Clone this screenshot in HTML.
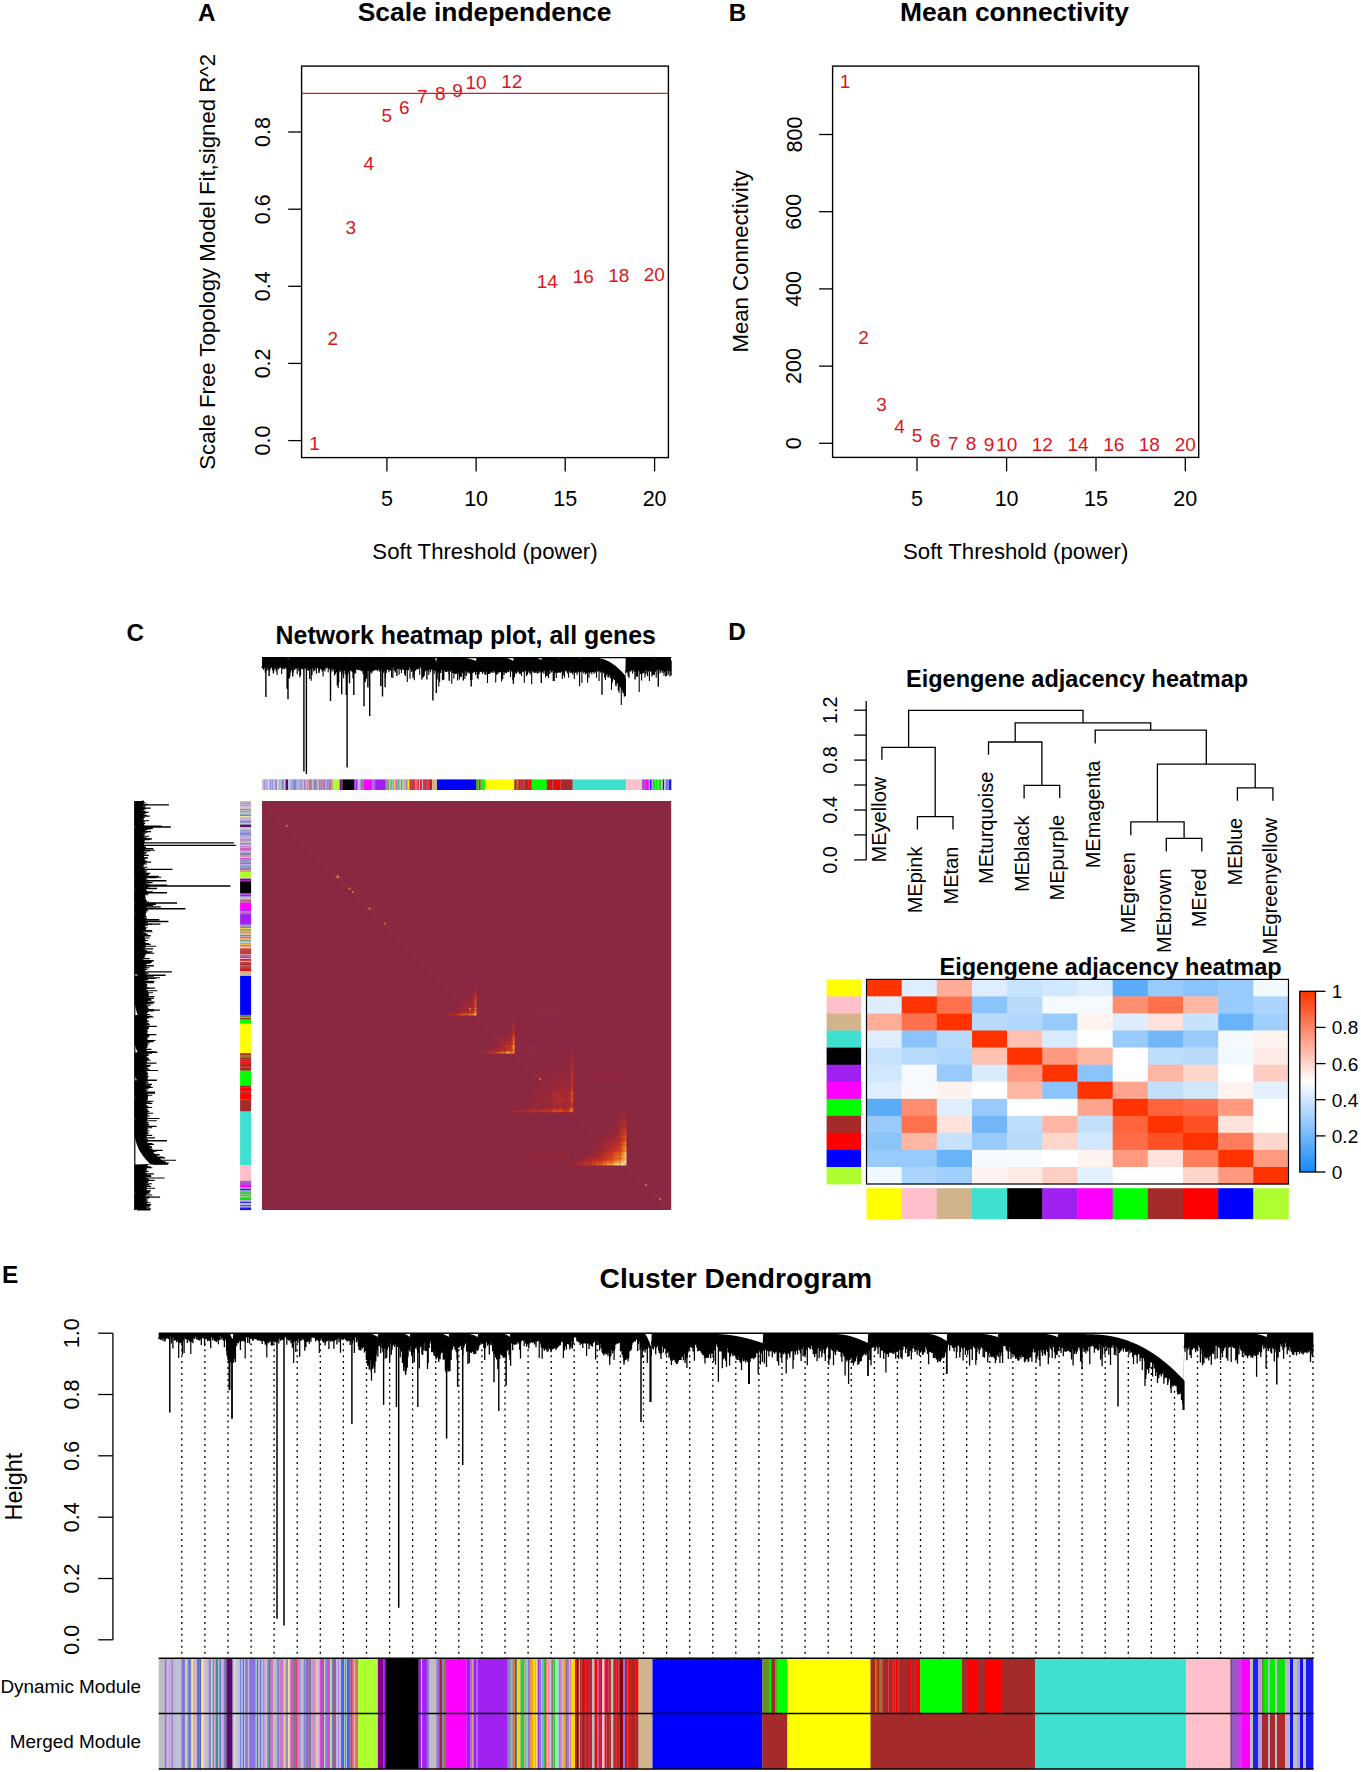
<!DOCTYPE html>
<html><head><meta charset="utf-8"><title>WGCNA figure</title>
<style>
html,body{margin:0;padding:0;background:#fff;}
svg{display:block;}
text{font-family:"Liberation Sans",sans-serif;}
</style></head><body>
<svg width="1361" height="1772" viewBox="0 0 1361 1772">
<rect width="1361" height="1772" fill="#fff"/>
<text x="198" y="20.8" font-size="24.3" font-weight="bold">A</text>
<text x="357.7" y="21.4" font-size="26.4" font-weight="bold">Scale independence</text>
<rect x="301.6" y="66.1" width="366.8" height="391.5" fill="none" stroke="#000" stroke-width="1.4"/>
<line x1="301.6" y1="93.4" x2="668.4" y2="93.4" stroke="#D81C22" stroke-width="1.4"/>
<line x1="288.2" y1="440.6" x2="301.6" y2="440.6" stroke="#000" stroke-width="1.3"/>
<text x="270" y="440.6" font-size="21.5" text-anchor="middle" transform="rotate(-90 270 440.6)">0.0</text>
<line x1="288.2" y1="363.4" x2="301.6" y2="363.4" stroke="#000" stroke-width="1.3"/>
<text x="270" y="363.4" font-size="21.5" text-anchor="middle" transform="rotate(-90 270 363.4)">0.2</text>
<line x1="288.2" y1="286.3" x2="301.6" y2="286.3" stroke="#000" stroke-width="1.3"/>
<text x="270" y="286.3" font-size="21.5" text-anchor="middle" transform="rotate(-90 270 286.3)">0.4</text>
<line x1="288.2" y1="209.2" x2="301.6" y2="209.2" stroke="#000" stroke-width="1.3"/>
<text x="270" y="209.2" font-size="21.5" text-anchor="middle" transform="rotate(-90 270 209.2)">0.6</text>
<line x1="288.2" y1="132" x2="301.6" y2="132" stroke="#000" stroke-width="1.3"/>
<text x="270" y="132" font-size="21.5" text-anchor="middle" transform="rotate(-90 270 132)">0.8</text>
<line x1="386.9" y1="457.6" x2="386.9" y2="471.4" stroke="#000" stroke-width="1.3"/>
<text x="386.9" y="505.5" font-size="21.5" text-anchor="middle">5</text>
<line x1="476.1" y1="457.6" x2="476.1" y2="471.4" stroke="#000" stroke-width="1.3"/>
<text x="476.1" y="505.5" font-size="21.5" text-anchor="middle">10</text>
<line x1="565.2" y1="457.6" x2="565.2" y2="471.4" stroke="#000" stroke-width="1.3"/>
<text x="565.2" y="505.5" font-size="21.5" text-anchor="middle">15</text>
<line x1="654.6" y1="457.6" x2="654.6" y2="471.4" stroke="#000" stroke-width="1.3"/>
<text x="654.6" y="505.5" font-size="21.5" text-anchor="middle">20</text>
<text x="485" y="558.6" font-size="22.2" text-anchor="middle">Soft Threshold (power)</text>
<text x="215.5" y="261.8" font-size="22.2" text-anchor="middle" transform="rotate(-90 215.5 261.8)">Scale Free Topology Model Fit,signed R^2</text>
<text x="309.3" y="450" font-size="19" fill="#DA1420">1</text>
<text x="327.5" y="344.6" font-size="19" fill="#DA1420">2</text>
<text x="345.6" y="233.5" font-size="19" fill="#DA1420">3</text>
<text x="363.6" y="170.2" font-size="19" fill="#DA1420">4</text>
<text x="381.5" y="122.2" font-size="19" fill="#DA1420">5</text>
<text x="399.1" y="113.9" font-size="19" fill="#DA1420">6</text>
<text x="416.9" y="103.2" font-size="19" fill="#DA1420">7</text>
<text x="434.9" y="100.1" font-size="19" fill="#DA1420">8</text>
<text x="452.2" y="97" font-size="19" fill="#DA1420">9</text>
<text x="465.4" y="89.1" font-size="19" fill="#DA1420">10</text>
<text x="501.3" y="88" font-size="19" fill="#DA1420">12</text>
<text x="536.7" y="287.5" font-size="19" fill="#DA1420">14</text>
<text x="572.8" y="283.3" font-size="19" fill="#DA1420">16</text>
<text x="608.3" y="282" font-size="19" fill="#DA1420">18</text>
<text x="643.7" y="281" font-size="19" fill="#DA1420">20</text>
<text x="728.8" y="20.8" font-size="24.3" font-weight="bold">B</text>
<text x="900.1" y="21.4" font-size="26.4" font-weight="bold">Mean connectivity</text>
<rect x="832.6" y="66.1" width="366.1" height="391.3" fill="none" stroke="#000" stroke-width="1.4"/>
<line x1="819.1" y1="443.3" x2="832.6" y2="443.3" stroke="#000" stroke-width="1.3"/>
<text x="801.5" y="443.3" font-size="21.5" text-anchor="middle" transform="rotate(-90 801.5 443.3)">0</text>
<line x1="819.1" y1="366.1" x2="832.6" y2="366.1" stroke="#000" stroke-width="1.3"/>
<text x="801.5" y="366.1" font-size="21.5" text-anchor="middle" transform="rotate(-90 801.5 366.1)">200</text>
<line x1="819.1" y1="288.9" x2="832.6" y2="288.9" stroke="#000" stroke-width="1.3"/>
<text x="801.5" y="288.9" font-size="21.5" text-anchor="middle" transform="rotate(-90 801.5 288.9)">400</text>
<line x1="819.1" y1="211.7" x2="832.6" y2="211.7" stroke="#000" stroke-width="1.3"/>
<text x="801.5" y="211.7" font-size="21.5" text-anchor="middle" transform="rotate(-90 801.5 211.7)">600</text>
<line x1="819.1" y1="134.5" x2="832.6" y2="134.5" stroke="#000" stroke-width="1.3"/>
<text x="801.5" y="134.5" font-size="21.5" text-anchor="middle" transform="rotate(-90 801.5 134.5)">800</text>
<line x1="917" y1="457.4" x2="917" y2="471.3" stroke="#000" stroke-width="1.3"/>
<text x="917" y="505.5" font-size="21.5" text-anchor="middle">5</text>
<line x1="1006.6" y1="457.4" x2="1006.6" y2="471.3" stroke="#000" stroke-width="1.3"/>
<text x="1006.6" y="505.5" font-size="21.5" text-anchor="middle">10</text>
<line x1="1096" y1="457.4" x2="1096" y2="471.3" stroke="#000" stroke-width="1.3"/>
<text x="1096" y="505.5" font-size="21.5" text-anchor="middle">15</text>
<line x1="1185.3" y1="457.4" x2="1185.3" y2="471.3" stroke="#000" stroke-width="1.3"/>
<text x="1185.3" y="505.5" font-size="21.5" text-anchor="middle">20</text>
<text x="1015.7" y="558.6" font-size="22.2" text-anchor="middle">Soft Threshold (power)</text>
<text x="748" y="261.3" font-size="22.2" text-anchor="middle" transform="rotate(-90 748 261.3)">Mean Connectivity</text>
<text x="839.7" y="88" font-size="19" fill="#DA1420">1</text>
<text x="858.2" y="343.6" font-size="19" fill="#DA1420">2</text>
<text x="876.3" y="410.6" font-size="19" fill="#DA1420">3</text>
<text x="894.3" y="433.4" font-size="19" fill="#DA1420">4</text>
<text x="911.7" y="442.1" font-size="19" fill="#DA1420">5</text>
<text x="929.7" y="446.8" font-size="19" fill="#DA1420">6</text>
<text x="947.7" y="449.6" font-size="19" fill="#DA1420">7</text>
<text x="965.7" y="450.2" font-size="19" fill="#DA1420">8</text>
<text x="983.7" y="450.6" font-size="19" fill="#DA1420">9</text>
<text x="996.1" y="450.6" font-size="19" fill="#DA1420">10</text>
<text x="1031.8" y="450.6" font-size="19" fill="#DA1420">12</text>
<text x="1067.4" y="450.6" font-size="19" fill="#DA1420">14</text>
<text x="1103.2" y="450.6" font-size="19" fill="#DA1420">16</text>
<text x="1138.7" y="450.6" font-size="19" fill="#DA1420">18</text>
<text x="1174.7" y="450.6" font-size="19" fill="#DA1420">20</text>
<text x="126.6" y="640.5" font-size="24.3" font-weight="bold">C</text>
<text x="275.6" y="643.7" font-size="24.9" font-weight="bold">Network heatmap plot, all genes</text>
<path d="M262.0 657.4 L262.4 657.4 L262.7 657.4 L263.1 657.4 L263.4 657.4 L263.8 657.4 L264.1 657.4 L264.5 657.4 L264.8 657.4 L265.2 657.4 L265.5 657.4 L265.9 657.4 L266.3 657.4 L266.6 657.4 L267.0 657.4 L267.3 657.4 L267.7 657.4 L268.0 657.4 L268.4 657.4 L268.7 657.4 L269.1 657.4 L269.4 657.4 L269.8 657.4 L270.2 657.4 L270.5 657.4 L270.9 657.4 L271.2 657.4 L271.6 657.4 L271.9 657.4 L272.3 657.4 L272.6 657.4 L273.0 657.4 L273.3 657.4 L273.7 657.4 L274.1 657.4 L274.4 657.4 L274.8 657.4 L275.1 657.4 L275.5 657.4 L275.8 657.4 L276.2 657.4 L276.5 657.4 L276.9 657.4 L277.2 657.4 L277.6 657.4 L277.9 657.4 L278.3 657.4 L278.7 657.4 L279.0 657.4 L279.4 657.4 L279.7 657.4 L280.1 657.4 L280.4 657.4 L280.8 657.4 L281.1 657.4 L281.5 657.4 L281.8 657.4 L282.2 657.4 L282.6 657.4 L282.9 657.4 L283.3 657.4 L283.6 657.4 L284.0 657.4 L284.3 657.4 L284.7 657.4 L285.0 657.4 L285.4 657.4 L285.7 657.4 L286.1 657.4 L286.5 657.4 L286.8 657.4 L287.2 657.4 L287.5 658.0 L287.9 658.8 L288.2 659.6 L288.6 657.4 L288.9 657.4 L289.3 657.4 L289.6 657.4 L290.0 657.4 L290.4 657.4 L290.7 657.4 L291.1 657.4 L291.4 657.4 L291.8 657.4 L292.1 657.4 L292.5 657.4 L292.8 657.4 L293.2 657.4 L293.5 657.4 L293.9 657.4 L294.3 657.4 L294.6 657.4 L295.0 657.4 L295.3 657.4 L295.7 657.4 L296.0 657.4 L296.4 657.4 L296.7 657.4 L297.1 657.4 L297.4 657.4 L297.8 657.4 L298.2 657.4 L298.5 657.4 L298.9 657.4 L299.2 657.4 L299.6 657.4 L299.9 657.4 L300.3 657.4 L300.6 657.4 L301.0 657.4 L301.3 657.4 L301.7 657.4 L302.1 657.4 L302.4 657.4 L302.8 657.4 L303.1 657.4 L303.5 657.4 L303.8 657.4 L304.2 657.4 L304.5 657.4 L304.9 657.4 L305.2 657.4 L305.6 657.4 L306.0 657.4 L306.3 657.4 L306.7 657.4 L307.0 657.4 L307.4 657.4 L307.7 657.4 L308.1 657.4 L308.4 657.4 L308.8 657.4 L309.1 657.4 L309.5 657.4 L309.8 657.4 L310.2 657.4 L310.6 657.4 L310.9 657.4 L311.3 657.4 L311.6 657.4 L312.0 657.4 L312.3 657.4 L312.7 657.4 L313.0 657.4 L313.4 657.4 L313.7 657.4 L314.1 657.4 L314.5 657.4 L314.8 657.4 L315.2 657.4 L315.5 657.4 L315.9 657.4 L316.2 657.4 L316.6 657.4 L316.9 657.4 L317.3 657.4 L317.6 657.4 L318.0 657.4 L318.4 657.4 L318.7 657.4 L319.1 657.4 L319.4 657.4 L319.8 657.4 L320.1 657.4 L320.5 657.4 L320.8 657.4 L321.2 657.4 L321.5 657.4 L321.9 657.4 L322.3 657.4 L322.6 657.4 L323.0 657.4 L323.3 657.4 L323.7 657.4 L324.0 657.4 L324.4 657.4 L324.7 657.4 L325.1 657.4 L325.4 657.4 L325.8 657.4 L326.2 657.4 L326.5 657.4 L326.9 657.4 L327.2 657.4 L327.6 657.4 L327.9 657.4 L328.3 657.4 L328.6 657.4 L329.0 657.4 L329.3 657.4 L329.7 657.4 L330.1 657.4 L330.4 657.4 L330.8 657.4 L331.1 657.4 L331.5 657.4 L331.8 657.4 L332.2 657.4 L332.5 657.4 L332.9 657.4 L333.2 657.4 L333.6 657.4 L334.0 657.4 L334.3 657.4 L334.7 657.4 L335.0 657.4 L335.4 657.4 L335.7 657.4 L336.1 657.4 L336.4 657.4 L336.8 657.4 L337.1 657.4 L337.5 657.4 L337.8 657.4 L338.2 657.6 L338.6 657.8 L338.9 658.0 L339.3 658.2 L339.6 658.5 L340.0 657.4 L340.3 657.4 L340.7 657.4 L341.0 657.4 L341.4 657.4 L341.7 657.4 L342.1 657.4 L342.5 657.4 L342.8 657.4 L343.2 657.4 L343.5 657.4 L343.9 657.4 L344.2 657.4 L344.6 657.4 L344.9 657.4 L345.3 657.4 L345.6 657.4 L346.0 657.4 L346.4 657.4 L346.7 657.4 L347.1 657.4 L347.4 657.4 L347.8 657.4 L348.1 657.4 L348.5 657.4 L348.8 657.4 L349.2 657.4 L349.5 657.5 L349.9 657.6 L350.3 657.9 L350.6 658.2 L351.0 658.5 L351.3 657.4 L351.7 657.4 L352.0 657.4 L352.4 657.4 L352.7 657.4 L353.1 657.4 L353.4 657.4 L353.8 657.4 L354.2 657.4 L354.5 657.4 L354.9 657.4 L355.2 657.4 L355.6 657.4 L355.9 657.4 L356.3 657.4 L356.6 657.4 L357.0 657.4 L357.3 657.4 L357.7 657.4 L358.1 657.4 L358.4 657.4 L358.8 657.4 L359.1 657.4 L359.5 657.4 L359.8 657.4 L360.2 657.4 L360.5 657.4 L360.9 657.4 L361.2 657.4 L361.6 657.4 L362.0 657.4 L362.3 657.4 L362.7 657.4 L363.0 657.4 L363.4 657.6 L363.7 657.8 L364.1 658.0 L364.4 658.2 L364.8 658.5 L365.1 657.4 L365.5 657.4 L365.9 657.4 L366.2 657.4 L366.6 657.4 L366.9 657.4 L367.3 657.4 L367.6 657.4 L368.0 657.4 L368.3 657.4 L368.7 657.4 L369.0 657.4 L369.4 657.4 L369.7 657.4 L370.1 657.4 L370.5 657.4 L370.8 657.4 L371.2 657.4 L371.5 657.4 L371.9 657.4 L372.2 657.4 L372.6 657.4 L372.9 657.5 L373.3 657.6 L373.6 657.8 L374.0 657.9 L374.4 658.1 L374.7 658.3 L375.1 658.5 L375.4 657.4 L375.8 657.4 L376.1 657.4 L376.5 657.4 L376.8 657.4 L377.2 657.4 L377.5 657.4 L377.9 657.4 L378.3 657.4 L378.6 657.4 L379.0 657.4 L379.3 657.4 L379.7 657.4 L380.0 657.4 L380.4 657.4 L380.7 657.4 L381.1 657.4 L381.4 657.4 L381.8 657.4 L382.2 657.4 L382.5 657.4 L382.9 657.4 L383.2 657.4 L383.6 657.4 L383.9 657.4 L384.3 657.4 L384.6 657.4 L385.0 657.5 L385.3 657.6 L385.7 657.9 L386.1 658.2 L386.4 658.5 L386.8 657.4 L387.1 657.4 L387.5 657.4 L387.8 657.4 L388.2 657.4 L388.5 657.4 L388.9 657.4 L389.2 657.4 L389.6 657.4 L390.0 657.4 L390.3 657.4 L390.7 657.4 L391.0 657.4 L391.4 657.4 L391.7 657.4 L392.1 657.4 L392.4 657.4 L392.8 657.4 L393.1 657.4 L393.5 657.4 L393.9 657.4 L394.2 657.4 L394.6 657.4 L394.9 657.4 L395.3 657.4 L395.6 657.4 L396.0 657.4 L396.3 657.4 L396.7 657.4 L397.0 657.4 L397.4 657.4 L397.8 657.4 L398.1 657.4 L398.5 657.4 L398.8 657.4 L399.2 657.4 L399.5 657.4 L399.9 657.4 L400.2 657.4 L400.6 657.4 L400.9 657.4 L401.3 657.4 L401.6 657.4 L402.0 657.4 L402.4 657.4 L402.7 657.4 L403.1 657.4 L403.4 657.4 L403.8 657.4 L404.1 657.4 L404.5 657.4 L404.8 657.4 L405.2 657.4 L405.5 657.4 L405.9 657.4 L406.3 657.4 L406.6 657.4 L407.0 657.4 L407.3 657.4 L407.7 657.4 L408.0 657.4 L408.4 657.4 L408.7 657.4 L409.1 657.4 L409.4 657.4 L409.8 657.4 L410.2 657.4 L410.5 657.4 L410.9 657.4 L411.2 657.4 L411.6 657.4 L411.9 657.4 L412.3 657.4 L412.6 657.4 L413.0 657.4 L413.3 657.4 L413.7 657.4 L414.1 657.4 L414.4 657.4 L414.8 657.4 L415.1 657.4 L415.5 657.4 L415.8 657.4 L416.2 657.4 L416.5 657.4 L416.9 657.4 L417.2 657.4 L417.6 657.4 L418.0 657.4 L418.3 657.4 L418.7 657.4 L419.0 657.4 L419.4 657.4 L419.7 657.4 L420.1 657.4 L420.4 657.4 L420.8 657.4 L421.1 657.4 L421.5 657.4 L421.9 657.4 L422.2 657.4 L422.6 657.4 L422.9 657.4 L423.3 657.4 L423.6 657.4 L424.0 657.4 L424.3 657.4 L424.7 657.4 L425.0 657.4 L425.4 657.4 L425.8 657.4 L426.1 657.4 L426.5 657.4 L426.8 657.4 L427.2 657.4 L427.5 657.4 L427.9 657.4 L428.2 657.4 L428.6 657.4 L428.9 657.4 L429.3 657.4 L429.6 657.4 L430.0 657.4 L430.4 657.4 L430.7 657.4 L431.1 657.4 L431.4 657.4 L431.8 657.4 L432.1 657.4 L432.5 657.4 L432.8 657.4 L433.2 657.4 L433.5 657.4 L433.9 657.4 L434.3 657.4 L434.6 657.6 L435.0 658.3 L435.3 659.0 L435.7 659.9 L436.0 661.0 L436.4 662.1 L436.7 657.4 L437.1 657.4 L437.4 657.4 L437.8 657.4 L438.2 657.4 L438.5 657.4 L438.9 657.4 L439.2 657.4 L439.6 657.4 L439.9 657.4 L440.3 657.4 L440.6 657.4 L441.0 657.4 L441.3 657.4 L441.7 657.4 L442.1 657.4 L442.4 657.4 L442.8 657.4 L443.1 657.4 L443.5 657.4 L443.8 657.4 L444.2 657.4 L444.5 657.4 L444.9 657.4 L445.2 657.4 L445.6 657.4 L446.0 657.4 L446.3 657.4 L446.7 657.4 L447.0 657.4 L447.4 657.4 L447.7 657.4 L448.1 657.4 L448.4 657.4 L448.8 657.4 L449.1 657.4 L449.5 657.4 L449.9 657.4 L450.2 657.4 L450.6 657.4 L450.9 657.4 L451.3 657.4 L451.6 657.4 L452.0 657.4 L452.3 657.4 L452.7 657.4 L453.0 657.4 L453.4 657.4 L453.8 657.4 L454.1 657.4 L454.5 657.4 L454.8 657.4 L455.2 657.4 L455.5 657.4 L455.9 657.4 L456.2 657.4 L456.6 657.4 L456.9 657.4 L457.3 657.4 L457.7 657.4 L458.0 657.4 L458.4 657.4 L458.7 657.4 L459.1 657.4 L459.4 657.4 L459.8 657.4 L460.1 657.4 L460.5 657.4 L460.8 657.4 L461.2 657.4 L461.5 657.4 L461.9 657.5 L462.3 657.5 L462.6 657.5 L463.0 657.5 L463.3 657.6 L463.7 657.6 L464.0 657.7 L464.4 657.7 L464.7 657.8 L465.1 657.8 L465.4 657.9 L465.8 658.0 L466.2 658.0 L466.5 658.1 L466.9 658.2 L467.2 658.2 L467.6 658.3 L467.9 658.4 L468.3 658.5 L468.6 658.6 L469.0 658.7 L469.3 658.7 L469.7 658.8 L470.1 658.9 L470.4 659.0 L470.8 659.1 L471.1 659.2 L471.5 659.4 L471.8 659.5 L472.2 659.6 L472.5 659.7 L472.9 659.8 L473.2 659.9 L473.6 660.0 L474.0 660.2 L474.3 660.3 L474.7 660.4 L475.0 660.6 L475.4 660.7 L475.7 660.8 L476.1 661.0 L476.4 657.4 L476.8 657.4 L477.1 657.4 L477.5 657.4 L477.9 657.4 L478.2 657.4 L478.6 657.4 L478.9 657.4 L479.3 657.4 L479.6 657.4 L480.0 657.4 L480.3 657.4 L480.7 657.4 L481.0 657.4 L481.4 657.4 L481.8 657.4 L482.1 657.4 L482.5 657.4 L482.8 657.4 L483.2 657.4 L483.5 657.4 L483.9 657.4 L484.2 657.4 L484.6 657.4 L484.9 657.4 L485.3 657.4 L485.7 657.4 L486.0 657.4 L486.4 657.4 L486.7 657.4 L487.1 657.4 L487.4 657.4 L487.8 657.4 L488.1 657.4 L488.5 657.4 L488.8 657.4 L489.2 657.4 L489.5 657.4 L489.9 657.4 L490.3 657.4 L490.6 657.4 L491.0 657.4 L491.3 657.4 L491.7 657.4 L492.0 657.4 L492.4 657.4 L492.7 657.4 L493.1 657.4 L493.4 657.4 L493.8 657.4 L494.2 657.4 L494.5 657.4 L494.9 657.4 L495.2 657.4 L495.6 657.4 L495.9 657.4 L496.3 657.4 L496.6 657.4 L497.0 657.4 L497.3 657.4 L497.7 657.4 L498.1 657.4 L498.4 657.4 L498.8 657.4 L499.1 657.4 L499.5 657.4 L499.8 657.4 L500.2 657.4 L500.5 657.4 L500.9 657.4 L501.2 657.4 L501.6 657.4 L502.0 657.4 L502.3 657.4 L502.7 657.4 L503.0 657.4 L503.4 657.4 L503.7 657.5 L504.1 657.5 L504.4 657.6 L504.8 657.6 L505.1 657.7 L505.5 657.8 L505.9 657.8 L506.2 657.9 L506.6 658.0 L506.9 658.1 L507.3 658.2 L507.6 658.3 L508.0 658.5 L508.3 658.6 L508.7 658.7 L509.0 658.9 L509.4 659.0 L509.8 659.2 L510.1 659.3 L510.5 659.5 L510.8 659.6 L511.2 659.8 L511.5 660.0 L511.9 660.2 L512.2 660.4 L512.6 660.5 L512.9 660.7 L513.3 660.9 L513.7 657.4 L514.0 657.4 L514.4 657.4 L514.7 657.4 L515.1 657.4 L515.4 657.4 L515.8 657.4 L516.1 657.4 L516.5 657.4 L516.8 657.4 L517.2 657.4 L517.6 657.4 L517.9 657.4 L518.3 657.4 L518.6 657.4 L519.0 657.4 L519.3 657.4 L519.7 657.4 L520.0 657.4 L520.4 657.4 L520.7 657.4 L521.1 657.4 L521.4 657.4 L521.8 657.4 L522.2 657.4 L522.5 657.4 L522.9 657.4 L523.2 657.4 L523.6 657.4 L523.9 657.4 L524.3 657.4 L524.6 657.4 L525.0 657.4 L525.3 657.4 L525.7 657.4 L526.1 657.4 L526.4 657.4 L526.8 657.4 L527.1 657.4 L527.5 657.4 L527.8 657.4 L528.2 657.4 L528.5 657.4 L528.9 657.4 L529.2 657.4 L529.6 657.4 L530.0 657.4 L530.3 657.4 L530.7 657.4 L531.0 657.4 L531.4 657.4 L531.7 657.4 L532.1 657.4 L532.4 657.4 L532.8 657.4 L533.1 657.4 L533.5 657.4 L533.9 657.4 L534.2 657.4 L534.6 657.4 L534.9 657.4 L535.3 657.4 L535.6 657.4 L536.0 657.5 L536.3 657.5 L536.7 657.6 L537.0 657.8 L537.4 657.9 L537.8 658.0 L538.1 658.2 L538.5 658.4 L538.8 658.5 L539.2 658.7 L539.5 658.9 L539.9 659.2 L540.2 659.4 L540.6 659.6 L540.9 659.9 L541.3 660.1 L541.7 657.4 L542.0 657.4 L542.4 657.4 L542.7 657.4 L543.1 657.4 L543.4 657.4 L543.8 657.4 L544.1 657.4 L544.5 657.4 L544.8 657.4 L545.2 657.4 L545.6 657.4 L545.9 657.4 L546.3 657.4 L546.6 657.4 L547.0 657.4 L547.3 657.4 L547.7 657.4 L548.0 657.4 L548.4 657.4 L548.7 657.4 L549.1 657.4 L549.5 657.4 L549.8 657.4 L550.2 657.4 L550.5 657.4 L550.9 657.4 L551.2 657.4 L551.6 657.4 L551.9 657.4 L552.3 657.4 L552.6 657.4 L553.0 657.4 L553.3 657.4 L553.7 657.4 L554.1 657.4 L554.4 657.4 L554.8 657.4 L555.1 657.4 L555.5 657.5 L555.8 657.5 L556.2 657.6 L556.5 657.7 L556.9 657.7 L557.2 657.8 L557.6 657.9 L558.0 658.1 L558.3 658.2 L558.7 658.3 L559.0 658.4 L559.4 658.6 L559.7 657.4 L560.1 657.4 L560.4 657.4 L560.8 657.4 L561.1 657.4 L561.5 657.4 L561.9 657.4 L562.2 657.4 L562.6 657.4 L562.9 657.4 L563.3 657.4 L563.6 657.4 L564.0 657.4 L564.3 657.4 L564.7 657.4 L565.0 657.4 L565.4 657.4 L565.8 657.4 L566.1 657.4 L566.5 657.4 L566.8 657.4 L567.2 657.4 L567.5 657.4 L567.9 657.4 L568.2 657.4 L568.6 657.4 L568.9 657.4 L569.3 657.4 L569.7 657.4 L570.0 657.4 L570.4 657.4 L570.7 657.4 L571.1 657.4 L571.4 657.4 L571.8 657.4 L572.1 657.4 L572.5 657.4 L572.8 657.4 L573.2 657.4 L573.6 657.4 L573.9 657.4 L574.3 657.4 L574.6 657.4 L575.0 657.4 L575.3 657.4 L575.7 657.4 L576.0 657.4 L576.4 657.4 L576.7 657.4 L577.1 657.4 L577.5 657.5 L577.8 657.5 L578.2 657.6 L578.5 657.7 L578.9 657.8 L579.2 658.0 L579.6 658.1 L579.9 658.2 L580.3 658.4 L580.6 658.6 L581.0 657.4 L581.3 657.4 L581.7 657.4 L582.1 657.4 L582.4 657.4 L582.8 657.4 L583.1 657.4 L583.5 657.4 L583.8 657.4 L584.2 657.4 L584.5 657.4 L584.9 657.4 L585.2 657.4 L585.6 657.4 L586.0 657.4 L586.3 657.4 L586.7 657.4 L587.0 657.4 L587.4 657.4 L587.7 657.4 L588.1 657.4 L588.4 657.4 L588.8 657.4 L589.1 657.4 L589.5 657.4 L589.9 657.4 L590.2 657.4 L590.6 657.4 L590.9 657.4 L591.3 657.4 L591.6 657.4 L592.0 657.4 L592.3 657.4 L592.7 657.4 L593.0 657.4 L593.4 657.5 L593.8 657.5 L594.1 657.5 L594.5 657.5 L594.8 657.5 L595.2 657.6 L595.5 657.6 L595.9 657.6 L596.2 657.7 L596.6 657.7 L596.9 657.8 L597.3 657.8 L597.7 657.9 L598.0 657.9 L598.4 658.0 L598.7 658.0 L599.1 658.1 L599.4 658.2 L599.8 658.2 L600.1 658.3 L600.5 658.4 L600.8 658.5 L601.2 658.6 L601.6 658.7 L601.9 658.8 L602.3 658.9 L602.6 659.0 L603.0 659.1 L603.3 659.2 L603.7 659.3 L604.0 659.4 L604.4 659.6 L604.7 659.7 L605.1 659.8 L605.5 660.0 L605.8 660.1 L606.2 660.3 L606.5 660.4 L606.9 660.6 L607.2 660.7 L607.6 660.9 L607.9 661.1 L608.3 661.3 L608.6 661.4 L609.0 661.6 L609.4 661.8 L609.7 662.0 L610.1 662.2 L610.4 662.4 L610.8 662.6 L611.1 662.8 L611.5 663.1 L611.8 663.3 L612.2 663.5 L612.5 663.7 L612.9 664.0 L613.2 664.2 L613.6 664.5 L614.0 664.7 L614.3 665.0 L614.7 665.3 L615.0 665.5 L615.4 665.8 L615.7 666.1 L616.1 666.4 L616.4 666.7 L616.8 667.0 L617.1 667.3 L617.5 667.6 L617.9 667.9 L618.2 668.2 L618.6 668.5 L618.9 668.8 L619.3 669.2 L619.6 669.5 L620.0 669.9 L620.3 670.2 L620.7 670.6 L621.0 670.9 L621.4 671.3 L621.8 671.7 L622.1 672.0 L622.5 672.4 L622.8 672.8 L623.2 673.2 L623.5 673.6 L623.9 674.0 L624.2 674.4 L624.6 674.8 L624.9 675.2 L625.3 675.7 L625.7 657.4 L626.0 657.4 L626.4 657.4 L626.7 657.4 L627.1 657.4 L627.4 657.4 L627.8 657.4 L628.1 657.4 L628.5 657.4 L628.8 657.4 L629.2 657.4 L629.6 657.4 L629.9 657.4 L630.3 657.4 L630.6 657.4 L631.0 657.4 L631.3 657.4 L631.7 657.4 L632.0 657.4 L632.4 657.4 L632.7 657.4 L633.1 657.4 L633.5 657.4 L633.8 657.4 L634.2 657.4 L634.5 657.4 L634.9 657.4 L635.2 657.4 L635.6 657.4 L635.9 657.4 L636.3 657.4 L636.6 657.4 L637.0 657.4 L637.4 657.4 L637.7 657.4 L638.1 657.4 L638.4 657.4 L638.8 657.4 L639.1 657.4 L639.5 657.4 L639.8 657.4 L640.2 657.4 L640.5 657.4 L640.9 657.4 L641.2 657.4 L641.6 657.4 L642.0 657.4 L642.3 657.4 L642.7 657.4 L643.0 657.4 L643.4 657.4 L643.7 657.4 L644.1 657.4 L644.4 657.4 L644.8 657.4 L645.1 657.4 L645.5 657.4 L645.9 657.4 L646.2 657.4 L646.6 657.4 L646.9 657.4 L647.3 657.4 L647.6 657.4 L648.0 657.4 L648.3 657.4 L648.7 657.4 L649.0 657.4 L649.4 657.4 L649.8 657.4 L650.1 657.4 L650.5 657.4 L650.8 657.4 L651.2 657.4 L651.5 657.4 L651.9 657.5 L652.2 657.6 L652.6 657.7 L652.9 657.8 L653.3 657.9 L653.7 658.1 L654.0 658.2 L654.4 658.4 L654.7 658.5 L655.1 657.4 L655.4 657.4 L655.8 657.4 L656.1 657.4 L656.5 657.4 L656.8 657.4 L657.2 657.4 L657.6 657.4 L657.9 657.4 L658.3 657.4 L658.6 657.4 L659.0 657.4 L659.3 657.4 L659.7 657.4 L660.0 657.4 L660.4 657.4 L660.7 657.4 L661.1 657.4 L661.5 657.4 L661.8 657.4 L662.2 657.4 L662.5 657.4 L662.9 657.4 L663.2 657.4 L663.6 657.4 L663.9 657.4 L664.3 657.4 L664.6 657.4 L665.0 657.4 L665.4 657.4 L665.7 657.4 L666.1 657.4 L666.4 657.4 L666.8 657.4 L667.1 657.4 L667.5 657.4 L667.8 657.4 L668.2 657.4 L668.5 657.4 L668.9 657.4 L669.3 657.4 L669.6 657.4 L670.0 657.4 L670.3 657.4 L670.7 657.4 L671.0 657.4 L671.0 671.0 L670.7 671.1 L670.3 671.4 L670.0 671.1 L669.6 671.1 L669.3 671.2 L668.9 671.2 L668.5 671.5 L668.2 670.6 L667.8 670.4 L667.5 670.7 L667.1 670.3 L666.8 669.7 L666.4 669.6 L666.1 671.0 L665.7 671.0 L665.4 671.5 L665.0 671.5 L664.6 672.0 L664.3 672.5 L663.9 672.9 L663.6 671.5 L663.2 671.1 L662.9 670.2 L662.5 670.3 L662.2 670.6 L661.8 670.7 L661.5 669.8 L661.1 671.5 L660.7 670.7 L660.4 670.4 L660.0 669.5 L659.7 669.5 L659.3 669.2 L659.0 670.8 L658.6 670.7 L658.3 671.8 L657.9 670.2 L657.6 670.6 L657.2 670.3 L656.8 669.3 L656.5 670.0 L656.1 670.8 L655.8 670.7 L655.4 671.2 L655.1 670.8 L654.7 671.3 L654.4 671.3 L654.0 670.3 L653.7 670.8 L653.3 670.0 L652.9 670.7 L652.6 670.9 L652.2 671.0 L651.9 672.3 L651.5 671.8 L651.2 670.7 L650.8 670.5 L650.5 670.8 L650.1 671.5 L649.8 671.1 L649.4 670.2 L649.0 670.1 L648.7 670.4 L648.3 670.4 L648.0 669.2 L647.6 669.4 L647.3 670.0 L646.9 669.9 L646.6 670.3 L646.2 670.7 L645.9 670.6 L645.5 670.8 L645.1 670.6 L644.8 670.8 L644.4 671.4 L644.1 670.8 L643.7 670.0 L643.4 670.9 L643.0 670.8 L642.7 670.4 L642.3 670.4 L642.0 670.7 L641.6 670.7 L641.2 670.5 L640.9 670.2 L640.5 669.9 L640.2 670.6 L639.8 671.5 L639.5 671.3 L639.1 671.7 L638.8 670.9 L638.4 671.0 L638.1 671.1 L637.7 670.1 L637.4 670.5 L637.0 670.9 L636.6 670.6 L636.3 670.9 L635.9 671.0 L635.6 670.8 L635.2 670.5 L634.9 671.1 L634.5 670.2 L634.2 670.0 L633.8 669.7 L633.5 670.0 L633.1 671.3 L632.7 671.2 L632.4 670.6 L632.0 670.1 L631.7 670.2 L631.3 669.4 L631.0 670.1 L630.6 670.2 L630.3 670.7 L629.9 670.7 L629.6 671.4 L629.2 671.5 L628.8 671.5 L628.5 671.3 L628.1 671.0 L627.8 671.6 L627.4 671.2 L627.1 671.6 L626.7 671.2 L626.4 671.1 L626.0 671.7 L625.7 672.3 L625.3 696.3 L624.9 695.5 L624.6 694.8 L624.2 694.1 L623.9 693.4 L623.5 692.8 L623.2 692.1 L622.8 691.5 L622.5 690.8 L622.1 690.2 L621.8 689.6 L621.4 689.0 L621.0 688.4 L620.7 687.9 L620.3 687.3 L620.0 686.8 L619.6 686.2 L619.3 685.7 L618.9 685.2 L618.6 684.7 L618.2 684.2 L617.9 683.8 L617.5 683.3 L617.1 682.8 L616.8 682.4 L616.4 682.0 L616.1 681.5 L615.7 681.1 L615.4 680.7 L615.0 680.3 L614.7 680.0 L614.3 679.6 L614.0 679.2 L613.6 678.9 L613.2 678.5 L612.9 678.2 L612.5 677.8 L612.2 677.5 L611.8 677.2 L611.5 676.9 L611.1 676.6 L610.8 676.3 L610.4 676.0 L610.1 675.7 L609.7 675.5 L609.4 675.2 L609.0 674.9 L608.6 674.7 L608.3 674.5 L607.9 674.2 L607.6 674.0 L607.2 673.8 L606.9 673.6 L606.5 673.4 L606.2 673.2 L605.8 673.0 L605.5 672.8 L605.1 672.6 L604.7 672.4 L604.4 672.3 L604.0 672.1 L603.7 671.9 L603.3 671.8 L603.0 671.6 L602.6 671.7 L602.3 671.5 L601.9 671.2 L601.6 671.1 L601.2 672.3 L600.8 671.5 L600.5 670.8 L600.1 670.7 L599.8 670.8 L599.4 671.5 L599.1 671.6 L598.7 671.8 L598.4 670.9 L598.0 670.7 L597.7 671.3 L597.3 670.6 L596.9 671.8 L596.6 671.7 L596.2 671.3 L595.9 670.9 L595.5 670.5 L595.2 670.9 L594.8 670.9 L594.5 671.6 L594.1 672.4 L593.8 672.4 L593.4 671.4 L593.0 670.7 L592.7 669.5 L592.3 670.4 L592.0 671.0 L591.6 671.9 L591.3 672.0 L590.9 672.0 L590.6 671.7 L590.2 672.1 L589.9 671.8 L589.5 672.0 L589.1 671.6 L588.8 672.3 L588.4 671.2 L588.1 671.4 L587.7 672.6 L587.4 672.6 L587.0 671.5 L586.7 671.7 L586.3 672.0 L586.0 672.5 L585.6 672.9 L585.2 672.8 L584.9 672.5 L584.5 671.9 L584.2 672.0 L583.8 671.9 L583.5 671.5 L583.1 670.9 L582.8 670.9 L582.4 671.2 L582.1 671.2 L581.7 671.4 L581.3 671.3 L581.0 671.0 L580.6 670.7 L580.3 670.1 L579.9 671.4 L579.6 671.5 L579.2 670.4 L578.9 670.8 L578.5 671.1 L578.2 670.5 L577.8 671.7 L577.5 672.7 L577.1 672.5 L576.7 671.8 L576.4 671.7 L576.0 672.1 L575.7 672.8 L575.3 672.4 L575.0 673.5 L574.6 672.7 L574.3 672.2 L573.9 672.2 L573.6 671.7 L573.2 671.7 L572.8 671.6 L572.5 672.0 L572.1 672.7 L571.8 671.6 L571.4 672.5 L571.1 671.2 L570.7 671.2 L570.4 671.8 L570.0 672.2 L569.7 671.5 L569.3 670.9 L568.9 671.6 L568.6 672.4 L568.2 672.6 L567.9 671.7 L567.5 671.5 L567.2 672.1 L566.8 672.1 L566.5 671.5 L566.1 670.5 L565.8 670.7 L565.4 670.9 L565.0 672.0 L564.7 672.1 L564.3 671.5 L564.0 671.6 L563.6 670.9 L563.3 671.6 L562.9 672.1 L562.6 671.4 L562.2 671.3 L561.9 671.1 L561.5 670.7 L561.1 671.8 L560.8 671.7 L560.4 672.6 L560.1 672.7 L559.7 671.9 L559.4 672.1 L559.0 672.1 L558.7 672.9 L558.3 672.3 L558.0 671.6 L557.6 671.3 L557.2 672.4 L556.9 674.0 L556.5 672.6 L556.2 673.4 L555.8 672.6 L555.5 671.4 L555.1 671.7 L554.8 670.8 L554.4 671.8 L554.1 670.7 L553.7 671.2 L553.3 671.7 L553.0 671.5 L552.6 671.5 L552.3 671.0 L551.9 670.9 L551.6 671.0 L551.2 671.6 L550.9 670.8 L550.5 670.5 L550.2 670.2 L549.8 670.8 L549.5 671.0 L549.1 671.7 L548.7 671.9 L548.4 672.3 L548.0 672.0 L547.7 672.0 L547.3 672.1 L547.0 671.5 L546.6 671.1 L546.3 670.7 L545.9 671.7 L545.6 670.1 L545.2 669.9 L544.8 671.0 L544.5 671.0 L544.1 671.4 L543.8 671.2 L543.4 671.5 L543.1 670.8 L542.7 670.5 L542.4 670.9 L542.0 670.4 L541.7 670.3 L541.3 671.0 L540.9 671.9 L540.6 672.6 L540.2 671.6 L539.9 671.2 L539.5 671.1 L539.2 670.8 L538.8 671.2 L538.5 671.6 L538.1 671.3 L537.8 671.5 L537.4 672.1 L537.0 672.0 L536.7 671.0 L536.3 670.7 L536.0 671.6 L535.6 671.7 L535.3 672.0 L534.9 672.7 L534.6 672.4 L534.2 673.1 L533.9 671.7 L533.5 670.8 L533.1 671.2 L532.8 671.5 L532.4 671.0 L532.1 670.5 L531.7 671.5 L531.4 671.4 L531.0 671.4 L530.7 670.6 L530.3 670.5 L530.0 670.9 L529.6 670.8 L529.2 670.9 L528.9 672.6 L528.5 671.7 L528.2 670.6 L527.8 671.1 L527.5 672.0 L527.1 671.4 L526.8 671.7 L526.4 670.3 L526.1 670.7 L525.7 670.5 L525.3 670.9 L525.0 671.4 L524.6 671.8 L524.3 673.5 L523.9 672.5 L523.6 672.3 L523.2 671.8 L522.9 671.9 L522.5 671.2 L522.2 670.8 L521.8 671.8 L521.4 670.9 L521.1 672.0 L520.7 671.9 L520.4 672.6 L520.0 672.8 L519.7 673.3 L519.3 672.7 L519.0 672.3 L518.6 670.8 L518.3 671.1 L517.9 671.1 L517.6 671.5 L517.2 670.8 L516.8 670.6 L516.5 670.1 L516.1 671.0 L515.8 671.2 L515.4 671.6 L515.1 671.6 L514.7 671.4 L514.4 671.2 L514.0 671.6 L513.7 671.3 L513.3 671.9 L512.9 671.7 L512.6 671.4 L512.2 671.9 L511.9 671.1 L511.5 670.7 L511.2 671.3 L510.8 671.3 L510.5 670.8 L510.1 671.5 L509.8 670.1 L509.4 670.2 L509.0 670.3 L508.7 670.6 L508.3 671.2 L508.0 671.5 L507.6 671.4 L507.3 671.6 L506.9 671.8 L506.6 671.8 L506.2 672.5 L505.9 672.4 L505.5 672.5 L505.1 673.2 L504.8 672.3 L504.4 671.7 L504.1 672.5 L503.7 672.1 L503.4 671.6 L503.0 671.8 L502.7 671.3 L502.3 671.2 L502.0 671.5 L501.6 671.8 L501.2 672.0 L500.9 672.3 L500.5 671.8 L500.2 672.0 L499.8 673.0 L499.5 672.4 L499.1 670.5 L498.8 672.2 L498.4 671.9 L498.1 672.5 L497.7 672.3 L497.3 671.4 L497.0 671.2 L496.6 671.4 L496.3 671.9 L495.9 672.1 L495.6 671.3 L495.2 672.1 L494.9 671.1 L494.5 671.5 L494.2 672.4 L493.8 671.1 L493.4 671.0 L493.1 671.6 L492.7 671.7 L492.4 671.8 L492.0 671.7 L491.7 672.0 L491.3 671.2 L491.0 671.4 L490.6 670.9 L490.3 670.4 L489.9 671.2 L489.5 671.6 L489.2 671.4 L488.8 671.1 L488.5 671.5 L488.1 671.2 L487.8 672.1 L487.4 671.5 L487.1 671.8 L486.7 671.5 L486.4 671.8 L486.0 671.4 L485.7 672.5 L485.3 672.4 L484.9 672.8 L484.6 671.9 L484.2 671.5 L483.9 670.9 L483.5 671.5 L483.2 671.6 L482.8 672.8 L482.5 671.9 L482.1 672.0 L481.8 672.6 L481.4 672.1 L481.0 671.6 L480.7 671.8 L480.3 671.7 L480.0 671.0 L479.6 670.5 L479.3 671.1 L478.9 671.2 L478.6 671.0 L478.2 671.7 L477.9 671.9 L477.5 671.6 L477.1 671.6 L476.8 672.0 L476.4 672.5 L476.1 671.9 L475.7 672.9 L475.4 672.0 L475.0 671.5 L474.7 671.7 L474.3 671.2 L474.0 671.5 L473.6 670.9 L473.2 672.1 L472.9 671.2 L472.5 670.9 L472.2 671.2 L471.8 672.1 L471.5 672.3 L471.1 671.8 L470.8 671.7 L470.4 671.9 L470.1 672.0 L469.7 671.9 L469.3 671.9 L469.0 671.9 L468.6 672.1 L468.3 672.4 L467.9 672.4 L467.6 672.0 L467.2 671.5 L466.9 671.6 L466.5 671.4 L466.2 671.1 L465.8 671.1 L465.4 671.5 L465.1 671.9 L464.7 672.3 L464.4 671.4 L464.0 671.6 L463.7 671.2 L463.3 670.4 L463.0 671.4 L462.6 672.3 L462.3 672.4 L461.9 671.2 L461.5 671.8 L461.2 670.4 L460.8 671.1 L460.5 670.5 L460.1 671.3 L459.8 669.9 L459.4 670.8 L459.1 672.6 L458.7 672.9 L458.4 672.9 L458.0 672.2 L457.7 672.6 L457.3 672.5 L456.9 673.1 L456.6 673.6 L456.2 673.1 L455.9 672.8 L455.5 672.8 L455.2 672.2 L454.8 672.9 L454.5 672.8 L454.1 671.9 L453.8 670.2 L453.4 670.6 L453.0 670.3 L452.7 670.2 L452.3 670.0 L452.0 670.4 L451.6 671.0 L451.3 671.0 L450.9 671.4 L450.6 671.3 L450.2 670.3 L449.9 670.4 L449.5 670.1 L449.1 670.8 L448.8 671.1 L448.4 669.5 L448.1 669.9 L447.7 670.8 L447.4 671.8 L447.0 670.8 L446.7 671.6 L446.3 671.5 L446.0 672.0 L445.6 672.1 L445.2 671.2 L444.9 671.2 L444.5 670.7 L444.2 669.9 L443.8 669.2 L443.5 669.5 L443.1 669.7 L442.8 669.2 L442.4 670.2 L442.1 670.0 L441.7 669.3 L441.3 671.1 L441.0 671.2 L440.6 670.9 L440.3 671.0 L439.9 670.8 L439.6 671.6 L439.2 671.2 L438.9 670.8 L438.5 670.3 L438.2 671.2 L437.8 671.1 L437.4 670.0 L437.1 670.2 L436.7 669.9 L436.4 673.3 L436.0 671.9 L435.7 670.7 L435.3 670.2 L435.0 670.7 L434.6 670.1 L434.3 670.7 L433.9 669.7 L433.5 669.6 L433.2 669.5 L432.8 670.9 L432.5 668.6 L432.1 669.5 L431.8 668.7 L431.4 667.6 L431.1 668.6 L430.7 668.4 L430.4 667.8 L430.0 668.6 L429.6 668.8 L429.3 667.8 L428.9 667.8 L428.6 669.3 L428.2 669.6 L427.9 669.3 L427.5 670.0 L427.2 669.9 L426.8 670.2 L426.5 669.8 L426.1 670.0 L425.8 669.8 L425.4 669.7 L425.0 669.7 L424.7 670.0 L424.3 670.1 L424.0 670.1 L423.6 669.8 L423.3 670.3 L422.9 670.2 L422.6 669.3 L422.2 668.4 L421.9 668.8 L421.5 667.3 L421.1 667.4 L420.8 667.1 L420.4 667.0 L420.1 667.4 L419.7 668.9 L419.4 669.5 L419.0 668.6 L418.7 668.4 L418.3 668.2 L418.0 668.8 L417.6 668.7 L417.2 669.2 L416.9 668.9 L416.5 668.9 L416.2 669.0 L415.8 669.8 L415.5 670.2 L415.1 670.8 L414.8 669.5 L414.4 669.4 L414.1 669.7 L413.7 670.1 L413.3 669.8 L413.0 669.5 L412.6 669.3 L412.3 670.2 L411.9 669.9 L411.6 669.6 L411.2 669.1 L410.9 668.9 L410.5 668.0 L410.2 667.6 L409.8 666.9 L409.4 666.9 L409.1 668.1 L408.7 669.0 L408.4 669.1 L408.0 670.7 L407.7 669.3 L407.3 669.4 L407.0 669.8 L406.6 670.0 L406.3 668.4 L405.9 667.9 L405.5 667.9 L405.2 668.0 L404.8 668.8 L404.5 668.9 L404.1 669.1 L403.8 668.8 L403.4 669.9 L403.1 669.8 L402.7 668.8 L402.4 668.4 L402.0 669.8 L401.6 669.7 L401.3 668.6 L400.9 668.4 L400.6 668.9 L400.2 668.7 L399.9 669.1 L399.5 669.1 L399.2 669.1 L398.8 668.9 L398.5 668.9 L398.1 668.6 L397.8 668.7 L397.4 668.6 L397.0 667.2 L396.7 668.2 L396.3 668.9 L396.0 669.4 L395.6 669.2 L395.3 669.4 L394.9 669.5 L394.6 669.0 L394.2 669.4 L393.9 668.2 L393.5 667.3 L393.1 667.5 L392.8 668.4 L392.4 669.0 L392.1 668.9 L391.7 668.6 L391.4 669.0 L391.0 668.5 L390.7 669.2 L390.3 668.9 L390.0 669.1 L389.6 669.1 L389.2 669.0 L388.9 669.8 L388.5 669.9 L388.2 670.0 L387.8 670.1 L387.5 669.5 L387.1 669.3 L386.8 669.4 L386.4 669.4 L386.1 668.8 L385.7 670.1 L385.3 670.5 L385.0 670.4 L384.6 671.0 L384.3 671.1 L383.9 670.7 L383.6 670.6 L383.2 670.6 L382.9 670.8 L382.5 670.0 L382.2 670.2 L381.8 670.3 L381.4 670.3 L381.1 669.7 L380.7 669.0 L380.4 669.5 L380.0 668.9 L379.7 670.0 L379.3 669.2 L379.0 669.1 L378.6 669.7 L378.3 668.7 L377.9 669.7 L377.5 670.1 L377.2 670.4 L376.8 669.7 L376.5 670.0 L376.1 669.8 L375.8 669.4 L375.4 670.0 L375.1 670.0 L374.7 670.7 L374.4 670.1 L374.0 669.7 L373.6 669.8 L373.3 670.7 L372.9 670.9 L372.6 670.4 L372.2 671.4 L371.9 671.8 L371.5 671.3 L371.2 671.3 L370.8 669.9 L370.5 670.4 L370.1 669.3 L369.7 669.9 L369.4 670.4 L369.0 671.0 L368.7 670.1 L368.3 670.4 L368.0 671.2 L367.6 670.8 L367.3 670.8 L366.9 671.1 L366.6 670.2 L366.2 671.4 L365.9 670.0 L365.5 670.2 L365.1 671.2 L364.8 670.9 L364.4 671.3 L364.1 670.2 L363.7 671.0 L363.4 670.9 L363.0 670.6 L362.7 671.2 L362.3 670.6 L362.0 670.5 L361.6 668.8 L361.2 668.9 L360.9 669.9 L360.5 669.2 L360.2 668.2 L359.8 668.8 L359.5 668.6 L359.1 669.4 L358.8 669.6 L358.4 669.2 L358.1 669.8 L357.7 669.9 L357.3 669.7 L357.0 669.8 L356.6 668.8 L356.3 669.4 L355.9 669.8 L355.6 669.7 L355.2 670.6 L354.9 669.9 L354.5 669.8 L354.2 670.3 L353.8 670.2 L353.4 670.7 L353.1 671.5 L352.7 671.8 L352.4 671.3 L352.0 671.2 L351.7 671.0 L351.3 671.1 L351.0 671.3 L350.6 669.7 L350.3 670.2 L349.9 670.5 L349.5 670.6 L349.2 671.1 L348.8 672.5 L348.5 672.7 L348.1 672.6 L347.8 671.3 L347.4 671.9 L347.1 670.6 L346.7 670.7 L346.4 670.5 L346.0 670.1 L345.6 669.7 L345.3 670.0 L344.9 670.5 L344.6 670.0 L344.2 668.7 L343.9 670.2 L343.5 670.7 L343.2 670.0 L342.8 670.6 L342.5 671.0 L342.1 671.0 L341.7 671.4 L341.4 671.1 L341.0 670.2 L340.7 669.6 L340.3 669.7 L340.0 670.5 L339.6 670.1 L339.3 670.7 L338.9 670.7 L338.6 671.5 L338.2 671.5 L337.8 670.2 L337.5 670.0 L337.1 671.1 L336.8 671.3 L336.4 671.8 L336.1 672.3 L335.7 671.9 L335.4 670.2 L335.0 670.1 L334.7 670.5 L334.3 670.1 L334.0 669.4 L333.6 670.3 L333.2 667.8 L332.9 669.1 L332.5 668.3 L332.2 668.3 L331.8 667.4 L331.5 667.7 L331.1 668.6 L330.8 667.8 L330.4 667.0 L330.1 668.9 L329.7 669.2 L329.3 668.6 L329.0 668.5 L328.6 668.1 L328.3 668.3 L327.9 667.8 L327.6 666.9 L327.2 667.7 L326.9 668.0 L326.5 667.7 L326.2 667.4 L325.8 667.6 L325.4 668.0 L325.1 668.1 L324.7 668.6 L324.4 668.9 L324.0 669.0 L323.7 669.1 L323.3 668.5 L323.0 668.7 L322.6 669.1 L322.3 668.3 L321.9 669.0 L321.5 668.9 L321.2 670.0 L320.8 669.1 L320.5 669.2 L320.1 668.2 L319.8 668.0 L319.4 667.3 L319.1 668.4 L318.7 669.1 L318.4 668.7 L318.0 668.1 L317.6 668.3 L317.3 667.7 L316.9 667.0 L316.6 667.0 L316.2 667.4 L315.9 667.5 L315.5 668.2 L315.2 669.3 L314.8 668.9 L314.5 668.5 L314.1 668.7 L313.7 669.2 L313.4 667.9 L313.0 667.7 L312.7 668.2 L312.3 668.8 L312.0 668.4 L311.6 668.1 L311.3 669.0 L310.9 668.9 L310.6 669.2 L310.2 668.3 L309.8 669.2 L309.5 668.6 L309.1 668.8 L308.8 668.9 L308.4 668.6 L308.1 668.0 L307.7 668.4 L307.4 667.8 L307.0 667.0 L306.7 667.3 L306.3 668.0 L306.0 668.1 L305.6 668.3 L305.2 668.2 L304.9 667.8 L304.5 668.5 L304.2 668.1 L303.8 668.8 L303.5 668.9 L303.1 669.3 L302.8 668.9 L302.4 668.6 L302.1 669.8 L301.7 669.3 L301.3 668.5 L301.0 668.6 L300.6 669.7 L300.3 669.8 L299.9 669.4 L299.6 669.6 L299.2 669.0 L298.9 667.9 L298.5 668.1 L298.2 668.0 L297.8 668.4 L297.4 667.7 L297.1 668.1 L296.7 668.1 L296.4 668.0 L296.0 667.5 L295.7 668.2 L295.3 668.5 L295.0 667.9 L294.6 667.4 L294.3 667.4 L293.9 667.2 L293.5 667.8 L293.2 666.5 L292.8 666.8 L292.5 667.7 L292.1 668.7 L291.8 668.8 L291.4 668.7 L291.1 669.4 L290.7 669.3 L290.4 669.0 L290.0 669.9 L289.6 670.2 L289.3 669.6 L288.9 669.3 L288.6 669.5 L288.2 670.2 L287.9 669.2 L287.5 669.4 L287.2 669.2 L286.8 668.5 L286.5 668.4 L286.1 668.6 L285.7 667.8 L285.4 668.0 L285.0 668.2 L284.7 667.7 L284.3 667.0 L284.0 666.8 L283.6 667.8 L283.3 669.0 L282.9 668.7 L282.6 668.8 L282.2 669.3 L281.8 668.5 L281.5 668.0 L281.1 668.4 L280.8 666.8 L280.4 667.6 L280.1 667.5 L279.7 668.3 L279.4 668.4 L279.0 667.7 L278.7 667.9 L278.3 668.5 L277.9 667.8 L277.6 667.2 L277.2 668.6 L276.9 668.3 L276.5 667.9 L276.2 667.8 L275.8 667.7 L275.5 667.9 L275.1 666.7 L274.8 667.6 L274.4 667.6 L274.1 669.1 L273.7 668.9 L273.3 669.7 L273.0 668.6 L272.6 668.6 L272.3 667.9 L271.9 667.9 L271.6 667.5 L271.2 667.0 L270.9 668.6 L270.5 668.8 L270.2 668.8 L269.8 669.5 L269.4 668.8 L269.1 668.8 L268.7 668.7 L268.4 669.0 L268.0 668.4 L267.7 667.7 L267.3 667.3 L267.0 668.1 L266.6 666.8 L266.3 667.1 L265.9 666.3 L265.5 667.2 L265.2 667.5 L264.8 667.5 L264.5 668.2 L264.1 668.6 L263.8 667.4 L263.4 667.5 L263.1 667.7 L262.7 668.5 L262.4 667.6 L262.0 668.0Z" fill="#000"/>
<path d="M262.1 666.2V668.2M263.5 666.6V669.7M265.2 666.0V672.8M266.0 664.9V667.0M266.8 666.2V670.9M268.1 667.7V669.7M269.7 668.0V671.2M271.2 665.5V667.3M272.4 666.6V670.2M274.1 667.6V670.4M275.4 666.4V668.8M276.3 666.4V671.5M277.1 667.0V674.9M278.5 666.6V669.4M280.0 666.0V668.0M281.7 667.4V674.0M282.8 667.1V668.7M284.4 665.5V669.6M286.1 667.1V668.6M286.8 667.0V668.6M288.4 667.4V673.2M289.9 668.3V676.2M290.7 667.8V672.4M291.7 667.3V670.2M293.2 665.0V672.5M294.5 666.2V670.1M295.9 666.7V669.3M297.2 666.5V674.3M298.8 666.4V671.3M299.9 667.9V677.6M300.6 668.2V674.3M302.3 667.1V668.7M303.6 667.9V670.0M304.8 666.3V667.8M306.1 666.6V669.2M307.8 666.9V670.4M308.7 666.7V670.7M310.1 666.8V669.1M311.2 667.5V680.8M312.0 666.9V675.3M313.7 667.7V671.6M314.8 667.4V670.4M316.4 665.6V673.8M317.9 666.6V668.3M319.3 667.1V671.5M320.8 667.6V669.3M322.1 666.9V671.5M323.1 667.3V676.5M324.0 667.5V669.9M325.0 666.6V671.6M326.6 666.2V668.5M328.2 666.8V672.3M329.7 667.7V669.5M330.9 667.0V672.4M331.7 665.3V669.8M332.9 667.6V671.4M334.5 668.6V675.5M335.6 670.4V674.1M336.6 670.4V671.9M338.2 670.0V688.1M339.7 668.4V671.6M341.0 668.7V672.5M342.0 670.3V675.1M343.6 668.6V678.2M344.4 668.1V670.8M345.2 668.5V674.5M346.4 668.4V673.1M347.6 670.4V675.4M348.9 671.0V672.7M350.5 668.2V670.6M352.2 669.2V671.9M352.9 670.6V678.3M354.5 668.3V673.4M355.7 668.2V673.2M356.8 667.4V669.0M358.6 668.4V670.1M359.9 667.3V670.6M360.7 668.3V670.6M361.7 667.8V671.5M363.1 669.1V674.0M364.8 669.4V678.9M366.5 668.7V678.8M367.8 669.4V671.0M369.4 668.9V681.7M370.4 668.9V672.4M371.8 670.3V673.4M373.3 669.2V671.3M374.3 668.6V670.2M375.8 667.9V670.3M376.8 668.2V669.9M377.7 668.4V671.3M379.4 667.7V671.5M380.3 668.0V671.4M381.9 668.8V670.3M383.6 669.1V672.8M385.3 669.0V677.6M386.3 667.6V673.0M387.1 667.8V669.6M388.9 668.3V672.3M389.9 667.6V670.6M390.8 666.8V670.4M391.6 668.5V677.4M392.9 666.9V678.0M394.3 667.9V670.8M395.4 667.7V672.6M397.0 665.7V668.3M397.9 667.0V669.1M399.1 667.6V674.8M400.7 667.5V669.9M401.5 667.8V672.9M403.1 668.3V670.1M404.6 668.2V673.9M406.4 667.4V670.2M407.3 667.9V682.0M408.4 667.6V670.2M410.0 665.5V678.8M410.9 667.4V669.5M411.7 668.2V672.1M413.0 668.0V677.9M414.3 667.9V680.2M415.6 668.1V670.8M417.0 667.2V669.8M418.2 667.2V668.9M419.7 667.4V674.7M420.7 665.6V667.3M421.5 665.8V668.4M422.9 668.7V673.7M424.3 668.6V675.8M425.2 668.5V671.5M426.5 668.3V670.1M427.9 667.8V671.2M428.8 666.8V674.9M429.6 667.3V669.7M430.5 666.7V672.3M431.7 667.2V669.8M433.4 668.0V670.4M434.2 669.2V673.7M435.6 668.6V670.8M437.2 668.7V679.6M438.0 670.1V672.4M438.8 669.3V686.6M439.6 670.1V681.9M440.7 670.3V673.1M442.4 668.7V680.2M443.9 667.7V669.2M445.5 669.9V671.8M446.7 670.1V672.1M448.0 668.4V671.2M449.1 669.3V674.1M450.0 668.5V672.1M451.8 668.8V683.7M452.9 669.0V673.0M453.9 670.2V678.6M455.1 670.7V673.9M456.1 671.8V674.1M457.6 671.1V680.4M459.1 671.1V674.4M460.2 669.8V676.5M461.3 669.6V677.0M462.5 671.0V672.8M463.7 669.7V675.2M464.9 670.9V679.0M466.3 669.7V675.9M468.0 671.4V673.4M469.7 670.4V673.6M470.6 670.4V680.0M472.0 670.6V679.7M473.0 670.1V673.1M474.1 669.8V672.3M475.6 670.7V674.9M477.3 669.8V677.9M478.1 670.5V679.3M479.1 669.7V674.3M479.9 669.5V671.7M481.0 670.1V671.6M482.5 670.4V673.9M483.9 669.4V672.5M484.9 671.3V674.5M485.9 669.9V674.9M487.5 670.9V683.1M488.5 670.0V673.9M489.3 669.6V674.1M490.1 669.4V673.2M491.3 669.7V672.6M492.8 670.2V673.0M494.5 670.0V672.4M495.7 670.3V682.4M496.8 670.6V674.7M498.0 671.0V673.8M499.0 670.4V672.0M500.4 670.6V672.3M501.6 670.3V681.6M502.7 669.8V679.2M504.1 671.0V674.9M505.6 671.0V672.5M506.3 671.0V673.3M508.0 670.0V672.3M508.8 668.8V672.2M510.5 669.3V677.0M512.1 669.9V671.8M512.8 670.1V680.0M514.4 669.7V677.4M515.3 669.6V672.4M516.1 669.5V674.3M516.9 669.1V673.1M518.4 669.3V671.8M519.3 671.2V673.7M520.3 671.1V673.9M521.5 669.4V676.0M523.0 670.2V671.9M524.3 672.0V682.7M525.3 669.4V671.1M526.4 668.8V676.3M527.5 670.5V674.8M529.2 669.4V672.7M530.3 669.0V674.6M531.7 670.0V684.3M533.3 668.9V672.6M534.9 671.2V672.9M536.0 670.1V672.4M537.3 670.1V673.8M538.2 670.4V673.0M539.9 669.7V672.8M541.3 669.5V671.4M542.5 669.1V672.6M543.9 669.7V674.0M545.6 668.6V677.5M546.4 669.0V676.1M547.7 670.5V676.2M548.6 670.3V678.3M549.8 669.3V674.0M551.5 670.2V672.6M553.2 670.4V681.0M554.3 670.0V680.9M555.1 670.2V672.7M556.3 671.1V677.9M557.6 669.8V673.1M559.3 670.7V672.3M560.1 671.2V672.9M561.0 669.8V672.1M562.3 670.0V679.1M563.2 669.8V675.6M564.5 670.5V677.8M566.0 669.0V670.8M567.4 670.2V673.5M568.6 670.9V677.7M570.4 670.3V673.1M571.8 670.1V672.9M572.8 670.1V674.5M574.3 670.7V678.9M576.0 670.6V672.4M577.1 671.0V675.1M578.7 670.0V672.4M579.6 670.0V686.2M580.5 669.0V672.2M581.9 670.3V683.0M582.9 669.3V671.5M583.7 670.4V673.6M585.4 671.8V674.6M586.4 670.7V673.4M587.6 671.1V682.8M589.0 670.9V677.7M590.1 670.6V673.1M591.8 670.3V674.6M592.8 668.0V672.0M594.0 670.9V673.8M595.2 669.4V672.6M596.5 670.2V677.7M597.4 669.1V671.2M598.3 669.4V671.6M599.1 670.1V680.9M600.7 669.5V672.8M601.5 669.6V672.1M603.2 670.3V673.5M604.7 670.9V677.8M605.5 671.3V680.0M606.4 671.9V675.5M607.9 672.7V677.6M608.9 673.3V677.6M610.6 674.6V678.2M611.5 675.4V689.7M612.6 676.5V681.3M613.7 677.5V679.0M614.6 678.5V680.0M615.8 679.8V684.0M617.2 681.3V683.3M618.3 683.0V690.5M619.1 684.0V692.7M619.8 685.0V686.7M621.3 687.5V705.1M623.0 690.3V693.3M624.3 692.6V696.8M625.8 670.2V673.3M627.2 668.9V672.6M628.1 669.5V676.0M629.0 669.2V677.9M630.0 669.2V671.1M630.9 668.9V671.8M632.6 669.3V673.7M634.3 668.4V671.9M635.6 669.3V671.5M636.5 669.7V676.4M637.6 668.9V676.7M639.2 670.2V692.0M640.5 668.4V673.9M641.6 669.2V680.4M642.4 668.9V673.8M643.6 668.8V673.0M644.9 669.3V677.5M646.1 669.5V674.3M647.6 667.9V676.2M648.4 668.9V671.6M649.4 668.7V681.0M650.8 669.0V671.6M651.9 670.8V676.5M652.7 669.3V675.2M653.5 669.3V674.6M654.4 669.8V675.0M655.3 669.6V671.7M656.2 669.3V677.8M657.5 668.2V669.8M658.3 670.3V675.1M660.0 668.0V673.6M660.7 669.2V671.4M662.3 668.9V672.9M664.0 670.5V675.7M665.7 669.5V676.4M666.8 668.2V675.7M668.3 669.1V674.7M670.0 669.6V676.5" stroke="#000" stroke-width="1.1" fill="none"/>
<path d="M265.9 660.4V697.0M269.1 660.4V676.0M273.4 660.4V673.6M288.0 662.0V699.2M287.1 660.4V688.8M289.2 660.4V678.4M292.7 660.4V676.4M300.3 660.4V675.7M303.9 660.4V771.6M306.4 660.4V774.0M309.8 660.4V679.0M318.9 660.4V673.0M330.5 660.4V701.1M337.4 660.4V685.4M338.6 660.8V682.6M341.7 660.4V694.2M346.3 660.4V694.9M347.1 660.4V767.6M349.5 660.5V683.3M353.8 660.4V694.9M364.0 661.0V706.3M365.2 660.4V682.0M367.9 660.4V687.6M369.7 660.4V715.9M380.8 660.4V686.0M382.5 660.4V696.4M385.1 660.5V687.2M396.9 660.4V676.0M405.4 660.4V676.0M413.7 660.4V674.8M421.9 660.4V679.6M423.4 660.4V677.2M426.9 660.4V679.6M432.9 660.4V700.4M436.3 664.8V693.1M443.7 660.4V679.7M449.2 660.4V680.8M459.4 660.4V679.6M463.3 660.6V680.4M471.2 662.3V686.6M513.4 664.0V683.7M541.3 663.1V683.0M602.0 661.8V694.8M625.2 678.6V696.0M635.1 660.4V679.6M658.3 660.4V686.8M671.0 660.4V675.4M616.0 669.3V686.2M611.9 666.4V683.3" stroke="#000" stroke-width="1.4" fill="none"/>
<line x1="262" y1="657.7" x2="671.2" y2="657.7" stroke="#000" stroke-width="1.2"/>
<path d="M134.5 801.0 L134.5 801.4 L134.5 801.7 L134.5 802.1 L134.5 802.4 L134.5 802.8 L134.5 803.1 L134.5 803.5 L134.5 803.8 L134.5 804.2 L134.5 804.5 L134.5 804.9 L134.5 805.3 L134.5 805.6 L134.5 806.0 L134.5 806.3 L134.5 806.7 L134.5 807.0 L134.5 807.4 L134.5 807.7 L134.5 808.1 L134.5 808.4 L134.5 808.8 L134.5 809.1 L134.5 809.5 L134.5 809.9 L134.5 810.2 L134.5 810.6 L134.5 810.9 L134.5 811.3 L134.5 811.6 L134.5 812.0 L134.5 812.3 L134.5 812.7 L134.5 813.0 L134.5 813.4 L134.5 813.8 L134.5 814.1 L134.5 814.5 L134.5 814.8 L134.5 815.2 L134.5 815.5 L134.5 815.9 L134.5 816.2 L134.5 816.6 L134.5 816.9 L134.5 817.3 L134.5 817.7 L134.5 818.0 L134.5 818.4 L134.5 818.7 L134.5 819.1 L134.5 819.4 L134.5 819.8 L134.5 820.1 L134.5 820.5 L134.5 820.8 L134.5 821.2 L134.5 821.5 L134.5 821.9 L134.5 822.3 L134.5 822.6 L134.5 823.0 L134.5 823.3 L134.5 823.7 L134.5 824.0 L134.5 824.4 L134.5 824.7 L134.5 825.1 L134.5 825.4 L134.5 825.8 L134.5 826.2 L135.0 826.5 L135.7 826.9 L136.4 827.2 L134.5 827.6 L134.5 827.9 L134.5 828.3 L134.5 828.6 L134.5 829.0 L134.5 829.3 L134.5 829.7 L134.5 830.0 L134.5 830.4 L134.5 830.8 L134.5 831.1 L134.5 831.5 L134.5 831.8 L134.5 832.2 L134.5 832.5 L134.5 832.9 L134.5 833.2 L134.5 833.6 L134.5 833.9 L134.5 834.3 L134.5 834.7 L134.5 835.0 L134.5 835.4 L134.5 835.7 L134.5 836.1 L134.5 836.4 L134.5 836.8 L134.5 837.1 L134.5 837.5 L134.5 837.8 L134.5 838.2 L134.5 838.6 L134.5 838.9 L134.5 839.3 L134.5 839.6 L134.5 840.0 L134.5 840.3 L134.5 840.7 L134.5 841.0 L134.5 841.4 L134.5 841.7 L134.5 842.1 L134.5 842.4 L134.5 842.8 L134.5 843.2 L134.5 843.5 L134.5 843.9 L134.5 844.2 L134.5 844.6 L134.5 844.9 L134.5 845.3 L134.5 845.6 L134.5 846.0 L134.5 846.3 L134.5 846.7 L134.5 847.1 L134.5 847.4 L134.5 847.8 L134.5 848.1 L134.5 848.5 L134.5 848.8 L134.5 849.2 L134.5 849.5 L134.5 849.9 L134.5 850.2 L134.5 850.6 L134.5 851.0 L134.5 851.3 L134.5 851.7 L134.5 852.0 L134.5 852.4 L134.5 852.7 L134.5 853.1 L134.5 853.4 L134.5 853.8 L134.5 854.1 L134.5 854.5 L134.5 854.8 L134.5 855.2 L134.5 855.6 L134.5 855.9 L134.5 856.3 L134.5 856.6 L134.5 857.0 L134.5 857.3 L134.5 857.7 L134.5 858.0 L134.5 858.4 L134.5 858.7 L134.5 859.1 L134.5 859.5 L134.5 859.8 L134.5 860.2 L134.5 860.5 L134.5 860.9 L134.5 861.2 L134.5 861.6 L134.5 861.9 L134.5 862.3 L134.5 862.6 L134.5 863.0 L134.5 863.4 L134.5 863.7 L134.5 864.1 L134.5 864.4 L134.5 864.8 L134.5 865.1 L134.5 865.5 L134.5 865.8 L134.5 866.2 L134.5 866.5 L134.5 866.9 L134.5 867.2 L134.5 867.6 L134.5 868.0 L134.5 868.3 L134.5 868.7 L134.5 869.0 L134.5 869.4 L134.5 869.7 L134.5 870.1 L134.5 870.4 L134.5 870.8 L134.5 871.1 L134.5 871.5 L134.5 871.9 L134.5 872.2 L134.5 872.6 L134.5 872.9 L134.5 873.3 L134.5 873.6 L134.5 874.0 L134.5 874.3 L134.5 874.7 L134.5 875.0 L134.5 875.4 L134.5 875.8 L134.5 876.1 L134.5 876.5 L134.5 876.8 L134.7 877.2 L134.8 877.5 L135.0 877.9 L135.2 878.2 L135.5 878.6 L134.5 878.9 L134.5 879.3 L134.5 879.6 L134.5 880.0 L134.5 880.4 L134.5 880.7 L134.5 881.1 L134.5 881.4 L134.5 881.8 L134.5 882.1 L134.5 882.5 L134.5 882.8 L134.5 883.2 L134.5 883.5 L134.5 883.9 L134.5 884.3 L134.5 884.6 L134.5 885.0 L134.5 885.3 L134.5 885.7 L134.5 886.0 L134.5 886.4 L134.5 886.7 L134.5 887.1 L134.5 887.4 L134.5 887.8 L134.5 888.1 L134.6 888.5 L134.7 888.9 L134.9 889.2 L135.2 889.6 L135.5 889.9 L134.5 890.3 L134.5 890.6 L134.5 891.0 L134.5 891.3 L134.5 891.7 L134.5 892.0 L134.5 892.4 L134.5 892.8 L134.5 893.1 L134.5 893.5 L134.5 893.8 L134.5 894.2 L134.5 894.5 L134.5 894.9 L134.5 895.2 L134.5 895.6 L134.5 895.9 L134.5 896.3 L134.5 896.7 L134.5 897.0 L134.5 897.4 L134.5 897.7 L134.5 898.1 L134.5 898.4 L134.5 898.8 L134.5 899.1 L134.5 899.5 L134.5 899.8 L134.5 900.2 L134.5 900.5 L134.5 900.9 L134.5 901.3 L134.5 901.6 L134.5 902.0 L134.7 902.3 L134.8 902.7 L135.0 903.0 L135.2 903.4 L135.5 903.7 L134.5 904.1 L134.5 904.4 L134.5 904.8 L134.5 905.2 L134.5 905.5 L134.5 905.9 L134.5 906.2 L134.5 906.6 L134.5 906.9 L134.5 907.3 L134.5 907.6 L134.5 908.0 L134.5 908.3 L134.5 908.7 L134.5 909.1 L134.5 909.4 L134.5 909.8 L134.5 910.1 L134.5 910.5 L134.5 910.8 L134.5 911.2 L134.5 911.5 L134.6 911.9 L134.7 912.2 L134.8 912.6 L135.0 912.9 L135.1 913.3 L135.3 913.7 L135.5 914.0 L134.5 914.4 L134.5 914.7 L134.5 915.1 L134.5 915.4 L134.5 915.8 L134.5 916.1 L134.5 916.5 L134.5 916.8 L134.5 917.2 L134.5 917.6 L134.5 917.9 L134.5 918.3 L134.5 918.6 L134.5 919.0 L134.5 919.3 L134.5 919.7 L134.5 920.0 L134.5 920.4 L134.5 920.7 L134.5 921.1 L134.5 921.5 L134.5 921.8 L134.5 922.2 L134.5 922.5 L134.5 922.9 L134.5 923.2 L134.5 923.6 L134.6 923.9 L134.7 924.3 L134.9 924.6 L135.2 925.0 L135.5 925.3 L134.5 925.7 L134.5 926.1 L134.5 926.4 L134.5 926.8 L134.5 927.1 L134.5 927.5 L134.5 927.8 L134.5 928.2 L134.5 928.5 L134.5 928.9 L134.5 929.2 L134.5 929.6 L134.5 930.0 L134.5 930.3 L134.5 930.7 L134.5 931.0 L134.5 931.4 L134.5 931.7 L134.5 932.1 L134.5 932.4 L134.5 932.8 L134.5 933.1 L134.5 933.5 L134.5 933.8 L134.5 934.2 L134.5 934.6 L134.5 934.9 L134.5 935.3 L134.5 935.6 L134.5 936.0 L134.5 936.3 L134.5 936.7 L134.5 937.0 L134.5 937.4 L134.5 937.7 L134.5 938.1 L134.5 938.5 L134.5 938.8 L134.5 939.2 L134.5 939.5 L134.5 939.9 L134.5 940.2 L134.5 940.6 L134.5 940.9 L134.5 941.3 L134.5 941.6 L134.5 942.0 L134.5 942.4 L134.5 942.7 L134.5 943.1 L134.5 943.4 L134.5 943.8 L134.5 944.1 L134.5 944.5 L134.5 944.8 L134.5 945.2 L134.5 945.5 L134.5 945.9 L134.5 946.2 L134.5 946.6 L134.5 947.0 L134.5 947.3 L134.5 947.7 L134.5 948.0 L134.5 948.4 L134.5 948.7 L134.5 949.1 L134.5 949.4 L134.5 949.8 L134.5 950.1 L134.5 950.5 L134.5 950.9 L134.5 951.2 L134.5 951.6 L134.5 951.9 L134.5 952.3 L134.5 952.6 L134.5 953.0 L134.5 953.3 L134.5 953.7 L134.5 954.0 L134.5 954.4 L134.5 954.8 L134.5 955.1 L134.5 955.5 L134.5 955.8 L134.5 956.2 L134.5 956.5 L134.5 956.9 L134.5 957.2 L134.5 957.6 L134.5 957.9 L134.5 958.3 L134.5 958.6 L134.5 959.0 L134.5 959.4 L134.5 959.7 L134.5 960.1 L134.5 960.4 L134.5 960.8 L134.5 961.1 L134.5 961.5 L134.5 961.8 L134.5 962.2 L134.5 962.5 L134.5 962.9 L134.5 963.3 L134.5 963.6 L134.5 964.0 L134.5 964.3 L134.5 964.7 L134.5 965.0 L134.5 965.4 L134.5 965.7 L134.5 966.1 L134.5 966.4 L134.5 966.8 L134.5 967.2 L134.5 967.5 L134.5 967.9 L134.5 968.2 L134.5 968.6 L134.5 968.9 L134.5 969.3 L134.5 969.6 L134.5 970.0 L134.5 970.3 L134.5 970.7 L134.5 971.0 L134.5 971.4 L134.5 971.8 L134.5 972.1 L134.5 972.5 L134.5 972.8 L134.5 973.2 L134.7 973.5 L135.2 973.9 L135.9 974.2 L136.7 974.6 L137.6 974.9 L138.6 975.3 L134.5 975.7 L134.5 976.0 L134.5 976.4 L134.5 976.7 L134.5 977.1 L134.5 977.4 L134.5 977.8 L134.5 978.1 L134.5 978.5 L134.5 978.8 L134.5 979.2 L134.5 979.6 L134.5 979.9 L134.5 980.3 L134.5 980.6 L134.5 981.0 L134.5 981.3 L134.5 981.7 L134.5 982.0 L134.5 982.4 L134.5 982.7 L134.5 983.1 L134.5 983.4 L134.5 983.8 L134.5 984.2 L134.5 984.5 L134.5 984.9 L134.5 985.2 L134.5 985.6 L134.5 985.9 L134.5 986.3 L134.5 986.6 L134.5 987.0 L134.5 987.3 L134.5 987.7 L134.5 988.1 L134.5 988.4 L134.5 988.8 L134.5 989.1 L134.5 989.5 L134.5 989.8 L134.5 990.2 L134.5 990.5 L134.5 990.9 L134.5 991.2 L134.5 991.6 L134.5 991.9 L134.5 992.3 L134.5 992.7 L134.5 993.0 L134.5 993.4 L134.5 993.7 L134.5 994.1 L134.5 994.4 L134.5 994.8 L134.5 995.1 L134.5 995.5 L134.5 995.8 L134.5 996.2 L134.5 996.6 L134.5 996.9 L134.5 997.3 L134.5 997.6 L134.5 998.0 L134.5 998.3 L134.5 998.7 L134.5 999.0 L134.5 999.4 L134.5 999.7 L134.5 1000.1 L134.5 1000.5 L134.5 1000.8 L134.6 1001.2 L134.6 1001.5 L134.6 1001.9 L134.7 1002.2 L134.7 1002.6 L134.7 1002.9 L134.8 1003.3 L134.8 1003.6 L134.9 1004.0 L134.9 1004.3 L135.0 1004.7 L135.0 1005.1 L135.1 1005.4 L135.2 1005.8 L135.2 1006.1 L135.3 1006.5 L135.4 1006.8 L135.4 1007.2 L135.5 1007.5 L135.6 1007.9 L135.7 1008.2 L135.8 1008.6 L135.8 1009.0 L135.9 1009.3 L136.0 1009.7 L136.1 1010.0 L136.2 1010.4 L136.3 1010.7 L136.4 1011.1 L136.5 1011.4 L136.6 1011.8 L136.7 1012.1 L136.8 1012.5 L136.9 1012.9 L137.0 1013.2 L137.1 1013.6 L137.2 1013.9 L137.4 1014.3 L137.5 1014.6 L137.6 1015.0 L134.5 1015.3 L134.5 1015.7 L134.5 1016.0 L134.5 1016.4 L134.5 1016.7 L134.5 1017.1 L134.5 1017.5 L134.5 1017.8 L134.5 1018.2 L134.5 1018.5 L134.5 1018.9 L134.5 1019.2 L134.5 1019.6 L134.5 1019.9 L134.5 1020.3 L134.5 1020.6 L134.5 1021.0 L134.5 1021.4 L134.5 1021.7 L134.5 1022.1 L134.5 1022.4 L134.5 1022.8 L134.5 1023.1 L134.5 1023.5 L134.5 1023.8 L134.5 1024.2 L134.5 1024.5 L134.5 1024.9 L134.5 1025.3 L134.5 1025.6 L134.5 1026.0 L134.5 1026.3 L134.5 1026.7 L134.5 1027.0 L134.5 1027.4 L134.5 1027.7 L134.5 1028.1 L134.5 1028.4 L134.5 1028.8 L134.5 1029.1 L134.5 1029.5 L134.5 1029.9 L134.5 1030.2 L134.5 1030.6 L134.5 1030.9 L134.5 1031.3 L134.5 1031.6 L134.5 1032.0 L134.5 1032.3 L134.5 1032.7 L134.5 1033.0 L134.5 1033.4 L134.5 1033.8 L134.5 1034.1 L134.5 1034.5 L134.5 1034.8 L134.5 1035.2 L134.5 1035.5 L134.5 1035.9 L134.5 1036.2 L134.5 1036.6 L134.5 1036.9 L134.5 1037.3 L134.5 1037.6 L134.5 1038.0 L134.5 1038.4 L134.5 1038.7 L134.5 1039.1 L134.5 1039.4 L134.5 1039.8 L134.5 1040.1 L134.5 1040.5 L134.5 1040.8 L134.5 1041.2 L134.5 1041.5 L134.5 1041.9 L134.5 1042.3 L134.6 1042.6 L134.6 1043.0 L134.6 1043.3 L134.7 1043.7 L134.7 1044.0 L134.8 1044.4 L134.9 1044.7 L135.0 1045.1 L135.0 1045.4 L135.1 1045.8 L135.2 1046.2 L135.3 1046.5 L135.4 1046.9 L135.5 1047.2 L135.7 1047.6 L135.8 1047.9 L135.9 1048.3 L136.0 1048.6 L136.2 1049.0 L136.3 1049.3 L136.4 1049.7 L136.6 1050.0 L136.8 1050.4 L136.9 1050.8 L137.1 1051.1 L137.2 1051.5 L137.4 1051.8 L137.6 1052.2 L134.5 1052.5 L134.5 1052.9 L134.5 1053.2 L134.5 1053.6 L134.5 1053.9 L134.5 1054.3 L134.5 1054.7 L134.5 1055.0 L134.5 1055.4 L134.5 1055.7 L134.5 1056.1 L134.5 1056.4 L134.5 1056.8 L134.5 1057.1 L134.5 1057.5 L134.5 1057.8 L134.5 1058.2 L134.5 1058.6 L134.5 1058.9 L134.5 1059.3 L134.5 1059.6 L134.5 1060.0 L134.5 1060.3 L134.5 1060.7 L134.5 1061.0 L134.5 1061.4 L134.5 1061.7 L134.5 1062.1 L134.5 1062.4 L134.5 1062.8 L134.5 1063.2 L134.5 1063.5 L134.5 1063.9 L134.5 1064.2 L134.5 1064.6 L134.5 1064.9 L134.5 1065.3 L134.5 1065.6 L134.5 1066.0 L134.5 1066.3 L134.5 1066.7 L134.5 1067.1 L134.5 1067.4 L134.5 1067.8 L134.5 1068.1 L134.5 1068.5 L134.5 1068.8 L134.5 1069.2 L134.5 1069.5 L134.5 1069.9 L134.5 1070.2 L134.5 1070.6 L134.5 1071.0 L134.5 1071.3 L134.5 1071.7 L134.5 1072.0 L134.5 1072.4 L134.5 1072.7 L134.5 1073.1 L134.5 1073.4 L134.5 1073.8 L134.5 1074.1 L134.5 1074.5 L134.6 1074.8 L134.6 1075.2 L134.7 1075.6 L134.8 1075.9 L134.9 1076.3 L135.0 1076.6 L135.2 1077.0 L135.3 1077.3 L135.5 1077.7 L135.7 1078.0 L135.8 1078.4 L136.0 1078.7 L136.2 1079.1 L136.4 1079.5 L136.6 1079.8 L136.9 1080.2 L134.5 1080.5 L134.5 1080.9 L134.5 1081.2 L134.5 1081.6 L134.5 1081.9 L134.5 1082.3 L134.5 1082.6 L134.5 1083.0 L134.5 1083.3 L134.5 1083.7 L134.5 1084.1 L134.5 1084.4 L134.5 1084.8 L134.5 1085.1 L134.5 1085.5 L134.5 1085.8 L134.5 1086.2 L134.5 1086.5 L134.5 1086.9 L134.5 1087.2 L134.5 1087.6 L134.5 1088.0 L134.5 1088.3 L134.5 1088.7 L134.5 1089.0 L134.5 1089.4 L134.5 1089.7 L134.5 1090.1 L134.5 1090.4 L134.5 1090.8 L134.5 1091.1 L134.5 1091.5 L134.5 1091.9 L134.5 1092.2 L134.5 1092.6 L134.5 1092.9 L134.5 1093.3 L134.5 1093.6 L134.5 1094.0 L134.5 1094.3 L134.6 1094.7 L134.7 1095.0 L134.7 1095.4 L134.8 1095.7 L134.9 1096.1 L135.0 1096.5 L135.1 1096.8 L135.2 1097.2 L135.3 1097.5 L135.4 1097.9 L135.5 1098.2 L134.5 1098.6 L134.5 1098.9 L134.5 1099.3 L134.5 1099.6 L134.5 1100.0 L134.5 1100.4 L134.5 1100.7 L134.5 1101.1 L134.5 1101.4 L134.5 1101.8 L134.5 1102.1 L134.5 1102.5 L134.5 1102.8 L134.5 1103.2 L134.5 1103.5 L134.5 1103.9 L134.5 1104.3 L134.5 1104.6 L134.5 1105.0 L134.5 1105.3 L134.5 1105.7 L134.5 1106.0 L134.5 1106.4 L134.5 1106.7 L134.5 1107.1 L134.5 1107.4 L134.5 1107.8 L134.5 1108.1 L134.5 1108.5 L134.5 1108.9 L134.5 1109.2 L134.5 1109.6 L134.5 1109.9 L134.5 1110.3 L134.5 1110.6 L134.5 1111.0 L134.5 1111.3 L134.5 1111.7 L134.5 1112.0 L134.5 1112.4 L134.5 1112.8 L134.5 1113.1 L134.5 1113.5 L134.5 1113.8 L134.5 1114.2 L134.5 1114.5 L134.5 1114.9 L134.5 1115.2 L134.5 1115.6 L134.5 1115.9 L134.6 1116.3 L134.6 1116.7 L134.7 1117.0 L134.8 1117.4 L134.9 1117.7 L135.0 1118.1 L135.1 1118.4 L135.2 1118.8 L135.4 1119.1 L135.5 1119.5 L134.5 1119.8 L134.5 1120.2 L134.5 1120.5 L134.5 1120.9 L134.5 1121.3 L134.5 1121.6 L134.5 1122.0 L134.5 1122.3 L134.5 1122.7 L134.5 1123.0 L134.5 1123.4 L134.5 1123.7 L134.5 1124.1 L134.5 1124.4 L134.5 1124.8 L134.5 1125.2 L134.5 1125.5 L134.5 1125.9 L134.5 1126.2 L134.5 1126.6 L134.5 1126.9 L134.5 1127.3 L134.5 1127.6 L134.5 1128.0 L134.5 1128.3 L134.5 1128.7 L134.5 1129.1 L134.5 1129.4 L134.5 1129.8 L134.5 1130.1 L134.5 1130.5 L134.5 1130.8 L134.5 1131.2 L134.5 1131.5 L134.5 1131.9 L134.5 1132.2 L134.6 1132.6 L134.6 1132.9 L134.6 1133.3 L134.6 1133.7 L134.6 1134.0 L134.7 1134.4 L134.7 1134.7 L134.7 1135.1 L134.8 1135.4 L134.8 1135.8 L134.9 1136.1 L134.9 1136.5 L134.9 1136.8 L135.0 1137.2 L135.1 1137.6 L135.1 1137.9 L135.2 1138.3 L135.2 1138.6 L135.3 1139.0 L135.4 1139.3 L135.4 1139.7 L135.5 1140.0 L135.6 1140.4 L135.7 1140.7 L135.8 1141.1 L135.9 1141.4 L136.0 1141.8 L136.1 1142.2 L136.2 1142.5 L136.3 1142.9 L136.4 1143.2 L136.5 1143.6 L136.6 1143.9 L136.7 1144.3 L136.9 1144.6 L137.0 1145.0 L137.1 1145.3 L137.3 1145.7 L137.4 1146.1 L137.6 1146.4 L137.7 1146.8 L137.9 1147.1 L138.0 1147.5 L138.2 1147.8 L138.3 1148.2 L138.5 1148.5 L138.7 1148.9 L138.9 1149.2 L139.0 1149.6 L139.2 1150.0 L139.4 1150.3 L139.6 1150.7 L139.8 1151.0 L140.0 1151.4 L140.2 1151.7 L140.4 1152.1 L140.7 1152.4 L140.9 1152.8 L141.1 1153.1 L141.3 1153.5 L141.6 1153.8 L141.8 1154.2 L142.1 1154.6 L142.3 1154.9 L142.6 1155.3 L142.8 1155.6 L143.1 1156.0 L143.3 1156.3 L143.6 1156.7 L143.9 1157.0 L144.2 1157.4 L144.5 1157.7 L144.7 1158.1 L145.0 1158.5 L145.3 1158.8 L145.6 1159.2 L145.9 1159.5 L146.3 1159.9 L146.6 1160.2 L146.9 1160.6 L147.2 1160.9 L147.6 1161.3 L147.9 1161.6 L148.2 1162.0 L148.6 1162.4 L148.9 1162.7 L149.3 1163.1 L149.7 1163.4 L150.0 1163.8 L150.4 1164.1 L134.5 1164.5 L134.5 1164.8 L134.5 1165.2 L134.5 1165.5 L134.5 1165.9 L134.5 1166.2 L134.5 1166.6 L134.5 1167.0 L134.5 1167.3 L134.5 1167.7 L134.5 1168.0 L134.5 1168.4 L134.5 1168.7 L134.5 1169.1 L134.5 1169.4 L134.5 1169.8 L134.5 1170.1 L134.5 1170.5 L134.5 1170.9 L134.5 1171.2 L134.5 1171.6 L134.5 1171.9 L134.5 1172.3 L134.5 1172.6 L134.5 1173.0 L134.5 1173.3 L134.5 1173.7 L134.5 1174.0 L134.5 1174.4 L134.5 1174.8 L134.5 1175.1 L134.5 1175.5 L134.5 1175.8 L134.5 1176.2 L134.5 1176.5 L134.5 1176.9 L134.5 1177.2 L134.5 1177.6 L134.5 1177.9 L134.5 1178.3 L134.5 1178.6 L134.5 1179.0 L134.5 1179.4 L134.5 1179.7 L134.5 1180.1 L134.5 1180.4 L134.5 1180.8 L134.5 1181.1 L134.5 1181.5 L134.5 1181.8 L134.5 1182.2 L134.5 1182.5 L134.5 1182.9 L134.5 1183.3 L134.5 1183.6 L134.5 1184.0 L134.5 1184.3 L134.5 1184.7 L134.5 1185.0 L134.5 1185.4 L134.5 1185.7 L134.5 1186.1 L134.5 1186.4 L134.5 1186.8 L134.5 1187.1 L134.5 1187.5 L134.5 1187.9 L134.5 1188.2 L134.5 1188.6 L134.5 1188.9 L134.5 1189.3 L134.5 1189.6 L134.5 1190.0 L134.5 1190.3 L134.6 1190.7 L134.6 1191.0 L134.7 1191.4 L134.8 1191.8 L134.9 1192.1 L135.1 1192.5 L135.2 1192.8 L135.3 1193.2 L135.5 1193.5 L134.5 1193.9 L134.5 1194.2 L134.5 1194.6 L134.5 1194.9 L134.5 1195.3 L134.5 1195.7 L134.5 1196.0 L134.5 1196.4 L134.5 1196.7 L134.5 1197.1 L134.5 1197.4 L134.5 1197.8 L134.5 1198.1 L134.5 1198.5 L134.5 1198.8 L134.5 1199.2 L134.5 1199.5 L134.5 1199.9 L134.5 1200.3 L134.5 1200.6 L134.5 1201.0 L134.5 1201.3 L134.5 1201.7 L134.5 1202.0 L134.5 1202.4 L134.5 1202.7 L134.5 1203.1 L134.5 1203.4 L134.5 1203.8 L134.5 1204.2 L134.5 1204.5 L134.5 1204.9 L134.5 1205.2 L134.5 1205.6 L134.5 1205.9 L134.5 1206.3 L134.5 1206.6 L134.5 1207.0 L134.5 1207.3 L134.5 1207.7 L134.5 1208.1 L134.5 1208.4 L134.5 1208.8 L134.5 1209.1 L134.5 1209.5 L134.5 1209.8 L146.3 1209.8 L146.4 1209.5 L146.7 1209.1 L146.4 1208.8 L146.4 1208.4 L146.5 1208.1 L146.5 1207.7 L146.8 1207.3 L146.0 1207.0 L145.8 1206.6 L146.0 1206.3 L145.7 1205.9 L145.2 1205.6 L145.1 1205.2 L146.4 1204.9 L146.4 1204.5 L146.8 1204.2 L146.7 1203.8 L147.2 1203.4 L147.6 1203.1 L148.0 1202.7 L146.8 1202.4 L146.4 1202.0 L145.6 1201.7 L145.7 1201.3 L146.0 1201.0 L146.1 1200.6 L145.3 1200.3 L146.7 1199.9 L146.0 1199.5 L145.8 1199.2 L145.1 1198.8 L145.0 1198.5 L144.8 1198.1 L146.1 1197.8 L146.0 1197.4 L147.1 1197.1 L145.6 1196.7 L146.0 1196.4 L145.7 1196.0 L144.9 1195.7 L145.5 1195.3 L146.2 1194.9 L146.1 1194.6 L146.5 1194.2 L146.2 1193.9 L146.6 1193.5 L146.6 1193.2 L145.7 1192.8 L146.1 1192.5 L145.4 1192.1 L146.1 1191.8 L146.2 1191.4 L146.3 1191.0 L147.5 1190.7 L147.1 1190.3 L146.1 1190.0 L145.9 1189.6 L146.1 1189.3 L146.7 1188.9 L146.4 1188.6 L145.7 1188.2 L145.5 1187.9 L145.8 1187.5 L145.8 1187.1 L144.8 1186.8 L144.9 1186.4 L145.5 1186.1 L145.4 1185.7 L145.7 1185.4 L146.1 1185.0 L145.9 1184.7 L146.2 1184.3 L146.0 1184.0 L146.1 1183.6 L146.6 1183.3 L146.2 1182.9 L145.5 1182.5 L146.2 1182.2 L146.1 1181.8 L145.8 1181.5 L145.8 1181.1 L146.0 1180.8 L146.1 1180.4 L145.9 1180.1 L145.6 1179.7 L145.4 1179.4 L146.0 1179.0 L146.8 1178.6 L146.6 1178.3 L147.0 1177.9 L146.2 1177.6 L146.4 1177.2 L146.4 1176.9 L145.5 1176.5 L145.9 1176.2 L146.3 1175.8 L146.0 1175.5 L146.2 1175.1 L146.3 1174.8 L146.2 1174.4 L145.9 1174.0 L146.4 1173.7 L145.6 1173.3 L145.5 1173.0 L145.2 1172.6 L145.5 1172.3 L146.6 1171.9 L146.5 1171.6 L146.0 1171.2 L145.5 1170.9 L145.6 1170.5 L144.9 1170.1 L145.6 1169.8 L145.7 1169.4 L146.1 1169.1 L146.1 1168.7 L146.7 1168.4 L146.8 1168.0 L146.8 1167.7 L146.6 1167.3 L146.4 1167.0 L146.8 1166.6 L146.5 1166.2 L146.8 1165.9 L146.5 1165.5 L146.4 1165.2 L146.9 1164.8 L147.5 1164.5 L168.3 1164.1 L167.7 1163.8 L167.1 1163.4 L166.5 1163.1 L165.9 1162.7 L165.3 1162.4 L164.7 1162.0 L164.1 1161.6 L163.6 1161.3 L163.1 1160.9 L162.5 1160.6 L162.0 1160.2 L161.5 1159.9 L161.0 1159.5 L160.5 1159.2 L160.1 1158.8 L159.6 1158.5 L159.1 1158.1 L158.7 1157.7 L158.3 1157.4 L157.8 1157.0 L157.4 1156.7 L157.0 1156.3 L156.6 1156.0 L156.3 1155.6 L155.9 1155.3 L155.5 1154.9 L155.1 1154.6 L154.8 1154.2 L154.5 1153.8 L154.1 1153.5 L153.8 1153.1 L153.5 1152.8 L153.2 1152.4 L152.9 1152.1 L152.6 1151.7 L152.3 1151.4 L152.0 1151.0 L151.7 1150.7 L151.5 1150.3 L151.2 1150.0 L150.9 1149.6 L150.7 1149.2 L150.4 1148.9 L150.2 1148.5 L150.0 1148.2 L149.8 1147.8 L149.6 1147.5 L149.3 1147.1 L149.1 1146.8 L148.9 1146.4 L148.8 1146.1 L148.6 1145.7 L148.4 1145.3 L148.2 1145.0 L148.0 1144.6 L147.9 1144.3 L147.7 1143.9 L147.6 1143.6 L147.4 1143.2 L147.3 1142.9 L147.1 1142.5 L147.0 1142.2 L146.9 1141.8 L146.9 1141.4 L146.8 1141.1 L146.5 1140.7 L146.4 1140.4 L147.4 1140.0 L146.8 1139.7 L146.1 1139.3 L146.0 1139.0 L146.2 1138.6 L146.7 1138.3 L146.9 1137.9 L147.1 1137.6 L146.2 1137.2 L146.1 1136.8 L146.6 1136.5 L146.0 1136.1 L147.0 1135.8 L146.9 1135.4 L146.6 1135.1 L146.2 1134.7 L145.9 1134.4 L146.3 1134.0 L146.2 1133.7 L146.9 1133.3 L147.6 1132.9 L147.6 1132.6 L146.7 1132.2 L146.1 1131.9 L145.1 1131.5 L145.8 1131.2 L146.4 1130.8 L147.1 1130.5 L147.2 1130.1 L147.2 1129.8 L146.9 1129.4 L147.3 1129.1 L147.1 1128.7 L147.2 1128.3 L146.9 1128.0 L147.5 1127.6 L146.5 1127.3 L146.7 1126.9 L147.8 1126.6 L147.7 1126.2 L146.8 1125.9 L146.9 1125.5 L147.2 1125.2 L147.6 1124.8 L148.0 1124.4 L147.9 1124.1 L147.7 1123.7 L147.1 1123.4 L147.2 1123.0 L147.1 1122.7 L146.8 1122.3 L146.3 1122.0 L146.3 1121.6 L146.5 1121.3 L146.5 1120.9 L146.7 1120.5 L146.6 1120.2 L146.3 1119.8 L146.1 1119.5 L145.6 1119.1 L146.7 1118.8 L146.7 1118.4 L145.8 1118.1 L146.1 1117.7 L146.4 1117.4 L145.9 1117.0 L146.9 1116.7 L147.8 1116.3 L147.7 1115.9 L147.0 1115.6 L146.9 1115.2 L147.3 1114.9 L147.9 1114.5 L147.5 1114.2 L148.5 1113.8 L147.8 1113.5 L147.4 1113.1 L147.4 1112.8 L147.0 1112.4 L146.9 1112.0 L146.8 1111.7 L147.2 1111.3 L147.8 1111.0 L146.9 1110.6 L147.7 1110.3 L146.5 1109.9 L146.5 1109.6 L147.0 1109.2 L147.4 1108.9 L146.8 1108.5 L146.2 1108.1 L146.8 1107.8 L147.5 1107.4 L147.7 1107.1 L146.9 1106.7 L146.8 1106.4 L147.3 1106.0 L147.3 1105.7 L146.8 1105.3 L145.9 1105.0 L146.1 1104.6 L146.3 1104.3 L147.2 1103.9 L147.3 1103.5 L146.8 1103.2 L146.8 1102.8 L146.3 1102.5 L146.8 1102.1 L147.3 1101.8 L146.7 1101.4 L146.6 1101.1 L146.4 1100.7 L146.1 1100.4 L147.0 1100.0 L146.9 1099.6 L147.7 1099.3 L147.9 1098.9 L147.1 1098.6 L147.3 1098.2 L147.3 1097.9 L148.0 1097.5 L147.5 1097.2 L146.8 1096.8 L146.6 1096.5 L147.6 1096.1 L148.9 1095.7 L147.8 1095.4 L148.4 1095.0 L147.8 1094.7 L146.7 1094.3 L146.9 1094.0 L146.1 1093.6 L147.1 1093.3 L146.0 1092.9 L146.5 1092.6 L146.9 1092.2 L146.7 1091.9 L146.8 1091.5 L146.3 1091.1 L146.2 1090.8 L146.3 1090.4 L146.9 1090.1 L146.2 1089.7 L145.9 1089.4 L145.6 1089.0 L146.2 1088.7 L146.3 1088.3 L147.0 1088.0 L147.1 1087.6 L147.5 1087.2 L147.2 1086.9 L147.2 1086.5 L147.3 1086.2 L146.7 1085.8 L146.4 1085.5 L146.1 1085.1 L146.9 1084.8 L145.5 1084.4 L145.4 1084.1 L146.3 1083.7 L146.3 1083.3 L146.7 1083.0 L146.5 1082.6 L146.8 1082.3 L146.1 1081.9 L145.9 1081.6 L146.2 1081.2 L145.8 1080.9 L145.7 1080.5 L146.3 1080.2 L147.1 1079.8 L147.7 1079.5 L146.9 1079.1 L146.5 1078.7 L146.4 1078.4 L146.2 1078.0 L146.5 1077.7 L146.8 1077.3 L146.6 1077.0 L146.7 1076.6 L147.3 1076.3 L147.2 1075.9 L146.3 1075.6 L146.1 1075.2 L146.9 1074.8 L147.0 1074.5 L147.2 1074.1 L147.8 1073.8 L147.5 1073.4 L148.1 1073.1 L146.9 1072.7 L146.2 1072.4 L146.5 1072.0 L146.8 1071.7 L146.3 1071.3 L145.9 1071.0 L146.7 1070.6 L146.7 1070.2 L146.7 1069.9 L146.0 1069.5 L145.9 1069.2 L146.3 1068.8 L146.2 1068.5 L146.2 1068.1 L147.7 1067.8 L147.0 1067.4 L146.0 1067.1 L146.4 1066.7 L147.2 1066.3 L146.7 1066.0 L146.9 1065.6 L145.7 1065.3 L146.1 1064.9 L145.9 1064.6 L146.3 1064.2 L146.6 1063.9 L147.0 1063.5 L148.5 1063.2 L147.6 1062.8 L147.5 1062.4 L147.1 1062.1 L147.1 1061.7 L146.5 1061.4 L146.2 1061.0 L147.0 1060.7 L146.3 1060.3 L147.2 1060.0 L147.1 1059.6 L147.7 1059.3 L147.9 1058.9 L148.3 1058.6 L147.8 1058.2 L147.5 1057.8 L146.2 1057.5 L146.4 1057.1 L146.4 1056.8 L146.8 1056.4 L146.1 1056.1 L146.0 1055.7 L145.5 1055.4 L146.4 1055.0 L146.5 1054.7 L146.9 1054.3 L146.9 1053.9 L146.7 1053.6 L146.5 1053.2 L146.8 1052.9 L146.6 1052.5 L147.1 1052.2 L146.9 1051.8 L146.7 1051.5 L147.1 1051.1 L146.4 1050.8 L146.1 1050.4 L146.6 1050.0 L146.6 1049.7 L146.1 1049.3 L146.7 1049.0 L145.6 1048.6 L145.7 1048.3 L145.7 1047.9 L146.0 1047.6 L146.5 1047.2 L146.8 1046.9 L146.7 1046.5 L146.9 1046.2 L147.0 1045.8 L147.1 1045.4 L147.7 1045.1 L147.5 1044.7 L147.6 1044.4 L148.3 1044.0 L147.5 1043.7 L146.9 1043.3 L147.7 1043.0 L147.3 1042.6 L146.8 1042.3 L147.1 1041.9 L146.6 1041.5 L146.5 1041.2 L146.8 1040.8 L147.0 1040.5 L147.2 1040.1 L147.4 1039.8 L147.1 1039.4 L147.2 1039.1 L148.1 1038.7 L147.6 1038.4 L145.9 1038.0 L147.3 1037.6 L147.1 1037.3 L147.6 1036.9 L147.5 1036.6 L146.7 1036.2 L146.5 1035.9 L146.7 1035.5 L147.1 1035.2 L147.3 1034.8 L146.6 1034.5 L147.3 1034.1 L146.4 1033.8 L146.7 1033.4 L147.6 1033.0 L146.4 1032.7 L146.4 1032.3 L146.9 1032.0 L147.0 1031.6 L147.0 1031.3 L147.0 1030.9 L147.2 1030.6 L146.5 1030.2 L146.6 1029.9 L146.2 1029.5 L145.8 1029.1 L146.5 1028.8 L146.9 1028.4 L146.7 1028.1 L146.4 1027.7 L146.7 1027.4 L146.5 1027.0 L147.3 1026.7 L146.8 1026.3 L147.0 1026.0 L146.7 1025.6 L147.1 1025.3 L146.6 1024.9 L147.6 1024.5 L147.5 1024.2 L147.9 1023.8 L147.1 1023.5 L146.8 1023.1 L146.3 1022.8 L146.8 1022.4 L146.9 1022.1 L147.9 1021.7 L147.2 1021.4 L147.2 1021.0 L147.8 1020.6 L147.3 1020.3 L146.9 1019.9 L147.0 1019.6 L147.0 1019.2 L146.3 1018.9 L145.9 1018.5 L146.4 1018.2 L146.5 1017.8 L146.4 1017.5 L147.0 1017.1 L147.1 1016.7 L146.9 1016.4 L146.9 1016.0 L147.2 1015.7 L147.6 1015.3 L147.2 1015.0 L148.0 1014.6 L147.2 1014.3 L146.8 1013.9 L146.9 1013.6 L146.5 1013.2 L146.7 1012.9 L146.2 1012.5 L147.3 1012.1 L146.5 1011.8 L146.3 1011.4 L146.5 1011.1 L147.3 1010.7 L147.5 1010.4 L147.0 1010.0 L146.9 1009.7 L147.1 1009.3 L147.2 1009.0 L147.1 1008.6 L147.1 1008.2 L147.1 1007.9 L147.3 1007.5 L147.5 1007.2 L147.5 1006.8 L147.2 1006.5 L146.7 1006.1 L146.9 1005.8 L146.7 1005.4 L146.4 1005.1 L146.4 1004.7 L146.8 1004.3 L147.1 1004.0 L147.5 1003.6 L146.7 1003.3 L146.8 1002.9 L146.5 1002.6 L145.8 1002.2 L146.7 1001.9 L147.4 1001.5 L147.5 1001.2 L146.5 1000.8 L147.0 1000.5 L145.8 1000.1 L146.4 999.7 L145.9 999.4 L146.6 999.0 L145.4 998.7 L146.2 998.3 L147.7 998.0 L148.0 997.6 L148.0 997.3 L147.4 996.9 L147.7 996.6 L147.6 996.2 L148.2 995.8 L148.6 995.5 L148.1 995.1 L147.9 994.8 L147.9 994.4 L147.4 994.1 L148.0 993.7 L147.9 993.4 L147.2 993.0 L145.6 992.7 L146.0 992.3 L145.7 991.9 L145.7 991.6 L145.4 991.2 L145.8 990.9 L146.3 990.5 L146.4 990.2 L146.7 989.8 L146.6 989.5 L145.7 989.1 L145.8 988.8 L145.5 988.4 L146.1 988.1 L146.4 987.7 L145.0 987.3 L145.4 987.0 L146.1 986.6 L147.1 986.3 L146.2 985.9 L146.9 985.6 L146.8 985.2 L147.2 984.9 L147.3 984.5 L146.5 984.2 L146.5 983.8 L146.0 983.4 L145.4 983.1 L144.8 982.7 L145.0 982.4 L145.2 982.0 L144.7 981.7 L145.6 981.3 L145.5 981.0 L144.9 980.6 L146.4 980.3 L146.5 979.9 L146.3 979.6 L146.4 979.2 L146.2 978.8 L146.8 978.5 L146.5 978.1 L146.2 977.8 L145.8 977.4 L146.5 977.1 L146.4 976.7 L145.5 976.4 L145.7 976.0 L145.3 975.7 L148.4 975.3 L147.2 974.9 L146.1 974.6 L145.6 974.2 L146.1 973.9 L145.5 973.5 L146.1 973.2 L145.2 972.8 L145.1 972.5 L145.0 972.1 L146.2 971.8 L144.2 971.4 L145.0 971.0 L144.3 970.7 L143.4 970.3 L144.2 970.0 L144.1 969.6 L143.5 969.3 L144.2 968.9 L144.4 968.6 L143.5 968.2 L143.5 967.9 L144.8 967.5 L145.1 967.2 L144.9 966.8 L145.4 966.4 L145.4 966.1 L145.6 965.7 L145.3 965.4 L145.5 965.0 L145.3 964.7 L145.2 964.3 L145.2 964.0 L145.5 963.6 L145.5 963.3 L145.6 962.9 L145.3 962.5 L145.7 962.2 L145.6 961.8 L144.9 961.5 L144.0 961.1 L144.4 960.8 L143.1 960.4 L143.2 960.1 L142.9 959.7 L142.9 959.4 L143.2 959.0 L144.5 958.6 L145.0 958.3 L144.3 957.9 L144.1 957.6 L143.9 957.2 L144.5 956.9 L144.3 956.5 L144.8 956.2 L144.5 955.8 L144.5 955.5 L144.6 955.1 L145.3 954.8 L145.6 954.4 L146.2 954.0 L145.0 953.7 L144.9 953.3 L145.2 953.0 L145.6 952.6 L145.3 952.3 L145.0 951.9 L144.9 951.6 L145.7 951.2 L145.4 950.9 L145.1 950.5 L144.7 950.1 L144.5 949.8 L143.7 949.4 L143.4 949.1 L142.7 948.7 L142.8 948.4 L143.8 948.0 L144.6 947.7 L144.7 947.3 L146.0 947.0 L144.9 946.6 L144.9 946.2 L145.3 945.9 L145.5 945.5 L144.1 945.2 L143.6 944.8 L143.6 944.5 L143.7 944.1 L144.5 943.8 L144.5 943.4 L144.7 943.1 L144.4 942.7 L145.4 942.4 L145.3 942.0 L144.4 941.6 L144.1 941.3 L145.3 940.9 L145.2 940.6 L144.3 940.2 L144.1 939.9 L144.5 939.5 L144.4 939.2 L144.7 938.8 L144.7 938.5 L144.7 938.1 L144.5 937.7 L144.5 937.4 L144.2 937.0 L144.3 936.7 L144.3 936.3 L143.0 936.0 L143.9 935.6 L144.5 935.3 L144.9 934.9 L144.8 934.6 L144.9 934.2 L145.0 933.8 L144.6 933.5 L144.9 933.1 L143.9 932.8 L143.1 932.4 L143.3 932.1 L144.1 931.7 L144.6 931.4 L144.5 931.0 L144.3 930.7 L144.6 930.3 L144.2 930.0 L144.7 929.6 L144.5 929.2 L144.6 928.9 L144.6 928.5 L144.6 928.2 L145.3 927.8 L145.4 927.5 L145.5 927.1 L145.6 926.8 L145.0 926.4 L144.9 926.1 L145.0 925.7 L144.9 925.3 L144.4 925.0 L145.6 924.6 L145.9 924.3 L145.8 923.9 L146.4 923.6 L146.4 923.2 L146.1 922.9 L146.0 922.5 L146.0 922.2 L146.1 921.8 L145.4 921.5 L145.6 921.1 L145.7 920.7 L145.7 920.4 L145.2 920.0 L144.6 919.7 L145.0 919.3 L144.5 919.0 L145.5 918.6 L144.7 918.3 L144.7 917.9 L145.2 917.6 L144.3 917.2 L145.2 916.8 L145.6 916.5 L145.8 916.1 L145.2 915.8 L145.4 915.4 L145.3 915.1 L144.9 914.7 L145.5 914.4 L145.5 914.0 L146.1 913.7 L145.6 913.3 L145.2 912.9 L145.3 912.6 L146.1 912.2 L146.2 911.9 L145.8 911.5 L146.7 911.2 L147.0 910.8 L146.6 910.5 L146.6 910.1 L145.4 909.8 L145.8 909.4 L144.9 909.1 L145.4 908.7 L145.8 908.3 L146.3 908.0 L145.5 907.6 L145.8 907.3 L146.5 906.9 L146.2 906.6 L146.2 906.2 L146.4 905.9 L145.6 905.5 L146.7 905.2 L145.5 904.8 L145.7 904.4 L146.5 904.1 L146.3 903.7 L146.6 903.4 L145.7 903.0 L146.3 902.7 L146.2 902.3 L146.0 902.0 L146.5 901.6 L145.9 901.3 L145.9 900.9 L144.4 900.5 L144.5 900.2 L145.4 899.8 L144.8 899.5 L143.9 899.1 L144.4 898.8 L144.2 898.4 L144.9 898.1 L145.1 897.7 L144.8 897.4 L145.3 897.0 L145.4 896.7 L145.2 896.3 L145.3 895.9 L144.4 895.6 L145.0 895.2 L145.3 894.9 L145.2 894.5 L146.0 894.2 L145.4 893.8 L145.2 893.5 L145.7 893.1 L145.6 892.8 L146.1 892.4 L146.8 892.0 L147.0 891.7 L146.6 891.3 L146.5 891.0 L146.4 890.6 L146.4 890.3 L146.6 889.9 L145.2 889.6 L145.6 889.2 L145.9 888.9 L146.0 888.5 L146.4 888.1 L147.7 887.8 L147.8 887.4 L147.7 887.1 L146.6 886.7 L147.1 886.4 L146.0 886.0 L146.1 885.7 L145.9 885.3 L145.6 885.0 L145.2 884.6 L145.5 884.3 L145.9 883.9 L145.5 883.5 L144.3 883.2 L145.7 882.8 L146.1 882.5 L145.4 882.1 L146.0 881.8 L146.4 881.4 L146.3 881.1 L146.6 880.7 L146.4 880.4 L145.6 880.0 L145.1 879.6 L145.2 879.3 L145.9 878.9 L145.6 878.6 L146.0 878.2 L146.1 877.9 L146.7 877.5 L146.7 877.2 L145.7 876.8 L145.5 876.5 L146.4 876.1 L146.6 875.8 L147.0 875.4 L147.4 875.0 L147.1 874.7 L145.6 874.3 L145.5 874.0 L145.9 873.6 L145.5 873.3 L144.9 872.9 L145.7 872.6 L143.6 872.2 L144.7 871.9 L144.0 871.5 L144.0 871.1 L143.2 870.8 L143.5 870.4 L144.2 870.1 L143.6 869.7 L142.9 869.4 L144.5 869.0 L144.7 868.7 L144.2 868.3 L144.1 868.0 L143.8 867.6 L144.0 867.2 L143.5 866.9 L142.7 866.5 L143.5 866.2 L143.7 865.8 L143.5 865.5 L143.2 865.1 L143.4 864.8 L143.7 864.4 L143.8 864.1 L144.2 863.7 L144.5 863.4 L144.6 863.0 L144.6 862.6 L144.2 862.3 L144.4 861.9 L144.6 861.6 L144.0 861.2 L144.6 860.9 L144.5 860.5 L145.5 860.2 L144.7 859.8 L144.8 859.5 L143.9 859.1 L143.8 858.7 L143.1 858.4 L144.1 858.0 L144.7 857.7 L144.3 857.3 L143.9 857.0 L144.0 856.6 L143.4 856.3 L142.9 855.9 L142.9 855.6 L143.2 855.2 L143.3 854.8 L143.9 854.5 L144.8 854.1 L144.5 853.8 L144.1 853.4 L144.3 853.1 L144.8 852.7 L143.7 852.4 L143.4 852.0 L143.9 851.7 L144.4 851.3 L144.1 851.0 L143.8 850.6 L144.6 850.2 L144.5 849.9 L144.8 849.5 L144.0 849.2 L144.8 848.8 L144.3 848.5 L144.4 848.1 L144.5 847.8 L144.2 847.4 L143.7 847.1 L144.0 846.7 L143.5 846.3 L142.9 846.0 L143.1 845.6 L143.7 845.3 L143.8 844.9 L144.0 844.6 L143.9 844.2 L143.5 843.9 L144.2 843.5 L143.8 843.2 L144.4 842.8 L144.5 842.4 L144.8 842.1 L144.5 841.7 L144.3 841.4 L145.3 841.0 L144.8 840.7 L144.2 840.3 L144.3 840.0 L145.2 839.6 L145.3 839.3 L144.9 838.9 L145.1 838.6 L144.6 838.2 L143.7 837.8 L143.8 837.5 L143.7 837.1 L144.1 836.8 L143.5 836.4 L143.8 836.1 L143.8 835.7 L143.7 835.4 L143.3 835.0 L143.9 834.7 L144.2 834.3 L143.6 833.9 L143.2 833.6 L143.2 833.2 L143.0 832.9 L143.6 832.5 L142.4 832.2 L142.7 831.8 L143.5 831.5 L144.3 831.1 L144.4 830.8 L144.3 830.4 L144.9 830.0 L144.9 829.7 L144.6 829.3 L145.4 829.0 L145.6 828.6 L145.1 828.3 L144.9 827.9 L145.0 827.6 L145.6 827.2 L144.8 826.9 L145.0 826.5 L144.8 826.2 L144.1 825.8 L144.1 825.4 L144.2 825.1 L143.6 824.7 L143.8 824.4 L143.9 824.0 L143.4 823.7 L142.9 823.3 L142.6 823.0 L143.5 822.6 L144.6 822.3 L144.3 821.9 L144.4 821.5 L144.9 821.2 L144.2 820.8 L143.7 820.5 L144.0 820.1 L142.7 819.8 L143.4 819.4 L143.3 819.1 L144.0 818.7 L144.1 818.4 L143.4 818.0 L143.6 817.7 L144.1 817.3 L143.6 816.9 L143.0 816.6 L144.2 816.2 L144.0 815.9 L143.6 815.5 L143.5 815.2 L143.5 814.8 L143.7 814.5 L142.6 814.1 L143.3 813.8 L143.4 813.4 L144.6 813.0 L144.5 812.7 L145.2 812.3 L144.2 812.0 L144.3 811.6 L143.6 811.3 L143.7 810.9 L143.3 810.6 L142.9 810.2 L144.3 809.9 L144.5 809.5 L144.4 809.1 L145.0 808.8 L144.5 808.4 L144.4 808.1 L144.4 807.7 L144.6 807.4 L144.1 807.0 L143.5 806.7 L143.2 806.3 L143.8 806.0 L142.7 805.6 L142.9 805.3 L142.3 804.9 L143.0 804.5 L143.3 804.2 L143.3 803.8 L143.9 803.5 L144.2 803.1 L143.2 802.8 L143.3 802.4 L143.4 802.1 L144.2 801.7 L143.4 801.4 L143.7 801.0Z" fill="#000"/>
<path d="M142.2 801.1H143.9M142.5 802.5H145.2M142.0 804.2H147.9M141.1 805.0H142.9M142.2 805.8H146.2M143.5 807.1H145.2M143.7 808.7H146.5M141.6 810.2H143.1M142.5 811.4H145.7M143.3 813.1H145.8M142.4 814.4H144.4M142.4 815.3H146.8M142.8 816.1H149.7M142.5 817.5H144.9M142.0 819.0H143.7M143.2 820.7H148.9M142.9 821.8H144.4M141.6 823.4H145.1M142.9 825.1H144.3M142.8 825.8H144.2M143.2 827.4H148.2M144.0 828.9H150.8M143.5 829.7H147.5M143.1 830.7H145.6M141.1 832.2H147.6M142.2 833.5H145.5M142.5 834.9H144.8M142.4 836.2H149.2M142.3 837.8H146.6M143.6 838.9H152.1M143.9 839.6H149.2M143.0 841.3H144.3M143.7 842.5H145.4M142.2 843.8H143.6M142.5 845.1H144.8M142.7 846.8H145.8M142.6 847.7H146.1M142.7 849.1H144.7M143.3 850.2H154.8M142.8 850.9H150.1M143.5 852.7H146.9M143.2 853.8H145.8M141.6 855.4H148.8M142.5 856.9H144.0M142.9 858.2H146.8M143.4 859.8H144.8M142.8 861.1H146.8M143.2 862.1H151.1M143.3 863.0H145.4M142.5 864.0H146.9M142.2 865.5H144.2M142.7 867.2H147.5M143.4 868.7H145.0M142.9 869.9H147.5M141.4 870.6H145.3M143.4 871.9H146.7M144.2 873.4H150.3M145.8 874.6H149.0M145.8 875.5H147.1M145.4 877.2H161.2M144.1 878.7H146.8M144.3 880.0H147.6M145.7 881.0H149.9M144.2 882.6H152.6M143.8 883.4H146.1M144.2 884.2H149.4M144.1 885.4H148.1M145.8 886.6H150.2M146.3 887.8H147.8M143.9 889.5H146.0M144.8 891.1H147.1M146.0 891.9H152.7M143.9 893.4H148.4M143.9 894.7H148.3M143.2 895.8H144.6M144.1 897.5H145.6M143.1 898.8H145.9M143.9 899.7H146.0M143.6 900.7H146.8M144.7 902.0H149.0M145.0 903.8H153.2M144.3 905.5H153.1M145.0 906.8H146.3M144.5 908.3H155.6M144.5 909.4H147.5M145.7 910.8H148.4M144.8 912.2H146.6M144.3 913.3H145.6M143.6 914.8H145.8M143.9 915.7H145.4M144.1 916.6H146.6M143.4 918.3H146.8M143.7 919.3H146.7M144.4 920.8H145.7M144.7 922.5H147.9M144.6 924.2H152.1M143.4 925.2H148.0M143.6 926.1H145.1M144.0 927.8H147.5M143.3 928.8H146.0M142.7 929.7H145.8M144.1 930.5H151.9M142.8 931.8H152.4M143.6 933.2H146.1M143.5 934.4H147.8M141.7 936.0H144.0M142.8 936.8H144.7M143.4 938.0H149.6M143.3 939.6H145.4M143.5 940.5H148.0M144.0 942.1H145.6M143.9 943.5H148.9M143.2 945.3H145.7M143.6 946.3H155.9M143.4 947.3H145.7M141.5 948.9H153.1M143.2 949.9H145.0M143.9 950.7H147.3M143.7 951.9H152.3M143.6 953.2H154.3M143.8 954.5H146.2M143.0 955.9H145.3M143.0 957.1H144.5M143.2 958.6H149.6M141.6 959.6H143.1M141.8 960.4H144.1M144.3 961.8H148.6M144.2 963.2H150.5M144.1 964.1H146.8M144.0 965.4H145.6M143.6 966.8H146.5M142.6 967.7H149.7M143.1 968.5H145.2M142.6 969.4H147.5M143.0 970.6H145.3M143.8 972.3H145.8M144.8 973.1H148.7M144.2 974.5H146.2M144.4 976.1H153.8M145.5 976.9H147.6M144.9 977.7H159.9M145.5 978.5H155.8M145.7 979.6H148.2M144.3 981.4H154.4M143.5 982.8H144.8M145.4 984.4H147.0M145.6 985.6H147.3M144.1 986.9H146.5M144.8 988.1H149.0M144.1 989.0H147.3M144.4 990.7H157.4M144.6 991.8H148.0M145.7 992.8H152.9M146.1 994.0H148.9M147.1 995.0H149.0M146.4 996.5H154.5M146.4 998.0H149.2M145.3 999.1H151.1M145.1 1000.2H151.6M146.3 1001.4H147.9M145.2 1002.6H150.0M146.2 1003.8H153.3M145.2 1005.2H150.6M146.7 1006.9H148.4M145.8 1008.6H148.6M145.8 1009.5H154.1M146.0 1010.9H153.9M145.5 1011.9H148.1M145.3 1013.0H147.4M146.1 1014.5H149.8M145.3 1016.2H152.3M145.9 1017.0H153.6M145.2 1018.0H149.2M145.0 1018.8H146.9M145.6 1019.9H146.9M145.9 1021.4H148.8M145.0 1022.8H147.6M146.6 1023.8H149.4M145.3 1024.8H149.7M146.3 1026.4H156.8M145.4 1027.4H148.8M145.1 1028.2H149.0M145.0 1029.0H148.2M145.2 1030.2H147.7M145.7 1031.7H148.1M145.4 1033.4H147.6M145.8 1034.6H156.3M146.0 1035.7H149.6M146.3 1036.9H148.8M145.8 1037.9H147.2M146.0 1039.3H147.5M145.7 1040.5H155.5M145.3 1041.6H153.5M146.4 1043.0H149.8M146.3 1044.5H147.7M146.3 1045.2H148.4M145.5 1046.9H147.4M144.4 1047.7H147.4M144.8 1049.4H151.5M145.4 1051.0H147.0M145.5 1051.7H154.2M145.2 1053.2H151.9M145.1 1054.1H147.6M145.1 1055.0H149.2M144.7 1055.7H148.2M144.9 1057.3H147.0M146.5 1058.2H148.7M146.4 1059.2H148.8M145.0 1060.3H150.7M145.6 1061.9H147.1M147.2 1063.1H156.5M144.9 1064.1H146.4M144.4 1065.2H151.0M145.9 1066.4H149.6M144.9 1068.1H147.8M144.6 1069.2H149.5M145.4 1070.5H157.9M144.5 1072.2H147.7M146.5 1073.8H148.0M145.6 1074.9H147.6M145.5 1076.2H148.8M145.8 1077.1H148.1M145.2 1078.8H147.9M145.0 1080.2H146.7M144.7 1081.3H147.7M145.2 1082.7H148.9M144.2 1084.4H152.0M144.6 1085.3H150.8M145.9 1086.5H150.9M145.7 1087.5H152.7M144.9 1088.7H149.0M145.6 1090.3H147.7M145.8 1092.1H155.0M145.5 1093.2H155.0M145.6 1094.0H147.8M146.4 1095.2H152.3M145.3 1096.4H148.1M146.1 1098.1H147.5M146.5 1098.9H147.9M145.3 1099.9H147.3M145.5 1101.2H153.4M145.3 1102.0H150.3M145.9 1103.4H152.2M144.6 1104.9H146.2M145.6 1106.2H148.5M146.2 1107.5H152.2M145.7 1109.2H148.2M145.6 1110.7H147.9M145.5 1111.6H149.4M146.1 1113.2H153.2M146.0 1114.8H147.6M146.4 1116.0H149.9M145.5 1117.6H147.5M145.4 1118.5H159.5M144.6 1119.4H147.4M145.8 1120.7H156.8M144.8 1121.8H146.8M145.8 1122.6H148.6M147.0 1124.2H149.4M146.1 1125.3H148.4M146.4 1126.4H156.6M146.3 1127.8H152.2M146.0 1129.0H148.2M145.7 1130.7H149.4M143.8 1131.6H147.2M146.3 1132.9H148.7M145.0 1134.0H147.7M145.6 1135.4H152.2M144.7 1136.2H146.5M144.9 1137.1H146.9M145.6 1137.9H154.9M145.0 1139.5H147.9M145.1 1140.4H147.3M145.7 1142.0H148.5M146.3 1143.6H152.3M146.6 1144.4H154.1M147.1 1145.3H150.3M147.8 1146.7H152.1M148.4 1147.7H152.1M149.5 1149.4H152.6M150.1 1150.4H162.6M151.1 1151.5H155.3M152.0 1152.6H153.3M152.8 1153.4H154.2M154.0 1154.7H157.7M155.3 1156.0H157.0M156.8 1157.1H163.3M157.6 1157.9H165.2M158.5 1158.7H160.0M160.7 1160.2H176.0M163.1 1161.8H165.7M165.1 1163.1H168.8M145.7 1164.7H148.3M144.5 1166.0H147.7M145.1 1166.9H150.7M144.8 1167.8H152.3M144.8 1168.8H146.5M144.5 1169.7H147.0M144.9 1171.4H148.6M144.0 1173.2H147.1M144.9 1174.4H146.7M145.2 1175.4H151.0M144.5 1176.4H151.3M145.7 1178.0H164.6M144.1 1179.3H148.9M144.8 1180.4H154.5M144.5 1181.2H148.8M144.4 1182.4H148.0M144.9 1183.8H151.9M145.1 1184.9H149.2M143.6 1186.4H150.9M144.5 1187.2H146.8M144.4 1188.2H155.0M144.6 1189.7H146.9M146.2 1190.7H151.1M144.8 1191.5H150.0M144.8 1192.3H149.5M145.3 1193.2H149.8M145.1 1194.1H146.9M144.9 1195.0H152.3M143.9 1196.3H145.3M145.8 1197.1H149.9M143.8 1198.8H148.6M144.7 1199.6H146.7M144.5 1201.1H148.0M145.9 1202.8H150.4M145.0 1204.5H151.1M143.9 1205.6H150.4M144.6 1207.1H149.6M145.1 1208.8H151.1" stroke="#000" stroke-width="1.1" fill="none"/>
<path d="M137.1 804.9H168.9M137.1 808.1H150.7M137.1 812.4H148.6M138.5 827.0H170.8M137.1 826.1H161.8M137.1 828.2H152.8M137.1 831.6H151.0M137.1 839.3H150.4M137.1 842.9H233.9M137.1 845.4H235.9M137.1 848.8H153.3M137.1 857.9H148.1M137.1 869.4H172.5M137.1 876.4H158.8M137.4 877.6H156.4M137.1 880.7H166.5M137.1 885.2H167.1M137.1 886.0H230.4M137.2 888.5H157.1M137.1 892.8H167.1M137.6 903.0H177.1M137.1 904.2H155.9M137.1 906.9H160.8M137.1 908.7H185.4M137.1 919.8H159.4M137.1 921.5H168.4M137.2 924.1H160.4M137.1 935.8H150.7M137.1 944.4H150.7M137.1 952.6H149.6M137.1 960.8H153.8M137.1 962.3H151.7M137.1 965.8H153.8M137.1 971.9H171.9M141.0 975.2H165.6M137.1 982.6H153.9M137.1 988.1H154.9M137.1 998.3H153.8M137.3 1002.2H154.5M138.7 1010.1H159.9M140.2 1052.3H157.4M139.5 1080.2H156.8M138.3 1140.8H167.0M152.9 1164.1H168.1M137.1 1173.9H153.8M137.1 1197.1H160.1M137.1 1209.8H150.2M144.9 1154.8H159.6M142.3 1150.8H157.1" stroke="#000" stroke-width="1.4" fill="none"/>
<line x1="134.8" y1="801" x2="134.8" y2="1210" stroke="#000" stroke-width="1.2"/>
<rect x="262.00" y="779.4" width="2.28" height="10.6" fill="#BEBEBE"/>
<rect x="264.13" y="779.4" width="0.82" height="10.6" fill="#9370DB"/>
<rect x="264.80" y="779.4" width="1.07" height="10.6" fill="#C8B8E0"/>
<rect x="265.72" y="779.4" width="0.45" height="10.6" fill="#DA70D6"/>
<rect x="265.97" y="779.4" width="0.67" height="10.6" fill="#C8B8E0"/>
<rect x="266.49" y="779.4" width="0.66" height="10.6" fill="#9370DB"/>
<rect x="267.00" y="779.4" width="0.90" height="10.6" fill="#BEBEBE"/>
<rect x="267.75" y="779.4" width="0.92" height="10.6" fill="#B0C4DE"/>
<rect x="268.52" y="779.4" width="1.24" height="10.6" fill="#C8B8E0"/>
<rect x="269.61" y="779.4" width="0.53" height="10.6" fill="#BEBEBE"/>
<rect x="270.00" y="779.4" width="0.53" height="10.6" fill="#708090"/>
<rect x="270.38" y="779.4" width="0.92" height="10.6" fill="#7B68EE"/>
<rect x="271.14" y="779.4" width="0.45" height="10.6" fill="#6A5ACD"/>
<rect x="271.32" y="779.4" width="0.85" height="10.6" fill="#C8D0A8"/>
<rect x="272.03" y="779.4" width="0.45" height="10.6" fill="#BEBEBE"/>
<rect x="272.31" y="779.4" width="0.58" height="10.6" fill="#8080E0"/>
<rect x="272.74" y="779.4" width="0.68" height="10.6" fill="#7B68EE"/>
<rect x="273.26" y="779.4" width="0.47" height="10.6" fill="#4682B4"/>
<rect x="273.58" y="779.4" width="0.75" height="10.6" fill="#F0E68C"/>
<rect x="274.19" y="779.4" width="0.81" height="10.6" fill="#DDA0DD"/>
<rect x="274.85" y="779.4" width="0.85" height="10.6" fill="#C8B8E0"/>
<rect x="275.55" y="779.4" width="0.81" height="10.6" fill="#4682B4"/>
<rect x="276.21" y="779.4" width="0.45" height="10.6" fill="#2E8B8B"/>
<rect x="276.50" y="779.4" width="0.64" height="10.6" fill="#6A5ACD"/>
<rect x="276.99" y="779.4" width="0.45" height="10.6" fill="#C8B8E0"/>
<rect x="277.19" y="779.4" width="0.92" height="10.6" fill="#F0E68C"/>
<rect x="277.96" y="779.4" width="0.45" height="10.6" fill="#DDA0DD"/>
<rect x="278.23" y="779.4" width="0.65" height="10.6" fill="#C8B8E0"/>
<rect x="278.73" y="779.4" width="1.13" height="10.6" fill="#BEBEBE"/>
<rect x="279.71" y="779.4" width="0.93" height="10.6" fill="#8080E0"/>
<rect x="280.49" y="779.4" width="0.80" height="10.6" fill="#C8D0A8"/>
<rect x="281.14" y="779.4" width="0.55" height="10.6" fill="#7B68EE"/>
<rect x="281.54" y="779.4" width="0.79" height="10.6" fill="#E0A0C8"/>
<rect x="282.18" y="779.4" width="0.74" height="10.6" fill="#2E8B8B"/>
<rect x="282.76" y="779.4" width="0.58" height="10.6" fill="#6A5ACD"/>
<rect x="283.19" y="779.4" width="0.45" height="10.6" fill="#C8D0A8"/>
<rect x="283.49" y="779.4" width="0.75" height="10.6" fill="#4682B4"/>
<rect x="284.09" y="779.4" width="0.45" height="10.6" fill="#C8B8E0"/>
<rect x="284.32" y="779.4" width="0.91" height="10.6" fill="#DDA0DD"/>
<rect x="285.08" y="779.4" width="0.45" height="10.6" fill="#9370DB"/>
<rect x="285.35" y="779.4" width="0.45" height="10.6" fill="#4682B4"/>
<rect x="285.39" y="779.4" width="0.79" height="10.6" fill="#8B6A8B"/>
<rect x="286.03" y="779.4" width="2.31" height="10.6" fill="#5A0A6A"/>
<rect x="288.19" y="779.4" width="0.45" height="10.6" fill="#BEBEBE"/>
<rect x="288.37" y="779.4" width="0.63" height="10.6" fill="#C8B8E0"/>
<rect x="288.85" y="779.4" width="0.69" height="10.6" fill="#B0E0E6"/>
<rect x="289.39" y="779.4" width="0.45" height="10.6" fill="#E0A0C8"/>
<rect x="289.63" y="779.4" width="0.57" height="10.6" fill="#C8D0A8"/>
<rect x="290.05" y="779.4" width="0.90" height="10.6" fill="#B0C4DE"/>
<rect x="290.80" y="779.4" width="0.47" height="10.6" fill="#8080E0"/>
<rect x="291.12" y="779.4" width="0.45" height="10.6" fill="#9370DB"/>
<rect x="291.32" y="779.4" width="0.57" height="10.6" fill="#C8B8E0"/>
<rect x="291.73" y="779.4" width="0.74" height="10.6" fill="#4682B4"/>
<rect x="292.32" y="779.4" width="0.48" height="10.6" fill="#B0C4DE"/>
<rect x="292.65" y="779.4" width="0.74" height="10.6" fill="#9370DB"/>
<rect x="293.24" y="779.4" width="0.45" height="10.6" fill="#DA70D6"/>
<rect x="293.46" y="779.4" width="0.45" height="10.6" fill="#2E8B8B"/>
<rect x="293.75" y="779.4" width="0.45" height="10.6" fill="#C8B8E0"/>
<rect x="294.05" y="779.4" width="0.87" height="10.6" fill="#9370DB"/>
<rect x="294.77" y="779.4" width="0.50" height="10.6" fill="#4682B4"/>
<rect x="295.12" y="779.4" width="0.75" height="10.6" fill="#7B68EE"/>
<rect x="295.72" y="779.4" width="0.81" height="10.6" fill="#9370DB"/>
<rect x="296.38" y="779.4" width="0.58" height="10.6" fill="#B0C4DE"/>
<rect x="296.81" y="779.4" width="0.64" height="10.6" fill="#2E8B8B"/>
<rect x="297.30" y="779.4" width="0.71" height="10.6" fill="#BEBEBE"/>
<rect x="297.86" y="779.4" width="0.75" height="10.6" fill="#7B68EE"/>
<rect x="298.45" y="779.4" width="0.74" height="10.6" fill="#B0C4DE"/>
<rect x="299.05" y="779.4" width="0.60" height="10.6" fill="#9370DB"/>
<rect x="299.49" y="779.4" width="0.77" height="10.6" fill="#E0A0C8"/>
<rect x="300.11" y="779.4" width="0.49" height="10.6" fill="#BEBEBE"/>
<rect x="300.45" y="779.4" width="0.54" height="10.6" fill="#8080E0"/>
<rect x="300.84" y="779.4" width="0.73" height="10.6" fill="#2E8B8B"/>
<rect x="301.42" y="779.4" width="0.45" height="10.6" fill="#BEBEBE"/>
<rect x="301.45" y="779.4" width="1.18" height="10.6" fill="#D070C0"/>
<rect x="302.48" y="779.4" width="0.56" height="10.6" fill="#C8B0E8"/>
<rect x="302.89" y="779.4" width="0.82" height="10.6" fill="#BEBEBE"/>
<rect x="303.55" y="779.4" width="0.45" height="10.6" fill="#90EE90"/>
<rect x="303.78" y="779.4" width="1.16" height="10.6" fill="#9380D8"/>
<rect x="304.79" y="779.4" width="0.88" height="10.6" fill="#D070C0"/>
<rect x="305.52" y="779.4" width="0.61" height="10.6" fill="#9380D8"/>
<rect x="305.98" y="779.4" width="0.45" height="10.6" fill="#E040E0"/>
<rect x="306.24" y="779.4" width="0.86" height="10.6" fill="#F4C090"/>
<rect x="306.95" y="779.4" width="0.54" height="10.6" fill="#9380D8"/>
<rect x="307.34" y="779.4" width="0.45" height="10.6" fill="#708090"/>
<rect x="307.58" y="779.4" width="0.47" height="10.6" fill="#E040E0"/>
<rect x="307.90" y="779.4" width="0.57" height="10.6" fill="#F0E68C"/>
<rect x="308.32" y="779.4" width="0.52" height="10.6" fill="#BEBEBE"/>
<rect x="308.69" y="779.4" width="0.45" height="10.6" fill="#E040E0"/>
<rect x="308.93" y="779.4" width="0.70" height="10.6" fill="#A06080"/>
<rect x="309.47" y="779.4" width="0.60" height="10.6" fill="#E040E0"/>
<rect x="309.93" y="779.4" width="0.85" height="10.6" fill="#708090"/>
<rect x="310.63" y="779.4" width="0.69" height="10.6" fill="#D04060"/>
<rect x="311.16" y="779.4" width="0.85" height="10.6" fill="#D070C0"/>
<rect x="311.87" y="779.4" width="0.61" height="10.6" fill="#9380D8"/>
<rect x="312.32" y="779.4" width="1.19" height="10.6" fill="#BEBEBE"/>
<rect x="313.36" y="779.4" width="1.26" height="10.6" fill="#9380D8"/>
<rect x="314.48" y="779.4" width="0.54" height="10.6" fill="#2E8B8B"/>
<rect x="314.86" y="779.4" width="0.45" height="10.6" fill="#E040E0"/>
<rect x="315.13" y="779.4" width="1.18" height="10.6" fill="#708090"/>
<rect x="316.16" y="779.4" width="0.45" height="10.6" fill="#C8B0E8"/>
<rect x="316.45" y="779.4" width="0.54" height="10.6" fill="#D070C0"/>
<rect x="316.84" y="779.4" width="0.45" height="10.6" fill="#8B8B40"/>
<rect x="317.08" y="779.4" width="0.45" height="10.6" fill="#D070C0"/>
<rect x="317.30" y="779.4" width="0.48" height="10.6" fill="#ADD8E6"/>
<rect x="317.63" y="779.4" width="0.45" height="10.6" fill="#D04060"/>
<rect x="317.91" y="779.4" width="0.49" height="10.6" fill="#F0E68C"/>
<rect x="318.25" y="779.4" width="0.99" height="10.6" fill="#C8B0E8"/>
<rect x="319.10" y="779.4" width="0.93" height="10.6" fill="#E040E0"/>
<rect x="319.88" y="779.4" width="0.95" height="10.6" fill="#A06080"/>
<rect x="320.68" y="779.4" width="0.45" height="10.6" fill="#ADD8E6"/>
<rect x="320.97" y="779.4" width="0.90" height="10.6" fill="#9380D8"/>
<rect x="321.72" y="779.4" width="0.46" height="10.6" fill="#2E8B8B"/>
<rect x="322.03" y="779.4" width="0.84" height="10.6" fill="#E040E0"/>
<rect x="322.72" y="779.4" width="0.45" height="10.6" fill="#90EE90"/>
<rect x="322.98" y="779.4" width="0.49" height="10.6" fill="#F0E68C"/>
<rect x="323.32" y="779.4" width="0.48" height="10.6" fill="#4169E1"/>
<rect x="323.65" y="779.4" width="1.35" height="10.6" fill="#A06080"/>
<rect x="324.84" y="779.4" width="0.91" height="10.6" fill="#C8B0E8"/>
<rect x="325.60" y="779.4" width="0.45" height="10.6" fill="#9380D8"/>
<rect x="325.85" y="779.4" width="0.94" height="10.6" fill="#C8B0E8"/>
<rect x="326.64" y="779.4" width="1.21" height="10.6" fill="#4169E1"/>
<rect x="327.71" y="779.4" width="0.45" height="10.6" fill="#90EE90"/>
<rect x="327.96" y="779.4" width="0.53" height="10.6" fill="#E040E0"/>
<rect x="328.34" y="779.4" width="0.45" height="10.6" fill="#ADD8E6"/>
<rect x="328.63" y="779.4" width="0.98" height="10.6" fill="#4169E1"/>
<rect x="329.46" y="779.4" width="0.71" height="10.6" fill="#A06080"/>
<rect x="330.03" y="779.4" width="0.86" height="10.6" fill="#D04060"/>
<rect x="330.74" y="779.4" width="0.68" height="10.6" fill="#E08060"/>
<rect x="331.27" y="779.4" width="0.45" height="10.6" fill="#C8B0E8"/>
<rect x="331.46" y="779.4" width="0.93" height="10.6" fill="#E08060"/>
<rect x="332.24" y="779.4" width="0.46" height="10.6" fill="#D04060"/>
<rect x="332.55" y="779.4" width="0.45" height="10.6" fill="#4169E1"/>
<rect x="332.57" y="779.4" width="6.88" height="10.6" fill="#ADFF2F"/>
<rect x="339.30" y="779.4" width="0.55" height="10.6" fill="#D8BFD8"/>
<rect x="339.70" y="779.4" width="2.15" height="10.6" fill="#8B008B"/>
<rect x="341.70" y="779.4" width="0.76" height="10.6" fill="#A020F0"/>
<rect x="342.32" y="779.4" width="11.99" height="10.6" fill="#000000"/>
<rect x="354.15" y="779.4" width="1.03" height="10.6" fill="#A020F0"/>
<rect x="355.03" y="779.4" width="0.47" height="10.6" fill="#BEBEBE"/>
<rect x="355.36" y="779.4" width="1.81" height="10.6" fill="#A020F0"/>
<rect x="357.01" y="779.4" width="0.91" height="10.6" fill="#9370DB"/>
<rect x="357.78" y="779.4" width="2.78" height="10.6" fill="#BEBEBE"/>
<rect x="360.40" y="779.4" width="1.19" height="10.6" fill="#9370DB"/>
<rect x="361.44" y="779.4" width="1.14" height="10.6" fill="#A52A2A"/>
<rect x="362.44" y="779.4" width="0.72" height="10.6" fill="#9370DB"/>
<rect x="363.01" y="779.4" width="0.69" height="10.6" fill="#6B8E23"/>
<rect x="363.55" y="779.4" width="7.73" height="10.6" fill="#FF00FF"/>
<rect x="371.13" y="779.4" width="1.44" height="10.6" fill="#A020F0"/>
<rect x="372.43" y="779.4" width="0.91" height="10.6" fill="#9370DB"/>
<rect x="373.19" y="779.4" width="0.56" height="10.6" fill="#FA8072"/>
<rect x="373.59" y="779.4" width="1.23" height="10.6" fill="#A020F0"/>
<rect x="374.67" y="779.4" width="0.65" height="10.6" fill="#9370DB"/>
<rect x="375.17" y="779.4" width="10.64" height="10.6" fill="#A020F0"/>
<rect x="385.66" y="779.4" width="1.15" height="10.6" fill="#9370DB"/>
<rect x="386.66" y="779.4" width="0.45" height="10.6" fill="#32CD32"/>
<rect x="386.90" y="779.4" width="0.70" height="10.6" fill="#FA8072"/>
<rect x="387.45" y="779.4" width="0.56" height="10.6" fill="#1E90FF"/>
<rect x="387.86" y="779.4" width="0.45" height="10.6" fill="#FFA500"/>
<rect x="388.15" y="779.4" width="0.57" height="10.6" fill="#A52A2A"/>
<rect x="388.58" y="779.4" width="0.68" height="10.6" fill="#808080"/>
<rect x="389.11" y="779.4" width="0.81" height="10.6" fill="#FFD700"/>
<rect x="389.78" y="779.4" width="0.62" height="10.6" fill="#BEBEBE"/>
<rect x="390.24" y="779.4" width="1.56" height="10.6" fill="#32CD32"/>
<rect x="391.65" y="779.4" width="0.65" height="10.6" fill="#FA8072"/>
<rect x="392.15" y="779.4" width="0.83" height="10.6" fill="#87CEEB"/>
<rect x="392.83" y="779.4" width="0.86" height="10.6" fill="#9370DB"/>
<rect x="393.55" y="779.4" width="0.45" height="10.6" fill="#FFD700"/>
<rect x="393.82" y="779.4" width="0.45" height="10.6" fill="#A52A2A"/>
<rect x="394.05" y="779.4" width="0.75" height="10.6" fill="#FFA500"/>
<rect x="394.66" y="779.4" width="0.81" height="10.6" fill="#FFD700"/>
<rect x="395.31" y="779.4" width="0.45" height="10.6" fill="#E8E070"/>
<rect x="395.56" y="779.4" width="0.45" height="10.6" fill="#9370DB"/>
<rect x="395.77" y="779.4" width="0.70" height="10.6" fill="#E8E070"/>
<rect x="396.32" y="779.4" width="0.71" height="10.6" fill="#A020F0"/>
<rect x="396.88" y="779.4" width="0.92" height="10.6" fill="#9370DB"/>
<rect x="397.65" y="779.4" width="0.54" height="10.6" fill="#BEBEBE"/>
<rect x="398.04" y="779.4" width="0.45" height="10.6" fill="#1E90FF"/>
<rect x="398.32" y="779.4" width="0.73" height="10.6" fill="#32CD32"/>
<rect x="398.90" y="779.4" width="0.45" height="10.6" fill="#A52A2A"/>
<rect x="399.17" y="779.4" width="0.74" height="10.6" fill="#FA8072"/>
<rect x="399.76" y="779.4" width="0.45" height="10.6" fill="#FFD700"/>
<rect x="400.05" y="779.4" width="0.51" height="10.6" fill="#FF69B4"/>
<rect x="400.42" y="779.4" width="0.89" height="10.6" fill="#BEBEBE"/>
<rect x="401.15" y="779.4" width="0.89" height="10.6" fill="#808080"/>
<rect x="401.90" y="779.4" width="0.81" height="10.6" fill="#32CD32"/>
<rect x="402.56" y="779.4" width="0.91" height="10.6" fill="#90EE90"/>
<rect x="403.32" y="779.4" width="0.45" height="10.6" fill="#BEBEBE"/>
<rect x="403.61" y="779.4" width="0.58" height="10.6" fill="#87CEEB"/>
<rect x="404.04" y="779.4" width="0.45" height="10.6" fill="#A020F0"/>
<rect x="404.27" y="779.4" width="0.74" height="10.6" fill="#DA70D6"/>
<rect x="404.86" y="779.4" width="0.64" height="10.6" fill="#BEBEBE"/>
<rect x="405.35" y="779.4" width="0.79" height="10.6" fill="#FFA500"/>
<rect x="405.99" y="779.4" width="0.45" height="10.6" fill="#90EE90"/>
<rect x="406.21" y="779.4" width="0.56" height="10.6" fill="#A020F0"/>
<rect x="406.63" y="779.4" width="0.56" height="10.6" fill="#32CD32"/>
<rect x="407.03" y="779.4" width="0.47" height="10.6" fill="#9370DB"/>
<rect x="407.36" y="779.4" width="0.45" height="10.6" fill="#FFD700"/>
<rect x="407.61" y="779.4" width="0.63" height="10.6" fill="#DA70D6"/>
<rect x="408.09" y="779.4" width="1.61" height="10.6" fill="#FFD700"/>
<rect x="409.55" y="779.4" width="0.85" height="10.6" fill="#DC143C"/>
<rect x="410.25" y="779.4" width="0.79" height="10.6" fill="#8B0000"/>
<rect x="410.89" y="779.4" width="0.54" height="10.6" fill="#BEBEBE"/>
<rect x="411.28" y="779.4" width="0.73" height="10.6" fill="#A52A2A"/>
<rect x="411.86" y="779.4" width="0.65" height="10.6" fill="#B22222"/>
<rect x="412.36" y="779.4" width="0.45" height="10.6" fill="#8B0000"/>
<rect x="412.64" y="779.4" width="0.82" height="10.6" fill="#FF0000"/>
<rect x="413.31" y="779.4" width="0.93" height="10.6" fill="#B22222"/>
<rect x="414.09" y="779.4" width="0.83" height="10.6" fill="#DC143C"/>
<rect x="414.77" y="779.4" width="0.93" height="10.6" fill="#A52A2A"/>
<rect x="415.55" y="779.4" width="1.04" height="10.6" fill="#BEBEBE"/>
<rect x="416.44" y="779.4" width="1.08" height="10.6" fill="#FF0000"/>
<rect x="417.37" y="779.4" width="0.73" height="10.6" fill="#9370DB"/>
<rect x="417.95" y="779.4" width="0.89" height="10.6" fill="#DC143C"/>
<rect x="418.69" y="779.4" width="0.67" height="10.6" fill="#B22222"/>
<rect x="419.20" y="779.4" width="0.93" height="10.6" fill="#FFC0CB"/>
<rect x="419.99" y="779.4" width="1.61" height="10.6" fill="#DC143C"/>
<rect x="421.44" y="779.4" width="0.55" height="10.6" fill="#A52A2A"/>
<rect x="421.84" y="779.4" width="0.58" height="10.6" fill="#B22222"/>
<rect x="422.27" y="779.4" width="1.00" height="10.6" fill="#BEBEBE"/>
<rect x="423.12" y="779.4" width="0.80" height="10.6" fill="#A52A2A"/>
<rect x="423.77" y="779.4" width="0.71" height="10.6" fill="#FF0000"/>
<rect x="424.33" y="779.4" width="0.70" height="10.6" fill="#DC143C"/>
<rect x="424.88" y="779.4" width="0.61" height="10.6" fill="#A52A2A"/>
<rect x="425.34" y="779.4" width="1.34" height="10.6" fill="#8B0000"/>
<rect x="426.53" y="779.4" width="0.93" height="10.6" fill="#9370DB"/>
<rect x="427.30" y="779.4" width="0.93" height="10.6" fill="#B22222"/>
<rect x="428.09" y="779.4" width="0.46" height="10.6" fill="#DC143C"/>
<rect x="428.39" y="779.4" width="0.95" height="10.6" fill="#FF0000"/>
<rect x="429.19" y="779.4" width="0.45" height="10.6" fill="#8B0000"/>
<rect x="429.41" y="779.4" width="1.81" height="10.6" fill="#B22222"/>
<rect x="431.07" y="779.4" width="0.96" height="10.6" fill="#FF0000"/>
<rect x="431.88" y="779.4" width="0.45" height="10.6" fill="#B22222"/>
<rect x="432.06" y="779.4" width="5.11" height="10.6" fill="#D2B48C"/>
<rect x="437.02" y="779.4" width="39.07" height="10.6" fill="#0000FF"/>
<rect x="475.94" y="779.4" width="2.80" height="10.6" fill="#6B8E23"/>
<rect x="478.59" y="779.4" width="0.64" height="10.6" fill="#00FF00"/>
<rect x="479.08" y="779.4" width="1.58" height="10.6" fill="#A52A2A"/>
<rect x="480.51" y="779.4" width="0.71" height="10.6" fill="#6B8E23"/>
<rect x="481.07" y="779.4" width="3.92" height="10.6" fill="#00FF00"/>
<rect x="484.84" y="779.4" width="29.60" height="10.6" fill="#FFFF00"/>
<rect x="514.29" y="779.4" width="1.82" height="10.6" fill="#A52A2A"/>
<rect x="515.96" y="779.4" width="0.84" height="10.6" fill="#CD5C00"/>
<rect x="516.65" y="779.4" width="0.80" height="10.6" fill="#A52A2A"/>
<rect x="517.30" y="779.4" width="0.69" height="10.6" fill="#808000"/>
<rect x="517.83" y="779.4" width="0.52" height="10.6" fill="#A52A2A"/>
<rect x="518.21" y="779.4" width="0.45" height="10.6" fill="#CD5C00"/>
<rect x="518.43" y="779.4" width="1.82" height="10.6" fill="#A52A2A"/>
<rect x="520.11" y="779.4" width="0.68" height="10.6" fill="#FF0000"/>
<rect x="520.63" y="779.4" width="1.47" height="10.6" fill="#A52A2A"/>
<rect x="521.95" y="779.4" width="0.52" height="10.6" fill="#FF0000"/>
<rect x="522.32" y="779.4" width="1.00" height="10.6" fill="#A52A2A"/>
<rect x="523.16" y="779.4" width="1.20" height="10.6" fill="#FF0000"/>
<rect x="524.22" y="779.4" width="3.82" height="10.6" fill="#A52A2A"/>
<rect x="527.88" y="779.4" width="0.94" height="10.6" fill="#FF0000"/>
<rect x="528.68" y="779.4" width="1.58" height="10.6" fill="#A52A2A"/>
<rect x="530.11" y="779.4" width="1.46" height="10.6" fill="#FF0000"/>
<rect x="531.42" y="779.4" width="0.64" height="10.6" fill="#A52A2A"/>
<rect x="531.91" y="779.4" width="14.97" height="10.6" fill="#00FF00"/>
<rect x="546.72" y="779.4" width="2.28" height="10.6" fill="#A52A2A"/>
<rect x="548.85" y="779.4" width="3.69" height="10.6" fill="#FF0000"/>
<rect x="552.39" y="779.4" width="2.63" height="10.6" fill="#A52A2A"/>
<rect x="554.87" y="779.4" width="5.82" height="10.6" fill="#FF0000"/>
<rect x="560.54" y="779.4" width="12.27" height="10.6" fill="#A52A2A"/>
<rect x="572.67" y="779.4" width="53.71" height="10.6" fill="#40E0D0"/>
<rect x="626.22" y="779.4" width="15.92" height="10.6" fill="#FFC0CB"/>
<rect x="641.99" y="779.4" width="1.99" height="10.6" fill="#9060C0"/>
<rect x="643.84" y="779.4" width="2.28" height="10.6" fill="#C040E0"/>
<rect x="645.96" y="779.4" width="2.99" height="10.6" fill="#FF00FF"/>
<rect x="648.80" y="779.4" width="1.21" height="10.6" fill="#BEBEBE"/>
<rect x="649.86" y="779.4" width="1.92" height="10.6" fill="#2020F0"/>
<rect x="651.63" y="779.4" width="1.57" height="10.6" fill="#B0A0E0"/>
<rect x="653.05" y="779.4" width="0.86" height="10.6" fill="#7A8A30"/>
<rect x="653.76" y="779.4" width="1.57" height="10.6" fill="#00EE00"/>
<rect x="655.18" y="779.4" width="0.86" height="10.6" fill="#B8B0D0"/>
<rect x="655.89" y="779.4" width="1.92" height="10.6" fill="#00EE00"/>
<rect x="657.66" y="779.4" width="0.86" height="10.6" fill="#BEBEBE"/>
<rect x="658.37" y="779.4" width="2.99" height="10.6" fill="#10E010"/>
<rect x="661.20" y="779.4" width="1.92" height="10.6" fill="#B8B0D0"/>
<rect x="662.98" y="779.4" width="1.21" height="10.6" fill="#1010F0"/>
<rect x="664.04" y="779.4" width="1.57" height="10.6" fill="#BEBEBE"/>
<rect x="665.46" y="779.4" width="1.21" height="10.6" fill="#B0A0E0"/>
<rect x="666.52" y="779.4" width="1.21" height="10.6" fill="#1010F0"/>
<rect x="667.58" y="779.4" width="1.21" height="10.6" fill="#BEBEBE"/>
<rect x="668.65" y="779.4" width="2.70" height="10.6" fill="#1818F0"/>
<rect x="240.1" y="801.00" width="11" height="2.28" fill="#BEBEBE"/>
<rect x="240.1" y="803.13" width="11" height="0.82" fill="#9370DB"/>
<rect x="240.1" y="803.80" width="11" height="1.07" fill="#C8B8E0"/>
<rect x="240.1" y="804.72" width="11" height="0.45" fill="#DA70D6"/>
<rect x="240.1" y="804.97" width="11" height="0.67" fill="#C8B8E0"/>
<rect x="240.1" y="805.49" width="11" height="0.66" fill="#9370DB"/>
<rect x="240.1" y="806.00" width="11" height="0.90" fill="#BEBEBE"/>
<rect x="240.1" y="806.75" width="11" height="0.92" fill="#B0C4DE"/>
<rect x="240.1" y="807.52" width="11" height="1.24" fill="#C8B8E0"/>
<rect x="240.1" y="808.61" width="11" height="0.53" fill="#BEBEBE"/>
<rect x="240.1" y="808.99" width="11" height="0.53" fill="#708090"/>
<rect x="240.1" y="809.37" width="11" height="0.92" fill="#7B68EE"/>
<rect x="240.1" y="810.14" width="11" height="0.45" fill="#6A5ACD"/>
<rect x="240.1" y="810.32" width="11" height="0.85" fill="#C8D0A8"/>
<rect x="240.1" y="811.02" width="11" height="0.45" fill="#BEBEBE"/>
<rect x="240.1" y="811.31" width="11" height="0.58" fill="#8080E0"/>
<rect x="240.1" y="811.73" width="11" height="0.68" fill="#7B68EE"/>
<rect x="240.1" y="812.26" width="11" height="0.47" fill="#4682B4"/>
<rect x="240.1" y="812.57" width="11" height="0.75" fill="#F0E68C"/>
<rect x="240.1" y="813.18" width="11" height="0.81" fill="#DDA0DD"/>
<rect x="240.1" y="813.84" width="11" height="0.85" fill="#C8B8E0"/>
<rect x="240.1" y="814.55" width="11" height="0.81" fill="#4682B4"/>
<rect x="240.1" y="815.21" width="11" height="0.45" fill="#2E8B8B"/>
<rect x="240.1" y="815.49" width="11" height="0.64" fill="#6A5ACD"/>
<rect x="240.1" y="815.98" width="11" height="0.45" fill="#C8B8E0"/>
<rect x="240.1" y="816.19" width="11" height="0.92" fill="#F0E68C"/>
<rect x="240.1" y="816.96" width="11" height="0.45" fill="#DDA0DD"/>
<rect x="240.1" y="817.22" width="11" height="0.65" fill="#C8B8E0"/>
<rect x="240.1" y="817.72" width="11" height="1.13" fill="#BEBEBE"/>
<rect x="240.1" y="818.70" width="11" height="0.93" fill="#8080E0"/>
<rect x="240.1" y="819.48" width="11" height="0.80" fill="#C8D0A8"/>
<rect x="240.1" y="820.13" width="11" height="0.55" fill="#7B68EE"/>
<rect x="240.1" y="820.53" width="11" height="0.79" fill="#E0A0C8"/>
<rect x="240.1" y="821.17" width="11" height="0.74" fill="#2E8B8B"/>
<rect x="240.1" y="821.75" width="11" height="0.58" fill="#6A5ACD"/>
<rect x="240.1" y="822.18" width="11" height="0.45" fill="#C8D0A8"/>
<rect x="240.1" y="822.48" width="11" height="0.75" fill="#4682B4"/>
<rect x="240.1" y="823.08" width="11" height="0.45" fill="#C8B8E0"/>
<rect x="240.1" y="823.31" width="11" height="0.91" fill="#DDA0DD"/>
<rect x="240.1" y="824.06" width="11" height="0.45" fill="#9370DB"/>
<rect x="240.1" y="824.34" width="11" height="0.45" fill="#4682B4"/>
<rect x="240.1" y="824.38" width="11" height="0.79" fill="#8B6A8B"/>
<rect x="240.1" y="825.02" width="11" height="2.31" fill="#5A0A6A"/>
<rect x="240.1" y="827.18" width="11" height="0.45" fill="#BEBEBE"/>
<rect x="240.1" y="827.36" width="11" height="0.63" fill="#C8B8E0"/>
<rect x="240.1" y="827.84" width="11" height="0.69" fill="#B0E0E6"/>
<rect x="240.1" y="828.38" width="11" height="0.45" fill="#E0A0C8"/>
<rect x="240.1" y="828.61" width="11" height="0.57" fill="#C8D0A8"/>
<rect x="240.1" y="829.03" width="11" height="0.90" fill="#B0C4DE"/>
<rect x="240.1" y="829.79" width="11" height="0.47" fill="#8080E0"/>
<rect x="240.1" y="830.11" width="11" height="0.45" fill="#9370DB"/>
<rect x="240.1" y="830.30" width="11" height="0.56" fill="#C8B8E0"/>
<rect x="240.1" y="830.72" width="11" height="0.74" fill="#4682B4"/>
<rect x="240.1" y="831.31" width="11" height="0.48" fill="#B0C4DE"/>
<rect x="240.1" y="831.63" width="11" height="0.74" fill="#9370DB"/>
<rect x="240.1" y="832.23" width="11" height="0.45" fill="#DA70D6"/>
<rect x="240.1" y="832.44" width="11" height="0.45" fill="#2E8B8B"/>
<rect x="240.1" y="832.74" width="11" height="0.45" fill="#C8B8E0"/>
<rect x="240.1" y="833.04" width="11" height="0.87" fill="#9370DB"/>
<rect x="240.1" y="833.75" width="11" height="0.50" fill="#4682B4"/>
<rect x="240.1" y="834.11" width="11" height="0.74" fill="#7B68EE"/>
<rect x="240.1" y="834.70" width="11" height="0.81" fill="#9370DB"/>
<rect x="240.1" y="835.36" width="11" height="0.58" fill="#B0C4DE"/>
<rect x="240.1" y="835.79" width="11" height="0.64" fill="#2E8B8B"/>
<rect x="240.1" y="836.28" width="11" height="0.71" fill="#BEBEBE"/>
<rect x="240.1" y="836.84" width="11" height="0.75" fill="#7B68EE"/>
<rect x="240.1" y="837.44" width="11" height="0.74" fill="#B0C4DE"/>
<rect x="240.1" y="838.03" width="11" height="0.60" fill="#9370DB"/>
<rect x="240.1" y="838.47" width="11" height="0.77" fill="#E0A0C8"/>
<rect x="240.1" y="839.10" width="11" height="0.49" fill="#BEBEBE"/>
<rect x="240.1" y="839.43" width="11" height="0.53" fill="#8080E0"/>
<rect x="240.1" y="839.82" width="11" height="0.73" fill="#2E8B8B"/>
<rect x="240.1" y="840.40" width="11" height="0.45" fill="#BEBEBE"/>
<rect x="240.1" y="840.43" width="11" height="1.18" fill="#D070C0"/>
<rect x="240.1" y="841.46" width="11" height="0.56" fill="#C8B0E8"/>
<rect x="240.1" y="841.87" width="11" height="0.82" fill="#BEBEBE"/>
<rect x="240.1" y="842.53" width="11" height="0.45" fill="#90EE90"/>
<rect x="240.1" y="842.76" width="11" height="1.16" fill="#9380D8"/>
<rect x="240.1" y="843.77" width="11" height="0.88" fill="#D070C0"/>
<rect x="240.1" y="844.50" width="11" height="0.61" fill="#9380D8"/>
<rect x="240.1" y="844.96" width="11" height="0.45" fill="#E040E0"/>
<rect x="240.1" y="845.22" width="11" height="0.86" fill="#F4C090"/>
<rect x="240.1" y="845.93" width="11" height="0.54" fill="#9380D8"/>
<rect x="240.1" y="846.32" width="11" height="0.45" fill="#708090"/>
<rect x="240.1" y="846.56" width="11" height="0.47" fill="#E040E0"/>
<rect x="240.1" y="846.88" width="11" height="0.57" fill="#F0E68C"/>
<rect x="240.1" y="847.30" width="11" height="0.52" fill="#BEBEBE"/>
<rect x="240.1" y="847.66" width="11" height="0.45" fill="#E040E0"/>
<rect x="240.1" y="847.90" width="11" height="0.70" fill="#A06080"/>
<rect x="240.1" y="848.45" width="11" height="0.60" fill="#E040E0"/>
<rect x="240.1" y="848.90" width="11" height="0.85" fill="#708090"/>
<rect x="240.1" y="849.60" width="11" height="0.68" fill="#D04060"/>
<rect x="240.1" y="850.14" width="11" height="0.85" fill="#D070C0"/>
<rect x="240.1" y="850.84" width="11" height="0.61" fill="#9380D8"/>
<rect x="240.1" y="851.30" width="11" height="1.19" fill="#BEBEBE"/>
<rect x="240.1" y="852.34" width="11" height="1.26" fill="#9380D8"/>
<rect x="240.1" y="853.45" width="11" height="0.54" fill="#2E8B8B"/>
<rect x="240.1" y="853.84" width="11" height="0.45" fill="#E040E0"/>
<rect x="240.1" y="854.10" width="11" height="1.18" fill="#708090"/>
<rect x="240.1" y="855.13" width="11" height="0.45" fill="#C8B0E8"/>
<rect x="240.1" y="855.43" width="11" height="0.54" fill="#D070C0"/>
<rect x="240.1" y="855.81" width="11" height="0.45" fill="#8B8B40"/>
<rect x="240.1" y="856.06" width="11" height="0.45" fill="#D070C0"/>
<rect x="240.1" y="856.27" width="11" height="0.48" fill="#ADD8E6"/>
<rect x="240.1" y="856.60" width="11" height="0.45" fill="#D04060"/>
<rect x="240.1" y="856.89" width="11" height="0.49" fill="#F0E68C"/>
<rect x="240.1" y="857.22" width="11" height="0.99" fill="#C8B0E8"/>
<rect x="240.1" y="858.07" width="11" height="0.93" fill="#E040E0"/>
<rect x="240.1" y="858.85" width="11" height="0.95" fill="#A06080"/>
<rect x="240.1" y="859.66" width="11" height="0.45" fill="#ADD8E6"/>
<rect x="240.1" y="859.94" width="11" height="0.90" fill="#9380D8"/>
<rect x="240.1" y="860.69" width="11" height="0.46" fill="#2E8B8B"/>
<rect x="240.1" y="861.00" width="11" height="0.84" fill="#E040E0"/>
<rect x="240.1" y="861.69" width="11" height="0.45" fill="#90EE90"/>
<rect x="240.1" y="861.95" width="11" height="0.49" fill="#F0E68C"/>
<rect x="240.1" y="862.29" width="11" height="0.48" fill="#4169E1"/>
<rect x="240.1" y="862.62" width="11" height="1.35" fill="#A06080"/>
<rect x="240.1" y="863.81" width="11" height="0.91" fill="#C8B0E8"/>
<rect x="240.1" y="864.57" width="11" height="0.45" fill="#9380D8"/>
<rect x="240.1" y="864.82" width="11" height="0.94" fill="#C8B0E8"/>
<rect x="240.1" y="865.61" width="11" height="1.21" fill="#4169E1"/>
<rect x="240.1" y="866.68" width="11" height="0.45" fill="#90EE90"/>
<rect x="240.1" y="866.93" width="11" height="0.53" fill="#E040E0"/>
<rect x="240.1" y="867.31" width="11" height="0.45" fill="#ADD8E6"/>
<rect x="240.1" y="867.60" width="11" height="0.98" fill="#4169E1"/>
<rect x="240.1" y="868.43" width="11" height="0.71" fill="#A06080"/>
<rect x="240.1" y="868.99" width="11" height="0.86" fill="#D04060"/>
<rect x="240.1" y="869.71" width="11" height="0.67" fill="#E08060"/>
<rect x="240.1" y="870.23" width="11" height="0.45" fill="#C8B0E8"/>
<rect x="240.1" y="870.43" width="11" height="0.93" fill="#E08060"/>
<rect x="240.1" y="871.21" width="11" height="0.46" fill="#D04060"/>
<rect x="240.1" y="871.52" width="11" height="0.45" fill="#4169E1"/>
<rect x="240.1" y="871.53" width="11" height="6.88" fill="#ADFF2F"/>
<rect x="240.1" y="878.27" width="11" height="0.55" fill="#D8BFD8"/>
<rect x="240.1" y="878.66" width="11" height="2.15" fill="#8B008B"/>
<rect x="240.1" y="880.66" width="11" height="0.76" fill="#A020F0"/>
<rect x="240.1" y="881.28" width="11" height="11.98" fill="#000000"/>
<rect x="240.1" y="893.11" width="11" height="1.03" fill="#A020F0"/>
<rect x="240.1" y="893.99" width="11" height="0.47" fill="#BEBEBE"/>
<rect x="240.1" y="894.31" width="11" height="1.81" fill="#A020F0"/>
<rect x="240.1" y="895.97" width="11" height="0.91" fill="#9370DB"/>
<rect x="240.1" y="896.73" width="11" height="2.78" fill="#BEBEBE"/>
<rect x="240.1" y="899.36" width="11" height="1.19" fill="#9370DB"/>
<rect x="240.1" y="900.39" width="11" height="1.14" fill="#A52A2A"/>
<rect x="240.1" y="901.39" width="11" height="0.72" fill="#9370DB"/>
<rect x="240.1" y="901.96" width="11" height="0.69" fill="#6B8E23"/>
<rect x="240.1" y="902.50" width="11" height="7.73" fill="#FF00FF"/>
<rect x="240.1" y="910.08" width="11" height="1.44" fill="#A020F0"/>
<rect x="240.1" y="911.37" width="11" height="0.91" fill="#9370DB"/>
<rect x="240.1" y="912.13" width="11" height="0.56" fill="#FA8072"/>
<rect x="240.1" y="912.54" width="11" height="1.23" fill="#A020F0"/>
<rect x="240.1" y="913.62" width="11" height="0.65" fill="#9370DB"/>
<rect x="240.1" y="914.12" width="11" height="10.64" fill="#A020F0"/>
<rect x="240.1" y="924.60" width="11" height="1.15" fill="#9370DB"/>
<rect x="240.1" y="925.60" width="11" height="0.45" fill="#32CD32"/>
<rect x="240.1" y="925.84" width="11" height="0.70" fill="#FA8072"/>
<rect x="240.1" y="926.39" width="11" height="0.56" fill="#1E90FF"/>
<rect x="240.1" y="926.80" width="11" height="0.45" fill="#FFA500"/>
<rect x="240.1" y="927.09" width="11" height="0.57" fill="#A52A2A"/>
<rect x="240.1" y="927.52" width="11" height="0.68" fill="#808080"/>
<rect x="240.1" y="928.05" width="11" height="0.81" fill="#FFD700"/>
<rect x="240.1" y="928.71" width="11" height="0.62" fill="#BEBEBE"/>
<rect x="240.1" y="929.18" width="11" height="1.56" fill="#32CD32"/>
<rect x="240.1" y="930.59" width="11" height="0.65" fill="#FA8072"/>
<rect x="240.1" y="931.09" width="11" height="0.83" fill="#87CEEB"/>
<rect x="240.1" y="931.77" width="11" height="0.86" fill="#9370DB"/>
<rect x="240.1" y="932.48" width="11" height="0.45" fill="#FFD700"/>
<rect x="240.1" y="932.75" width="11" height="0.45" fill="#A52A2A"/>
<rect x="240.1" y="932.99" width="11" height="0.75" fill="#FFA500"/>
<rect x="240.1" y="933.59" width="11" height="0.81" fill="#FFD700"/>
<rect x="240.1" y="934.25" width="11" height="0.45" fill="#E8E070"/>
<rect x="240.1" y="934.50" width="11" height="0.45" fill="#9370DB"/>
<rect x="240.1" y="934.71" width="11" height="0.70" fill="#E8E070"/>
<rect x="240.1" y="935.25" width="11" height="0.71" fill="#A020F0"/>
<rect x="240.1" y="935.82" width="11" height="0.92" fill="#9370DB"/>
<rect x="240.1" y="936.58" width="11" height="0.54" fill="#BEBEBE"/>
<rect x="240.1" y="936.97" width="11" height="0.45" fill="#1E90FF"/>
<rect x="240.1" y="937.25" width="11" height="0.73" fill="#32CD32"/>
<rect x="240.1" y="937.83" width="11" height="0.45" fill="#A52A2A"/>
<rect x="240.1" y="938.10" width="11" height="0.74" fill="#FA8072"/>
<rect x="240.1" y="938.69" width="11" height="0.45" fill="#FFD700"/>
<rect x="240.1" y="938.98" width="11" height="0.51" fill="#FF69B4"/>
<rect x="240.1" y="939.35" width="11" height="0.89" fill="#BEBEBE"/>
<rect x="240.1" y="940.09" width="11" height="0.89" fill="#808080"/>
<rect x="240.1" y="940.83" width="11" height="0.81" fill="#32CD32"/>
<rect x="240.1" y="941.49" width="11" height="0.91" fill="#90EE90"/>
<rect x="240.1" y="942.25" width="11" height="0.45" fill="#BEBEBE"/>
<rect x="240.1" y="942.54" width="11" height="0.58" fill="#87CEEB"/>
<rect x="240.1" y="942.97" width="11" height="0.45" fill="#A020F0"/>
<rect x="240.1" y="943.20" width="11" height="0.74" fill="#DA70D6"/>
<rect x="240.1" y="943.79" width="11" height="0.64" fill="#BEBEBE"/>
<rect x="240.1" y="944.28" width="11" height="0.79" fill="#FFA500"/>
<rect x="240.1" y="944.92" width="11" height="0.45" fill="#90EE90"/>
<rect x="240.1" y="945.14" width="11" height="0.56" fill="#A020F0"/>
<rect x="240.1" y="945.56" width="11" height="0.56" fill="#32CD32"/>
<rect x="240.1" y="945.96" width="11" height="0.47" fill="#9370DB"/>
<rect x="240.1" y="946.29" width="11" height="0.45" fill="#FFD700"/>
<rect x="240.1" y="946.54" width="11" height="0.63" fill="#DA70D6"/>
<rect x="240.1" y="947.02" width="11" height="1.61" fill="#FFD700"/>
<rect x="240.1" y="948.48" width="11" height="0.85" fill="#DC143C"/>
<rect x="240.1" y="949.18" width="11" height="0.79" fill="#8B0000"/>
<rect x="240.1" y="949.82" width="11" height="0.54" fill="#BEBEBE"/>
<rect x="240.1" y="950.21" width="11" height="0.73" fill="#A52A2A"/>
<rect x="240.1" y="950.79" width="11" height="0.65" fill="#B22222"/>
<rect x="240.1" y="951.29" width="11" height="0.45" fill="#8B0000"/>
<rect x="240.1" y="951.57" width="11" height="0.82" fill="#FF0000"/>
<rect x="240.1" y="952.24" width="11" height="0.93" fill="#B22222"/>
<rect x="240.1" y="953.02" width="11" height="0.83" fill="#DC143C"/>
<rect x="240.1" y="953.70" width="11" height="0.93" fill="#A52A2A"/>
<rect x="240.1" y="954.48" width="11" height="1.04" fill="#BEBEBE"/>
<rect x="240.1" y="955.37" width="11" height="1.08" fill="#FF0000"/>
<rect x="240.1" y="956.29" width="11" height="0.73" fill="#9370DB"/>
<rect x="240.1" y="956.87" width="11" height="0.89" fill="#DC143C"/>
<rect x="240.1" y="957.61" width="11" height="0.66" fill="#B22222"/>
<rect x="240.1" y="958.13" width="11" height="0.93" fill="#FFC0CB"/>
<rect x="240.1" y="958.91" width="11" height="1.61" fill="#DC143C"/>
<rect x="240.1" y="960.36" width="11" height="0.55" fill="#A52A2A"/>
<rect x="240.1" y="960.76" width="11" height="0.58" fill="#B22222"/>
<rect x="240.1" y="961.20" width="11" height="1.00" fill="#BEBEBE"/>
<rect x="240.1" y="962.04" width="11" height="0.80" fill="#A52A2A"/>
<rect x="240.1" y="962.69" width="11" height="0.71" fill="#FF0000"/>
<rect x="240.1" y="963.25" width="11" height="0.70" fill="#DC143C"/>
<rect x="240.1" y="963.80" width="11" height="0.61" fill="#A52A2A"/>
<rect x="240.1" y="964.26" width="11" height="1.34" fill="#8B0000"/>
<rect x="240.1" y="965.45" width="11" height="0.93" fill="#9370DB"/>
<rect x="240.1" y="966.22" width="11" height="0.93" fill="#B22222"/>
<rect x="240.1" y="967.00" width="11" height="0.46" fill="#DC143C"/>
<rect x="240.1" y="967.31" width="11" height="0.95" fill="#FF0000"/>
<rect x="240.1" y="968.11" width="11" height="0.45" fill="#8B0000"/>
<rect x="240.1" y="968.33" width="11" height="1.81" fill="#B22222"/>
<rect x="240.1" y="969.99" width="11" height="0.96" fill="#FF0000"/>
<rect x="240.1" y="970.80" width="11" height="0.45" fill="#B22222"/>
<rect x="240.1" y="970.98" width="11" height="5.11" fill="#D2B48C"/>
<rect x="240.1" y="975.94" width="11" height="39.05" fill="#0000FF"/>
<rect x="240.1" y="1014.83" width="11" height="2.79" fill="#6B8E23"/>
<rect x="240.1" y="1017.48" width="11" height="0.64" fill="#00FF00"/>
<rect x="240.1" y="1017.97" width="11" height="1.58" fill="#A52A2A"/>
<rect x="240.1" y="1019.40" width="11" height="0.71" fill="#6B8E23"/>
<rect x="240.1" y="1019.96" width="11" height="3.91" fill="#00FF00"/>
<rect x="240.1" y="1023.73" width="11" height="29.59" fill="#FFFF00"/>
<rect x="240.1" y="1053.17" width="11" height="1.82" fill="#A52A2A"/>
<rect x="240.1" y="1054.84" width="11" height="0.84" fill="#CD5C00"/>
<rect x="240.1" y="1055.52" width="11" height="0.80" fill="#A52A2A"/>
<rect x="240.1" y="1056.17" width="11" height="0.69" fill="#808000"/>
<rect x="240.1" y="1056.71" width="11" height="0.52" fill="#A52A2A"/>
<rect x="240.1" y="1057.08" width="11" height="0.45" fill="#CD5C00"/>
<rect x="240.1" y="1057.31" width="11" height="1.82" fill="#A52A2A"/>
<rect x="240.1" y="1058.98" width="11" height="0.68" fill="#FF0000"/>
<rect x="240.1" y="1059.51" width="11" height="1.47" fill="#A52A2A"/>
<rect x="240.1" y="1060.83" width="11" height="0.52" fill="#FF0000"/>
<rect x="240.1" y="1061.19" width="11" height="0.99" fill="#A52A2A"/>
<rect x="240.1" y="1062.04" width="11" height="1.20" fill="#FF0000"/>
<rect x="240.1" y="1063.09" width="11" height="3.82" fill="#A52A2A"/>
<rect x="240.1" y="1066.75" width="11" height="0.94" fill="#FF0000"/>
<rect x="240.1" y="1067.55" width="11" height="1.58" fill="#A52A2A"/>
<rect x="240.1" y="1068.98" width="11" height="1.46" fill="#FF0000"/>
<rect x="240.1" y="1070.29" width="11" height="0.64" fill="#A52A2A"/>
<rect x="240.1" y="1070.77" width="11" height="14.96" fill="#00FF00"/>
<rect x="240.1" y="1085.58" width="11" height="2.28" fill="#A52A2A"/>
<rect x="240.1" y="1087.71" width="11" height="3.69" fill="#FF0000"/>
<rect x="240.1" y="1091.25" width="11" height="2.63" fill="#A52A2A"/>
<rect x="240.1" y="1093.73" width="11" height="5.82" fill="#FF0000"/>
<rect x="240.1" y="1099.40" width="11" height="12.27" fill="#A52A2A"/>
<rect x="240.1" y="1111.51" width="11" height="53.68" fill="#40E0D0"/>
<rect x="240.1" y="1165.04" width="11" height="15.91" fill="#FFC0CB"/>
<rect x="240.1" y="1180.81" width="11" height="1.99" fill="#9060C0"/>
<rect x="240.1" y="1182.65" width="11" height="2.28" fill="#C040E0"/>
<rect x="240.1" y="1184.78" width="11" height="2.98" fill="#FF00FF"/>
<rect x="240.1" y="1187.61" width="11" height="1.21" fill="#BEBEBE"/>
<rect x="240.1" y="1188.67" width="11" height="1.92" fill="#2020F0"/>
<rect x="240.1" y="1190.44" width="11" height="1.57" fill="#B0A0E0"/>
<rect x="240.1" y="1191.86" width="11" height="0.86" fill="#7A8A30"/>
<rect x="240.1" y="1192.57" width="11" height="1.57" fill="#00EE00"/>
<rect x="240.1" y="1193.99" width="11" height="0.86" fill="#B8B0D0"/>
<rect x="240.1" y="1194.70" width="11" height="1.92" fill="#00EE00"/>
<rect x="240.1" y="1196.47" width="11" height="0.86" fill="#BEBEBE"/>
<rect x="240.1" y="1197.18" width="11" height="2.98" fill="#10E010"/>
<rect x="240.1" y="1200.01" width="11" height="1.92" fill="#B8B0D0"/>
<rect x="240.1" y="1201.78" width="11" height="1.21" fill="#1010F0"/>
<rect x="240.1" y="1202.84" width="11" height="1.57" fill="#BEBEBE"/>
<rect x="240.1" y="1204.26" width="11" height="1.21" fill="#B0A0E0"/>
<rect x="240.1" y="1205.32" width="11" height="1.21" fill="#1010F0"/>
<rect x="240.1" y="1206.39" width="11" height="1.21" fill="#BEBEBE"/>
<rect x="240.1" y="1207.45" width="11" height="2.70" fill="#1818F0"/>
<defs><linearGradient id="hx" x1="0" y1="0" x2="1" y2="0"><stop offset="0" stop-color="#8A2741" stop-opacity="0"/><stop offset="0.45" stop-color="#A02A38" stop-opacity="0.35"/><stop offset="0.75" stop-color="#C83A28" stop-opacity="0.9"/><stop offset="0.92" stop-color="#EE7A24"/><stop offset="1" stop-color="#FFE39A"/></linearGradient><linearGradient id="hy" x1="0" y1="0" x2="0" y2="1"><stop offset="0" stop-color="#8A2741" stop-opacity="0"/><stop offset="0.45" stop-color="#A02A38" stop-opacity="0.35"/><stop offset="0.75" stop-color="#C83A28" stop-opacity="0.9"/><stop offset="0.92" stop-color="#EE7A24"/><stop offset="1" stop-color="#FFE39A"/></linearGradient><linearGradient id="my" x1="0" y1="0" x2="0" y2="1"><stop offset="0" stop-color="#000"/><stop offset="0.4" stop-color="#1a1a1a"/><stop offset="0.8" stop-color="#808080"/><stop offset="0.93" stop-color="#d0d0d0"/><stop offset="1" stop-color="#fff"/></linearGradient><linearGradient id="mx" x1="0" y1="0" x2="1" y2="0"><stop offset="0" stop-color="#000"/><stop offset="0.4" stop-color="#1a1a1a"/><stop offset="0.8" stop-color="#808080"/><stop offset="0.93" stop-color="#d0d0d0"/><stop offset="1" stop-color="#fff"/></linearGradient><mask id="mky" maskContentUnits="objectBoundingBox"><rect width="1" height="1" fill="url(#my)"/></mask><mask id="mkx" maskContentUnits="objectBoundingBox"><rect width="1" height="1" fill="url(#mx)"/></mask></defs>
<rect x="262" y="801" width="409.2" height="409" fill="#8A2741"/>
<rect x="473.2" y="985.0" width="1.71" height="1.71" fill="#92283C"/>
<rect x="474.7" y="985.0" width="1.71" height="1.71" fill="#9F2A35"/>
<rect x="473.2" y="986.5" width="1.71" height="1.71" fill="#91283D"/>
<rect x="474.7" y="986.5" width="1.71" height="1.71" fill="#9A2937"/>
<rect x="473.2" y="988.0" width="1.71" height="1.71" fill="#97293A"/>
<rect x="474.7" y="988.0" width="1.71" height="1.71" fill="#AB2D2F"/>
<rect x="473.2" y="989.5" width="1.71" height="1.71" fill="#93283C"/>
<rect x="474.7" y="989.5" width="1.71" height="1.71" fill="#A02A34"/>
<rect x="473.2" y="991.0" width="1.71" height="1.71" fill="#94283B"/>
<rect x="474.7" y="991.0" width="1.71" height="1.71" fill="#A42B32"/>
<rect x="473.2" y="992.5" width="1.71" height="1.71" fill="#9C2936"/>
<rect x="474.7" y="992.5" width="1.71" height="1.71" fill="#BB3126"/>
<rect x="473.2" y="994.1" width="1.71" height="1.71" fill="#9C2936"/>
<rect x="474.7" y="994.1" width="1.71" height="1.71" fill="#BC3126"/>
<rect x="468.6" y="995.6" width="4.73" height="1.71" fill="#93283C"/>
<rect x="473.2" y="995.6" width="1.71" height="1.71" fill="#A02A34"/>
<rect x="474.7" y="995.6" width="1.71" height="1.71" fill="#C63421"/>
<rect x="462.6" y="997.1" width="10.77" height="1.71" fill="#92283C"/>
<rect x="473.2" y="997.1" width="1.71" height="1.71" fill="#A72C31"/>
<rect x="474.7" y="997.1" width="1.71" height="1.71" fill="#D3441E"/>
<rect x="461.1" y="998.6" width="7.75" height="1.71" fill="#92283D"/>
<rect x="468.6" y="998.6" width="4.73" height="1.71" fill="#992938"/>
<rect x="473.2" y="998.6" width="1.71" height="1.71" fill="#A92C2F"/>
<rect x="474.7" y="998.6" width="1.71" height="1.71" fill="#D84A1D"/>
<rect x="459.6" y="1000.1" width="9.26" height="1.71" fill="#92283D"/>
<rect x="468.6" y="1000.1" width="4.73" height="1.71" fill="#9C2936"/>
<rect x="473.2" y="1000.1" width="1.71" height="1.71" fill="#AC2D2E"/>
<rect x="474.7" y="1000.1" width="1.71" height="1.71" fill="#DC4F1C"/>
<rect x="458.1" y="1001.6" width="7.75" height="1.71" fill="#92283C"/>
<rect x="465.6" y="1001.6" width="3.22" height="1.71" fill="#9A2938"/>
<rect x="468.6" y="1001.6" width="4.73" height="1.71" fill="#A12A34"/>
<rect x="473.2" y="1001.6" width="1.71" height="1.71" fill="#B12E2B"/>
<rect x="474.7" y="1001.6" width="1.71" height="1.71" fill="#E65E1A"/>
<rect x="458.1" y="1003.1" width="7.75" height="1.71" fill="#91283D"/>
<rect x="465.6" y="1003.1" width="6.24" height="1.71" fill="#992938"/>
<rect x="471.7" y="1003.1" width="1.71" height="1.71" fill="#A02A34"/>
<rect x="473.2" y="1003.1" width="1.71" height="1.71" fill="#AB2D2E"/>
<rect x="474.7" y="1003.1" width="1.71" height="1.71" fill="#DB4E1C"/>
<rect x="458.1" y="1004.6" width="4.73" height="1.71" fill="#93283C"/>
<rect x="462.6" y="1004.6" width="6.24" height="1.71" fill="#9A2938"/>
<rect x="468.6" y="1004.6" width="4.73" height="1.71" fill="#A42B32"/>
<rect x="473.2" y="1004.6" width="1.71" height="1.71" fill="#B02E2C"/>
<rect x="474.7" y="1004.6" width="1.71" height="1.71" fill="#E35A1B"/>
<rect x="458.1" y="1006.1" width="7.75" height="1.71" fill="#92283C"/>
<rect x="465.6" y="1006.1" width="3.22" height="1.71" fill="#992938"/>
<rect x="468.6" y="1006.1" width="4.73" height="1.71" fill="#A02A34"/>
<rect x="473.2" y="1006.1" width="1.71" height="1.71" fill="#A92C2F"/>
<rect x="474.7" y="1006.1" width="1.71" height="1.71" fill="#D6481D"/>
<rect x="456.6" y="1007.6" width="4.73" height="1.71" fill="#93283C"/>
<rect x="461.1" y="1007.6" width="4.73" height="1.71" fill="#9C2936"/>
<rect x="465.6" y="1007.6" width="3.22" height="1.71" fill="#A42B32"/>
<rect x="468.6" y="1007.6" width="4.73" height="1.71" fill="#B12E2C"/>
<rect x="473.2" y="1007.6" width="1.71" height="1.71" fill="#C03224"/>
<rect x="474.7" y="1007.6" width="1.71" height="1.71" fill="#EE7D24"/>
<rect x="456.6" y="1009.2" width="3.22" height="1.71" fill="#92283C"/>
<rect x="459.6" y="1009.2" width="3.22" height="1.71" fill="#992938"/>
<rect x="462.6" y="1009.2" width="6.24" height="1.71" fill="#A02A34"/>
<rect x="468.6" y="1009.2" width="4.73" height="1.71" fill="#AF2E2C"/>
<rect x="473.2" y="1009.2" width="1.71" height="1.71" fill="#BE3125"/>
<rect x="474.7" y="1009.2" width="1.71" height="1.71" fill="#EB6F1F"/>
<rect x="456.6" y="1010.7" width="3.22" height="1.71" fill="#93283C"/>
<rect x="459.6" y="1010.7" width="3.22" height="1.71" fill="#9A2938"/>
<rect x="462.6" y="1010.7" width="6.24" height="1.71" fill="#A22A33"/>
<rect x="468.6" y="1010.7" width="4.73" height="1.71" fill="#B22F2B"/>
<rect x="473.2" y="1010.7" width="1.71" height="1.71" fill="#C23223"/>
<rect x="474.7" y="1010.7" width="1.71" height="1.71" fill="#EC7321"/>
<rect x="446.0" y="1012.2" width="7.75" height="1.71" fill="#92283C"/>
<rect x="453.6" y="1012.2" width="4.73" height="1.71" fill="#9C2936"/>
<rect x="458.1" y="1012.2" width="4.73" height="1.71" fill="#A72C31"/>
<rect x="462.6" y="1012.2" width="4.73" height="1.71" fill="#B12E2B"/>
<rect x="467.1" y="1012.2" width="1.71" height="1.71" fill="#A92C2F"/>
<rect x="468.6" y="1012.2" width="4.73" height="1.71" fill="#C03224"/>
<rect x="473.2" y="1012.2" width="1.71" height="1.71" fill="#D1401E"/>
<rect x="474.7" y="1012.2" width="1.71" height="1.71" fill="#F49B2E"/>
<rect x="446.0" y="1013.7" width="3.22" height="1.71" fill="#9F2A35"/>
<rect x="449.0" y="1013.7" width="1.71" height="1.71" fill="#AB2D2F"/>
<rect x="450.5" y="1013.7" width="3.22" height="1.71" fill="#A02A34"/>
<rect x="453.6" y="1013.7" width="3.22" height="1.71" fill="#BB3126"/>
<rect x="456.6" y="1013.7" width="1.71" height="1.71" fill="#C63421"/>
<rect x="458.1" y="1013.7" width="3.22" height="1.71" fill="#D3441E"/>
<rect x="461.1" y="1013.7" width="1.71" height="1.71" fill="#DC4F1C"/>
<rect x="462.6" y="1013.7" width="1.71" height="1.71" fill="#E65E1A"/>
<rect x="464.1" y="1013.7" width="1.71" height="1.71" fill="#DB4E1C"/>
<rect x="465.6" y="1013.7" width="1.71" height="1.71" fill="#E35A1B"/>
<rect x="467.1" y="1013.7" width="1.71" height="1.71" fill="#D6481D"/>
<rect x="468.6" y="1013.7" width="1.71" height="1.71" fill="#EE7D24"/>
<rect x="470.2" y="1013.7" width="3.22" height="1.71" fill="#EB6F1F"/>
<rect x="473.2" y="1013.7" width="1.71" height="1.71" fill="#F49B2E"/>
<rect x="474.7" y="1013.7" width="1.71" height="1.71" fill="#FCD584"/>
<rect x="511.5" y="1021.0" width="1.67" height="1.67" fill="#96293A"/>
<rect x="512.9" y="1021.0" width="1.67" height="1.67" fill="#9E2A35"/>
<rect x="511.5" y="1022.5" width="1.67" height="1.67" fill="#97293A"/>
<rect x="512.9" y="1022.5" width="1.67" height="1.67" fill="#9F2A34"/>
<rect x="510.0" y="1023.9" width="1.67" height="1.67" fill="#91283D"/>
<rect x="511.5" y="1023.9" width="1.67" height="1.67" fill="#9B2937"/>
<rect x="512.9" y="1023.9" width="1.67" height="1.67" fill="#A82C30"/>
<rect x="510.0" y="1025.4" width="1.67" height="1.67" fill="#93283C"/>
<rect x="511.5" y="1025.4" width="1.67" height="1.67" fill="#9F2A34"/>
<rect x="512.9" y="1025.4" width="1.67" height="1.67" fill="#B12E2C"/>
<rect x="510.0" y="1026.9" width="1.67" height="1.67" fill="#93283C"/>
<rect x="511.5" y="1026.9" width="1.67" height="1.67" fill="#9F2A34"/>
<rect x="512.9" y="1026.9" width="1.67" height="1.67" fill="#B12E2B"/>
<rect x="510.0" y="1028.4" width="1.67" height="1.67" fill="#94283B"/>
<rect x="511.5" y="1028.4" width="1.67" height="1.67" fill="#A22A33"/>
<rect x="512.9" y="1028.4" width="1.67" height="1.67" fill="#B62F29"/>
<rect x="507.0" y="1029.8" width="4.62" height="1.67" fill="#91283D"/>
<rect x="511.5" y="1029.8" width="1.67" height="1.67" fill="#A82C30"/>
<rect x="512.9" y="1029.8" width="1.67" height="1.67" fill="#BF3224"/>
<rect x="507.0" y="1031.3" width="4.62" height="1.67" fill="#91283D"/>
<rect x="511.5" y="1031.3" width="1.67" height="1.67" fill="#A42B32"/>
<rect x="512.9" y="1031.3" width="1.67" height="1.67" fill="#B83028"/>
<rect x="502.6" y="1032.8" width="9.04" height="1.67" fill="#91283D"/>
<rect x="511.5" y="1032.8" width="1.67" height="1.67" fill="#AC2D2E"/>
<rect x="512.9" y="1032.8" width="1.67" height="1.67" fill="#C63421"/>
<rect x="499.7" y="1034.3" width="7.56" height="1.67" fill="#91283D"/>
<rect x="507.0" y="1034.3" width="4.62" height="1.67" fill="#982939"/>
<rect x="511.5" y="1034.3" width="1.67" height="1.67" fill="#B32F2B"/>
<rect x="512.9" y="1034.3" width="1.67" height="1.67" fill="#CF3E1F"/>
<rect x="496.7" y="1035.7" width="9.04" height="1.67" fill="#91283D"/>
<rect x="505.6" y="1035.7" width="6.09" height="1.67" fill="#9B2937"/>
<rect x="511.5" y="1035.7" width="1.67" height="1.67" fill="#BD3125"/>
<rect x="512.9" y="1035.7" width="1.67" height="1.67" fill="#DC4F1C"/>
<rect x="496.7" y="1037.2" width="6.09" height="1.67" fill="#92283C"/>
<rect x="502.6" y="1037.2" width="4.62" height="1.67" fill="#992938"/>
<rect x="507.0" y="1037.2" width="4.62" height="1.67" fill="#A12A33"/>
<rect x="511.5" y="1037.2" width="1.67" height="1.67" fill="#C33322"/>
<rect x="512.9" y="1037.2" width="1.67" height="1.67" fill="#E45A1B"/>
<rect x="495.3" y="1038.7" width="6.09" height="1.67" fill="#91283D"/>
<rect x="501.1" y="1038.7" width="4.62" height="1.67" fill="#982938"/>
<rect x="505.6" y="1038.7" width="6.09" height="1.67" fill="#A22A33"/>
<rect x="511.5" y="1038.7" width="1.67" height="1.67" fill="#C73420"/>
<rect x="512.9" y="1038.7" width="1.67" height="1.67" fill="#E8601A"/>
<rect x="495.3" y="1040.1" width="6.09" height="1.67" fill="#92283D"/>
<rect x="501.1" y="1040.1" width="4.62" height="1.67" fill="#9A2937"/>
<rect x="505.6" y="1040.1" width="6.09" height="1.67" fill="#A62B31"/>
<rect x="511.5" y="1040.1" width="1.67" height="1.67" fill="#CA3720"/>
<rect x="512.9" y="1040.1" width="1.67" height="1.67" fill="#EA681D"/>
<rect x="493.8" y="1041.6" width="4.62" height="1.67" fill="#91283D"/>
<rect x="498.2" y="1041.6" width="4.62" height="1.67" fill="#992938"/>
<rect x="502.6" y="1041.6" width="3.15" height="1.67" fill="#A02A34"/>
<rect x="505.6" y="1041.6" width="6.09" height="1.67" fill="#AB2D2F"/>
<rect x="511.5" y="1041.6" width="1.67" height="1.67" fill="#CE3D1F"/>
<rect x="512.9" y="1041.6" width="1.67" height="1.67" fill="#EC7622"/>
<rect x="495.3" y="1043.1" width="6.09" height="1.67" fill="#91283D"/>
<rect x="501.1" y="1043.1" width="4.62" height="1.67" fill="#992938"/>
<rect x="505.6" y="1043.1" width="6.09" height="1.67" fill="#A32B32"/>
<rect x="511.5" y="1043.1" width="1.67" height="1.67" fill="#BE3225"/>
<rect x="512.9" y="1043.1" width="1.67" height="1.67" fill="#DD511C"/>
<rect x="493.8" y="1044.6" width="3.15" height="1.67" fill="#93283C"/>
<rect x="496.7" y="1044.6" width="3.15" height="1.67" fill="#9B2937"/>
<rect x="499.7" y="1044.6" width="3.15" height="1.67" fill="#A22A33"/>
<rect x="502.6" y="1044.6" width="1.67" height="1.67" fill="#AB2D2F"/>
<rect x="504.1" y="1044.6" width="1.67" height="1.67" fill="#A32B32"/>
<rect x="505.6" y="1044.6" width="1.67" height="1.67" fill="#BA3127"/>
<rect x="507.0" y="1044.6" width="3.15" height="1.67" fill="#C13224"/>
<rect x="510.0" y="1044.6" width="1.67" height="1.67" fill="#B73028"/>
<rect x="511.5" y="1044.6" width="1.67" height="1.67" fill="#DC501C"/>
<rect x="512.9" y="1044.6" width="1.67" height="1.67" fill="#F5A132"/>
<rect x="490.8" y="1046.0" width="4.62" height="1.67" fill="#91283D"/>
<rect x="495.3" y="1046.0" width="3.15" height="1.67" fill="#982939"/>
<rect x="498.2" y="1046.0" width="3.15" height="1.67" fill="#A12A33"/>
<rect x="501.1" y="1046.0" width="4.62" height="1.67" fill="#AA2C2F"/>
<rect x="505.6" y="1046.0" width="1.67" height="1.67" fill="#C13224"/>
<rect x="507.0" y="1046.0" width="3.15" height="1.67" fill="#C83520"/>
<rect x="510.0" y="1046.0" width="1.67" height="1.67" fill="#BE3125"/>
<rect x="511.5" y="1046.0" width="1.67" height="1.67" fill="#E2571B"/>
<rect x="512.9" y="1046.0" width="1.67" height="1.67" fill="#F7B14C"/>
<rect x="492.3" y="1047.5" width="4.62" height="1.67" fill="#91283D"/>
<rect x="496.7" y="1047.5" width="3.15" height="1.67" fill="#9C2936"/>
<rect x="499.7" y="1047.5" width="3.15" height="1.67" fill="#A42B32"/>
<rect x="502.6" y="1047.5" width="1.67" height="1.67" fill="#AE2D2D"/>
<rect x="504.1" y="1047.5" width="1.67" height="1.67" fill="#A52B31"/>
<rect x="505.6" y="1047.5" width="1.67" height="1.67" fill="#BE3125"/>
<rect x="507.0" y="1047.5" width="3.15" height="1.67" fill="#C53321"/>
<rect x="510.0" y="1047.5" width="1.67" height="1.67" fill="#BB3127"/>
<rect x="511.5" y="1047.5" width="1.67" height="1.67" fill="#DB4E1C"/>
<rect x="512.9" y="1047.5" width="1.67" height="1.67" fill="#F49D2F"/>
<rect x="493.8" y="1049.0" width="4.62" height="1.67" fill="#972939"/>
<rect x="498.2" y="1049.0" width="4.62" height="1.67" fill="#9F2A35"/>
<rect x="502.6" y="1049.0" width="1.67" height="1.67" fill="#A92C30"/>
<rect x="504.1" y="1049.0" width="1.67" height="1.67" fill="#A22A33"/>
<rect x="505.6" y="1049.0" width="1.67" height="1.67" fill="#B73028"/>
<rect x="507.0" y="1049.0" width="3.15" height="1.67" fill="#BE3125"/>
<rect x="510.0" y="1049.0" width="1.67" height="1.67" fill="#B42F2A"/>
<rect x="511.5" y="1049.0" width="1.67" height="1.67" fill="#D1401E"/>
<rect x="512.9" y="1049.0" width="1.67" height="1.67" fill="#EE7D24"/>
<rect x="482.0" y="1050.5" width="4.62" height="1.67" fill="#96293A"/>
<rect x="486.4" y="1050.5" width="4.62" height="1.67" fill="#9F2A34"/>
<rect x="490.8" y="1050.5" width="4.62" height="1.67" fill="#A82C30"/>
<rect x="495.3" y="1050.5" width="1.67" height="1.67" fill="#B32F2B"/>
<rect x="496.7" y="1050.5" width="3.15" height="1.67" fill="#BD3125"/>
<rect x="499.7" y="1050.5" width="3.15" height="1.67" fill="#C73420"/>
<rect x="502.6" y="1050.5" width="1.67" height="1.67" fill="#CE3D1F"/>
<rect x="504.1" y="1050.5" width="1.67" height="1.67" fill="#BE3225"/>
<rect x="505.6" y="1050.5" width="1.67" height="1.67" fill="#DC501C"/>
<rect x="507.0" y="1050.5" width="1.67" height="1.67" fill="#E2571B"/>
<rect x="508.5" y="1050.5" width="1.67" height="1.67" fill="#DB4E1C"/>
<rect x="510.0" y="1050.5" width="1.67" height="1.67" fill="#D1401E"/>
<rect x="511.5" y="1050.5" width="1.67" height="1.67" fill="#DB4E1D"/>
<rect x="512.9" y="1050.5" width="1.67" height="1.67" fill="#F49C2F"/>
<rect x="482.0" y="1051.9" width="3.15" height="1.67" fill="#9E2A35"/>
<rect x="484.9" y="1051.9" width="1.67" height="1.67" fill="#A82C30"/>
<rect x="486.4" y="1051.9" width="4.62" height="1.67" fill="#B12E2C"/>
<rect x="490.8" y="1051.9" width="1.67" height="1.67" fill="#BF3224"/>
<rect x="492.3" y="1051.9" width="1.67" height="1.67" fill="#B83028"/>
<rect x="493.8" y="1051.9" width="1.67" height="1.67" fill="#C63421"/>
<rect x="495.3" y="1051.9" width="1.67" height="1.67" fill="#CF3E1F"/>
<rect x="496.7" y="1051.9" width="1.67" height="1.67" fill="#DC4F1C"/>
<rect x="498.2" y="1051.9" width="3.15" height="1.67" fill="#E45A1B"/>
<rect x="501.1" y="1051.9" width="1.67" height="1.67" fill="#EA681D"/>
<rect x="502.6" y="1051.9" width="1.67" height="1.67" fill="#EC7622"/>
<rect x="504.1" y="1051.9" width="1.67" height="1.67" fill="#DD511C"/>
<rect x="505.6" y="1051.9" width="1.67" height="1.67" fill="#F5A132"/>
<rect x="507.0" y="1051.9" width="1.67" height="1.67" fill="#F7B14C"/>
<rect x="508.5" y="1051.9" width="1.67" height="1.67" fill="#F49D2F"/>
<rect x="510.0" y="1051.9" width="1.67" height="1.67" fill="#EE7D24"/>
<rect x="511.5" y="1051.9" width="1.67" height="1.67" fill="#F49C2F"/>
<rect x="512.9" y="1051.9" width="1.67" height="1.67" fill="#EB6F1F"/>
<rect x="571.0" y="1051.0" width="2.23" height="2.23" fill="#982939"/>
<rect x="568.9" y="1053.0" width="2.23" height="2.23" fill="#96293A"/>
<rect x="571.0" y="1053.0" width="2.23" height="2.23" fill="#A82C30"/>
<rect x="568.9" y="1055.1" width="2.23" height="2.23" fill="#92283C"/>
<rect x="571.0" y="1055.1" width="2.23" height="2.23" fill="#9E2A35"/>
<rect x="568.9" y="1057.1" width="2.23" height="2.23" fill="#94283B"/>
<rect x="571.0" y="1057.1" width="2.23" height="2.23" fill="#A32B32"/>
<rect x="568.9" y="1059.1" width="2.23" height="2.23" fill="#992938"/>
<rect x="571.0" y="1059.1" width="2.23" height="2.23" fill="#B12E2B"/>
<rect x="568.9" y="1061.2" width="2.23" height="2.23" fill="#91283D"/>
<rect x="571.0" y="1061.2" width="2.23" height="2.23" fill="#9B2937"/>
<rect x="568.9" y="1063.2" width="2.23" height="2.23" fill="#972939"/>
<rect x="571.0" y="1063.2" width="2.23" height="2.23" fill="#AE2D2D"/>
<rect x="568.9" y="1065.2" width="2.23" height="2.23" fill="#96293A"/>
<rect x="571.0" y="1065.2" width="2.23" height="2.23" fill="#A82C30"/>
<rect x="552.7" y="1067.3" width="16.47" height="2.23" fill="#92283D"/>
<rect x="568.9" y="1067.3" width="2.23" height="2.23" fill="#9A2937"/>
<rect x="571.0" y="1067.3" width="2.23" height="2.23" fill="#B63029"/>
<rect x="552.7" y="1069.3" width="16.47" height="2.23" fill="#91283D"/>
<rect x="568.9" y="1069.3" width="2.23" height="2.23" fill="#982939"/>
<rect x="571.0" y="1069.3" width="2.23" height="2.23" fill="#B02E2C"/>
<rect x="542.5" y="1071.3" width="26.63" height="2.23" fill="#91283D"/>
<rect x="568.9" y="1071.3" width="2.23" height="2.23" fill="#A02A34"/>
<rect x="571.0" y="1071.3" width="2.23" height="2.23" fill="#C63321"/>
<rect x="542.5" y="1073.4" width="18.50" height="2.23" fill="#91283D"/>
<rect x="560.8" y="1073.4" width="10.37" height="2.23" fill="#982939"/>
<rect x="571.0" y="1073.4" width="2.23" height="2.23" fill="#C13224"/>
<rect x="552.7" y="1075.4" width="18.50" height="2.23" fill="#91283D"/>
<rect x="571.0" y="1075.4" width="2.23" height="2.23" fill="#A52B32"/>
<rect x="538.4" y="1077.4" width="14.43" height="2.23" fill="#91283D"/>
<rect x="552.7" y="1077.4" width="18.50" height="2.23" fill="#9A2938"/>
<rect x="571.0" y="1077.4" width="2.23" height="2.23" fill="#C43322"/>
<rect x="548.6" y="1079.5" width="20.53" height="2.23" fill="#91283D"/>
<rect x="568.9" y="1079.5" width="2.23" height="2.23" fill="#992938"/>
<rect x="571.0" y="1079.5" width="2.23" height="2.23" fill="#B02E2C"/>
<rect x="532.3" y="1081.5" width="20.53" height="2.23" fill="#91283D"/>
<rect x="552.7" y="1081.5" width="18.50" height="2.23" fill="#9E2A35"/>
<rect x="571.0" y="1081.5" width="2.23" height="2.23" fill="#CA3620"/>
<rect x="538.4" y="1083.5" width="14.43" height="2.23" fill="#92283D"/>
<rect x="552.7" y="1083.5" width="18.50" height="2.23" fill="#9B2937"/>
<rect x="571.0" y="1083.5" width="2.23" height="2.23" fill="#C03224"/>
<rect x="538.4" y="1085.6" width="14.43" height="2.23" fill="#91283D"/>
<rect x="552.7" y="1085.6" width="18.50" height="2.23" fill="#9A2938"/>
<rect x="571.0" y="1085.6" width="2.23" height="2.23" fill="#B73029"/>
<rect x="532.3" y="1087.6" width="20.53" height="2.23" fill="#92283D"/>
<rect x="552.7" y="1087.6" width="16.47" height="2.23" fill="#A02A34"/>
<rect x="568.9" y="1087.6" width="2.23" height="2.23" fill="#A72C30"/>
<rect x="571.0" y="1087.6" width="2.23" height="2.23" fill="#C73421"/>
<rect x="532.3" y="1089.6" width="20.53" height="2.23" fill="#92283C"/>
<rect x="552.7" y="1089.6" width="16.47" height="2.23" fill="#A12A34"/>
<rect x="568.9" y="1089.6" width="2.23" height="2.23" fill="#A92C30"/>
<rect x="571.0" y="1089.6" width="2.23" height="2.23" fill="#C73421"/>
<rect x="528.3" y="1091.7" width="10.37" height="2.23" fill="#92283D"/>
<rect x="538.4" y="1091.7" width="12.40" height="2.23" fill="#9A2938"/>
<rect x="550.6" y="1091.7" width="2.23" height="2.23" fill="#A12A34"/>
<rect x="552.7" y="1091.7" width="2.23" height="2.23" fill="#B12E2B"/>
<rect x="554.7" y="1091.7" width="4.27" height="2.23" fill="#A92C2F"/>
<rect x="558.8" y="1091.7" width="4.27" height="2.23" fill="#B22E2B"/>
<rect x="562.8" y="1091.7" width="6.30" height="2.23" fill="#A72C31"/>
<rect x="568.9" y="1091.7" width="2.23" height="2.23" fill="#BE3125"/>
<rect x="571.0" y="1091.7" width="2.23" height="2.23" fill="#E0551C"/>
<rect x="532.3" y="1093.7" width="16.47" height="2.23" fill="#94283B"/>
<rect x="548.6" y="1093.7" width="4.27" height="2.23" fill="#9C2936"/>
<rect x="552.7" y="1093.7" width="10.37" height="2.23" fill="#A92C2F"/>
<rect x="562.8" y="1093.7" width="6.30" height="2.23" fill="#A12A34"/>
<rect x="568.9" y="1093.7" width="2.23" height="2.23" fill="#B42F2A"/>
<rect x="571.0" y="1093.7" width="2.23" height="2.23" fill="#D1401E"/>
<rect x="532.3" y="1095.7" width="16.47" height="2.23" fill="#95283B"/>
<rect x="548.6" y="1095.7" width="4.27" height="2.23" fill="#9C2A36"/>
<rect x="552.7" y="1095.7" width="10.37" height="2.23" fill="#AA2D2F"/>
<rect x="562.8" y="1095.7" width="6.30" height="2.23" fill="#A12A33"/>
<rect x="568.9" y="1095.7" width="2.23" height="2.23" fill="#B52F29"/>
<rect x="571.0" y="1095.7" width="2.23" height="2.23" fill="#D1401E"/>
<rect x="528.3" y="1097.8" width="10.37" height="2.23" fill="#92283C"/>
<rect x="538.4" y="1097.8" width="12.40" height="2.23" fill="#9A2938"/>
<rect x="550.6" y="1097.8" width="2.23" height="2.23" fill="#A12A33"/>
<rect x="552.7" y="1097.8" width="2.23" height="2.23" fill="#B22E2B"/>
<rect x="554.7" y="1097.8" width="4.27" height="2.23" fill="#AA2D2F"/>
<rect x="558.8" y="1097.8" width="4.27" height="2.23" fill="#B32F2B"/>
<rect x="562.8" y="1097.8" width="6.30" height="2.23" fill="#A72C30"/>
<rect x="568.9" y="1097.8" width="2.23" height="2.23" fill="#BF3225"/>
<rect x="571.0" y="1097.8" width="2.23" height="2.23" fill="#DA4D1D"/>
<rect x="528.3" y="1099.8" width="10.37" height="2.23" fill="#92283C"/>
<rect x="538.4" y="1099.8" width="10.37" height="2.23" fill="#9B2937"/>
<rect x="548.6" y="1099.8" width="4.27" height="2.23" fill="#A22A33"/>
<rect x="552.7" y="1099.8" width="2.23" height="2.23" fill="#B42F2A"/>
<rect x="554.7" y="1099.8" width="4.27" height="2.23" fill="#AC2D2E"/>
<rect x="558.8" y="1099.8" width="4.27" height="2.23" fill="#B52F29"/>
<rect x="562.8" y="1099.8" width="6.30" height="2.23" fill="#A92C2F"/>
<rect x="568.9" y="1099.8" width="2.23" height="2.23" fill="#C23223"/>
<rect x="571.0" y="1099.8" width="2.23" height="2.23" fill="#DB4E1C"/>
<rect x="532.3" y="1101.8" width="18.50" height="2.23" fill="#94283B"/>
<rect x="550.6" y="1101.8" width="2.23" height="2.23" fill="#9B2937"/>
<rect x="552.7" y="1101.8" width="10.37" height="2.23" fill="#A72C31"/>
<rect x="562.8" y="1101.8" width="6.30" height="2.23" fill="#9F2A35"/>
<rect x="568.9" y="1101.8" width="2.23" height="2.23" fill="#B02E2C"/>
<rect x="571.0" y="1101.8" width="2.23" height="2.23" fill="#C53321"/>
<rect x="532.3" y="1103.9" width="16.47" height="2.23" fill="#93283B"/>
<rect x="548.6" y="1103.9" width="4.27" height="2.23" fill="#9A2937"/>
<rect x="552.7" y="1103.9" width="10.37" height="2.23" fill="#A62C31"/>
<rect x="562.8" y="1103.9" width="6.30" height="2.23" fill="#9F2A35"/>
<rect x="568.9" y="1103.9" width="2.23" height="2.23" fill="#B02E2C"/>
<rect x="571.0" y="1103.9" width="2.23" height="2.23" fill="#C33323"/>
<rect x="532.3" y="1105.9" width="16.47" height="2.23" fill="#94283B"/>
<rect x="548.6" y="1105.9" width="4.27" height="2.23" fill="#9C2936"/>
<rect x="552.7" y="1105.9" width="2.23" height="2.23" fill="#AA2C2F"/>
<rect x="554.7" y="1105.9" width="4.27" height="2.23" fill="#A32B32"/>
<rect x="558.8" y="1105.9" width="4.27" height="2.23" fill="#AB2D2F"/>
<rect x="562.8" y="1105.9" width="6.30" height="2.23" fill="#A12A33"/>
<rect x="568.9" y="1105.9" width="2.23" height="2.23" fill="#B42F2A"/>
<rect x="571.0" y="1105.9" width="2.23" height="2.23" fill="#C83420"/>
<rect x="520.1" y="1107.9" width="2.23" height="2.23" fill="#992938"/>
<rect x="522.2" y="1107.9" width="6.30" height="2.23" fill="#91283D"/>
<rect x="528.3" y="1107.9" width="14.43" height="2.23" fill="#9A2937"/>
<rect x="542.5" y="1107.9" width="10.37" height="2.23" fill="#A42B32"/>
<rect x="552.7" y="1107.9" width="2.23" height="2.23" fill="#BE3125"/>
<rect x="554.7" y="1107.9" width="4.27" height="2.23" fill="#B42F2A"/>
<rect x="558.8" y="1107.9" width="4.27" height="2.23" fill="#BF3225"/>
<rect x="562.8" y="1107.9" width="6.30" height="2.23" fill="#B02E2C"/>
<rect x="568.9" y="1107.9" width="2.23" height="2.23" fill="#CC3A1F"/>
<rect x="571.0" y="1107.9" width="2.23" height="2.23" fill="#E0551B"/>
<rect x="512.0" y="1110.0" width="2.23" height="2.23" fill="#982939"/>
<rect x="514.0" y="1110.0" width="2.23" height="2.23" fill="#A82C30"/>
<rect x="516.1" y="1110.0" width="4.27" height="2.23" fill="#9E2A35"/>
<rect x="520.1" y="1110.0" width="2.23" height="2.23" fill="#B12E2B"/>
<rect x="522.2" y="1110.0" width="2.23" height="2.23" fill="#9B2937"/>
<rect x="524.2" y="1110.0" width="4.27" height="2.23" fill="#AE2D2D"/>
<rect x="528.3" y="1110.0" width="4.27" height="2.23" fill="#B63029"/>
<rect x="532.3" y="1110.0" width="4.27" height="2.23" fill="#C63321"/>
<rect x="536.4" y="1110.0" width="2.23" height="2.23" fill="#A52B32"/>
<rect x="538.4" y="1110.0" width="2.23" height="2.23" fill="#C43322"/>
<rect x="540.5" y="1110.0" width="2.23" height="2.23" fill="#B02E2C"/>
<rect x="542.5" y="1110.0" width="2.23" height="2.23" fill="#CA3620"/>
<rect x="544.5" y="1110.0" width="2.23" height="2.23" fill="#C03224"/>
<rect x="546.6" y="1110.0" width="2.23" height="2.23" fill="#B73029"/>
<rect x="548.6" y="1110.0" width="4.27" height="2.23" fill="#C73421"/>
<rect x="552.7" y="1110.0" width="2.23" height="2.23" fill="#E0551C"/>
<rect x="554.7" y="1110.0" width="4.27" height="2.23" fill="#D1401E"/>
<rect x="558.8" y="1110.0" width="4.27" height="2.23" fill="#DA4D1D"/>
<rect x="562.8" y="1110.0" width="6.30" height="2.23" fill="#C53321"/>
<rect x="568.9" y="1110.0" width="2.23" height="2.23" fill="#E0551B"/>
<rect x="571.0" y="1110.0" width="2.23" height="2.23" fill="#E8601A"/>
<rect x="617.3" y="1113.0" width="4.67" height="1.69" fill="#92283C"/>
<rect x="621.7" y="1113.0" width="4.67" height="1.69" fill="#9B2937"/>
<rect x="617.3" y="1114.5" width="4.67" height="1.69" fill="#92283C"/>
<rect x="621.7" y="1114.5" width="3.18" height="1.69" fill="#9A2937"/>
<rect x="624.7" y="1114.5" width="1.69" height="1.69" fill="#A12A34"/>
<rect x="615.8" y="1116.0" width="4.67" height="1.69" fill="#91283D"/>
<rect x="620.2" y="1116.0" width="3.18" height="1.69" fill="#9A2937"/>
<rect x="623.2" y="1116.0" width="3.18" height="1.69" fill="#A22A33"/>
<rect x="617.3" y="1117.5" width="4.67" height="1.69" fill="#93283C"/>
<rect x="621.7" y="1117.5" width="3.18" height="1.69" fill="#9D2A36"/>
<rect x="624.7" y="1117.5" width="1.69" height="1.69" fill="#A52B32"/>
<rect x="615.8" y="1119.0" width="3.18" height="1.69" fill="#91283D"/>
<rect x="618.7" y="1119.0" width="3.18" height="1.69" fill="#982939"/>
<rect x="621.7" y="1119.0" width="3.18" height="1.69" fill="#9F2A35"/>
<rect x="624.7" y="1119.0" width="1.69" height="1.69" fill="#A92C30"/>
<rect x="615.8" y="1120.5" width="3.18" height="1.69" fill="#93283C"/>
<rect x="618.7" y="1120.5" width="3.18" height="1.69" fill="#9B2937"/>
<rect x="621.7" y="1120.5" width="3.18" height="1.69" fill="#A62C31"/>
<rect x="624.7" y="1120.5" width="1.69" height="1.69" fill="#B32F2B"/>
<rect x="615.8" y="1121.9" width="3.18" height="1.69" fill="#93283C"/>
<rect x="618.7" y="1121.9" width="3.18" height="1.69" fill="#9B2937"/>
<rect x="621.7" y="1121.9" width="1.69" height="1.69" fill="#A52B31"/>
<rect x="623.2" y="1121.9" width="3.18" height="1.69" fill="#AC2D2E"/>
<rect x="614.3" y="1123.4" width="3.18" height="1.69" fill="#91283D"/>
<rect x="617.3" y="1123.4" width="3.18" height="1.69" fill="#9B2937"/>
<rect x="620.2" y="1123.4" width="1.69" height="1.69" fill="#A82C30"/>
<rect x="621.7" y="1123.4" width="1.69" height="1.69" fill="#B02E2C"/>
<rect x="623.2" y="1123.4" width="1.69" height="1.69" fill="#B83028"/>
<rect x="624.7" y="1123.4" width="1.69" height="1.69" fill="#C13224"/>
<rect x="614.3" y="1124.9" width="3.18" height="1.69" fill="#91283D"/>
<rect x="617.3" y="1124.9" width="3.18" height="1.69" fill="#9B2937"/>
<rect x="620.2" y="1124.9" width="1.69" height="1.69" fill="#A92C30"/>
<rect x="621.7" y="1124.9" width="1.69" height="1.69" fill="#B12E2C"/>
<rect x="623.2" y="1124.9" width="1.69" height="1.69" fill="#B93028"/>
<rect x="624.7" y="1124.9" width="1.69" height="1.69" fill="#C13223"/>
<rect x="612.8" y="1126.4" width="4.67" height="1.69" fill="#91283D"/>
<rect x="617.3" y="1126.4" width="3.18" height="1.69" fill="#9B2937"/>
<rect x="620.2" y="1126.4" width="1.69" height="1.69" fill="#A92C30"/>
<rect x="621.7" y="1126.4" width="1.69" height="1.69" fill="#B12E2C"/>
<rect x="623.2" y="1126.4" width="1.69" height="1.69" fill="#B93027"/>
<rect x="624.7" y="1126.4" width="1.69" height="1.69" fill="#C23223"/>
<rect x="606.8" y="1127.9" width="9.15" height="1.69" fill="#91283D"/>
<rect x="615.8" y="1127.9" width="3.18" height="1.69" fill="#992938"/>
<rect x="618.7" y="1127.9" width="1.69" height="1.69" fill="#A82C30"/>
<rect x="620.2" y="1127.9" width="1.69" height="1.69" fill="#B12E2B"/>
<rect x="621.7" y="1127.9" width="1.69" height="1.69" fill="#BB3127"/>
<rect x="623.2" y="1127.9" width="1.69" height="1.69" fill="#C53322"/>
<rect x="624.7" y="1127.9" width="1.69" height="1.69" fill="#CD3B1F"/>
<rect x="606.8" y="1129.4" width="10.64" height="1.69" fill="#91283D"/>
<rect x="617.3" y="1129.4" width="3.18" height="1.69" fill="#9C2936"/>
<rect x="620.2" y="1129.4" width="1.69" height="1.69" fill="#AA2D2F"/>
<rect x="621.7" y="1129.4" width="1.69" height="1.69" fill="#B22F2B"/>
<rect x="623.2" y="1129.4" width="1.69" height="1.69" fill="#BB3127"/>
<rect x="624.7" y="1129.4" width="1.69" height="1.69" fill="#C43322"/>
<rect x="602.3" y="1130.9" width="10.64" height="1.69" fill="#91283D"/>
<rect x="612.8" y="1130.9" width="4.67" height="1.69" fill="#992938"/>
<rect x="617.3" y="1130.9" width="1.69" height="1.69" fill="#A32B32"/>
<rect x="618.7" y="1130.9" width="1.69" height="1.69" fill="#AD2D2D"/>
<rect x="620.2" y="1130.9" width="1.69" height="1.69" fill="#B83028"/>
<rect x="621.7" y="1130.9" width="1.69" height="1.69" fill="#C33322"/>
<rect x="623.2" y="1130.9" width="1.69" height="1.69" fill="#CD3B1F"/>
<rect x="624.7" y="1130.9" width="1.69" height="1.69" fill="#D6471D"/>
<rect x="600.8" y="1132.4" width="9.15" height="1.69" fill="#91283D"/>
<rect x="609.8" y="1132.4" width="7.66" height="1.69" fill="#982939"/>
<rect x="617.3" y="1132.4" width="1.69" height="1.69" fill="#A52B31"/>
<rect x="618.7" y="1132.4" width="1.69" height="1.69" fill="#B02E2C"/>
<rect x="620.2" y="1132.4" width="1.69" height="1.69" fill="#BB3126"/>
<rect x="621.7" y="1132.4" width="1.69" height="1.69" fill="#C83420"/>
<rect x="623.2" y="1132.4" width="1.69" height="1.69" fill="#D1401E"/>
<rect x="624.7" y="1132.4" width="1.69" height="1.69" fill="#DA4D1D"/>
<rect x="602.3" y="1133.9" width="10.64" height="1.69" fill="#91283D"/>
<rect x="612.8" y="1133.9" width="6.17" height="1.69" fill="#9A2938"/>
<rect x="618.7" y="1133.9" width="1.69" height="1.69" fill="#A92C2F"/>
<rect x="620.2" y="1133.9" width="1.69" height="1.69" fill="#B32F2B"/>
<rect x="621.7" y="1133.9" width="1.69" height="1.69" fill="#BD3126"/>
<rect x="623.2" y="1133.9" width="1.69" height="1.69" fill="#C73420"/>
<rect x="624.7" y="1133.9" width="1.69" height="1.69" fill="#CF3E1F"/>
<rect x="596.4" y="1135.4" width="10.64" height="1.69" fill="#92283C"/>
<rect x="606.8" y="1135.4" width="6.17" height="1.69" fill="#9A2937"/>
<rect x="612.8" y="1135.4" width="4.67" height="1.69" fill="#A22A33"/>
<rect x="617.3" y="1135.4" width="1.69" height="1.69" fill="#AA2D2F"/>
<rect x="618.7" y="1135.4" width="1.69" height="1.69" fill="#B73029"/>
<rect x="620.2" y="1135.4" width="1.69" height="1.69" fill="#C43322"/>
<rect x="621.7" y="1135.4" width="1.69" height="1.69" fill="#CF3E1F"/>
<rect x="623.2" y="1135.4" width="1.69" height="1.69" fill="#D94C1D"/>
<rect x="624.7" y="1135.4" width="1.69" height="1.69" fill="#E45B1B"/>
<rect x="596.4" y="1136.9" width="7.66" height="1.69" fill="#92283C"/>
<rect x="603.8" y="1136.9" width="9.15" height="1.69" fill="#992938"/>
<rect x="612.8" y="1136.9" width="4.67" height="1.69" fill="#A42B32"/>
<rect x="617.3" y="1136.9" width="1.69" height="1.69" fill="#AD2D2E"/>
<rect x="618.7" y="1136.9" width="1.69" height="1.69" fill="#B73028"/>
<rect x="620.2" y="1136.9" width="1.69" height="1.69" fill="#C53322"/>
<rect x="621.7" y="1136.9" width="1.69" height="1.69" fill="#D03F1F"/>
<rect x="623.2" y="1136.9" width="1.69" height="1.69" fill="#DA4D1D"/>
<rect x="624.7" y="1136.9" width="1.69" height="1.69" fill="#E55C1B"/>
<rect x="596.4" y="1138.4" width="10.64" height="1.69" fill="#92283C"/>
<rect x="606.8" y="1138.4" width="6.17" height="1.69" fill="#9B2937"/>
<rect x="612.8" y="1138.4" width="4.67" height="1.69" fill="#A22B33"/>
<rect x="617.3" y="1138.4" width="1.69" height="1.69" fill="#AA2C2F"/>
<rect x="618.7" y="1138.4" width="1.69" height="1.69" fill="#B12E2C"/>
<rect x="620.2" y="1138.4" width="1.69" height="1.69" fill="#BD3126"/>
<rect x="621.7" y="1138.4" width="1.69" height="1.69" fill="#C93520"/>
<rect x="623.2" y="1138.4" width="1.69" height="1.69" fill="#D2421E"/>
<rect x="624.7" y="1138.4" width="1.69" height="1.69" fill="#DB4F1C"/>
<rect x="593.4" y="1139.8" width="9.15" height="1.69" fill="#91283D"/>
<rect x="602.3" y="1139.8" width="6.17" height="1.69" fill="#982939"/>
<rect x="608.3" y="1139.8" width="4.67" height="1.69" fill="#9F2A35"/>
<rect x="612.8" y="1139.8" width="4.67" height="1.69" fill="#A92C30"/>
<rect x="617.3" y="1139.8" width="3.18" height="1.69" fill="#B22F2B"/>
<rect x="620.2" y="1139.8" width="1.69" height="1.69" fill="#C53321"/>
<rect x="621.7" y="1139.8" width="1.69" height="1.69" fill="#D0401E"/>
<rect x="623.2" y="1139.8" width="1.69" height="1.69" fill="#DB4E1C"/>
<rect x="624.7" y="1139.8" width="1.69" height="1.69" fill="#E65E1A"/>
<rect x="591.9" y="1141.3" width="9.15" height="1.69" fill="#91283D"/>
<rect x="600.8" y="1141.3" width="6.17" height="1.69" fill="#982939"/>
<rect x="606.8" y="1141.3" width="6.17" height="1.69" fill="#A22B33"/>
<rect x="612.8" y="1141.3" width="4.67" height="1.69" fill="#AF2E2D"/>
<rect x="617.3" y="1141.3" width="3.18" height="1.69" fill="#BA3027"/>
<rect x="620.2" y="1141.3" width="1.69" height="1.69" fill="#CB381F"/>
<rect x="621.7" y="1141.3" width="1.69" height="1.69" fill="#D6471D"/>
<rect x="623.2" y="1141.3" width="1.69" height="1.69" fill="#E2571B"/>
<rect x="624.7" y="1141.3" width="1.69" height="1.69" fill="#EA6B1E"/>
<rect x="591.9" y="1142.8" width="9.15" height="1.69" fill="#93283C"/>
<rect x="600.8" y="1142.8" width="3.18" height="1.69" fill="#9B2937"/>
<rect x="603.8" y="1142.8" width="6.17" height="1.69" fill="#A42B32"/>
<rect x="609.8" y="1142.8" width="3.18" height="1.69" fill="#AE2D2D"/>
<rect x="612.8" y="1142.8" width="4.67" height="1.69" fill="#B93028"/>
<rect x="617.3" y="1142.8" width="3.18" height="1.69" fill="#C73421"/>
<rect x="620.2" y="1142.8" width="1.69" height="1.69" fill="#D4451E"/>
<rect x="621.7" y="1142.8" width="1.69" height="1.69" fill="#E2571B"/>
<rect x="623.2" y="1142.8" width="1.69" height="1.69" fill="#EB6E1F"/>
<rect x="624.7" y="1142.8" width="1.69" height="1.69" fill="#F08928"/>
<rect x="591.9" y="1144.3" width="9.15" height="1.69" fill="#92283C"/>
<rect x="600.8" y="1144.3" width="3.18" height="1.69" fill="#9A2937"/>
<rect x="603.8" y="1144.3" width="6.17" height="1.69" fill="#A22A33"/>
<rect x="609.8" y="1144.3" width="3.18" height="1.69" fill="#AB2D2E"/>
<rect x="612.8" y="1144.3" width="4.67" height="1.69" fill="#B62F29"/>
<rect x="617.3" y="1144.3" width="3.18" height="1.69" fill="#C33323"/>
<rect x="620.2" y="1144.3" width="1.69" height="1.69" fill="#CE3C1F"/>
<rect x="621.7" y="1144.3" width="1.69" height="1.69" fill="#DA4D1D"/>
<rect x="623.2" y="1144.3" width="1.69" height="1.69" fill="#E75E1A"/>
<rect x="624.7" y="1144.3" width="1.69" height="1.69" fill="#EC7521"/>
<rect x="588.9" y="1145.8" width="7.66" height="1.69" fill="#91283D"/>
<rect x="596.4" y="1145.8" width="6.17" height="1.69" fill="#9A2937"/>
<rect x="602.3" y="1145.8" width="1.69" height="1.69" fill="#A22B33"/>
<rect x="603.8" y="1145.8" width="3.18" height="1.69" fill="#A92C2F"/>
<rect x="606.8" y="1145.8" width="6.17" height="1.69" fill="#B02E2C"/>
<rect x="612.8" y="1145.8" width="4.67" height="1.69" fill="#C33323"/>
<rect x="617.3" y="1145.8" width="3.18" height="1.69" fill="#D03F1E"/>
<rect x="620.2" y="1145.8" width="1.69" height="1.69" fill="#DA4C1D"/>
<rect x="621.7" y="1145.8" width="1.69" height="1.69" fill="#E8601A"/>
<rect x="623.2" y="1145.8" width="1.69" height="1.69" fill="#EE7C24"/>
<rect x="624.7" y="1145.8" width="1.69" height="1.69" fill="#F3982D"/>
<rect x="588.9" y="1147.3" width="7.66" height="1.69" fill="#91283D"/>
<rect x="596.4" y="1147.3" width="6.17" height="1.69" fill="#9B2937"/>
<rect x="602.3" y="1147.3" width="1.69" height="1.69" fill="#A32B33"/>
<rect x="603.8" y="1147.3" width="3.18" height="1.69" fill="#AA2C2F"/>
<rect x="606.8" y="1147.3" width="6.17" height="1.69" fill="#B12E2C"/>
<rect x="612.8" y="1147.3" width="4.67" height="1.69" fill="#C43322"/>
<rect x="617.3" y="1147.3" width="1.69" height="1.69" fill="#D1401E"/>
<rect x="618.7" y="1147.3" width="1.69" height="1.69" fill="#CA3720"/>
<rect x="620.2" y="1147.3" width="1.69" height="1.69" fill="#D84A1D"/>
<rect x="621.7" y="1147.3" width="1.69" height="1.69" fill="#E65D1A"/>
<rect x="623.2" y="1147.3" width="1.69" height="1.69" fill="#ED7722"/>
<rect x="624.7" y="1147.3" width="1.69" height="1.69" fill="#F2932B"/>
<rect x="588.9" y="1148.8" width="7.66" height="1.69" fill="#92283C"/>
<rect x="596.4" y="1148.8" width="6.17" height="1.69" fill="#9C2A36"/>
<rect x="602.3" y="1148.8" width="1.69" height="1.69" fill="#A62B31"/>
<rect x="603.8" y="1148.8" width="3.18" height="1.69" fill="#AE2D2D"/>
<rect x="606.8" y="1148.8" width="6.17" height="1.69" fill="#B62F29"/>
<rect x="612.8" y="1148.8" width="3.18" height="1.69" fill="#CA3620"/>
<rect x="615.8" y="1148.8" width="1.69" height="1.69" fill="#CE3D1F"/>
<rect x="617.3" y="1148.8" width="1.69" height="1.69" fill="#D7481D"/>
<rect x="618.7" y="1148.8" width="1.69" height="1.69" fill="#CD3B1F"/>
<rect x="620.2" y="1148.8" width="1.69" height="1.69" fill="#DC4F1C"/>
<rect x="621.7" y="1148.8" width="1.69" height="1.69" fill="#E9651C"/>
<rect x="623.2" y="1148.8" width="1.69" height="1.69" fill="#EF8125"/>
<rect x="624.7" y="1148.8" width="1.69" height="1.69" fill="#F59F30"/>
<rect x="588.9" y="1150.3" width="7.66" height="1.69" fill="#92283C"/>
<rect x="596.4" y="1150.3" width="6.17" height="1.69" fill="#9C2937"/>
<rect x="602.3" y="1150.3" width="1.69" height="1.69" fill="#A42B32"/>
<rect x="603.8" y="1150.3" width="3.18" height="1.69" fill="#AC2D2E"/>
<rect x="606.8" y="1150.3" width="6.17" height="1.69" fill="#B32F2A"/>
<rect x="612.8" y="1150.3" width="4.67" height="1.69" fill="#C73420"/>
<rect x="617.3" y="1150.3" width="1.69" height="1.69" fill="#D4441E"/>
<rect x="618.7" y="1150.3" width="1.69" height="1.69" fill="#C93520"/>
<rect x="620.2" y="1150.3" width="1.69" height="1.69" fill="#D7481D"/>
<rect x="621.7" y="1150.3" width="1.69" height="1.69" fill="#E45A1B"/>
<rect x="623.2" y="1150.3" width="1.69" height="1.69" fill="#EC7320"/>
<rect x="624.7" y="1150.3" width="1.69" height="1.69" fill="#F18E2A"/>
<rect x="588.9" y="1151.8" width="4.67" height="1.69" fill="#94283B"/>
<rect x="593.4" y="1151.8" width="3.18" height="1.69" fill="#9B2937"/>
<rect x="596.4" y="1151.8" width="4.67" height="1.69" fill="#A22A33"/>
<rect x="600.8" y="1151.8" width="3.18" height="1.69" fill="#A92C30"/>
<rect x="603.8" y="1151.8" width="3.18" height="1.69" fill="#B93028"/>
<rect x="606.8" y="1151.8" width="3.18" height="1.69" fill="#C33323"/>
<rect x="609.8" y="1151.8" width="3.18" height="1.69" fill="#CA3620"/>
<rect x="612.8" y="1151.8" width="3.18" height="1.69" fill="#D7491D"/>
<rect x="615.8" y="1151.8" width="1.69" height="1.69" fill="#DD511C"/>
<rect x="617.3" y="1151.8" width="1.69" height="1.69" fill="#E8601A"/>
<rect x="618.7" y="1151.8" width="1.69" height="1.69" fill="#D94B1D"/>
<rect x="620.2" y="1151.8" width="1.69" height="1.69" fill="#E9671C"/>
<rect x="621.7" y="1151.8" width="1.69" height="1.69" fill="#EF8025"/>
<rect x="623.2" y="1151.8" width="1.69" height="1.69" fill="#F5A233"/>
<rect x="624.7" y="1151.8" width="1.69" height="1.69" fill="#FAC46A"/>
<rect x="588.9" y="1153.3" width="4.67" height="1.69" fill="#95293A"/>
<rect x="593.4" y="1153.3" width="3.18" height="1.69" fill="#9D2A36"/>
<rect x="596.4" y="1153.3" width="4.67" height="1.69" fill="#A42B32"/>
<rect x="600.8" y="1153.3" width="3.18" height="1.69" fill="#AB2D2E"/>
<rect x="603.8" y="1153.3" width="3.18" height="1.69" fill="#BD3126"/>
<rect x="606.8" y="1153.3" width="3.18" height="1.69" fill="#C73420"/>
<rect x="609.8" y="1153.3" width="3.18" height="1.69" fill="#CD3B1F"/>
<rect x="612.8" y="1153.3" width="1.69" height="1.69" fill="#DC4F1C"/>
<rect x="614.3" y="1153.3" width="3.18" height="1.69" fill="#E0561B"/>
<rect x="617.3" y="1153.3" width="1.69" height="1.69" fill="#EA6A1E"/>
<rect x="618.7" y="1153.3" width="1.69" height="1.69" fill="#DD511C"/>
<rect x="620.2" y="1153.3" width="1.69" height="1.69" fill="#EC7220"/>
<rect x="621.7" y="1153.3" width="1.69" height="1.69" fill="#F08727"/>
<rect x="623.2" y="1153.3" width="1.69" height="1.69" fill="#F6A93F"/>
<rect x="624.7" y="1153.3" width="1.69" height="1.69" fill="#FBCD78"/>
<rect x="588.9" y="1154.8" width="7.66" height="1.69" fill="#992938"/>
<rect x="596.4" y="1154.8" width="4.67" height="1.69" fill="#A52B32"/>
<rect x="600.8" y="1154.8" width="1.69" height="1.69" fill="#AC2D2E"/>
<rect x="602.3" y="1154.8" width="1.69" height="1.69" fill="#B32F2B"/>
<rect x="603.8" y="1154.8" width="3.18" height="1.69" fill="#BE3125"/>
<rect x="606.8" y="1154.8" width="3.18" height="1.69" fill="#C83520"/>
<rect x="609.8" y="1154.8" width="3.18" height="1.69" fill="#CE3D1F"/>
<rect x="612.8" y="1154.8" width="1.69" height="1.69" fill="#DD511C"/>
<rect x="614.3" y="1154.8" width="3.18" height="1.69" fill="#E2581B"/>
<rect x="617.3" y="1154.8" width="1.69" height="1.69" fill="#EB6E1F"/>
<rect x="618.7" y="1154.8" width="1.69" height="1.69" fill="#DF541C"/>
<rect x="620.2" y="1154.8" width="1.69" height="1.69" fill="#EC7622"/>
<rect x="621.7" y="1154.8" width="1.69" height="1.69" fill="#F18B29"/>
<rect x="623.2" y="1154.8" width="1.69" height="1.69" fill="#F6A73C"/>
<rect x="624.7" y="1154.8" width="1.69" height="1.69" fill="#FACA74"/>
<rect x="574.0" y="1156.3" width="10.64" height="1.69" fill="#92283C"/>
<rect x="584.4" y="1156.3" width="7.66" height="1.69" fill="#9B2937"/>
<rect x="591.9" y="1156.3" width="4.67" height="1.69" fill="#A32B32"/>
<rect x="596.4" y="1156.3" width="4.67" height="1.69" fill="#AA2D2F"/>
<rect x="600.8" y="1156.3" width="1.69" height="1.69" fill="#B22F2B"/>
<rect x="602.3" y="1156.3" width="1.69" height="1.69" fill="#BA3027"/>
<rect x="603.8" y="1156.3" width="3.18" height="1.69" fill="#C73421"/>
<rect x="606.8" y="1156.3" width="3.18" height="1.69" fill="#D03F1E"/>
<rect x="609.8" y="1156.3" width="3.18" height="1.69" fill="#D7481D"/>
<rect x="612.8" y="1156.3" width="1.69" height="1.69" fill="#E8601A"/>
<rect x="614.3" y="1156.3" width="3.18" height="1.69" fill="#EA6A1E"/>
<rect x="617.3" y="1156.3" width="1.69" height="1.69" fill="#F08727"/>
<rect x="618.7" y="1156.3" width="1.69" height="1.69" fill="#E9641B"/>
<rect x="620.2" y="1156.3" width="1.69" height="1.69" fill="#F2902A"/>
<rect x="621.7" y="1156.3" width="1.69" height="1.69" fill="#F6A93E"/>
<rect x="623.2" y="1156.3" width="1.69" height="1.69" fill="#F9C165"/>
<rect x="624.7" y="1156.3" width="1.69" height="1.69" fill="#FEE8A4"/>
<rect x="574.0" y="1157.7" width="10.64" height="1.69" fill="#95283B"/>
<rect x="584.4" y="1157.7" width="4.67" height="1.69" fill="#A12A34"/>
<rect x="588.9" y="1157.7" width="4.67" height="1.69" fill="#A82C30"/>
<rect x="593.4" y="1157.7" width="1.69" height="1.69" fill="#B02E2C"/>
<rect x="594.9" y="1157.7" width="1.69" height="1.69" fill="#A92C2F"/>
<rect x="596.4" y="1157.7" width="7.66" height="1.69" fill="#B73029"/>
<rect x="603.8" y="1157.7" width="1.69" height="1.69" fill="#C83420"/>
<rect x="605.3" y="1157.7" width="1.69" height="1.69" fill="#C13224"/>
<rect x="606.8" y="1157.7" width="6.17" height="1.69" fill="#CC391F"/>
<rect x="612.8" y="1157.7" width="3.18" height="1.69" fill="#D94B1D"/>
<rect x="615.8" y="1157.7" width="1.69" height="1.69" fill="#DF541C"/>
<rect x="617.3" y="1157.7" width="1.69" height="1.69" fill="#E9641B"/>
<rect x="618.7" y="1157.7" width="1.69" height="1.69" fill="#DB4D1D"/>
<rect x="620.2" y="1157.7" width="1.69" height="1.69" fill="#EA6B1E"/>
<rect x="621.7" y="1157.7" width="1.69" height="1.69" fill="#EE7F25"/>
<rect x="623.2" y="1157.7" width="1.69" height="1.69" fill="#F18D2A"/>
<rect x="624.7" y="1157.7" width="1.69" height="1.69" fill="#F7AD44"/>
<rect x="574.0" y="1159.2" width="7.66" height="1.69" fill="#982939"/>
<rect x="581.5" y="1159.2" width="3.18" height="1.69" fill="#A02A34"/>
<rect x="584.4" y="1159.2" width="4.67" height="1.69" fill="#A82C30"/>
<rect x="588.9" y="1159.2" width="1.69" height="1.69" fill="#B12E2B"/>
<rect x="590.4" y="1159.2" width="1.69" height="1.69" fill="#AA2D2F"/>
<rect x="591.9" y="1159.2" width="4.67" height="1.69" fill="#B83028"/>
<rect x="596.4" y="1159.2" width="3.18" height="1.69" fill="#C43322"/>
<rect x="599.4" y="1159.2" width="1.69" height="1.69" fill="#BD3126"/>
<rect x="600.8" y="1159.2" width="3.18" height="1.69" fill="#C53321"/>
<rect x="603.8" y="1159.2" width="1.69" height="1.69" fill="#D4451E"/>
<rect x="605.3" y="1159.2" width="1.69" height="1.69" fill="#CE3C1F"/>
<rect x="606.8" y="1159.2" width="6.17" height="1.69" fill="#DA4C1D"/>
<rect x="612.8" y="1159.2" width="1.69" height="1.69" fill="#E9671C"/>
<rect x="614.3" y="1159.2" width="3.18" height="1.69" fill="#EC7220"/>
<rect x="617.3" y="1159.2" width="1.69" height="1.69" fill="#F2902A"/>
<rect x="618.7" y="1159.2" width="1.69" height="1.69" fill="#EA6B1E"/>
<rect x="620.2" y="1159.2" width="1.69" height="1.69" fill="#F4992E"/>
<rect x="621.7" y="1159.2" width="1.69" height="1.69" fill="#F7B34F"/>
<rect x="623.2" y="1159.2" width="1.69" height="1.69" fill="#F9BE60"/>
<rect x="624.7" y="1159.2" width="1.69" height="1.69" fill="#FEE59E"/>
<rect x="574.0" y="1160.7" width="7.66" height="1.69" fill="#9B2937"/>
<rect x="581.5" y="1160.7" width="3.18" height="1.69" fill="#A62C31"/>
<rect x="584.4" y="1160.7" width="4.67" height="1.69" fill="#B02E2C"/>
<rect x="588.9" y="1160.7" width="1.69" height="1.69" fill="#BB3127"/>
<rect x="590.4" y="1160.7" width="1.69" height="1.69" fill="#B22F2B"/>
<rect x="591.9" y="1160.7" width="4.67" height="1.69" fill="#C33322"/>
<rect x="596.4" y="1160.7" width="3.18" height="1.69" fill="#CF3E1F"/>
<rect x="599.4" y="1160.7" width="1.69" height="1.69" fill="#C93520"/>
<rect x="600.8" y="1160.7" width="1.69" height="1.69" fill="#D0401E"/>
<rect x="602.3" y="1160.7" width="1.69" height="1.69" fill="#D6471D"/>
<rect x="603.8" y="1160.7" width="1.69" height="1.69" fill="#E2571B"/>
<rect x="605.3" y="1160.7" width="1.69" height="1.69" fill="#DA4D1D"/>
<rect x="606.8" y="1160.7" width="6.17" height="1.69" fill="#E8601A"/>
<rect x="612.8" y="1160.7" width="1.69" height="1.69" fill="#EF8025"/>
<rect x="614.3" y="1160.7" width="3.18" height="1.69" fill="#F08727"/>
<rect x="617.3" y="1160.7" width="1.69" height="1.69" fill="#F6A93E"/>
<rect x="618.7" y="1160.7" width="1.69" height="1.69" fill="#EE7F25"/>
<rect x="620.2" y="1160.7" width="1.69" height="1.69" fill="#F7B34F"/>
<rect x="621.7" y="1160.7" width="1.69" height="1.69" fill="#FBD07D"/>
<rect x="623.2" y="1160.7" width="1.69" height="1.69" fill="#FCD585"/>
<rect x="624.7" y="1160.7" width="1.69" height="1.69" fill="#FFF0B0"/>
<rect x="574.0" y="1162.2" width="7.66" height="1.69" fill="#9E2A35"/>
<rect x="581.5" y="1162.2" width="3.18" height="1.69" fill="#AC2D2E"/>
<rect x="584.4" y="1162.2" width="4.67" height="1.69" fill="#B83028"/>
<rect x="588.9" y="1162.2" width="1.69" height="1.69" fill="#C53322"/>
<rect x="590.4" y="1162.2" width="1.69" height="1.69" fill="#BB3127"/>
<rect x="591.9" y="1162.2" width="3.18" height="1.69" fill="#CD3B1F"/>
<rect x="594.9" y="1162.2" width="1.69" height="1.69" fill="#C73420"/>
<rect x="596.4" y="1162.2" width="3.18" height="1.69" fill="#D94C1D"/>
<rect x="599.4" y="1162.2" width="1.69" height="1.69" fill="#D2421E"/>
<rect x="600.8" y="1162.2" width="1.69" height="1.69" fill="#DB4E1C"/>
<rect x="602.3" y="1162.2" width="1.69" height="1.69" fill="#E2571B"/>
<rect x="603.8" y="1162.2" width="1.69" height="1.69" fill="#EB6E1F"/>
<rect x="605.3" y="1162.2" width="1.69" height="1.69" fill="#E75E1A"/>
<rect x="606.8" y="1162.2" width="4.67" height="1.69" fill="#EE7C24"/>
<rect x="611.3" y="1162.2" width="1.69" height="1.69" fill="#EC7320"/>
<rect x="612.8" y="1162.2" width="1.69" height="1.69" fill="#F5A233"/>
<rect x="614.3" y="1162.2" width="3.18" height="1.69" fill="#F6A93F"/>
<rect x="617.3" y="1162.2" width="1.69" height="1.69" fill="#F9C165"/>
<rect x="618.7" y="1162.2" width="1.69" height="1.69" fill="#F18D2A"/>
<rect x="620.2" y="1162.2" width="1.69" height="1.69" fill="#F9BE60"/>
<rect x="621.7" y="1162.2" width="3.18" height="1.69" fill="#FCD585"/>
<rect x="624.7" y="1162.2" width="1.69" height="1.69" fill="#FFF0B0"/>
<rect x="574.0" y="1163.7" width="6.17" height="1.69" fill="#A12A33"/>
<rect x="580.0" y="1163.7" width="1.69" height="1.69" fill="#A92C30"/>
<rect x="581.5" y="1163.7" width="3.18" height="1.69" fill="#B32F2B"/>
<rect x="584.4" y="1163.7" width="4.67" height="1.69" fill="#C13224"/>
<rect x="588.9" y="1163.7" width="1.69" height="1.69" fill="#CD3B1F"/>
<rect x="590.4" y="1163.7" width="1.69" height="1.69" fill="#C43322"/>
<rect x="591.9" y="1163.7" width="3.18" height="1.69" fill="#D6471D"/>
<rect x="594.9" y="1163.7" width="1.69" height="1.69" fill="#CF3E1F"/>
<rect x="596.4" y="1163.7" width="3.18" height="1.69" fill="#E45B1B"/>
<rect x="599.4" y="1163.7" width="1.69" height="1.69" fill="#DB4F1C"/>
<rect x="600.8" y="1163.7" width="1.69" height="1.69" fill="#E65E1A"/>
<rect x="602.3" y="1163.7" width="1.69" height="1.69" fill="#EA6B1E"/>
<rect x="603.8" y="1163.7" width="1.69" height="1.69" fill="#F08928"/>
<rect x="605.3" y="1163.7" width="1.69" height="1.69" fill="#EC7521"/>
<rect x="606.8" y="1163.7" width="3.18" height="1.69" fill="#F3982D"/>
<rect x="609.8" y="1163.7" width="1.69" height="1.69" fill="#F59F30"/>
<rect x="611.3" y="1163.7" width="1.69" height="1.69" fill="#F18E2A"/>
<rect x="612.8" y="1163.7" width="1.69" height="1.69" fill="#FAC46A"/>
<rect x="614.3" y="1163.7" width="3.18" height="1.69" fill="#FBCD78"/>
<rect x="617.3" y="1163.7" width="1.69" height="1.69" fill="#FEE8A4"/>
<rect x="618.7" y="1163.7" width="1.69" height="1.69" fill="#F7AD44"/>
<rect x="620.2" y="1163.7" width="1.69" height="1.69" fill="#FEE59E"/>
<rect x="621.7" y="1163.7" width="3.18" height="1.69" fill="#FFF0B0"/>
<rect x="624.7" y="1163.7" width="1.69" height="1.69" fill="#FBCE7A"/>
<circle cx="286.8" cy="825.8" r="1.0" fill="#F89040" opacity="0.85"/>
<circle cx="337.8" cy="876.8" r="1.5" fill="#F89040" opacity="0.85"/>
<circle cx="349.5" cy="888.5" r="1.1" fill="#F89040" opacity="0.85"/>
<circle cx="352.8" cy="891.8" r="1.0" fill="#F89040" opacity="0.85"/>
<circle cx="369.6" cy="908.6" r="1.1" fill="#F89040" opacity="0.85"/>
<circle cx="384.6" cy="923.6" r="1.0" fill="#F89040" opacity="0.85"/>
<circle cx="470.0" cy="1009.0" r="1.0" fill="#F89040" opacity="0.85"/>
<circle cx="540.0" cy="1079.0" r="1.0" fill="#F89040" opacity="0.85"/>
<circle cx="571.0" cy="1110.0" r="1.0" fill="#F89040" opacity="0.85"/>
<circle cx="646.0" cy="1185.0" r="1.0" fill="#F89040" opacity="0.85"/>
<circle cx="660.0" cy="1199.0" r="1.0" fill="#F89040" opacity="0.85"/>
<line x1="267" y1="806" x2="670.2" y2="1209" stroke="#C84A3A" stroke-width="0.9" opacity="0.35"/>
<rect x="537" y="1009" width="22" height="5" fill="#D04030" opacity="0.10"/>
<rect x="525" y="1047" width="16" height="7" fill="#D04030" opacity="0.10"/>
<rect x="590" y="1073" width="34" height="9" fill="#D04030" opacity="0.08"/>
<rect x="530" y="1152" width="40" height="12" fill="#D04030" opacity="0.08"/>
<text x="728.2" y="640.3" font-size="24.3" font-weight="bold">D</text>
<text x="906" y="686.7" font-size="23.5" font-weight="bold">Eigengene adjacency heatmap</text>
<line x1="866.2" y1="701" x2="866.2" y2="859.9" stroke="#000" stroke-width="1.3"/>
<line x1="854.1" y1="859.9" x2="866.2" y2="859.9" stroke="#000" stroke-width="1.3"/>
<text x="836.6" y="859.9" font-size="19.8" text-anchor="middle" transform="rotate(-90 836.6 859.9)">0.0</text>
<line x1="854.1" y1="834.9" x2="866.2" y2="834.9" stroke="#000" stroke-width="1.3"/>
<line x1="854.1" y1="810" x2="866.2" y2="810" stroke="#000" stroke-width="1.3"/>
<text x="836.6" y="810" font-size="19.8" text-anchor="middle" transform="rotate(-90 836.6 810)">0.4</text>
<line x1="854.1" y1="785" x2="866.2" y2="785" stroke="#000" stroke-width="1.3"/>
<line x1="854.1" y1="760.1" x2="866.2" y2="760.1" stroke="#000" stroke-width="1.3"/>
<text x="836.6" y="760.1" font-size="19.8" text-anchor="middle" transform="rotate(-90 836.6 760.1)">0.8</text>
<line x1="854.1" y1="735.1" x2="866.2" y2="735.1" stroke="#000" stroke-width="1.3"/>
<line x1="854.1" y1="710.2" x2="866.2" y2="710.2" stroke="#000" stroke-width="1.3"/>
<text x="836.6" y="710.2" font-size="19.8" text-anchor="middle" transform="rotate(-90 836.6 710.2)">1.2</text>
<path d="M917.4 829.6V816.7H953.0V829.6M881.9 759.8V747.3H935.2V816.7M1024.1 798.4V785.3H1059.7V797.9M988.5 754.7V742.0H1041.9V785.3M1166.3 851.4V838.3H1201.8V851.4M1130.8 835.2V821.8H1184.1V838.3M1237.4 800.8V787.8H1272.9V800.8M1157.4 821.8V764.1H1255.2V787.8M1095.2 743.5V730.1H1206.3V764.1M1015.2 742.0V722.9H1150.7V730.1M908.6 747.3V710.3H1083.0V722.9" stroke="#000" stroke-width="1.3" fill="none"/>
<text x="886.5" y="776.8" font-size="20" text-anchor="end" transform="rotate(-90 886.5 776.8)">MEyellow</text>
<text x="922" y="846.6" font-size="20" text-anchor="end" transform="rotate(-90 922 846.6)">MEpink</text>
<text x="957.6" y="846.6" font-size="20" text-anchor="end" transform="rotate(-90 957.6 846.6)">MEtan</text>
<text x="993.1" y="771.7" font-size="20" text-anchor="end" transform="rotate(-90 993.1 771.7)">MEturquoise</text>
<text x="1028.7" y="815.4" font-size="20" text-anchor="end" transform="rotate(-90 1028.7 815.4)">MEblack</text>
<text x="1064.2" y="814.9" font-size="20" text-anchor="end" transform="rotate(-90 1064.2 814.9)">MEpurple</text>
<text x="1099.8" y="760.5" font-size="20" text-anchor="end" transform="rotate(-90 1099.8 760.5)">MEmagenta</text>
<text x="1135.3" y="852.2" font-size="20" text-anchor="end" transform="rotate(-90 1135.3 852.2)">MEgreen</text>
<text x="1170.9" y="868.4" font-size="20" text-anchor="end" transform="rotate(-90 1170.9 868.4)">MEbrown</text>
<text x="1206.4" y="868.4" font-size="20" text-anchor="end" transform="rotate(-90 1206.4 868.4)">MEred</text>
<text x="1242" y="817.8" font-size="20" text-anchor="end" transform="rotate(-90 1242 817.8)">MEblue</text>
<text x="1277.5" y="817.8" font-size="20" text-anchor="end" transform="rotate(-90 1277.5 817.8)">MEgreenyellow</text>
<text x="939.5" y="975.2" font-size="23.5" font-weight="bold">Eigengene adjacency heatmap</text>
<rect x="866.5" y="979.4" width="35.6" height="17.4" fill="#FF3300"/>
<rect x="901.7" y="979.4" width="35.6" height="17.4" fill="#DEEEFE"/>
<rect x="936.8" y="979.4" width="35.6" height="17.4" fill="#FFAD99"/>
<rect x="972" y="979.4" width="35.6" height="17.4" fill="#DEEEFE"/>
<rect x="1007.2" y="979.4" width="35.6" height="17.4" fill="#C7E2FD"/>
<rect x="1042.3" y="979.4" width="35.6" height="17.4" fill="#D0E7FD"/>
<rect x="1077.5" y="979.4" width="35.6" height="17.4" fill="#DEEEFE"/>
<rect x="1112.7" y="979.4" width="35.6" height="17.4" fill="#5AACF8"/>
<rect x="1147.8" y="979.4" width="35.6" height="17.4" fill="#98CBFB"/>
<rect x="1183" y="979.4" width="35.6" height="17.4" fill="#8AC4FA"/>
<rect x="1218.2" y="979.4" width="35.6" height="17.4" fill="#98CBFB"/>
<rect x="1253.3" y="979.4" width="35.6" height="17.4" fill="#F1F8FE"/>
<rect x="866.5" y="996.4" width="35.6" height="17.4" fill="#DEEEFE"/>
<rect x="901.7" y="996.4" width="35.6" height="17.4" fill="#FF3300"/>
<rect x="936.8" y="996.4" width="35.6" height="17.4" fill="#FF704C"/>
<rect x="972" y="996.4" width="35.6" height="17.4" fill="#8AC4FA"/>
<rect x="1007.2" y="996.4" width="35.6" height="17.4" fill="#B8DBFC"/>
<rect x="1042.3" y="996.4" width="35.6" height="17.4" fill="#F6FAFF"/>
<rect x="1077.5" y="996.4" width="35.6" height="17.4" fill="#F6FAFF"/>
<rect x="1112.7" y="996.4" width="35.6" height="17.4" fill="#FF8D70"/>
<rect x="1147.8" y="996.4" width="35.6" height="17.4" fill="#FF704C"/>
<rect x="1183" y="996.4" width="35.6" height="17.4" fill="#FFB6A3"/>
<rect x="1218.2" y="996.4" width="35.6" height="17.4" fill="#98CBFB"/>
<rect x="1253.3" y="996.4" width="35.6" height="17.4" fill="#AAD4FB"/>
<rect x="866.5" y="1013.5" width="35.6" height="17.4" fill="#FFAD99"/>
<rect x="901.7" y="1013.5" width="35.6" height="17.4" fill="#FF704C"/>
<rect x="936.8" y="1013.5" width="35.6" height="17.4" fill="#FF3300"/>
<rect x="972" y="1013.5" width="35.6" height="17.4" fill="#B8DBFC"/>
<rect x="1007.2" y="1013.5" width="35.6" height="17.4" fill="#AFD7FC"/>
<rect x="1042.3" y="1013.5" width="35.6" height="17.4" fill="#98CBFB"/>
<rect x="1077.5" y="1013.5" width="35.6" height="17.4" fill="#FFF3F0"/>
<rect x="1112.7" y="1013.5" width="35.6" height="17.4" fill="#DEEEFE"/>
<rect x="1147.8" y="1013.5" width="35.6" height="17.4" fill="#FFE2DB"/>
<rect x="1183" y="1013.5" width="35.6" height="17.4" fill="#C7E2FD"/>
<rect x="1218.2" y="1013.5" width="35.6" height="17.4" fill="#69B3F9"/>
<rect x="1253.3" y="1013.5" width="35.6" height="17.4" fill="#A1CFFB"/>
<rect x="866.5" y="1030.5" width="35.6" height="17.4" fill="#DEEEFE"/>
<rect x="901.7" y="1030.5" width="35.6" height="17.4" fill="#8AC4FA"/>
<rect x="936.8" y="1030.5" width="35.6" height="17.4" fill="#B8DBFC"/>
<rect x="972" y="1030.5" width="35.6" height="17.4" fill="#FF3300"/>
<rect x="1007.2" y="1030.5" width="35.6" height="17.4" fill="#FFC2B2"/>
<rect x="1042.3" y="1030.5" width="35.6" height="17.4" fill="#D9ECFD"/>
<rect x="1077.5" y="1030.5" width="35.6" height="17.4" fill="#FFFFFF"/>
<rect x="1112.7" y="1030.5" width="35.6" height="17.4" fill="#98CBFB"/>
<rect x="1147.8" y="1030.5" width="35.6" height="17.4" fill="#72B8F9"/>
<rect x="1183" y="1030.5" width="35.6" height="17.4" fill="#98CBFB"/>
<rect x="1218.2" y="1030.5" width="35.6" height="17.4" fill="#F6FAFF"/>
<rect x="1253.3" y="1030.5" width="35.6" height="17.4" fill="#FFF3F0"/>
<rect x="866.5" y="1047.6" width="35.6" height="17.4" fill="#C7E2FD"/>
<rect x="901.7" y="1047.6" width="35.6" height="17.4" fill="#B8DBFC"/>
<rect x="936.8" y="1047.6" width="35.6" height="17.4" fill="#AFD7FC"/>
<rect x="972" y="1047.6" width="35.6" height="17.4" fill="#FFC2B2"/>
<rect x="1007.2" y="1047.6" width="35.6" height="17.4" fill="#FF3300"/>
<rect x="1042.3" y="1047.6" width="35.6" height="17.4" fill="#FF9980"/>
<rect x="1077.5" y="1047.6" width="35.6" height="17.4" fill="#FFB6A3"/>
<rect x="1112.7" y="1047.6" width="35.6" height="17.4" fill="#FFFFFF"/>
<rect x="1147.8" y="1047.6" width="35.6" height="17.4" fill="#BDDEFC"/>
<rect x="1183" y="1047.6" width="35.6" height="17.4" fill="#B8DBFC"/>
<rect x="1218.2" y="1047.6" width="35.6" height="17.4" fill="#F1F8FE"/>
<rect x="1253.3" y="1047.6" width="35.6" height="17.4" fill="#FFEBE5"/>
<rect x="866.5" y="1064.7" width="35.6" height="17.4" fill="#D0E7FD"/>
<rect x="901.7" y="1064.7" width="35.6" height="17.4" fill="#F6FAFF"/>
<rect x="936.8" y="1064.7" width="35.6" height="17.4" fill="#98CBFB"/>
<rect x="972" y="1064.7" width="35.6" height="17.4" fill="#D9ECFD"/>
<rect x="1007.2" y="1064.7" width="35.6" height="17.4" fill="#FF9980"/>
<rect x="1042.3" y="1064.7" width="35.6" height="17.4" fill="#FF3300"/>
<rect x="1077.5" y="1064.7" width="35.6" height="17.4" fill="#8AC4FA"/>
<rect x="1112.7" y="1064.7" width="35.6" height="17.4" fill="#FFFFFF"/>
<rect x="1147.8" y="1064.7" width="35.6" height="17.4" fill="#FFB6A3"/>
<rect x="1183" y="1064.7" width="35.6" height="17.4" fill="#FFD6CC"/>
<rect x="1218.2" y="1064.7" width="35.6" height="17.4" fill="#FFFFFF"/>
<rect x="1253.3" y="1064.7" width="35.6" height="17.4" fill="#FFCEC2"/>
<rect x="866.5" y="1081.7" width="35.6" height="17.4" fill="#DEEEFE"/>
<rect x="901.7" y="1081.7" width="35.6" height="17.4" fill="#F6FAFF"/>
<rect x="936.8" y="1081.7" width="35.6" height="17.4" fill="#FFF3F0"/>
<rect x="972" y="1081.7" width="35.6" height="17.4" fill="#FFFFFF"/>
<rect x="1007.2" y="1081.7" width="35.6" height="17.4" fill="#FFB6A3"/>
<rect x="1042.3" y="1081.7" width="35.6" height="17.4" fill="#8AC4FA"/>
<rect x="1077.5" y="1081.7" width="35.6" height="17.4" fill="#FF3300"/>
<rect x="1112.7" y="1081.7" width="35.6" height="17.4" fill="#FFA58F"/>
<rect x="1147.8" y="1081.7" width="35.6" height="17.4" fill="#C2E0FC"/>
<rect x="1183" y="1081.7" width="35.6" height="17.4" fill="#D0E7FD"/>
<rect x="1218.2" y="1081.7" width="35.6" height="17.4" fill="#FFF3F0"/>
<rect x="1253.3" y="1081.7" width="35.6" height="17.4" fill="#E3F1FE"/>
<rect x="866.5" y="1098.8" width="35.6" height="17.4" fill="#5AACF8"/>
<rect x="901.7" y="1098.8" width="35.6" height="17.4" fill="#FF8D70"/>
<rect x="936.8" y="1098.8" width="35.6" height="17.4" fill="#DEEEFE"/>
<rect x="972" y="1098.8" width="35.6" height="17.4" fill="#98CBFB"/>
<rect x="1007.2" y="1098.8" width="35.6" height="17.4" fill="#FFFFFF"/>
<rect x="1042.3" y="1098.8" width="35.6" height="17.4" fill="#FFFFFF"/>
<rect x="1077.5" y="1098.8" width="35.6" height="17.4" fill="#FFA58F"/>
<rect x="1112.7" y="1098.8" width="35.6" height="17.4" fill="#FF3300"/>
<rect x="1147.8" y="1098.8" width="35.6" height="17.4" fill="#FF643D"/>
<rect x="1183" y="1098.8" width="35.6" height="17.4" fill="#FF6C47"/>
<rect x="1218.2" y="1098.8" width="35.6" height="17.4" fill="#FF9980"/>
<rect x="1253.3" y="1098.8" width="35.6" height="17.4" fill="#FFFFFF"/>
<rect x="866.5" y="1115.8" width="35.6" height="17.4" fill="#98CBFB"/>
<rect x="901.7" y="1115.8" width="35.6" height="17.4" fill="#FF704C"/>
<rect x="936.8" y="1115.8" width="35.6" height="17.4" fill="#FFE2DB"/>
<rect x="972" y="1115.8" width="35.6" height="17.4" fill="#72B8F9"/>
<rect x="1007.2" y="1115.8" width="35.6" height="17.4" fill="#BDDEFC"/>
<rect x="1042.3" y="1115.8" width="35.6" height="17.4" fill="#FFB6A3"/>
<rect x="1077.5" y="1115.8" width="35.6" height="17.4" fill="#C2E0FC"/>
<rect x="1112.7" y="1115.8" width="35.6" height="17.4" fill="#FF643D"/>
<rect x="1147.8" y="1115.8" width="35.6" height="17.4" fill="#FF3300"/>
<rect x="1183" y="1115.8" width="35.6" height="17.4" fill="#FF5024"/>
<rect x="1218.2" y="1115.8" width="35.6" height="17.4" fill="#FFE2DB"/>
<rect x="1253.3" y="1115.8" width="35.6" height="17.4" fill="#FFFFFF"/>
<rect x="866.5" y="1132.8" width="35.6" height="17.4" fill="#8AC4FA"/>
<rect x="901.7" y="1132.8" width="35.6" height="17.4" fill="#FFB6A3"/>
<rect x="936.8" y="1132.8" width="35.6" height="17.4" fill="#C7E2FD"/>
<rect x="972" y="1132.8" width="35.6" height="17.4" fill="#98CBFB"/>
<rect x="1007.2" y="1132.8" width="35.6" height="17.4" fill="#B8DBFC"/>
<rect x="1042.3" y="1132.8" width="35.6" height="17.4" fill="#FFD6CC"/>
<rect x="1077.5" y="1132.8" width="35.6" height="17.4" fill="#D0E7FD"/>
<rect x="1112.7" y="1132.8" width="35.6" height="17.4" fill="#FF6C47"/>
<rect x="1147.8" y="1132.8" width="35.6" height="17.4" fill="#FF5024"/>
<rect x="1183" y="1132.8" width="35.6" height="17.4" fill="#FF3300"/>
<rect x="1218.2" y="1132.8" width="35.6" height="17.4" fill="#FF7C5C"/>
<rect x="1253.3" y="1132.8" width="35.6" height="17.4" fill="#FFD6CC"/>
<rect x="866.5" y="1149.9" width="35.6" height="17.4" fill="#98CBFB"/>
<rect x="901.7" y="1149.9" width="35.6" height="17.4" fill="#98CBFB"/>
<rect x="936.8" y="1149.9" width="35.6" height="17.4" fill="#69B3F9"/>
<rect x="972" y="1149.9" width="35.6" height="17.4" fill="#F6FAFF"/>
<rect x="1007.2" y="1149.9" width="35.6" height="17.4" fill="#F6FAFF"/>
<rect x="1042.3" y="1149.9" width="35.6" height="17.4" fill="#FFFFFF"/>
<rect x="1077.5" y="1149.9" width="35.6" height="17.4" fill="#FFF3F0"/>
<rect x="1112.7" y="1149.9" width="35.6" height="17.4" fill="#FF9980"/>
<rect x="1147.8" y="1149.9" width="35.6" height="17.4" fill="#FFE2DB"/>
<rect x="1183" y="1149.9" width="35.6" height="17.4" fill="#FF7C5C"/>
<rect x="1218.2" y="1149.9" width="35.6" height="17.4" fill="#FF3300"/>
<rect x="1253.3" y="1149.9" width="35.6" height="17.4" fill="#FF9980"/>
<rect x="866.5" y="1167" width="35.6" height="17.4" fill="#F1F8FE"/>
<rect x="901.7" y="1167" width="35.6" height="17.4" fill="#AAD4FB"/>
<rect x="936.8" y="1167" width="35.6" height="17.4" fill="#A1CFFB"/>
<rect x="972" y="1167" width="35.6" height="17.4" fill="#FFF3F0"/>
<rect x="1007.2" y="1167" width="35.6" height="17.4" fill="#FFEBE5"/>
<rect x="1042.3" y="1167" width="35.6" height="17.4" fill="#FFCEC2"/>
<rect x="1077.5" y="1167" width="35.6" height="17.4" fill="#E3F1FE"/>
<rect x="1112.7" y="1167" width="35.6" height="17.4" fill="#FFFFFF"/>
<rect x="1147.8" y="1167" width="35.6" height="17.4" fill="#FFFFFF"/>
<rect x="1183" y="1167" width="35.6" height="17.4" fill="#FFD6CC"/>
<rect x="1218.2" y="1167" width="35.6" height="17.4" fill="#FF9980"/>
<rect x="1253.3" y="1167" width="35.6" height="17.4" fill="#FF3300"/>
<rect x="866.5" y="979.4" width="422" height="204.6" fill="none" stroke="#000" stroke-width="1.2"/>
<rect x="826.6" y="979.4" width="34.5" height="17.4" fill="#FFFF00"/>
<rect x="866.5" y="1188.2" width="35.5" height="30.9" fill="#FFFF00"/>
<rect x="826.6" y="996.4" width="34.5" height="17.4" fill="#FFC0CB"/>
<rect x="901.7" y="1188.2" width="35.5" height="30.9" fill="#FFC0CB"/>
<rect x="826.6" y="1013.5" width="34.5" height="17.4" fill="#D2B48C"/>
<rect x="936.8" y="1188.2" width="35.5" height="30.9" fill="#D2B48C"/>
<rect x="826.6" y="1030.5" width="34.5" height="17.4" fill="#40E0D0"/>
<rect x="972" y="1188.2" width="35.5" height="30.9" fill="#40E0D0"/>
<rect x="826.6" y="1047.6" width="34.5" height="17.4" fill="#000000"/>
<rect x="1007.2" y="1188.2" width="35.5" height="30.9" fill="#000000"/>
<rect x="826.6" y="1064.7" width="34.5" height="17.4" fill="#A020F0"/>
<rect x="1042.3" y="1188.2" width="35.5" height="30.9" fill="#A020F0"/>
<rect x="826.6" y="1081.7" width="34.5" height="17.4" fill="#FF00FF"/>
<rect x="1077.5" y="1188.2" width="35.5" height="30.9" fill="#FF00FF"/>
<rect x="826.6" y="1098.8" width="34.5" height="17.4" fill="#00FF00"/>
<rect x="1112.7" y="1188.2" width="35.5" height="30.9" fill="#00FF00"/>
<rect x="826.6" y="1115.8" width="34.5" height="17.4" fill="#A52A2A"/>
<rect x="1147.8" y="1188.2" width="35.5" height="30.9" fill="#A52A2A"/>
<rect x="826.6" y="1132.8" width="34.5" height="17.4" fill="#FF0000"/>
<rect x="1183" y="1188.2" width="35.5" height="30.9" fill="#FF0000"/>
<rect x="826.6" y="1149.9" width="34.5" height="17.4" fill="#0000FF"/>
<rect x="1218.2" y="1188.2" width="35.5" height="30.9" fill="#0000FF"/>
<rect x="826.6" y="1167" width="34.5" height="17.4" fill="#ADFF2F"/>
<rect x="1253.3" y="1188.2" width="35.5" height="30.9" fill="#ADFF2F"/>
<defs><linearGradient id="leg" x1="0" y1="1" x2="0" y2="0"><stop offset="0" stop-color="#1488F5"/><stop offset="0.25" stop-color="#8AC4FA"/><stop offset="0.5" stop-color="#FFFFFF"/><stop offset="0.75" stop-color="#FF9980"/><stop offset="1" stop-color="#FF3300"/></linearGradient></defs>
<rect x="1299.8" y="991.3" width="15.7" height="180.7" fill="url(#leg)" stroke="#000" stroke-width="1.3"/>
<line x1="1315.5" y1="1172" x2="1325.5" y2="1172" stroke="#000" stroke-width="1.3"/>
<text x="1331.8" y="1179" font-size="19">0</text>
<line x1="1315.5" y1="1135.9" x2="1325.5" y2="1135.9" stroke="#000" stroke-width="1.3"/>
<text x="1331.8" y="1142.9" font-size="19">0.2</text>
<line x1="1315.5" y1="1099.7" x2="1325.5" y2="1099.7" stroke="#000" stroke-width="1.3"/>
<text x="1331.8" y="1106.7" font-size="19">0.4</text>
<line x1="1315.5" y1="1063.6" x2="1325.5" y2="1063.6" stroke="#000" stroke-width="1.3"/>
<text x="1331.8" y="1070.6" font-size="19">0.6</text>
<line x1="1315.5" y1="1027.4" x2="1325.5" y2="1027.4" stroke="#000" stroke-width="1.3"/>
<text x="1331.8" y="1034.4" font-size="19">0.8</text>
<line x1="1315.5" y1="991.3" x2="1325.5" y2="991.3" stroke="#000" stroke-width="1.3"/>
<text x="1331.8" y="998.3" font-size="19">1</text>
<text x="2" y="1282.6" font-size="24.3" font-weight="bold">E</text>
<text x="599.6" y="1288.1" font-size="28.2" font-weight="bold">Cluster Dendrogram</text>
<line x1="112.9" y1="1333.2" x2="112.9" y2="1639.8" stroke="#000" stroke-width="1.3"/>
<line x1="98.2" y1="1639.8" x2="112.9" y2="1639.8" stroke="#000" stroke-width="1.3"/>
<text x="79" y="1639.8" font-size="21.5" text-anchor="middle" transform="rotate(-90 79 1639.8)">0.0</text>
<line x1="98.2" y1="1578.5" x2="112.9" y2="1578.5" stroke="#000" stroke-width="1.3"/>
<text x="79" y="1578.5" font-size="21.5" text-anchor="middle" transform="rotate(-90 79 1578.5)">0.2</text>
<line x1="98.2" y1="1517.2" x2="112.9" y2="1517.2" stroke="#000" stroke-width="1.3"/>
<text x="79" y="1517.2" font-size="21.5" text-anchor="middle" transform="rotate(-90 79 1517.2)">0.4</text>
<line x1="98.2" y1="1455.8" x2="112.9" y2="1455.8" stroke="#000" stroke-width="1.3"/>
<text x="79" y="1455.8" font-size="21.5" text-anchor="middle" transform="rotate(-90 79 1455.8)">0.6</text>
<line x1="98.2" y1="1394.5" x2="112.9" y2="1394.5" stroke="#000" stroke-width="1.3"/>
<text x="79" y="1394.5" font-size="21.5" text-anchor="middle" transform="rotate(-90 79 1394.5)">0.8</text>
<line x1="98.2" y1="1333.2" x2="112.9" y2="1333.2" stroke="#000" stroke-width="1.3"/>
<text x="79" y="1333.2" font-size="21.5" text-anchor="middle" transform="rotate(-90 79 1333.2)">1.0</text>
<text x="21.8" y="1486.6" font-size="23.4" text-anchor="middle" transform="rotate(-90 21.8 1486.6)">Height</text>
<path d="M181.8 1343.30V1658M204.9 1343.30V1658M228.0 1343.30V1658M251.1 1343.30V1658M274.1 1343.30V1658M297.2 1343.30V1658M320.3 1343.30V1658M343.4 1343.30V1658M366.5 1349.23V1658M389.6 1349.23V1658M412.6 1349.23V1658M435.7 1343.30V1658M458.8 1349.23V1658M481.9 1349.23V1658M505.0 1349.23V1658M528.1 1343.30V1658M551.2 1343.30V1658M574.2 1343.30V1658M597.3 1343.30V1658M620.4 1349.23V1658M643.5 1349.23V1658M666.6 1349.23V1658M689.7 1349.23V1658M712.8 1355.16V1658M735.8 1349.23V1658M758.9 1349.23V1658M782.0 1355.16V1658M805.1 1349.23V1658M828.2 1355.16V1658M851.3 1349.23V1658M874.4 1349.23V1658M897.4 1355.16V1658M920.5 1349.23V1658M943.6 1355.16V1658M966.7 1355.16V1658M989.8 1355.16V1658M1012.9 1349.23V1658M1035.9 1349.23V1658M1059.0 1349.23V1658M1082.1 1349.23V1658M1105.2 1349.23V1658M1128.3 1355.16V1658M1151.4 1367.02V1658M1174.5 1390.74V1658M1197.5 1349.23V1658M1220.6 1349.23V1658M1243.7 1349.23V1658M1266.8 1349.23V1658M1289.9 1349.23V1658M1313.0 1349.23V1658" stroke="#000" stroke-width="1.3" stroke-dasharray="2 3.93" fill="none"/>
<path d="M158.7 1333.2 L159.2 1333.2 L159.7 1333.2 L160.2 1333.2 L160.7 1333.2 L161.2 1333.2 L161.7 1333.2 L162.2 1333.2 L162.7 1333.2 L163.2 1333.2 L163.7 1333.2 L164.2 1333.2 L164.7 1333.2 L165.2 1333.2 L165.7 1333.2 L166.2 1333.2 L166.7 1333.2 L167.2 1333.2 L167.7 1333.2 L168.2 1333.2 L168.7 1333.2 L169.2 1333.2 L169.7 1333.2 L170.2 1333.2 L170.7 1333.2 L171.2 1333.2 L171.7 1333.2 L172.2 1333.2 L172.7 1333.2 L173.2 1333.2 L173.7 1333.2 L174.2 1333.2 L174.7 1333.2 L175.2 1333.2 L175.7 1333.2 L176.2 1333.2 L176.7 1333.2 L177.2 1333.2 L177.7 1333.2 L178.2 1333.2 L178.7 1333.2 L179.2 1333.2 L179.7 1333.2 L180.2 1333.2 L180.7 1333.2 L181.2 1333.2 L181.7 1333.2 L182.2 1333.2 L182.7 1333.2 L183.2 1333.2 L183.7 1333.2 L184.2 1333.2 L184.7 1333.2 L185.2 1333.2 L185.7 1333.2 L186.2 1333.2 L186.7 1333.2 L187.2 1333.2 L187.7 1333.2 L188.2 1333.2 L188.7 1333.2 L189.2 1333.2 L189.7 1333.2 L190.2 1333.2 L190.7 1333.2 L191.2 1333.2 L191.7 1333.2 L192.2 1333.2 L192.7 1333.2 L193.2 1333.2 L193.7 1333.2 L194.2 1333.2 L194.7 1333.2 L195.2 1333.2 L195.7 1333.2 L196.2 1333.2 L196.7 1333.2 L197.2 1333.2 L197.7 1333.2 L198.2 1333.2 L198.7 1333.2 L199.2 1333.2 L199.7 1333.2 L200.2 1333.2 L200.7 1333.2 L201.2 1333.2 L201.7 1333.2 L202.2 1333.2 L202.7 1333.2 L203.2 1333.2 L203.7 1333.2 L204.2 1333.2 L204.7 1333.2 L205.2 1333.2 L205.7 1333.2 L206.2 1333.2 L206.7 1333.2 L207.2 1333.2 L207.7 1333.2 L208.2 1333.2 L208.7 1333.2 L209.2 1333.2 L209.7 1333.2 L210.2 1333.2 L210.7 1333.2 L211.2 1333.2 L211.7 1333.2 L212.2 1333.2 L212.7 1333.2 L213.2 1333.2 L213.7 1333.2 L214.2 1333.2 L214.7 1333.2 L215.2 1333.2 L215.7 1333.2 L216.2 1333.2 L216.7 1333.2 L217.2 1333.2 L217.7 1333.2 L218.2 1333.2 L218.7 1333.2 L219.2 1333.2 L219.7 1333.2 L220.2 1333.2 L220.7 1333.2 L221.2 1333.2 L221.7 1333.2 L222.2 1333.2 L222.7 1333.2 L223.2 1333.2 L223.7 1333.2 L224.2 1333.2 L224.7 1333.2 L225.2 1333.2 L225.7 1333.2 L226.2 1333.2 L226.7 1333.2 L227.2 1333.2 L227.7 1333.2 L228.2 1333.2 L228.7 1333.2 L229.2 1333.2 L229.7 1333.2 L230.2 1334.6 L230.7 1335.6 L231.2 1336.6 L231.7 1337.6 L232.2 1338.6 L232.7 1339.6 L233.2 1333.2 L233.7 1333.2 L234.2 1333.2 L234.7 1333.2 L235.2 1333.2 L235.7 1333.2 L236.2 1333.2 L236.7 1333.2 L237.2 1333.2 L237.7 1333.2 L238.2 1333.2 L238.7 1333.2 L239.2 1333.2 L239.7 1333.2 L240.2 1333.2 L240.7 1333.2 L241.2 1333.2 L241.7 1333.2 L242.2 1333.2 L242.7 1333.2 L243.2 1333.2 L243.7 1333.2 L244.2 1333.2 L244.7 1333.2 L245.2 1333.2 L245.7 1333.2 L246.2 1333.2 L246.7 1333.2 L247.2 1333.2 L247.7 1333.2 L248.2 1333.2 L248.7 1333.2 L249.2 1333.2 L249.7 1333.2 L250.2 1333.2 L250.7 1333.2 L251.2 1333.2 L251.7 1333.2 L252.2 1333.2 L252.7 1333.2 L253.2 1333.2 L253.7 1333.2 L254.2 1333.2 L254.7 1333.2 L255.2 1333.2 L255.7 1333.2 L256.2 1333.2 L256.7 1333.2 L257.2 1333.2 L257.7 1333.2 L258.2 1333.2 L258.7 1333.2 L259.2 1333.2 L259.7 1333.2 L260.2 1333.2 L260.7 1333.2 L261.2 1333.2 L261.7 1333.2 L262.2 1333.2 L262.7 1333.2 L263.2 1333.2 L263.7 1333.2 L264.2 1333.2 L264.7 1333.2 L265.2 1333.2 L265.7 1333.2 L266.2 1333.2 L266.7 1333.2 L267.2 1333.2 L267.7 1333.2 L268.2 1333.2 L268.7 1333.2 L269.2 1333.2 L269.7 1333.2 L270.2 1333.2 L270.7 1333.2 L271.2 1333.2 L271.7 1333.2 L272.2 1333.2 L272.7 1333.2 L273.2 1333.2 L273.7 1333.2 L274.2 1333.2 L274.7 1333.2 L275.2 1333.2 L275.7 1333.2 L276.2 1333.2 L276.7 1333.2 L277.2 1333.2 L277.7 1333.2 L278.2 1333.2 L278.7 1333.2 L279.2 1333.2 L279.7 1333.2 L280.2 1333.2 L280.7 1333.2 L281.2 1333.2 L281.7 1333.2 L282.2 1333.2 L282.7 1333.2 L283.2 1333.2 L283.7 1333.2 L284.2 1333.2 L284.7 1333.2 L285.2 1333.2 L285.7 1333.2 L286.2 1333.2 L286.7 1333.2 L287.2 1333.2 L287.7 1333.2 L288.2 1333.2 L288.7 1333.2 L289.2 1333.2 L289.7 1333.2 L290.2 1333.2 L290.7 1333.2 L291.2 1333.2 L291.7 1333.2 L292.2 1333.2 L292.7 1333.2 L293.2 1333.2 L293.7 1333.2 L294.2 1333.2 L294.7 1333.2 L295.2 1333.2 L295.7 1333.2 L296.2 1333.2 L296.7 1333.2 L297.2 1333.2 L297.7 1333.2 L298.2 1333.2 L298.7 1333.2 L299.2 1333.2 L299.7 1333.2 L300.2 1333.2 L300.7 1333.2 L301.2 1333.2 L301.7 1333.2 L302.2 1333.2 L302.7 1333.2 L303.2 1333.2 L303.7 1333.2 L304.2 1333.2 L304.7 1333.2 L305.2 1333.2 L305.7 1333.2 L306.2 1333.2 L306.7 1333.2 L307.2 1333.2 L307.7 1333.2 L308.2 1333.2 L308.7 1333.2 L309.2 1333.2 L309.7 1333.2 L310.2 1333.2 L310.7 1333.2 L311.2 1333.2 L311.7 1333.2 L312.2 1333.2 L312.7 1333.2 L313.2 1333.2 L313.7 1333.2 L314.2 1333.2 L314.7 1333.2 L315.2 1333.2 L315.7 1333.2 L316.2 1333.2 L316.7 1333.2 L317.2 1333.2 L317.7 1333.2 L318.2 1333.2 L318.7 1333.2 L319.2 1333.2 L319.7 1333.2 L320.2 1333.2 L320.7 1333.2 L321.2 1333.2 L321.7 1333.2 L322.2 1333.2 L322.7 1333.2 L323.2 1333.2 L323.7 1333.2 L324.2 1333.2 L324.7 1333.2 L325.2 1333.2 L325.7 1333.2 L326.2 1333.2 L326.7 1333.2 L327.2 1333.2 L327.7 1333.2 L328.2 1333.2 L328.7 1333.2 L329.2 1333.2 L329.7 1333.2 L330.2 1333.2 L330.7 1333.2 L331.2 1333.2 L331.7 1333.2 L332.2 1333.2 L332.7 1333.2 L333.2 1333.2 L333.7 1333.2 L334.2 1333.2 L334.7 1333.2 L335.2 1333.2 L335.7 1333.2 L336.2 1333.2 L336.7 1333.2 L337.2 1333.2 L337.7 1333.2 L338.2 1333.2 L338.7 1333.2 L339.2 1333.2 L339.7 1333.2 L340.2 1333.2 L340.7 1333.2 L341.2 1333.2 L341.7 1333.2 L342.2 1333.2 L342.7 1333.2 L343.2 1333.2 L343.7 1333.2 L344.2 1333.2 L344.7 1333.2 L345.2 1333.2 L345.7 1333.2 L346.2 1333.2 L346.7 1333.2 L347.2 1333.2 L347.7 1333.2 L348.2 1333.2 L348.7 1333.2 L349.2 1333.2 L349.7 1333.2 L350.2 1333.2 L350.7 1333.2 L351.2 1333.2 L351.7 1333.2 L352.2 1333.2 L352.7 1333.2 L353.2 1333.2 L353.7 1333.2 L354.2 1333.2 L354.7 1333.2 L355.2 1333.2 L355.7 1333.2 L356.2 1333.2 L356.7 1333.2 L357.2 1333.2 L357.7 1333.2 L358.2 1333.2 L358.7 1333.2 L359.2 1333.2 L359.7 1333.2 L360.2 1333.2 L360.7 1333.2 L361.2 1333.2 L361.7 1333.2 L362.2 1333.2 L362.7 1333.2 L363.2 1333.2 L363.7 1333.2 L364.2 1333.2 L364.7 1333.2 L365.2 1333.2 L365.7 1333.2 L366.2 1333.2 L366.7 1333.2 L367.2 1333.2 L367.7 1333.2 L368.2 1333.2 L368.7 1333.2 L369.2 1333.2 L369.7 1333.2 L370.2 1333.2 L370.7 1333.2 L371.2 1333.2 L371.7 1333.2 L372.2 1334.2 L372.7 1334.3 L373.2 1334.5 L373.7 1334.7 L374.2 1334.9 L374.7 1335.1 L375.2 1335.4 L375.7 1335.7 L376.2 1336.0 L376.7 1336.3 L377.2 1336.6 L377.7 1337.0 L378.2 1333.2 L378.7 1333.2 L379.2 1333.2 L379.7 1333.2 L380.2 1333.2 L380.7 1333.2 L381.2 1333.2 L381.7 1333.2 L382.2 1333.2 L382.7 1333.2 L383.2 1333.2 L383.7 1333.2 L384.2 1333.2 L384.7 1333.2 L385.2 1333.2 L385.7 1333.2 L386.2 1333.2 L386.7 1333.2 L387.2 1333.2 L387.7 1333.2 L388.2 1333.2 L388.7 1333.2 L389.2 1333.2 L389.7 1333.2 L390.2 1333.2 L390.7 1333.2 L391.2 1333.2 L391.7 1333.2 L392.2 1333.2 L392.7 1333.2 L393.2 1333.2 L393.7 1333.2 L394.2 1333.2 L394.7 1333.2 L395.2 1333.2 L395.7 1333.2 L396.2 1333.2 L396.7 1333.2 L397.2 1333.2 L397.7 1333.2 L398.2 1333.2 L398.7 1333.2 L399.2 1333.2 L399.7 1333.2 L400.2 1333.2 L400.7 1333.2 L401.2 1333.2 L401.7 1333.2 L402.2 1333.2 L402.7 1333.2 L403.2 1333.2 L403.7 1333.2 L404.2 1333.2 L404.7 1333.2 L405.2 1334.2 L405.7 1334.4 L406.2 1334.6 L406.7 1334.8 L407.2 1335.1 L407.7 1335.4 L408.2 1335.7 L408.7 1336.1 L409.2 1336.5 L409.7 1336.9 L410.2 1333.2 L410.7 1333.2 L411.2 1333.2 L411.7 1333.2 L412.2 1333.2 L412.7 1333.2 L413.2 1333.2 L413.7 1333.2 L414.2 1333.2 L414.7 1333.2 L415.2 1333.2 L415.7 1333.2 L416.2 1333.2 L416.7 1333.2 L417.2 1333.2 L417.7 1333.2 L418.2 1333.2 L418.7 1333.2 L419.2 1333.2 L419.7 1333.2 L420.2 1333.2 L420.7 1333.2 L421.2 1333.2 L421.7 1333.2 L422.2 1333.2 L422.7 1333.2 L423.2 1333.2 L423.7 1333.2 L424.2 1333.2 L424.7 1333.2 L425.2 1333.2 L425.7 1333.2 L426.2 1333.2 L426.7 1333.2 L427.2 1333.2 L427.7 1333.2 L428.2 1333.2 L428.7 1333.2 L429.2 1333.2 L429.7 1333.2 L430.2 1333.2 L430.7 1333.2 L431.2 1333.2 L431.7 1333.2 L432.2 1333.2 L432.7 1333.2 L433.2 1333.2 L433.7 1333.2 L434.2 1333.2 L434.7 1333.2 L435.2 1333.2 L435.7 1333.2 L436.2 1333.2 L436.7 1333.2 L437.2 1333.2 L437.7 1333.2 L438.2 1333.2 L438.7 1333.2 L439.2 1333.2 L439.7 1333.2 L440.2 1333.2 L440.7 1333.2 L441.2 1333.2 L441.7 1333.2 L442.2 1333.2 L442.7 1333.2 L443.2 1334.2 L443.7 1334.3 L444.2 1334.5 L444.7 1334.7 L445.2 1334.9 L445.7 1335.1 L446.2 1335.4 L446.7 1335.7 L447.2 1336.0 L447.7 1336.3 L448.2 1336.6 L448.7 1337.0 L449.2 1333.2 L449.7 1333.2 L450.2 1333.2 L450.7 1333.2 L451.2 1333.2 L451.7 1333.2 L452.2 1333.2 L452.7 1333.2 L453.2 1333.2 L453.7 1333.2 L454.2 1333.2 L454.7 1333.2 L455.2 1333.2 L455.7 1333.2 L456.2 1333.2 L456.7 1333.2 L457.2 1333.2 L457.7 1333.2 L458.2 1333.2 L458.7 1333.2 L459.2 1333.2 L459.7 1333.2 L460.2 1333.2 L460.7 1333.2 L461.2 1333.2 L461.7 1333.2 L462.2 1333.2 L462.7 1333.2 L463.2 1333.2 L463.7 1333.2 L464.2 1333.2 L464.7 1333.2 L465.2 1333.2 L465.7 1333.2 L466.2 1333.2 L466.7 1333.2 L467.2 1333.2 L467.7 1333.2 L468.2 1333.2 L468.7 1333.2 L469.2 1333.2 L469.7 1333.2 L470.2 1334.2 L470.7 1334.3 L471.2 1334.4 L471.7 1334.5 L472.2 1334.6 L472.7 1334.8 L473.2 1335.0 L473.7 1335.1 L474.2 1335.3 L474.7 1335.6 L475.2 1335.8 L475.7 1336.0 L476.2 1336.2 L476.7 1336.5 L477.2 1336.8 L477.7 1337.0 L478.2 1333.2 L478.7 1333.2 L479.2 1333.2 L479.7 1333.2 L480.2 1333.2 L480.7 1333.2 L481.2 1333.2 L481.7 1333.2 L482.2 1333.2 L482.7 1333.2 L483.2 1333.2 L483.7 1333.2 L484.2 1333.2 L484.7 1333.2 L485.2 1333.2 L485.7 1333.2 L486.2 1333.2 L486.7 1333.2 L487.2 1333.2 L487.7 1333.2 L488.2 1333.2 L488.7 1333.2 L489.2 1333.2 L489.7 1333.2 L490.2 1333.2 L490.7 1333.2 L491.2 1333.2 L491.7 1333.2 L492.2 1333.2 L492.7 1333.2 L493.2 1333.2 L493.7 1333.2 L494.2 1333.2 L494.7 1333.2 L495.2 1333.2 L495.7 1333.2 L496.2 1333.2 L496.7 1333.2 L497.2 1333.2 L497.7 1333.2 L498.2 1333.2 L498.7 1333.2 L499.2 1333.2 L499.7 1333.2 L500.2 1333.2 L500.7 1333.2 L501.2 1333.2 L501.7 1333.2 L502.2 1333.2 L502.7 1333.2 L503.2 1333.2 L503.7 1333.2 L504.2 1333.2 L504.7 1333.2 L505.2 1334.2 L505.7 1334.4 L506.2 1334.6 L506.7 1334.8 L507.2 1335.1 L507.7 1335.4 L508.2 1335.7 L508.7 1336.1 L509.2 1336.5 L509.7 1336.9 L510.2 1333.2 L510.7 1333.2 L511.2 1333.2 L511.7 1333.2 L512.2 1333.2 L512.7 1333.2 L513.2 1333.2 L513.7 1333.2 L514.2 1333.2 L514.7 1333.2 L515.2 1333.2 L515.7 1333.2 L516.2 1333.2 L516.7 1333.2 L517.2 1333.2 L517.7 1333.2 L518.2 1333.2 L518.7 1333.2 L519.2 1333.2 L519.7 1333.2 L520.2 1333.2 L520.7 1333.2 L521.2 1333.2 L521.7 1333.2 L522.2 1333.2 L522.7 1333.2 L523.2 1333.2 L523.7 1333.2 L524.2 1333.2 L524.7 1333.2 L525.2 1333.2 L525.7 1333.2 L526.2 1333.2 L526.7 1333.2 L527.2 1333.2 L527.7 1333.2 L528.2 1333.2 L528.7 1333.2 L529.2 1333.2 L529.7 1333.2 L530.2 1333.2 L530.7 1333.2 L531.2 1333.2 L531.7 1333.2 L532.2 1333.2 L532.7 1333.2 L533.2 1333.2 L533.7 1333.2 L534.2 1333.2 L534.7 1333.2 L535.2 1333.2 L535.7 1333.2 L536.2 1333.2 L536.7 1333.2 L537.2 1333.2 L537.7 1333.2 L538.2 1333.2 L538.7 1333.2 L539.2 1333.2 L539.7 1333.2 L540.2 1333.2 L540.7 1333.2 L541.2 1333.2 L541.7 1333.2 L542.2 1333.2 L542.7 1333.2 L543.2 1333.2 L543.7 1333.2 L544.2 1333.2 L544.7 1333.2 L545.2 1333.2 L545.7 1333.2 L546.2 1333.2 L546.7 1333.2 L547.2 1333.2 L547.7 1333.2 L548.2 1333.2 L548.7 1333.2 L549.2 1333.2 L549.7 1333.2 L550.2 1333.2 L550.7 1333.2 L551.2 1333.2 L551.7 1333.2 L552.2 1333.2 L552.7 1333.2 L553.2 1333.2 L553.7 1333.2 L554.2 1333.2 L554.7 1333.2 L555.2 1333.2 L555.7 1333.2 L556.2 1333.2 L556.7 1333.2 L557.2 1333.2 L557.7 1333.2 L558.2 1333.2 L558.7 1333.2 L559.2 1333.2 L559.7 1333.2 L560.2 1333.2 L560.7 1333.2 L561.2 1333.2 L561.7 1333.2 L562.2 1333.2 L562.7 1333.2 L563.2 1333.2 L563.7 1333.2 L564.2 1333.2 L564.7 1333.2 L565.2 1333.2 L565.7 1333.2 L566.2 1333.2 L566.7 1333.2 L567.2 1333.2 L567.7 1333.2 L568.2 1333.2 L568.7 1333.2 L569.2 1333.2 L569.7 1333.2 L570.2 1333.2 L570.7 1333.2 L571.2 1333.2 L571.7 1333.2 L572.2 1333.2 L572.7 1333.2 L573.2 1333.2 L573.7 1333.2 L574.2 1333.2 L574.7 1333.2 L575.2 1333.2 L575.7 1333.2 L576.2 1333.2 L576.7 1333.2 L577.2 1333.2 L577.7 1333.2 L578.2 1333.2 L578.7 1333.2 L579.2 1333.2 L579.7 1333.2 L580.2 1333.2 L580.7 1333.2 L581.2 1333.2 L581.7 1333.2 L582.2 1333.2 L582.7 1333.2 L583.2 1333.2 L583.7 1333.2 L584.2 1333.2 L584.7 1333.2 L585.2 1333.2 L585.7 1333.2 L586.2 1333.2 L586.7 1333.2 L587.2 1333.2 L587.7 1333.2 L588.2 1333.2 L588.7 1333.2 L589.2 1333.2 L589.7 1333.2 L590.2 1333.2 L590.7 1333.2 L591.2 1333.2 L591.7 1333.2 L592.2 1333.2 L592.7 1333.2 L593.2 1333.2 L593.7 1333.2 L594.2 1333.2 L594.7 1333.2 L595.2 1333.2 L595.7 1333.2 L596.2 1333.2 L596.7 1333.2 L597.2 1333.2 L597.7 1333.2 L598.2 1333.2 L598.7 1333.2 L599.2 1333.2 L599.7 1333.2 L600.2 1333.2 L600.7 1333.2 L601.2 1333.2 L601.7 1333.2 L602.2 1333.2 L602.7 1333.2 L603.2 1333.2 L603.7 1333.2 L604.2 1333.2 L604.7 1333.2 L605.2 1333.2 L605.7 1333.2 L606.2 1333.2 L606.7 1333.2 L607.2 1333.2 L607.7 1333.2 L608.2 1333.2 L608.7 1333.2 L609.2 1333.2 L609.7 1333.2 L610.2 1333.2 L610.7 1333.2 L611.2 1333.2 L611.7 1333.2 L612.2 1333.2 L612.7 1333.2 L613.2 1333.2 L613.7 1333.2 L614.2 1333.2 L614.7 1333.2 L615.2 1333.2 L615.7 1333.2 L616.2 1333.2 L616.7 1333.2 L617.2 1333.2 L617.7 1333.2 L618.2 1333.2 L618.7 1333.2 L619.2 1333.2 L619.7 1333.2 L620.2 1333.2 L620.7 1333.2 L621.2 1333.2 L621.7 1333.2 L622.2 1333.2 L622.7 1333.2 L623.2 1333.2 L623.7 1333.2 L624.2 1333.2 L624.7 1333.2 L625.2 1333.2 L625.7 1333.2 L626.2 1333.2 L626.7 1333.2 L627.2 1333.2 L627.7 1333.2 L628.2 1333.2 L628.7 1333.2 L629.2 1333.2 L629.7 1333.2 L630.2 1333.2 L630.7 1333.2 L631.2 1333.2 L631.7 1333.2 L632.2 1333.2 L632.7 1333.2 L633.2 1333.2 L633.7 1333.2 L634.2 1333.2 L634.7 1333.2 L635.2 1333.2 L635.7 1333.2 L636.2 1333.2 L636.7 1333.2 L637.2 1333.2 L637.7 1333.2 L638.2 1333.2 L638.7 1333.2 L639.2 1333.2 L639.7 1333.2 L640.2 1333.2 L640.7 1333.2 L641.2 1333.2 L641.7 1333.2 L642.2 1333.2 L642.7 1333.2 L643.2 1333.2 L643.7 1333.2 L644.2 1333.2 L644.7 1333.2 L645.2 1334.3 L645.7 1334.8 L646.2 1335.5 L646.7 1336.3 L647.2 1337.3 L647.7 1338.3 L648.2 1339.4 L648.7 1340.6 L649.2 1341.8 L649.7 1343.1 L650.2 1344.4 L650.7 1345.8 L651.2 1347.3 L651.7 1333.2 L652.2 1333.2 L652.7 1333.2 L653.2 1333.2 L653.7 1333.2 L654.2 1333.2 L654.7 1333.2 L655.2 1333.2 L655.7 1333.2 L656.2 1333.2 L656.7 1333.2 L657.2 1333.2 L657.7 1333.2 L658.2 1333.2 L658.7 1333.2 L659.2 1333.2 L659.7 1333.2 L660.2 1333.2 L660.7 1333.2 L661.2 1333.2 L661.7 1333.2 L662.2 1333.2 L662.7 1333.2 L663.2 1333.2 L663.7 1333.2 L664.2 1333.2 L664.7 1333.2 L665.2 1333.2 L665.7 1333.2 L666.2 1333.2 L666.7 1333.2 L667.2 1333.2 L667.7 1333.2 L668.2 1333.2 L668.7 1333.2 L669.2 1333.2 L669.7 1333.2 L670.2 1333.2 L670.7 1333.2 L671.2 1333.2 L671.7 1333.2 L672.2 1333.2 L672.7 1333.2 L673.2 1333.2 L673.7 1333.2 L674.2 1333.2 L674.7 1333.2 L675.2 1333.2 L675.7 1333.2 L676.2 1333.2 L676.7 1333.2 L677.2 1333.2 L677.7 1333.2 L678.2 1333.2 L678.7 1333.2 L679.2 1333.2 L679.7 1333.2 L680.2 1333.2 L680.7 1333.2 L681.2 1333.2 L681.7 1333.2 L682.2 1333.2 L682.7 1333.2 L683.2 1333.2 L683.7 1333.2 L684.2 1333.2 L684.7 1333.2 L685.2 1333.2 L685.7 1333.2 L686.2 1333.2 L686.7 1333.2 L687.2 1333.2 L687.7 1333.2 L688.2 1333.2 L688.7 1333.2 L689.2 1333.2 L689.7 1333.2 L690.2 1333.2 L690.7 1333.2 L691.2 1333.2 L691.7 1333.2 L692.2 1333.2 L692.7 1333.2 L693.2 1333.2 L693.7 1333.2 L694.2 1333.2 L694.7 1333.2 L695.2 1333.2 L695.7 1333.2 L696.2 1333.2 L696.7 1333.2 L697.2 1333.2 L697.7 1333.2 L698.2 1333.2 L698.7 1333.2 L699.2 1333.2 L699.7 1333.2 L700.2 1333.2 L700.7 1333.2 L701.2 1333.2 L701.7 1333.2 L702.2 1333.2 L702.7 1333.2 L703.2 1333.2 L703.7 1333.2 L704.2 1333.2 L704.7 1333.2 L705.2 1333.2 L705.7 1333.2 L706.2 1333.2 L706.7 1333.2 L707.2 1333.2 L707.7 1333.2 L708.2 1333.2 L708.7 1333.2 L709.2 1333.2 L709.7 1333.2 L710.2 1333.2 L710.7 1333.2 L711.2 1333.2 L711.7 1333.2 L712.2 1333.2 L712.7 1333.2 L713.2 1333.2 L713.7 1333.2 L714.2 1333.2 L714.7 1333.2 L715.2 1333.2 L715.7 1333.2 L716.2 1333.2 L716.7 1333.2 L717.2 1333.2 L717.7 1333.2 L718.2 1333.2 L718.7 1333.2 L719.2 1334.2 L719.7 1334.2 L720.2 1334.2 L720.7 1334.2 L721.2 1334.3 L721.7 1334.3 L722.2 1334.3 L722.7 1334.3 L723.2 1334.4 L723.7 1334.4 L724.2 1334.4 L724.7 1334.5 L725.2 1334.5 L725.7 1334.6 L726.2 1334.6 L726.7 1334.7 L727.2 1334.7 L727.7 1334.8 L728.2 1334.8 L728.7 1334.9 L729.2 1334.9 L729.7 1335.0 L730.2 1335.1 L730.7 1335.1 L731.2 1335.2 L731.7 1335.3 L732.2 1335.4 L732.7 1335.4 L733.2 1335.5 L733.7 1335.6 L734.2 1335.7 L734.7 1335.8 L735.2 1335.8 L735.7 1335.9 L736.2 1336.0 L736.7 1336.1 L737.2 1336.2 L737.7 1336.3 L738.2 1336.4 L738.7 1336.5 L739.2 1336.6 L739.7 1336.7 L740.2 1336.8 L740.7 1336.9 L741.2 1337.0 L741.7 1337.1 L742.2 1337.2 L742.7 1337.3 L743.2 1337.5 L743.7 1337.6 L744.2 1337.7 L744.7 1337.8 L745.2 1337.9 L745.7 1338.0 L746.2 1338.2 L746.7 1338.3 L747.2 1338.4 L747.7 1338.6 L748.2 1338.7 L748.7 1338.8 L749.2 1338.9 L749.7 1339.1 L750.2 1339.2 L750.7 1339.4 L751.2 1339.5 L751.7 1339.6 L752.2 1339.8 L752.7 1339.9 L753.2 1340.1 L753.7 1340.2 L754.2 1340.4 L754.7 1340.5 L755.2 1340.7 L755.7 1340.8 L756.2 1341.0 L756.7 1341.1 L757.2 1341.3 L757.7 1341.4 L758.2 1341.6 L758.7 1341.8 L759.2 1341.9 L759.7 1342.1 L760.2 1342.2 L760.7 1342.4 L761.2 1342.6 L761.7 1342.8 L762.2 1342.9 L762.7 1343.1 L763.2 1333.2 L763.7 1333.2 L764.2 1333.2 L764.7 1333.2 L765.2 1333.2 L765.7 1333.2 L766.2 1333.2 L766.7 1333.2 L767.2 1333.2 L767.7 1333.2 L768.2 1333.2 L768.7 1333.2 L769.2 1333.2 L769.7 1333.2 L770.2 1333.2 L770.7 1333.2 L771.2 1333.2 L771.7 1333.2 L772.2 1333.2 L772.7 1333.2 L773.2 1333.2 L773.7 1333.2 L774.2 1333.2 L774.7 1333.2 L775.2 1333.2 L775.7 1333.2 L776.2 1333.2 L776.7 1333.2 L777.2 1333.2 L777.7 1333.2 L778.2 1333.2 L778.7 1333.2 L779.2 1333.2 L779.7 1333.2 L780.2 1333.2 L780.7 1333.2 L781.2 1333.2 L781.7 1333.2 L782.2 1333.2 L782.7 1333.2 L783.2 1333.2 L783.7 1333.2 L784.2 1333.2 L784.7 1333.2 L785.2 1333.2 L785.7 1333.2 L786.2 1333.2 L786.7 1333.2 L787.2 1333.2 L787.7 1333.2 L788.2 1333.2 L788.7 1333.2 L789.2 1333.2 L789.7 1333.2 L790.2 1333.2 L790.7 1333.2 L791.2 1333.2 L791.7 1333.2 L792.2 1333.2 L792.7 1333.2 L793.2 1333.2 L793.7 1333.2 L794.2 1333.2 L794.7 1333.2 L795.2 1333.2 L795.7 1333.2 L796.2 1333.2 L796.7 1333.2 L797.2 1333.2 L797.7 1333.2 L798.2 1333.2 L798.7 1333.2 L799.2 1333.2 L799.7 1333.2 L800.2 1333.2 L800.7 1333.2 L801.2 1333.2 L801.7 1333.2 L802.2 1333.2 L802.7 1333.2 L803.2 1333.2 L803.7 1333.2 L804.2 1333.2 L804.7 1333.2 L805.2 1333.2 L805.7 1333.2 L806.2 1333.2 L806.7 1333.2 L807.2 1333.2 L807.7 1333.2 L808.2 1333.2 L808.7 1333.2 L809.2 1333.2 L809.7 1333.2 L810.2 1333.2 L810.7 1333.2 L811.2 1333.2 L811.7 1333.2 L812.2 1333.2 L812.7 1333.2 L813.2 1333.2 L813.7 1333.2 L814.2 1333.2 L814.7 1333.2 L815.2 1333.2 L815.7 1333.2 L816.2 1333.2 L816.7 1333.2 L817.2 1333.2 L817.7 1333.2 L818.2 1333.2 L818.7 1333.2 L819.2 1333.2 L819.7 1333.2 L820.2 1333.2 L820.7 1333.2 L821.2 1333.2 L821.7 1333.2 L822.2 1333.2 L822.7 1333.2 L823.2 1333.2 L823.7 1333.2 L824.2 1333.2 L824.7 1333.2 L825.2 1333.2 L825.7 1333.2 L826.2 1333.2 L826.7 1333.2 L827.2 1333.2 L827.7 1333.2 L828.2 1333.2 L828.7 1333.2 L829.2 1333.2 L829.7 1333.2 L830.2 1333.2 L830.7 1333.2 L831.2 1333.2 L831.7 1333.2 L832.2 1333.2 L832.7 1333.2 L833.2 1333.2 L833.7 1333.2 L834.2 1333.2 L834.7 1333.2 L835.2 1333.2 L835.7 1333.2 L836.2 1333.2 L836.7 1333.2 L837.2 1333.2 L837.7 1333.2 L838.2 1334.2 L838.7 1334.2 L839.2 1334.2 L839.7 1334.3 L840.2 1334.3 L840.7 1334.4 L841.2 1334.4 L841.7 1334.5 L842.2 1334.5 L842.7 1334.6 L843.2 1334.7 L843.7 1334.7 L844.2 1334.8 L844.7 1334.9 L845.2 1335.0 L845.7 1335.1 L846.2 1335.2 L846.7 1335.3 L847.2 1335.4 L847.7 1335.5 L848.2 1335.6 L848.7 1335.8 L849.2 1335.9 L849.7 1336.0 L850.2 1336.1 L850.7 1336.3 L851.2 1336.4 L851.7 1336.6 L852.2 1336.7 L852.7 1336.9 L853.2 1337.0 L853.7 1337.2 L854.2 1337.4 L854.7 1337.5 L855.2 1337.7 L855.7 1337.9 L856.2 1338.0 L856.7 1338.2 L857.2 1338.4 L857.7 1338.6 L858.2 1338.8 L858.7 1339.0 L859.2 1339.2 L859.7 1339.4 L860.2 1339.6 L860.7 1339.8 L861.2 1340.0 L861.7 1340.2 L862.2 1340.4 L862.7 1340.7 L863.2 1340.9 L863.7 1341.1 L864.2 1341.3 L864.7 1341.6 L865.2 1341.8 L865.7 1342.1 L866.2 1342.3 L866.7 1342.5 L867.2 1342.8 L867.7 1343.0 L868.2 1333.2 L868.7 1333.2 L869.2 1333.2 L869.7 1333.2 L870.2 1333.2 L870.7 1333.2 L871.2 1333.2 L871.7 1333.2 L872.2 1333.2 L872.7 1333.2 L873.2 1333.2 L873.7 1333.2 L874.2 1333.2 L874.7 1333.2 L875.2 1333.2 L875.7 1333.2 L876.2 1333.2 L876.7 1333.2 L877.2 1333.2 L877.7 1333.2 L878.2 1333.2 L878.7 1333.2 L879.2 1333.2 L879.7 1333.2 L880.2 1333.2 L880.7 1333.2 L881.2 1333.2 L881.7 1333.2 L882.2 1333.2 L882.7 1333.2 L883.2 1333.2 L883.7 1333.2 L884.2 1333.2 L884.7 1333.2 L885.2 1333.2 L885.7 1333.2 L886.2 1333.2 L886.7 1333.2 L887.2 1333.2 L887.7 1333.2 L888.2 1333.2 L888.7 1333.2 L889.2 1333.2 L889.7 1333.2 L890.2 1333.2 L890.7 1333.2 L891.2 1333.2 L891.7 1333.2 L892.2 1333.2 L892.7 1333.2 L893.2 1333.2 L893.7 1333.2 L894.2 1333.2 L894.7 1333.2 L895.2 1333.2 L895.7 1333.2 L896.2 1333.2 L896.7 1333.2 L897.2 1333.2 L897.7 1333.2 L898.2 1333.2 L898.7 1333.2 L899.2 1333.2 L899.7 1333.2 L900.2 1333.2 L900.7 1333.2 L901.2 1333.2 L901.7 1333.2 L902.2 1333.2 L902.7 1333.2 L903.2 1333.2 L903.7 1333.2 L904.2 1333.2 L904.7 1333.2 L905.2 1333.2 L905.7 1333.2 L906.2 1333.2 L906.7 1333.2 L907.2 1333.2 L907.7 1333.2 L908.2 1333.2 L908.7 1333.2 L909.2 1333.2 L909.7 1333.2 L910.2 1333.2 L910.7 1333.2 L911.2 1333.2 L911.7 1333.2 L912.2 1333.2 L912.7 1333.2 L913.2 1333.2 L913.7 1333.2 L914.2 1333.2 L914.7 1333.2 L915.2 1333.2 L915.7 1333.2 L916.2 1333.2 L916.7 1333.2 L917.2 1333.2 L917.7 1333.2 L918.2 1333.2 L918.7 1333.2 L919.2 1333.2 L919.7 1333.2 L920.2 1333.2 L920.7 1333.2 L921.2 1333.2 L921.7 1333.2 L922.2 1333.2 L922.7 1333.2 L923.2 1333.2 L923.7 1333.2 L924.2 1333.2 L924.7 1333.2 L925.2 1333.2 L925.7 1333.2 L926.2 1333.2 L926.7 1333.2 L927.2 1333.2 L927.7 1333.2 L928.2 1333.2 L928.7 1333.2 L929.2 1333.2 L929.7 1333.2 L930.2 1334.2 L930.7 1334.2 L931.2 1334.3 L931.7 1334.4 L932.2 1334.5 L932.7 1334.6 L933.2 1334.7 L933.7 1334.8 L934.2 1334.9 L934.7 1335.1 L935.2 1335.3 L935.7 1335.4 L936.2 1335.6 L936.7 1335.8 L937.2 1336.0 L937.7 1336.2 L938.2 1336.4 L938.7 1336.6 L939.2 1336.8 L939.7 1337.1 L940.2 1337.3 L940.7 1337.5 L941.2 1337.8 L941.7 1338.1 L942.2 1338.3 L942.7 1338.6 L943.2 1338.9 L943.7 1339.2 L944.2 1339.4 L944.7 1339.7 L945.2 1340.1 L945.7 1340.4 L946.2 1340.7 L946.7 1341.0 L947.2 1333.2 L947.7 1333.2 L948.2 1333.2 L948.7 1333.2 L949.2 1333.2 L949.7 1333.2 L950.2 1333.2 L950.7 1333.2 L951.2 1333.2 L951.7 1333.2 L952.2 1333.2 L952.7 1333.2 L953.2 1333.2 L953.7 1333.2 L954.2 1333.2 L954.7 1333.2 L955.2 1333.2 L955.7 1333.2 L956.2 1333.2 L956.7 1333.2 L957.2 1333.2 L957.7 1333.2 L958.2 1333.2 L958.7 1333.2 L959.2 1333.2 L959.7 1333.2 L960.2 1333.2 L960.7 1333.2 L961.2 1333.2 L961.7 1333.2 L962.2 1333.2 L962.7 1333.2 L963.2 1333.2 L963.7 1333.2 L964.2 1333.2 L964.7 1333.2 L965.2 1333.2 L965.7 1333.2 L966.2 1333.2 L966.7 1333.2 L967.2 1333.2 L967.7 1333.2 L968.2 1333.2 L968.7 1333.2 L969.2 1333.2 L969.7 1333.2 L970.2 1333.2 L970.7 1333.2 L971.2 1333.2 L971.7 1333.2 L972.2 1333.2 L972.7 1333.2 L973.2 1333.2 L973.7 1333.2 L974.2 1333.2 L974.7 1333.2 L975.2 1333.2 L975.7 1333.2 L976.2 1333.2 L976.7 1333.2 L977.2 1333.2 L977.7 1333.2 L978.2 1333.2 L978.7 1333.2 L979.2 1333.2 L979.7 1333.2 L980.2 1333.2 L980.7 1333.2 L981.2 1333.2 L981.7 1333.2 L982.2 1333.2 L982.7 1333.2 L983.2 1333.2 L983.7 1333.2 L984.2 1333.2 L984.7 1333.2 L985.2 1334.2 L985.7 1334.2 L986.2 1334.3 L986.7 1334.3 L987.2 1334.4 L987.7 1334.5 L988.2 1334.6 L988.7 1334.7 L989.2 1334.8 L989.7 1334.9 L990.2 1335.0 L990.7 1335.1 L991.2 1335.2 L991.7 1335.3 L992.2 1335.4 L992.7 1335.6 L993.2 1335.7 L993.7 1335.8 L994.2 1336.0 L994.7 1336.1 L995.2 1336.3 L995.7 1336.4 L996.2 1336.6 L996.7 1336.8 L997.2 1336.9 L997.7 1337.1 L998.2 1333.2 L998.7 1333.2 L999.2 1333.2 L999.7 1333.2 L1000.2 1333.2 L1000.7 1333.2 L1001.2 1333.2 L1001.7 1333.2 L1002.2 1333.2 L1002.7 1333.2 L1003.2 1333.2 L1003.7 1333.2 L1004.2 1333.2 L1004.7 1333.2 L1005.2 1333.2 L1005.7 1333.2 L1006.2 1333.2 L1006.7 1333.2 L1007.2 1333.2 L1007.7 1333.2 L1008.2 1333.2 L1008.7 1333.2 L1009.2 1333.2 L1009.7 1333.2 L1010.2 1333.2 L1010.7 1333.2 L1011.2 1333.2 L1011.7 1333.2 L1012.2 1333.2 L1012.7 1333.2 L1013.2 1333.2 L1013.7 1333.2 L1014.2 1333.2 L1014.7 1333.2 L1015.2 1333.2 L1015.7 1333.2 L1016.2 1333.2 L1016.7 1333.2 L1017.2 1333.2 L1017.7 1333.2 L1018.2 1333.2 L1018.7 1333.2 L1019.2 1333.2 L1019.7 1333.2 L1020.2 1333.2 L1020.7 1333.2 L1021.2 1333.2 L1021.7 1333.2 L1022.2 1333.2 L1022.7 1333.2 L1023.2 1333.2 L1023.7 1333.2 L1024.2 1333.2 L1024.7 1333.2 L1025.2 1333.2 L1025.7 1333.2 L1026.2 1333.2 L1026.7 1333.2 L1027.2 1333.2 L1027.7 1333.2 L1028.2 1333.2 L1028.7 1333.2 L1029.2 1333.2 L1029.7 1333.2 L1030.2 1333.2 L1030.7 1333.2 L1031.2 1333.2 L1031.7 1333.2 L1032.2 1333.2 L1032.7 1333.2 L1033.2 1333.2 L1033.7 1333.2 L1034.2 1333.2 L1034.7 1333.2 L1035.2 1333.2 L1035.7 1333.2 L1036.2 1333.2 L1036.7 1333.2 L1037.2 1333.2 L1037.7 1333.2 L1038.2 1333.2 L1038.7 1333.2 L1039.2 1333.2 L1039.7 1333.2 L1040.2 1333.2 L1040.7 1333.2 L1041.2 1333.2 L1041.7 1333.2 L1042.2 1333.2 L1042.7 1333.2 L1043.2 1333.2 L1043.7 1333.2 L1044.2 1333.2 L1044.7 1333.2 L1045.2 1333.2 L1045.7 1333.2 L1046.2 1333.2 L1046.7 1333.2 L1047.2 1334.2 L1047.7 1334.2 L1048.2 1334.3 L1048.7 1334.4 L1049.2 1334.5 L1049.7 1334.6 L1050.2 1334.7 L1050.7 1334.8 L1051.2 1334.9 L1051.7 1335.0 L1052.2 1335.2 L1052.7 1335.3 L1053.2 1335.5 L1053.7 1335.6 L1054.2 1335.8 L1054.7 1336.0 L1055.2 1336.1 L1055.7 1336.3 L1056.2 1336.5 L1056.7 1336.7 L1057.2 1336.9 L1057.7 1337.1 L1058.2 1333.2 L1058.7 1333.2 L1059.2 1333.2 L1059.7 1333.2 L1060.2 1333.2 L1060.7 1333.2 L1061.2 1333.2 L1061.7 1333.2 L1062.2 1333.2 L1062.7 1333.2 L1063.2 1333.2 L1063.7 1333.2 L1064.2 1333.2 L1064.7 1333.2 L1065.2 1333.2 L1065.7 1333.2 L1066.2 1333.2 L1066.7 1333.2 L1067.2 1333.2 L1067.7 1333.2 L1068.2 1333.2 L1068.7 1333.2 L1069.2 1333.2 L1069.7 1333.2 L1070.2 1333.2 L1070.7 1333.2 L1071.2 1333.2 L1071.7 1333.2 L1072.2 1333.2 L1072.7 1333.2 L1073.2 1333.2 L1073.7 1333.2 L1074.2 1333.2 L1074.7 1333.2 L1075.2 1333.2 L1075.7 1333.2 L1076.2 1333.2 L1076.7 1333.2 L1077.2 1333.2 L1077.7 1333.2 L1078.2 1333.2 L1078.7 1333.2 L1079.2 1333.2 L1079.7 1333.2 L1080.2 1333.2 L1080.7 1333.2 L1081.2 1333.2 L1081.7 1333.2 L1082.2 1333.2 L1082.7 1333.2 L1083.2 1333.2 L1083.7 1333.2 L1084.2 1333.2 L1084.7 1333.2 L1085.2 1333.2 L1085.7 1333.2 L1086.2 1334.2 L1086.7 1334.2 L1087.2 1334.2 L1087.7 1334.2 L1088.2 1334.2 L1088.7 1334.2 L1089.2 1334.2 L1089.7 1334.2 L1090.2 1334.2 L1090.7 1334.2 L1091.2 1334.3 L1091.7 1334.3 L1092.2 1334.3 L1092.7 1334.3 L1093.2 1334.3 L1093.7 1334.3 L1094.2 1334.4 L1094.7 1334.4 L1095.2 1334.4 L1095.7 1334.4 L1096.2 1334.5 L1096.7 1334.5 L1097.2 1334.5 L1097.7 1334.5 L1098.2 1334.6 L1098.7 1334.6 L1099.2 1334.7 L1099.7 1334.7 L1100.2 1334.7 L1100.7 1334.8 L1101.2 1334.8 L1101.7 1334.9 L1102.2 1334.9 L1102.7 1335.0 L1103.2 1335.0 L1103.7 1335.1 L1104.2 1335.2 L1104.7 1335.2 L1105.2 1335.3 L1105.7 1335.3 L1106.2 1335.4 L1106.7 1335.5 L1107.2 1335.6 L1107.7 1335.6 L1108.2 1335.7 L1108.7 1335.8 L1109.2 1335.9 L1109.7 1336.0 L1110.2 1336.0 L1110.7 1336.1 L1111.2 1336.2 L1111.7 1336.3 L1112.2 1336.4 L1112.7 1336.5 L1113.2 1336.6 L1113.7 1336.7 L1114.2 1336.8 L1114.7 1336.9 L1115.2 1337.0 L1115.7 1337.2 L1116.2 1337.3 L1116.7 1337.4 L1117.2 1337.5 L1117.7 1337.6 L1118.2 1337.8 L1118.7 1337.9 L1119.2 1338.0 L1119.7 1338.1 L1120.2 1338.3 L1120.7 1338.4 L1121.2 1338.6 L1121.7 1338.7 L1122.2 1338.9 L1122.7 1339.0 L1123.2 1339.2 L1123.7 1339.3 L1124.2 1339.5 L1124.7 1339.6 L1125.2 1339.8 L1125.7 1340.0 L1126.2 1340.1 L1126.7 1340.3 L1127.2 1340.5 L1127.7 1340.6 L1128.2 1340.8 L1128.7 1341.0 L1129.2 1341.2 L1129.7 1341.4 L1130.2 1341.6 L1130.7 1341.8 L1131.2 1342.0 L1131.7 1342.2 L1132.2 1342.4 L1132.7 1342.6 L1133.2 1342.8 L1133.7 1343.0 L1134.2 1343.2 L1134.7 1343.4 L1135.2 1343.6 L1135.7 1343.9 L1136.2 1344.1 L1136.7 1344.3 L1137.2 1344.5 L1137.7 1344.8 L1138.2 1345.0 L1138.7 1345.2 L1139.2 1345.5 L1139.7 1345.7 L1140.2 1346.0 L1140.7 1346.2 L1141.2 1346.5 L1141.7 1346.7 L1142.2 1347.0 L1142.7 1347.3 L1143.2 1347.5 L1143.7 1347.8 L1144.2 1348.1 L1144.7 1348.4 L1145.2 1348.6 L1145.7 1348.9 L1146.2 1349.2 L1146.7 1349.5 L1147.2 1349.8 L1147.7 1350.1 L1148.2 1350.4 L1148.7 1350.7 L1149.2 1351.0 L1149.7 1351.3 L1150.2 1351.6 L1150.7 1351.9 L1151.2 1352.2 L1151.7 1352.5 L1152.2 1352.9 L1152.7 1353.2 L1153.2 1353.5 L1153.7 1353.8 L1154.2 1354.2 L1154.7 1354.5 L1155.2 1354.9 L1155.7 1355.2 L1156.2 1355.6 L1156.7 1355.9 L1157.2 1356.3 L1157.7 1356.6 L1158.2 1357.0 L1158.7 1357.3 L1159.2 1357.7 L1159.7 1358.1 L1160.2 1358.5 L1160.7 1358.8 L1161.2 1359.2 L1161.7 1359.6 L1162.2 1360.0 L1162.7 1360.4 L1163.2 1360.8 L1163.7 1361.2 L1164.2 1361.6 L1164.7 1362.0 L1165.2 1362.4 L1165.7 1362.8 L1166.2 1363.2 L1166.7 1363.6 L1167.2 1364.0 L1167.7 1364.5 L1168.2 1364.9 L1168.7 1365.3 L1169.2 1365.8 L1169.7 1366.2 L1170.2 1366.6 L1170.7 1367.1 L1171.2 1367.5 L1171.7 1368.0 L1172.2 1368.4 L1172.7 1368.9 L1173.2 1369.4 L1173.7 1369.8 L1174.2 1370.3 L1174.7 1370.8 L1175.2 1371.2 L1175.7 1371.7 L1176.2 1372.2 L1176.7 1372.7 L1177.2 1373.2 L1177.7 1373.7 L1178.2 1374.2 L1178.7 1374.7 L1179.2 1375.2 L1179.7 1375.7 L1180.2 1376.2 L1180.7 1376.7 L1181.2 1377.2 L1181.7 1377.8 L1182.2 1378.3 L1182.7 1378.8 L1183.2 1379.3 L1183.7 1379.9 L1184.2 1333.2 L1184.7 1333.2 L1185.2 1333.2 L1185.7 1333.2 L1186.2 1333.2 L1186.7 1333.2 L1187.2 1333.2 L1187.7 1333.2 L1188.2 1333.2 L1188.7 1333.2 L1189.2 1333.2 L1189.7 1333.2 L1190.2 1333.2 L1190.7 1333.2 L1191.2 1333.2 L1191.7 1333.2 L1192.2 1333.2 L1192.7 1333.2 L1193.2 1333.2 L1193.7 1333.2 L1194.2 1333.2 L1194.7 1333.2 L1195.2 1333.2 L1195.7 1333.2 L1196.2 1333.2 L1196.7 1333.2 L1197.2 1333.2 L1197.7 1333.2 L1198.2 1333.2 L1198.7 1333.2 L1199.2 1333.2 L1199.7 1333.2 L1200.2 1333.2 L1200.7 1333.2 L1201.2 1333.2 L1201.7 1333.2 L1202.2 1333.2 L1202.7 1333.2 L1203.2 1333.2 L1203.7 1333.2 L1204.2 1333.2 L1204.7 1333.2 L1205.2 1333.2 L1205.7 1333.2 L1206.2 1333.2 L1206.7 1333.2 L1207.2 1333.2 L1207.7 1333.2 L1208.2 1333.2 L1208.7 1333.2 L1209.2 1333.2 L1209.7 1333.2 L1210.2 1333.2 L1210.7 1333.2 L1211.2 1333.2 L1211.7 1333.2 L1212.2 1333.2 L1212.7 1333.2 L1213.2 1333.2 L1213.7 1333.2 L1214.2 1333.2 L1214.7 1333.2 L1215.2 1333.2 L1215.7 1333.2 L1216.2 1333.2 L1216.7 1333.2 L1217.2 1333.2 L1217.7 1333.2 L1218.2 1333.2 L1218.7 1333.2 L1219.2 1333.2 L1219.7 1333.2 L1220.2 1333.2 L1220.7 1333.2 L1221.2 1333.2 L1221.7 1333.2 L1222.2 1333.2 L1222.7 1333.2 L1223.2 1333.2 L1223.7 1333.2 L1224.2 1333.2 L1224.7 1333.2 L1225.2 1333.2 L1225.7 1333.2 L1226.2 1333.2 L1226.7 1333.2 L1227.2 1333.2 L1227.7 1333.2 L1228.2 1333.2 L1228.7 1333.2 L1229.2 1333.2 L1229.7 1333.2 L1230.2 1333.2 L1230.7 1333.2 L1231.2 1333.2 L1231.7 1333.2 L1232.2 1333.2 L1232.7 1333.2 L1233.2 1333.2 L1233.7 1333.2 L1234.2 1333.2 L1234.7 1333.2 L1235.2 1333.2 L1235.7 1333.2 L1236.2 1333.2 L1236.7 1333.2 L1237.2 1333.2 L1237.7 1333.2 L1238.2 1333.2 L1238.7 1333.2 L1239.2 1333.2 L1239.7 1333.2 L1240.2 1333.2 L1240.7 1333.2 L1241.2 1333.2 L1241.7 1333.2 L1242.2 1333.2 L1242.7 1333.2 L1243.2 1333.2 L1243.7 1333.2 L1244.2 1333.2 L1244.7 1333.2 L1245.2 1333.2 L1245.7 1333.2 L1246.2 1333.2 L1246.7 1333.2 L1247.2 1333.2 L1247.7 1333.2 L1248.2 1333.2 L1248.7 1333.2 L1249.2 1333.2 L1249.7 1333.2 L1250.2 1333.2 L1250.7 1333.2 L1251.2 1333.2 L1251.7 1333.2 L1252.2 1333.2 L1252.7 1333.2 L1253.2 1333.2 L1253.7 1333.2 L1254.2 1333.2 L1254.7 1333.2 L1255.2 1333.2 L1255.7 1333.2 L1256.2 1333.2 L1256.7 1333.2 L1257.2 1334.2 L1257.7 1334.3 L1258.2 1334.3 L1258.7 1334.4 L1259.2 1334.5 L1259.7 1334.6 L1260.2 1334.7 L1260.7 1334.9 L1261.2 1335.0 L1261.7 1335.2 L1262.2 1335.3 L1262.7 1335.5 L1263.2 1335.7 L1263.7 1335.8 L1264.2 1336.0 L1264.7 1336.2 L1265.2 1336.4 L1265.7 1336.6 L1266.2 1336.8 L1266.7 1337.1 L1267.2 1333.2 L1267.7 1333.2 L1268.2 1333.2 L1268.7 1333.2 L1269.2 1333.2 L1269.7 1333.2 L1270.2 1333.2 L1270.7 1333.2 L1271.2 1333.2 L1271.7 1333.2 L1272.2 1333.2 L1272.7 1333.2 L1273.2 1333.2 L1273.7 1333.2 L1274.2 1333.2 L1274.7 1333.2 L1275.2 1333.2 L1275.7 1333.2 L1276.2 1333.2 L1276.7 1333.2 L1277.2 1333.2 L1277.7 1333.2 L1278.2 1333.2 L1278.7 1333.2 L1279.2 1333.2 L1279.7 1333.2 L1280.2 1333.2 L1280.7 1333.2 L1281.2 1333.2 L1281.7 1333.2 L1282.2 1333.2 L1282.7 1333.2 L1283.2 1333.2 L1283.7 1333.2 L1284.2 1333.2 L1284.7 1333.2 L1285.2 1333.2 L1285.7 1333.2 L1286.2 1333.2 L1286.7 1333.2 L1287.2 1333.2 L1287.7 1333.2 L1288.2 1333.2 L1288.7 1333.2 L1289.2 1333.2 L1289.7 1333.2 L1290.2 1333.2 L1290.7 1333.2 L1291.2 1333.2 L1291.7 1333.2 L1292.2 1333.2 L1292.7 1333.2 L1293.2 1333.2 L1293.7 1333.2 L1294.2 1333.2 L1294.7 1333.2 L1295.2 1333.2 L1295.7 1333.2 L1296.2 1333.2 L1296.7 1333.2 L1297.2 1333.2 L1297.7 1333.2 L1298.2 1333.2 L1298.7 1333.2 L1299.2 1333.2 L1299.7 1333.2 L1300.2 1333.2 L1300.7 1333.2 L1301.2 1333.2 L1301.7 1333.2 L1302.2 1333.2 L1302.7 1333.2 L1303.2 1333.2 L1303.7 1333.2 L1304.2 1333.2 L1304.7 1333.2 L1305.2 1333.2 L1305.7 1333.2 L1306.2 1333.2 L1306.7 1333.2 L1307.2 1333.2 L1307.7 1333.2 L1308.2 1333.2 L1308.7 1333.2 L1309.2 1333.2 L1309.7 1333.2 L1310.2 1333.2 L1310.7 1333.2 L1311.2 1333.2 L1311.7 1333.2 L1312.2 1333.2 L1312.7 1333.2 L1313.2 1333.2 L1313.2 1345.8 L1312.7 1345.2 L1312.2 1344.7 L1311.7 1345.4 L1311.2 1344.7 L1310.7 1346.0 L1310.2 1345.9 L1309.7 1345.4 L1309.2 1345.3 L1308.7 1345.3 L1308.2 1345.1 L1307.7 1345.6 L1307.2 1345.3 L1306.7 1345.6 L1306.2 1345.0 L1305.7 1346.3 L1305.2 1345.2 L1304.7 1344.3 L1304.2 1343.0 L1303.7 1343.9 L1303.2 1343.9 L1302.7 1344.5 L1302.2 1343.1 L1301.7 1343.8 L1301.2 1342.5 L1300.7 1342.6 L1300.2 1343.1 L1299.7 1342.4 L1299.2 1344.2 L1298.7 1345.3 L1298.2 1345.6 L1297.7 1345.2 L1297.2 1345.8 L1296.7 1346.2 L1296.2 1345.9 L1295.7 1346.1 L1295.2 1347.4 L1294.7 1347.3 L1294.2 1348.1 L1293.7 1348.2 L1293.2 1347.1 L1292.7 1349.0 L1292.2 1347.0 L1291.7 1346.2 L1291.2 1344.7 L1290.7 1345.4 L1290.2 1346.2 L1289.7 1343.6 L1289.2 1344.3 L1288.7 1343.7 L1288.2 1344.0 L1287.7 1344.5 L1287.2 1344.2 L1286.7 1344.6 L1286.2 1343.6 L1285.7 1342.8 L1285.2 1344.6 L1284.7 1346.1 L1284.2 1344.4 L1283.7 1344.5 L1283.2 1344.3 L1282.7 1343.9 L1282.2 1342.9 L1281.7 1342.3 L1281.2 1343.1 L1280.7 1342.2 L1280.2 1342.6 L1279.7 1341.6 L1279.2 1343.0 L1278.7 1344.7 L1278.2 1343.8 L1277.7 1344.5 L1277.2 1346.3 L1276.7 1346.9 L1276.2 1345.9 L1275.7 1343.6 L1275.2 1343.4 L1274.7 1344.4 L1274.2 1342.6 L1273.7 1343.8 L1273.2 1343.2 L1272.7 1341.8 L1272.2 1343.3 L1271.7 1343.2 L1271.2 1343.5 L1270.7 1344.9 L1270.2 1344.3 L1269.7 1344.7 L1269.2 1346.6 L1268.7 1345.7 L1268.2 1345.4 L1267.7 1344.8 L1267.2 1345.1 L1266.7 1345.9 L1266.2 1346.9 L1265.7 1345.8 L1265.2 1345.0 L1264.7 1343.8 L1264.2 1344.2 L1263.7 1344.7 L1263.2 1344.8 L1262.7 1343.1 L1262.2 1344.1 L1261.7 1344.7 L1261.2 1344.7 L1260.7 1344.9 L1260.2 1346.0 L1259.7 1345.2 L1259.2 1346.3 L1258.7 1347.8 L1258.2 1347.5 L1257.7 1346.9 L1257.2 1345.2 L1256.7 1344.6 L1256.2 1345.4 L1255.7 1344.3 L1255.2 1344.6 L1254.7 1344.8 L1254.2 1343.9 L1253.7 1346.1 L1253.2 1347.2 L1252.7 1345.4 L1252.2 1344.5 L1251.7 1343.7 L1251.2 1343.9 L1250.7 1343.4 L1250.2 1343.6 L1249.7 1344.1 L1249.2 1345.3 L1248.7 1344.0 L1248.2 1343.2 L1247.7 1341.6 L1247.2 1341.7 L1246.7 1341.9 L1246.2 1343.4 L1245.7 1343.2 L1245.2 1344.1 L1244.7 1343.0 L1244.2 1343.1 L1243.7 1343.7 L1243.2 1343.2 L1242.7 1344.7 L1242.2 1345.3 L1241.7 1344.3 L1241.2 1345.7 L1240.7 1344.8 L1240.2 1344.4 L1239.7 1344.3 L1239.2 1344.9 L1238.7 1344.8 L1238.2 1344.7 L1237.7 1345.9 L1237.2 1344.5 L1236.7 1344.8 L1236.2 1344.3 L1235.7 1343.3 L1235.2 1343.7 L1234.7 1345.0 L1234.2 1342.8 L1233.7 1344.8 L1233.2 1343.9 L1232.7 1344.0 L1232.2 1344.6 L1231.7 1343.9 L1231.2 1344.7 L1230.7 1344.5 L1230.2 1344.1 L1229.7 1344.7 L1229.2 1345.1 L1228.7 1344.2 L1228.2 1344.0 L1227.7 1343.5 L1227.2 1342.3 L1226.7 1343.0 L1226.2 1343.2 L1225.7 1344.4 L1225.2 1345.8 L1224.7 1346.2 L1224.2 1346.1 L1223.7 1345.8 L1223.2 1345.2 L1222.7 1346.6 L1222.2 1346.0 L1221.7 1345.0 L1221.2 1344.6 L1220.7 1345.3 L1220.2 1346.4 L1219.7 1345.4 L1219.2 1342.9 L1218.7 1343.4 L1218.2 1344.1 L1217.7 1344.1 L1217.2 1344.0 L1216.7 1345.1 L1216.2 1345.1 L1215.7 1344.5 L1215.2 1345.7 L1214.7 1345.0 L1214.2 1344.8 L1213.7 1345.2 L1213.2 1344.8 L1212.7 1344.8 L1212.2 1344.8 L1211.7 1344.2 L1211.2 1344.7 L1210.7 1345.4 L1210.2 1344.6 L1209.7 1343.5 L1209.2 1342.9 L1208.7 1343.2 L1208.2 1341.8 L1207.7 1342.5 L1207.2 1343.7 L1206.7 1343.3 L1206.2 1345.4 L1205.7 1345.8 L1205.2 1344.3 L1204.7 1345.6 L1204.2 1344.9 L1203.7 1344.3 L1203.2 1344.3 L1202.7 1343.4 L1202.2 1343.8 L1201.7 1343.6 L1201.2 1343.8 L1200.7 1342.0 L1200.2 1343.1 L1199.7 1343.5 L1199.2 1344.0 L1198.7 1343.7 L1198.2 1342.1 L1197.7 1344.6 L1197.2 1345.4 L1196.7 1344.7 L1196.2 1346.6 L1195.7 1346.1 L1195.2 1346.5 L1194.7 1346.2 L1194.2 1344.6 L1193.7 1346.3 L1193.2 1347.7 L1192.7 1345.8 L1192.2 1345.4 L1191.7 1345.3 L1191.2 1345.5 L1190.7 1346.4 L1190.2 1344.9 L1189.7 1345.6 L1189.2 1344.0 L1188.7 1346.3 L1188.2 1346.9 L1187.7 1345.5 L1187.2 1345.9 L1186.7 1345.4 L1186.2 1346.9 L1185.7 1346.6 L1185.2 1346.6 L1184.7 1347.8 L1184.2 1347.8 L1183.7 1395.8 L1183.2 1395.0 L1182.7 1394.3 L1182.2 1393.6 L1181.7 1392.9 L1181.2 1392.2 L1180.7 1391.5 L1180.2 1390.8 L1179.7 1390.1 L1179.2 1389.4 L1178.7 1388.7 L1178.2 1388.1 L1177.7 1387.4 L1177.2 1386.8 L1176.7 1386.1 L1176.2 1385.5 L1175.7 1384.9 L1175.2 1384.2 L1174.7 1383.6 L1174.2 1383.0 L1173.7 1382.4 L1173.2 1381.8 L1172.7 1381.2 L1172.2 1380.7 L1171.7 1380.1 L1171.2 1379.5 L1170.7 1378.9 L1170.2 1378.4 L1169.7 1377.8 L1169.2 1377.3 L1168.7 1376.8 L1168.2 1376.2 L1167.7 1375.7 L1167.2 1375.2 L1166.7 1374.7 L1166.2 1374.1 L1165.7 1373.6 L1165.2 1373.1 L1164.7 1372.6 L1164.2 1372.2 L1163.7 1371.7 L1163.2 1371.2 L1162.7 1370.7 L1162.2 1370.3 L1161.7 1369.8 L1161.2 1369.3 L1160.7 1368.9 L1160.2 1368.4 L1159.7 1368.0 L1159.2 1367.6 L1158.7 1367.1 L1158.2 1366.7 L1157.7 1366.3 L1157.2 1365.9 L1156.7 1365.5 L1156.2 1365.1 L1155.7 1364.7 L1155.2 1364.3 L1154.7 1363.9 L1154.2 1363.5 L1153.7 1363.1 L1153.2 1362.7 L1152.7 1362.4 L1152.2 1362.0 L1151.7 1361.6 L1151.2 1361.3 L1150.7 1360.9 L1150.2 1360.6 L1149.7 1360.2 L1149.2 1359.9 L1148.7 1359.5 L1148.2 1359.2 L1147.7 1358.9 L1147.2 1358.5 L1146.7 1358.2 L1146.2 1357.9 L1145.7 1357.6 L1145.2 1357.3 L1144.7 1357.0 L1144.2 1356.7 L1143.7 1356.4 L1143.2 1356.1 L1142.7 1355.8 L1142.2 1355.5 L1141.7 1355.2 L1141.2 1354.9 L1140.7 1354.7 L1140.2 1354.4 L1139.7 1354.1 L1139.2 1353.9 L1138.7 1353.6 L1138.2 1353.3 L1137.7 1353.1 L1137.2 1352.8 L1136.7 1352.6 L1136.2 1352.4 L1135.7 1352.1 L1135.2 1351.9 L1134.7 1351.7 L1134.2 1351.4 L1133.7 1351.2 L1133.2 1351.0 L1132.7 1350.8 L1132.2 1350.5 L1131.7 1350.3 L1131.2 1350.1 L1130.7 1349.9 L1130.2 1349.7 L1129.7 1349.5 L1129.2 1349.8 L1128.7 1349.1 L1128.2 1348.9 L1127.7 1348.8 L1127.2 1348.6 L1126.7 1348.4 L1126.2 1348.2 L1125.7 1348.0 L1125.2 1347.9 L1124.7 1347.7 L1124.2 1347.5 L1123.7 1347.4 L1123.2 1347.2 L1122.7 1347.1 L1122.2 1346.9 L1121.7 1346.8 L1121.2 1346.8 L1120.7 1346.5 L1120.2 1347.0 L1119.7 1346.6 L1119.2 1346.1 L1118.7 1346.3 L1118.2 1345.8 L1117.7 1345.7 L1117.2 1346.3 L1116.7 1345.4 L1116.2 1346.7 L1115.7 1347.8 L1115.2 1347.7 L1114.7 1346.2 L1114.2 1345.2 L1113.7 1344.7 L1113.2 1344.6 L1112.7 1344.5 L1112.2 1344.4 L1111.7 1344.8 L1111.2 1344.6 L1110.7 1346.1 L1110.2 1346.1 L1109.7 1346.5 L1109.2 1345.6 L1108.7 1346.9 L1108.2 1346.0 L1107.7 1344.9 L1107.2 1343.6 L1106.7 1344.6 L1106.2 1344.8 L1105.7 1345.9 L1105.2 1344.8 L1104.7 1344.4 L1104.2 1345.2 L1103.7 1346.8 L1103.2 1347.0 L1102.7 1346.6 L1102.2 1345.3 L1101.7 1345.8 L1101.2 1344.6 L1100.7 1345.0 L1100.2 1345.5 L1099.7 1344.2 L1099.2 1343.2 L1098.7 1345.1 L1098.2 1345.3 L1097.7 1344.9 L1097.2 1346.3 L1096.7 1346.4 L1096.2 1346.5 L1095.7 1348.0 L1095.2 1347.6 L1094.7 1348.0 L1094.2 1347.2 L1093.7 1346.0 L1093.2 1345.4 L1092.7 1344.6 L1092.2 1342.3 L1091.7 1342.3 L1091.2 1342.4 L1090.7 1343.9 L1090.2 1343.8 L1089.7 1345.3 L1089.2 1346.8 L1088.7 1347.0 L1088.2 1346.7 L1087.7 1347.3 L1087.2 1348.0 L1086.7 1347.2 L1086.2 1345.3 L1085.7 1346.6 L1085.2 1346.7 L1084.7 1347.4 L1084.2 1347.8 L1083.7 1346.9 L1083.2 1347.6 L1082.7 1347.3 L1082.2 1346.1 L1081.7 1346.5 L1081.2 1348.1 L1080.7 1347.8 L1080.2 1346.0 L1079.7 1345.6 L1079.2 1346.4 L1078.7 1345.9 L1078.2 1347.2 L1077.7 1348.5 L1077.2 1348.4 L1076.7 1348.4 L1076.2 1349.3 L1075.7 1346.2 L1075.2 1346.0 L1074.7 1346.6 L1074.2 1347.6 L1073.7 1347.3 L1073.2 1347.4 L1072.7 1348.1 L1072.2 1348.6 L1071.7 1349.0 L1071.2 1349.7 L1070.7 1348.8 L1070.2 1348.7 L1069.7 1348.3 L1069.2 1348.2 L1068.7 1347.1 L1068.2 1346.2 L1067.7 1347.2 L1067.2 1347.6 L1066.7 1347.1 L1066.2 1347.0 L1065.7 1346.2 L1065.2 1345.4 L1064.7 1345.1 L1064.2 1344.7 L1063.7 1345.0 L1063.2 1345.5 L1062.7 1345.6 L1062.2 1346.7 L1061.7 1345.5 L1061.2 1346.9 L1060.7 1345.9 L1060.2 1347.1 L1059.7 1345.8 L1059.2 1345.4 L1058.7 1345.2 L1058.2 1344.9 L1057.7 1344.6 L1057.2 1344.2 L1056.7 1343.5 L1056.2 1345.2 L1055.7 1346.0 L1055.2 1347.2 L1054.7 1346.1 L1054.2 1346.0 L1053.7 1344.1 L1053.2 1343.4 L1052.7 1344.7 L1052.2 1346.2 L1051.7 1345.4 L1051.2 1345.3 L1050.7 1344.2 L1050.2 1346.6 L1049.7 1346.6 L1049.2 1348.9 L1048.7 1348.5 L1048.2 1346.7 L1047.7 1348.3 L1047.2 1346.7 L1046.7 1346.7 L1046.2 1346.3 L1045.7 1346.6 L1045.2 1347.2 L1044.7 1347.4 L1044.2 1347.2 L1043.7 1348.8 L1043.2 1349.2 L1042.7 1347.9 L1042.2 1349.3 L1041.7 1350.2 L1041.2 1349.8 L1040.7 1348.6 L1040.2 1348.1 L1039.7 1347.6 L1039.2 1347.3 L1038.7 1347.6 L1038.2 1347.8 L1037.7 1346.7 L1037.2 1347.4 L1036.7 1346.6 L1036.2 1346.6 L1035.7 1346.3 L1035.2 1346.5 L1034.7 1347.1 L1034.2 1348.4 L1033.7 1348.7 L1033.2 1347.6 L1032.7 1346.5 L1032.2 1347.3 L1031.7 1348.3 L1031.2 1346.5 L1030.7 1345.6 L1030.2 1344.7 L1029.7 1345.7 L1029.2 1345.2 L1028.7 1346.7 L1028.2 1346.6 L1027.7 1347.6 L1027.2 1347.8 L1026.7 1346.2 L1026.2 1346.4 L1025.7 1344.9 L1025.2 1347.1 L1024.7 1346.3 L1024.2 1347.5 L1023.7 1347.9 L1023.2 1347.0 L1022.7 1348.4 L1022.2 1347.0 L1021.7 1346.6 L1021.2 1347.5 L1020.7 1346.2 L1020.2 1346.6 L1019.7 1347.5 L1019.2 1347.7 L1018.7 1347.4 L1018.2 1347.9 L1017.7 1346.2 L1017.2 1346.1 L1016.7 1344.3 L1016.2 1343.8 L1015.7 1344.7 L1015.2 1344.3 L1014.7 1345.1 L1014.2 1347.0 L1013.7 1347.2 L1013.2 1348.1 L1012.7 1347.4 L1012.2 1347.2 L1011.7 1346.3 L1011.2 1346.9 L1010.7 1346.4 L1010.2 1345.9 L1009.7 1345.1 L1009.2 1345.4 L1008.7 1346.4 L1008.2 1345.8 L1007.7 1347.5 L1007.2 1346.2 L1006.7 1346.1 L1006.2 1346.2 L1005.7 1345.7 L1005.2 1345.5 L1004.7 1345.4 L1004.2 1346.4 L1003.7 1344.6 L1003.2 1345.9 L1002.7 1346.7 L1002.2 1345.9 L1001.7 1346.5 L1001.2 1347.2 L1000.7 1348.3 L1000.2 1348.6 L999.7 1348.7 L999.2 1348.0 L998.7 1346.9 L998.2 1347.9 L997.7 1347.4 L997.2 1347.6 L996.7 1347.4 L996.2 1347.7 L995.7 1349.0 L995.2 1349.3 L994.7 1347.9 L994.2 1347.3 L993.7 1346.4 L993.2 1346.4 L992.7 1345.7 L992.2 1345.5 L991.7 1348.0 L991.2 1347.6 L990.7 1351.2 L990.2 1350.4 L989.7 1348.5 L989.2 1348.4 L988.7 1349.9 L988.2 1349.1 L987.7 1348.5 L987.2 1348.0 L986.7 1346.0 L986.2 1345.8 L985.7 1346.6 L985.2 1348.1 L984.7 1344.7 L984.2 1344.5 L983.7 1346.9 L983.2 1346.2 L982.7 1344.5 L982.2 1345.5 L981.7 1345.6 L981.2 1344.0 L980.7 1346.5 L980.2 1347.0 L979.7 1346.1 L979.2 1346.2 L978.7 1346.3 L978.2 1346.4 L977.7 1345.2 L977.2 1344.3 L976.7 1344.9 L976.2 1345.5 L975.7 1345.2 L975.2 1346.6 L974.7 1346.4 L974.2 1346.4 L973.7 1344.9 L973.2 1343.4 L972.7 1344.2 L972.2 1345.1 L971.7 1343.5 L971.2 1344.5 L970.7 1344.8 L970.2 1344.7 L969.7 1345.2 L969.2 1346.8 L968.7 1346.7 L968.2 1346.2 L967.7 1347.0 L967.2 1346.8 L966.7 1347.8 L966.2 1348.5 L965.7 1347.2 L965.2 1347.7 L964.7 1347.3 L964.2 1346.8 L963.7 1347.4 L963.2 1347.0 L962.7 1346.1 L962.2 1346.3 L961.7 1345.4 L961.2 1344.2 L960.7 1344.7 L960.2 1347.1 L959.7 1346.5 L959.2 1344.9 L958.7 1343.4 L958.2 1342.5 L957.7 1342.9 L957.2 1344.8 L956.7 1345.1 L956.2 1346.3 L955.7 1345.1 L955.2 1345.8 L954.7 1346.1 L954.2 1346.0 L953.7 1345.5 L953.2 1346.3 L952.7 1346.3 L952.2 1345.9 L951.7 1344.8 L951.2 1343.8 L950.7 1344.2 L950.2 1344.4 L949.7 1344.9 L949.2 1345.2 L948.7 1343.9 L948.2 1343.7 L947.7 1343.8 L947.2 1345.5 L946.7 1345.2 L946.2 1345.7 L945.7 1347.0 L945.2 1348.3 L944.7 1348.4 L944.2 1347.7 L943.7 1346.4 L943.2 1347.5 L942.7 1345.6 L942.2 1344.8 L941.7 1345.4 L941.2 1345.4 L940.7 1344.9 L940.2 1345.0 L939.7 1345.7 L939.2 1346.0 L938.7 1346.3 L938.2 1347.0 L937.7 1345.9 L937.2 1346.4 L936.7 1346.1 L936.2 1346.2 L935.7 1347.4 L935.2 1346.3 L934.7 1347.2 L934.2 1346.6 L933.7 1345.2 L933.2 1345.6 L932.7 1344.6 L932.2 1345.6 L931.7 1346.5 L931.2 1346.2 L930.7 1346.7 L930.2 1345.3 L929.7 1347.1 L929.2 1348.2 L928.7 1348.6 L928.2 1347.3 L927.7 1347.9 L927.2 1348.6 L926.7 1349.4 L926.2 1346.7 L925.7 1346.6 L925.2 1346.9 L924.7 1344.8 L924.2 1344.0 L923.7 1345.5 L923.2 1345.2 L922.7 1346.2 L922.2 1346.7 L921.7 1345.2 L921.2 1346.2 L920.7 1344.3 L920.2 1344.6 L919.7 1346.1 L919.2 1346.6 L918.7 1346.0 L918.2 1346.5 L917.7 1345.9 L917.2 1345.5 L916.7 1344.5 L916.2 1345.2 L915.7 1344.2 L915.2 1345.3 L914.7 1345.0 L914.2 1344.8 L913.7 1344.8 L913.2 1344.3 L912.7 1345.0 L912.2 1346.8 L911.7 1348.3 L911.2 1349.3 L910.7 1346.6 L910.2 1346.8 L909.7 1344.5 L909.2 1344.6 L908.7 1345.3 L908.2 1346.6 L907.7 1347.2 L907.2 1346.7 L906.7 1346.0 L906.2 1346.4 L905.7 1346.6 L905.2 1345.0 L904.7 1343.8 L904.2 1345.5 L903.7 1344.7 L903.2 1344.2 L902.7 1344.2 L902.2 1345.1 L901.7 1345.0 L901.2 1345.1 L900.7 1345.9 L900.2 1346.5 L899.7 1346.8 L899.2 1348.2 L898.7 1350.2 L898.2 1349.5 L897.7 1348.2 L897.2 1348.0 L896.7 1347.8 L896.2 1347.2 L895.7 1346.9 L895.2 1346.6 L894.7 1346.9 L894.2 1346.4 L893.7 1345.5 L893.2 1344.1 L892.7 1344.9 L892.2 1344.0 L891.7 1346.8 L891.2 1344.9 L890.7 1345.1 L890.2 1346.2 L889.7 1347.2 L889.2 1348.1 L888.7 1347.0 L888.2 1346.8 L887.7 1348.4 L887.2 1350.3 L886.7 1348.8 L886.2 1350.2 L885.7 1349.8 L885.2 1349.2 L884.7 1348.5 L884.2 1347.9 L883.7 1347.9 L883.2 1347.0 L882.7 1344.8 L882.2 1344.9 L881.7 1345.3 L881.2 1344.6 L880.7 1345.5 L880.2 1346.4 L879.7 1346.3 L879.2 1345.2 L878.7 1344.7 L878.2 1345.0 L877.7 1344.4 L877.2 1343.9 L876.7 1343.3 L876.2 1345.1 L875.7 1345.3 L875.2 1344.5 L874.7 1345.6 L874.2 1346.5 L873.7 1346.4 L873.2 1345.4 L872.7 1346.5 L872.2 1344.7 L871.7 1346.0 L871.2 1346.7 L870.7 1345.6 L870.2 1347.6 L869.7 1346.4 L869.2 1346.5 L868.7 1345.8 L868.2 1345.6 L867.7 1347.0 L867.2 1346.8 L866.7 1346.5 L866.2 1346.3 L865.7 1346.1 L865.2 1345.8 L864.7 1346.9 L864.2 1346.0 L863.7 1345.4 L863.2 1344.9 L862.7 1344.7 L862.2 1344.7 L861.7 1345.8 L861.2 1345.0 L860.7 1345.7 L860.2 1345.7 L859.7 1344.8 L859.2 1345.4 L858.7 1346.1 L858.2 1345.2 L857.7 1343.4 L857.2 1343.8 L856.7 1343.7 L856.2 1344.4 L855.7 1343.8 L855.2 1343.8 L854.7 1344.4 L854.2 1345.0 L853.7 1345.6 L853.2 1344.7 L852.7 1346.2 L852.2 1346.6 L851.7 1346.1 L851.2 1344.5 L850.7 1346.5 L850.2 1346.4 L849.7 1346.8 L849.2 1346.9 L848.7 1346.9 L848.2 1348.2 L847.7 1348.2 L847.2 1349.2 L846.7 1347.9 L846.2 1347.2 L845.7 1348.1 L845.2 1349.4 L844.7 1349.6 L844.2 1348.0 L843.7 1347.9 L843.2 1347.5 L842.7 1346.6 L842.2 1348.6 L841.7 1348.3 L841.2 1347.4 L840.7 1347.5 L840.2 1345.9 L839.7 1346.4 L839.2 1347.6 L838.7 1346.9 L838.2 1345.9 L837.7 1345.8 L837.2 1345.8 L836.7 1345.7 L836.2 1346.0 L835.7 1346.2 L835.2 1347.2 L834.7 1346.8 L834.2 1346.6 L833.7 1347.1 L833.2 1347.0 L832.7 1347.7 L832.2 1347.7 L831.7 1346.9 L831.2 1347.4 L830.7 1347.2 L830.2 1349.1 L829.7 1349.3 L829.2 1348.8 L828.7 1348.0 L828.2 1346.2 L827.7 1344.3 L827.2 1347.0 L826.7 1347.5 L826.2 1347.6 L825.7 1347.0 L825.2 1347.4 L824.7 1348.1 L824.2 1348.6 L823.7 1347.9 L823.2 1347.5 L822.7 1346.1 L822.2 1346.1 L821.7 1345.7 L821.2 1347.4 L820.7 1346.0 L820.2 1346.7 L819.7 1346.9 L819.2 1347.3 L818.7 1347.4 L818.2 1346.9 L817.7 1345.8 L817.2 1347.3 L816.7 1347.4 L816.2 1346.8 L815.7 1345.3 L815.2 1345.6 L814.7 1346.1 L814.2 1346.2 L813.7 1348.0 L813.2 1346.9 L812.7 1345.4 L812.2 1344.5 L811.7 1345.3 L811.2 1345.1 L810.7 1346.4 L810.2 1346.5 L809.7 1346.7 L809.2 1347.4 L808.7 1346.7 L808.2 1347.5 L807.7 1346.7 L807.2 1346.7 L806.7 1347.2 L806.2 1346.6 L805.7 1345.6 L805.2 1346.0 L804.7 1345.9 L804.2 1344.9 L803.7 1345.0 L803.2 1344.8 L802.7 1343.9 L802.2 1345.0 L801.7 1345.7 L801.2 1346.3 L800.7 1346.4 L800.2 1345.5 L799.7 1345.9 L799.2 1345.3 L798.7 1345.4 L798.2 1346.9 L797.7 1346.1 L797.2 1345.5 L796.7 1345.6 L796.2 1346.6 L795.7 1347.3 L795.2 1348.0 L794.7 1346.3 L794.2 1346.3 L793.7 1346.8 L793.2 1347.1 L792.7 1346.1 L792.2 1346.9 L791.7 1346.9 L791.2 1345.8 L790.7 1345.9 L790.2 1347.8 L789.7 1348.1 L789.2 1347.8 L788.7 1348.0 L788.2 1348.6 L787.7 1348.7 L787.2 1348.0 L786.7 1347.0 L786.2 1347.4 L785.7 1346.2 L785.2 1345.0 L784.7 1345.1 L784.2 1345.1 L783.7 1346.2 L783.2 1347.5 L782.7 1346.4 L782.2 1347.1 L781.7 1348.7 L781.2 1347.9 L780.7 1347.1 L780.2 1347.4 L779.7 1347.2 L779.2 1348.3 L778.7 1348.5 L778.2 1347.9 L777.7 1347.5 L777.2 1346.6 L776.7 1346.4 L776.2 1347.5 L775.7 1346.8 L775.2 1348.3 L774.7 1346.6 L774.2 1346.9 L773.7 1345.2 L773.2 1345.0 L772.7 1344.3 L772.2 1345.3 L771.7 1345.3 L771.2 1345.6 L770.7 1345.7 L770.2 1345.6 L769.7 1345.3 L769.2 1345.5 L768.7 1346.6 L768.2 1347.3 L767.7 1347.1 L767.2 1345.9 L766.7 1346.5 L766.2 1345.8 L765.7 1346.5 L765.2 1346.9 L764.7 1347.2 L764.2 1347.4 L763.7 1348.2 L763.2 1346.4 L762.7 1347.1 L762.2 1346.9 L761.7 1349.0 L761.2 1347.6 L760.7 1347.1 L760.2 1346.2 L759.7 1346.3 L759.2 1346.1 L758.7 1346.6 L758.2 1346.9 L757.7 1345.7 L757.2 1345.8 L756.7 1346.1 L756.2 1345.0 L755.7 1345.0 L755.2 1345.6 L754.7 1347.3 L754.2 1346.4 L753.7 1345.7 L753.2 1346.5 L752.7 1345.0 L752.2 1344.5 L751.7 1345.7 L751.2 1347.3 L750.7 1347.3 L750.2 1347.2 L749.7 1347.8 L749.2 1347.4 L748.7 1346.8 L748.2 1348.1 L747.7 1346.5 L747.2 1347.0 L746.7 1347.0 L746.2 1346.3 L745.7 1347.3 L745.2 1346.5 L744.7 1346.9 L744.2 1345.7 L743.7 1347.0 L743.2 1347.5 L742.7 1347.1 L742.2 1347.3 L741.7 1347.3 L741.2 1348.8 L740.7 1348.0 L740.2 1349.0 L739.7 1348.0 L739.2 1346.6 L738.7 1347.2 L738.2 1347.5 L737.7 1346.1 L737.2 1345.7 L736.7 1346.4 L736.2 1347.2 L735.7 1346.0 L735.2 1345.6 L734.7 1345.4 L734.2 1345.8 L733.7 1345.3 L733.2 1345.6 L732.7 1346.2 L732.2 1346.6 L731.7 1347.0 L731.2 1347.9 L730.7 1347.9 L730.2 1346.9 L729.7 1346.0 L729.2 1345.5 L728.7 1346.3 L728.2 1347.0 L727.7 1345.5 L727.2 1345.1 L726.7 1344.0 L726.2 1344.6 L725.7 1346.0 L725.2 1346.4 L724.7 1347.8 L724.2 1348.2 L723.7 1348.0 L723.2 1346.2 L722.7 1345.7 L722.2 1346.7 L721.7 1346.8 L721.2 1345.5 L720.7 1344.0 L720.2 1344.6 L719.7 1345.3 L719.2 1345.3 L718.7 1344.1 L718.2 1346.0 L717.7 1345.8 L717.2 1344.2 L716.7 1343.0 L716.2 1343.9 L715.7 1344.8 L715.2 1346.2 L714.7 1348.4 L714.2 1348.3 L713.7 1349.1 L713.2 1349.5 L712.7 1349.1 L712.2 1349.2 L711.7 1347.6 L711.2 1348.9 L710.7 1348.4 L710.2 1348.8 L709.7 1348.1 L709.2 1347.8 L708.7 1349.4 L708.2 1350.8 L707.7 1350.3 L707.2 1350.4 L706.7 1349.3 L706.2 1349.9 L705.7 1348.8 L705.2 1348.5 L704.7 1348.8 L704.2 1348.9 L703.7 1347.7 L703.2 1348.2 L702.7 1349.0 L702.2 1349.4 L701.7 1348.8 L701.2 1347.5 L700.7 1347.1 L700.2 1346.7 L699.7 1343.6 L699.2 1344.5 L698.7 1344.4 L698.2 1343.5 L697.7 1343.8 L697.2 1344.3 L696.7 1343.6 L696.2 1343.5 L695.7 1343.1 L695.2 1344.0 L694.7 1344.0 L694.2 1343.8 L693.7 1345.2 L693.2 1345.2 L692.7 1345.3 L692.2 1345.1 L691.7 1346.0 L691.2 1345.7 L690.7 1345.8 L690.2 1346.6 L689.7 1343.7 L689.2 1343.1 L688.7 1344.0 L688.2 1343.9 L687.7 1343.3 L687.2 1344.3 L686.7 1344.8 L686.2 1344.9 L685.7 1345.4 L685.2 1344.1 L684.7 1342.2 L684.2 1342.0 L683.7 1343.1 L683.2 1342.5 L682.7 1344.8 L682.2 1344.8 L681.7 1346.9 L681.2 1346.8 L680.7 1344.8 L680.2 1345.4 L679.7 1346.4 L679.2 1346.8 L678.7 1346.2 L678.2 1347.1 L677.7 1347.3 L677.2 1346.1 L676.7 1347.3 L676.2 1346.1 L675.7 1345.5 L675.2 1345.4 L674.7 1345.5 L674.2 1346.3 L673.7 1344.5 L673.2 1342.4 L672.7 1343.0 L672.2 1342.2 L671.7 1341.6 L671.2 1341.5 L670.7 1342.2 L670.2 1344.5 L669.7 1342.6 L669.2 1342.4 L668.7 1341.5 L668.2 1342.2 L667.7 1343.6 L667.2 1344.0 L666.7 1343.2 L666.2 1341.6 L665.7 1341.9 L665.2 1343.3 L664.7 1345.4 L664.2 1345.0 L663.7 1345.6 L663.2 1346.8 L662.7 1345.0 L662.2 1345.0 L661.7 1345.2 L661.2 1345.0 L660.7 1344.8 L660.2 1344.8 L659.7 1346.3 L659.2 1345.5 L658.7 1345.6 L658.2 1345.2 L657.7 1344.9 L657.2 1343.9 L656.7 1343.9 L656.2 1344.8 L655.7 1345.6 L655.2 1346.4 L654.7 1345.4 L654.2 1343.8 L653.7 1343.2 L653.2 1343.7 L652.7 1343.7 L652.2 1343.0 L651.7 1342.9 L651.2 1351.3 L650.7 1349.8 L650.2 1348.4 L649.7 1347.1 L649.2 1345.8 L648.7 1344.6 L648.2 1343.4 L647.7 1343.6 L647.2 1344.4 L646.7 1344.7 L646.2 1344.5 L645.7 1343.3 L645.2 1344.4 L644.7 1344.6 L644.2 1343.3 L643.7 1342.6 L643.2 1342.8 L642.7 1342.4 L642.2 1342.3 L641.7 1342.1 L641.2 1344.1 L640.7 1345.0 L640.2 1345.5 L639.7 1340.3 L639.2 1340.9 L638.7 1342.1 L638.2 1341.2 L637.7 1340.6 L637.2 1340.6 L636.7 1338.4 L636.2 1340.0 L635.7 1340.4 L635.2 1339.2 L634.7 1340.1 L634.2 1339.7 L633.7 1338.7 L633.2 1340.1 L632.7 1340.4 L632.2 1341.5 L631.7 1340.7 L631.2 1341.0 L630.7 1338.7 L630.2 1338.5 L629.7 1338.8 L629.2 1339.7 L628.7 1341.7 L628.2 1341.6 L627.7 1342.4 L627.2 1343.0 L626.7 1341.8 L626.2 1342.4 L625.7 1343.1 L625.2 1341.2 L624.7 1343.0 L624.2 1344.1 L623.7 1343.6 L623.2 1342.7 L622.7 1342.8 L622.2 1343.4 L621.7 1343.2 L621.2 1342.7 L620.7 1342.8 L620.2 1341.0 L619.7 1342.6 L619.2 1343.1 L618.7 1342.7 L618.2 1343.2 L617.7 1343.3 L617.2 1344.0 L616.7 1343.3 L616.2 1343.1 L615.7 1343.4 L615.2 1343.7 L614.7 1342.8 L614.2 1343.9 L613.7 1343.7 L613.2 1343.6 L612.7 1343.5 L612.2 1342.0 L611.7 1341.8 L611.2 1341.3 L610.7 1339.9 L610.2 1340.0 L609.7 1340.7 L609.2 1339.2 L608.7 1337.8 L608.2 1336.3 L607.7 1337.9 L607.2 1338.9 L606.7 1337.4 L606.2 1337.6 L605.7 1337.3 L605.2 1337.3 L604.7 1338.0 L604.2 1339.4 L603.7 1341.0 L603.2 1341.7 L602.7 1342.2 L602.2 1342.2 L601.7 1340.4 L601.2 1340.6 L600.7 1340.0 L600.2 1340.1 L599.7 1339.6 L599.2 1340.5 L598.7 1340.9 L598.2 1341.4 L597.7 1340.6 L597.2 1340.1 L596.7 1341.7 L596.2 1340.6 L595.7 1340.9 L595.2 1340.3 L594.7 1340.9 L594.2 1341.6 L593.7 1341.1 L593.2 1341.2 L592.7 1342.8 L592.2 1342.4 L591.7 1343.5 L591.2 1344.7 L590.7 1344.9 L590.2 1343.3 L589.7 1342.2 L589.2 1343.0 L588.7 1341.9 L588.2 1342.7 L587.7 1342.7 L587.2 1341.8 L586.7 1343.4 L586.2 1342.8 L585.7 1342.8 L585.2 1343.2 L584.7 1342.1 L584.2 1341.5 L583.7 1341.8 L583.2 1343.0 L582.7 1343.7 L582.2 1343.4 L581.7 1343.0 L581.2 1342.6 L580.7 1342.4 L580.2 1342.8 L579.7 1341.5 L579.2 1340.9 L578.7 1341.0 L578.2 1339.1 L577.7 1339.2 L577.2 1338.2 L576.7 1338.4 L576.2 1337.1 L575.7 1336.9 L575.2 1336.9 L574.7 1337.0 L574.2 1337.6 L573.7 1339.3 L573.2 1339.4 L572.7 1341.2 L572.2 1341.3 L571.7 1341.4 L571.2 1342.7 L570.7 1344.5 L570.2 1344.0 L569.7 1341.8 L569.2 1342.8 L568.7 1342.0 L568.2 1342.3 L567.7 1342.8 L567.2 1341.7 L566.7 1343.2 L566.2 1341.1 L565.7 1340.0 L565.2 1339.5 L564.7 1338.9 L564.2 1339.3 L563.7 1339.0 L563.2 1339.1 L562.7 1339.3 L562.2 1340.2 L561.7 1340.9 L561.2 1342.7 L560.7 1341.1 L560.2 1342.0 L559.7 1341.5 L559.2 1341.8 L558.7 1340.8 L558.2 1340.9 L557.7 1343.0 L557.2 1342.9 L556.7 1342.9 L556.2 1342.4 L555.7 1340.7 L555.2 1340.8 L554.7 1340.0 L554.2 1342.0 L553.7 1342.8 L553.2 1342.9 L552.7 1342.6 L552.2 1341.8 L551.7 1340.5 L551.2 1339.6 L550.7 1340.0 L550.2 1341.2 L549.7 1341.1 L549.2 1340.7 L548.7 1340.7 L548.2 1341.4 L547.7 1341.5 L547.2 1341.7 L546.7 1341.5 L546.2 1341.8 L545.7 1341.4 L545.2 1341.0 L544.7 1341.0 L544.2 1341.7 L543.7 1341.0 L543.2 1340.3 L542.7 1340.4 L542.2 1340.2 L541.7 1340.6 L541.2 1340.8 L540.7 1340.4 L540.2 1340.0 L539.7 1337.6 L539.2 1337.3 L538.7 1339.6 L538.2 1341.0 L537.7 1341.0 L537.2 1341.2 L536.7 1341.9 L536.2 1341.4 L535.7 1341.6 L535.2 1341.7 L534.7 1342.0 L534.2 1341.7 L533.7 1342.2 L533.2 1342.2 L532.7 1341.2 L532.2 1340.7 L531.7 1341.9 L531.2 1341.7 L530.7 1339.5 L530.2 1338.7 L529.7 1337.8 L529.2 1337.2 L528.7 1338.2 L528.2 1337.5 L527.7 1340.0 L527.2 1340.9 L526.7 1341.3 L526.2 1341.2 L525.7 1341.1 L525.2 1341.5 L524.7 1340.4 L524.2 1343.1 L523.7 1341.2 L523.2 1340.9 L522.7 1340.2 L522.2 1339.7 L521.7 1341.5 L521.2 1341.2 L520.7 1341.0 L520.2 1340.3 L519.7 1341.3 L519.2 1342.2 L518.7 1341.3 L518.2 1341.9 L517.7 1341.2 L517.2 1342.2 L516.7 1342.8 L516.2 1342.3 L515.7 1343.1 L515.2 1341.6 L514.7 1343.2 L514.2 1344.2 L513.7 1343.5 L513.2 1342.1 L512.7 1342.3 L512.2 1342.5 L511.7 1341.8 L511.2 1341.9 L510.7 1342.0 L510.2 1342.0 L509.7 1342.0 L509.2 1341.4 L508.7 1340.7 L508.2 1342.4 L507.7 1343.5 L507.2 1345.5 L506.7 1344.2 L506.2 1344.4 L505.7 1344.1 L505.2 1344.7 L504.7 1345.3 L504.2 1344.7 L503.7 1345.4 L503.2 1344.7 L502.7 1344.6 L502.2 1344.2 L501.7 1344.4 L501.2 1343.5 L500.7 1344.4 L500.2 1343.7 L499.7 1344.7 L499.2 1345.1 L498.7 1343.2 L498.2 1344.2 L497.7 1343.5 L497.2 1344.0 L496.7 1343.7 L496.2 1343.9 L495.7 1343.8 L495.2 1343.8 L494.7 1342.7 L494.2 1342.6 L493.7 1341.2 L493.2 1341.0 L492.7 1342.2 L492.2 1341.8 L491.7 1341.1 L491.2 1341.4 L490.7 1343.2 L490.2 1342.7 L489.7 1341.5 L489.2 1342.0 L488.7 1341.4 L488.2 1342.3 L487.7 1342.6 L487.2 1341.9 L486.7 1340.6 L486.2 1340.9 L485.7 1342.5 L485.2 1343.1 L484.7 1343.4 L484.2 1344.6 L483.7 1344.0 L483.2 1342.9 L482.7 1342.6 L482.2 1343.2 L481.7 1343.1 L481.2 1343.2 L480.7 1342.7 L480.2 1341.5 L479.7 1341.9 L479.2 1342.7 L478.7 1343.2 L478.2 1343.4 L477.7 1343.2 L477.2 1344.2 L476.7 1344.6 L476.2 1343.6 L475.7 1343.4 L475.2 1342.6 L474.7 1342.5 L474.2 1343.2 L473.7 1342.8 L473.2 1343.7 L472.7 1344.6 L472.2 1344.5 L471.7 1344.9 L471.2 1344.3 L470.7 1344.0 L470.2 1344.4 L469.7 1345.9 L469.2 1347.1 L468.7 1346.8 L468.2 1346.9 L467.7 1345.8 L467.2 1345.5 L466.7 1345.8 L466.2 1343.5 L465.7 1343.0 L465.2 1343.2 L464.7 1344.0 L464.2 1343.7 L463.7 1341.9 L463.2 1342.9 L462.7 1343.0 L462.2 1342.9 L461.7 1344.0 L461.2 1344.3 L460.7 1345.2 L460.2 1343.4 L459.7 1343.4 L459.2 1344.0 L458.7 1344.1 L458.2 1344.8 L457.7 1345.7 L457.2 1345.0 L456.7 1344.8 L456.2 1345.1 L455.7 1344.9 L455.2 1345.6 L454.7 1345.4 L454.2 1343.8 L453.7 1343.6 L453.2 1343.8 L452.7 1346.0 L452.2 1344.9 L451.7 1343.3 L451.2 1344.1 L450.7 1343.7 L450.2 1343.4 L449.7 1345.6 L449.2 1345.5 L448.7 1345.0 L448.2 1345.4 L447.7 1345.7 L447.2 1345.2 L446.7 1343.6 L446.2 1345.2 L445.7 1345.1 L445.2 1346.3 L444.7 1345.0 L444.2 1344.9 L443.7 1344.5 L443.2 1345.1 L442.7 1345.5 L442.2 1344.9 L441.7 1344.3 L441.2 1342.5 L440.7 1344.1 L440.2 1341.8 L439.7 1340.9 L439.2 1340.8 L438.7 1341.0 L438.2 1342.6 L437.7 1343.1 L437.2 1342.7 L436.7 1341.6 L436.2 1340.8 L435.7 1339.7 L435.2 1339.2 L434.7 1340.8 L434.2 1339.8 L433.7 1340.3 L433.2 1342.1 L432.7 1341.9 L432.2 1342.4 L431.7 1342.4 L431.2 1343.1 L430.7 1341.6 L430.2 1341.0 L429.7 1342.8 L429.2 1343.8 L428.7 1343.0 L428.2 1342.6 L427.7 1342.5 L427.2 1341.2 L426.7 1342.7 L426.2 1341.1 L425.7 1340.8 L425.2 1341.0 L424.7 1342.1 L424.2 1341.8 L423.7 1342.8 L423.2 1342.5 L422.7 1342.6 L422.2 1342.7 L421.7 1344.4 L421.2 1343.6 L420.7 1343.0 L420.2 1343.5 L419.7 1342.7 L419.2 1343.9 L418.7 1343.8 L418.2 1343.2 L417.7 1343.6 L417.2 1345.6 L416.7 1344.6 L416.2 1346.1 L415.7 1346.3 L415.2 1347.4 L414.7 1346.8 L414.2 1347.3 L413.7 1345.8 L413.2 1344.6 L412.7 1345.6 L412.2 1345.3 L411.7 1345.3 L411.2 1345.0 L410.7 1345.4 L410.2 1344.7 L409.7 1345.7 L409.2 1343.6 L408.7 1342.6 L408.2 1342.9 L407.7 1343.6 L407.2 1344.4 L406.7 1344.1 L406.2 1344.6 L405.7 1344.3 L405.2 1344.8 L404.7 1345.3 L404.2 1346.4 L403.7 1348.2 L403.2 1348.7 L402.7 1348.6 L402.2 1347.9 L401.7 1348.4 L401.2 1347.7 L400.7 1345.7 L400.2 1347.0 L399.7 1347.1 L399.2 1345.7 L398.7 1344.4 L398.2 1343.8 L397.7 1344.6 L397.2 1343.0 L396.7 1344.2 L396.2 1343.6 L395.7 1343.4 L395.2 1342.3 L394.7 1342.6 L394.2 1343.3 L393.7 1343.3 L393.2 1343.5 L392.7 1344.2 L392.2 1342.0 L391.7 1343.3 L391.2 1342.4 L390.7 1340.6 L390.2 1342.2 L389.7 1343.7 L389.2 1343.4 L388.7 1344.6 L388.2 1343.5 L387.7 1343.1 L387.2 1342.8 L386.7 1344.3 L386.2 1345.5 L385.7 1345.3 L385.2 1345.7 L384.7 1345.2 L384.2 1346.8 L383.7 1345.9 L383.2 1345.8 L382.7 1345.5 L382.2 1344.5 L381.7 1343.5 L381.2 1342.8 L380.7 1342.4 L380.2 1342.1 L379.7 1342.6 L379.2 1343.5 L378.7 1344.2 L378.2 1343.0 L377.7 1343.5 L377.2 1343.4 L376.7 1344.5 L376.2 1345.3 L375.7 1344.6 L375.2 1344.1 L374.7 1346.2 L374.2 1346.3 L373.7 1346.1 L373.2 1344.3 L372.7 1343.7 L372.2 1343.4 L371.7 1343.3 L371.2 1345.9 L370.7 1345.4 L370.2 1345.8 L369.7 1345.8 L369.2 1346.9 L368.7 1346.8 L368.2 1347.1 L367.7 1347.7 L367.2 1347.3 L366.7 1347.1 L366.2 1344.7 L365.7 1343.6 L365.2 1343.0 L364.7 1343.4 L364.2 1345.0 L363.7 1344.1 L363.2 1343.3 L362.7 1343.4 L362.2 1341.8 L361.7 1342.0 L361.2 1343.1 L360.7 1343.7 L360.2 1343.3 L359.7 1338.9 L359.2 1338.9 L358.7 1341.4 L358.2 1341.1 L357.7 1339.8 L357.2 1339.4 L356.7 1339.9 L356.2 1339.3 L355.7 1338.1 L355.2 1336.8 L354.7 1338.6 L354.2 1340.2 L353.7 1340.4 L353.2 1340.2 L352.7 1338.9 L352.2 1337.7 L351.7 1337.2 L351.2 1339.1 L350.7 1340.9 L350.2 1340.8 L349.7 1341.5 L349.2 1339.9 L348.7 1340.3 L348.2 1340.7 L347.7 1340.2 L347.2 1339.0 L346.7 1339.4 L346.2 1340.9 L345.7 1339.7 L345.2 1340.0 L344.7 1338.8 L344.2 1338.2 L343.7 1336.9 L343.2 1338.2 L342.7 1338.6 L342.2 1339.0 L341.7 1339.2 L341.2 1339.0 L340.7 1338.7 L340.2 1338.8 L339.7 1338.0 L339.2 1338.6 L338.7 1338.5 L338.2 1338.1 L337.7 1339.2 L337.2 1339.6 L336.7 1339.4 L336.2 1339.7 L335.7 1340.4 L335.2 1339.7 L334.7 1341.0 L334.2 1342.1 L333.7 1341.2 L333.2 1340.1 L332.7 1341.3 L332.2 1341.0 L331.7 1340.3 L331.2 1340.9 L330.7 1340.7 L330.2 1341.1 L329.7 1341.3 L329.2 1340.0 L328.7 1339.8 L328.2 1340.0 L327.7 1341.2 L327.2 1340.6 L326.7 1340.9 L326.2 1342.3 L325.7 1343.3 L325.2 1342.4 L324.7 1341.4 L324.2 1340.4 L323.7 1341.6 L323.2 1340.4 L322.7 1339.5 L322.2 1337.2 L321.7 1339.3 L321.2 1339.1 L320.7 1337.9 L320.2 1340.3 L319.7 1340.0 L319.2 1340.3 L318.7 1341.4 L318.2 1342.0 L317.7 1340.6 L317.2 1340.1 L316.7 1339.5 L316.2 1339.0 L315.7 1339.8 L315.2 1339.0 L314.7 1338.6 L314.2 1336.7 L313.7 1337.3 L313.2 1337.0 L312.7 1337.2 L312.2 1337.4 L311.7 1338.0 L311.2 1337.3 L310.7 1338.1 L310.2 1340.0 L309.7 1339.5 L309.2 1340.0 L308.7 1341.7 L308.2 1341.2 L307.7 1341.0 L307.2 1341.1 L306.7 1340.1 L306.2 1341.1 L305.7 1340.6 L305.2 1341.3 L304.7 1341.6 L304.2 1340.7 L303.7 1339.1 L303.2 1339.1 L302.7 1338.5 L302.2 1338.3 L301.7 1339.5 L301.2 1339.2 L300.7 1340.7 L300.2 1340.4 L299.7 1340.0 L299.2 1340.2 L298.7 1339.4 L298.2 1339.4 L297.7 1341.3 L297.2 1340.6 L296.7 1340.9 L296.2 1340.8 L295.7 1341.7 L295.2 1341.2 L294.7 1339.8 L294.2 1340.0 L293.7 1341.6 L293.2 1340.9 L292.7 1340.4 L292.2 1341.0 L291.7 1340.8 L291.2 1342.2 L290.7 1341.1 L290.2 1339.7 L289.7 1340.4 L289.2 1340.3 L288.7 1339.2 L288.2 1339.3 L287.7 1339.9 L287.2 1339.0 L286.7 1338.7 L286.2 1337.4 L285.7 1337.3 L285.2 1337.0 L284.7 1337.8 L284.2 1338.6 L283.7 1339.1 L283.2 1339.3 L282.7 1339.4 L282.2 1339.3 L281.7 1339.8 L281.2 1339.9 L280.7 1339.6 L280.2 1339.2 L279.7 1338.8 L279.2 1338.7 L278.7 1340.3 L278.2 1339.3 L277.7 1339.3 L277.2 1341.1 L276.7 1340.9 L276.2 1342.1 L275.7 1341.0 L275.2 1341.6 L274.7 1341.7 L274.2 1341.6 L273.7 1340.9 L273.2 1339.4 L272.7 1340.5 L272.2 1342.1 L271.7 1342.8 L271.2 1341.9 L270.7 1341.8 L270.2 1340.2 L269.7 1340.3 L269.2 1338.4 L268.7 1340.5 L268.2 1340.1 L267.7 1342.7 L267.2 1342.8 L266.7 1342.8 L266.2 1342.5 L265.7 1341.9 L265.2 1342.1 L264.7 1342.4 L264.2 1340.9 L263.7 1341.3 L263.2 1340.4 L262.7 1339.0 L262.2 1339.8 L261.7 1339.5 L261.2 1339.7 L260.7 1339.2 L260.2 1340.4 L259.7 1340.0 L259.2 1339.3 L258.7 1338.7 L258.2 1339.2 L257.7 1339.3 L257.2 1339.7 L256.7 1339.5 L256.2 1339.2 L255.7 1339.2 L255.2 1339.2 L254.7 1338.2 L254.2 1339.5 L253.7 1339.6 L253.2 1339.5 L252.7 1340.2 L252.2 1339.9 L251.7 1339.0 L251.2 1338.6 L250.7 1338.1 L250.2 1338.6 L249.7 1338.0 L249.2 1336.7 L248.7 1337.6 L248.2 1337.5 L247.7 1338.9 L247.2 1337.6 L246.7 1336.1 L246.2 1336.6 L245.7 1336.9 L245.2 1337.5 L244.7 1338.7 L244.2 1338.7 L243.7 1340.5 L243.2 1341.5 L242.7 1340.8 L242.2 1340.7 L241.7 1340.6 L241.2 1340.7 L240.7 1342.0 L240.2 1340.4 L239.7 1341.8 L239.2 1341.5 L238.7 1341.2 L238.2 1343.0 L237.7 1343.0 L237.2 1342.8 L236.7 1343.6 L236.2 1342.3 L235.7 1342.4 L235.2 1342.3 L234.7 1341.9 L234.2 1340.8 L233.7 1342.3 L233.2 1340.9 L232.7 1343.6 L232.2 1342.6 L231.7 1341.6 L231.2 1341.6 L230.7 1342.1 L230.2 1342.6 L229.7 1341.6 L229.2 1341.8 L228.7 1340.2 L228.2 1340.4 L227.7 1340.1 L227.2 1340.3 L226.7 1340.4 L226.2 1339.6 L225.7 1338.9 L225.2 1339.2 L224.7 1339.3 L224.2 1339.3 L223.7 1339.6 L223.2 1338.3 L222.7 1338.5 L222.2 1337.3 L221.7 1337.2 L221.2 1335.6 L220.7 1336.7 L220.2 1336.3 L219.7 1338.7 L219.2 1338.9 L218.7 1341.3 L218.2 1342.3 L217.7 1340.5 L217.2 1340.4 L216.7 1340.7 L216.2 1340.0 L215.7 1341.8 L215.2 1340.2 L214.7 1340.2 L214.2 1341.1 L213.7 1339.2 L213.2 1338.3 L212.7 1339.9 L212.2 1338.2 L211.7 1336.8 L211.2 1338.2 L210.7 1338.4 L210.2 1338.3 L209.7 1338.3 L209.2 1338.7 L208.7 1339.8 L208.2 1339.2 L207.7 1340.0 L207.2 1339.8 L206.7 1338.5 L206.2 1338.9 L205.7 1339.0 L205.2 1339.3 L204.7 1340.1 L204.2 1339.2 L203.7 1338.8 L203.2 1337.0 L202.7 1337.6 L202.2 1337.2 L201.7 1340.4 L201.2 1340.2 L200.7 1339.8 L200.2 1338.4 L199.7 1339.0 L199.2 1339.1 L198.7 1338.8 L198.2 1337.6 L197.7 1338.6 L197.2 1337.9 L196.7 1339.1 L196.2 1337.3 L195.7 1336.5 L195.2 1337.8 L194.7 1338.3 L194.2 1338.0 L193.7 1338.4 L193.2 1339.9 L192.7 1341.3 L192.2 1341.5 L191.7 1341.0 L191.2 1341.5 L190.7 1342.6 L190.2 1340.1 L189.7 1340.4 L189.2 1341.1 L188.7 1340.4 L188.2 1339.5 L187.7 1338.9 L187.2 1339.9 L186.7 1339.1 L186.2 1339.6 L185.7 1338.2 L185.2 1338.7 L184.7 1337.3 L184.2 1339.5 L183.7 1340.5 L183.2 1341.0 L182.7 1340.9 L182.2 1340.9 L181.7 1340.7 L181.2 1341.3 L180.7 1342.2 L180.2 1341.4 L179.7 1340.9 L179.2 1340.3 L178.7 1340.8 L178.2 1339.9 L177.7 1340.7 L177.2 1339.3 L176.7 1341.1 L176.2 1341.7 L175.7 1340.1 L175.2 1340.0 L174.7 1338.6 L174.2 1338.2 L173.7 1337.9 L173.2 1337.4 L172.7 1339.4 L172.2 1338.7 L171.7 1336.8 L171.2 1337.2 L170.7 1337.3 L170.2 1336.1 L169.7 1335.8 L169.2 1335.4 L168.7 1337.6 L168.2 1338.6 L167.7 1338.2 L167.2 1337.8 L166.7 1338.1 L166.2 1339.1 L165.7 1339.6 L165.2 1339.9 L164.7 1340.4 L164.2 1339.0 L163.7 1338.1 L163.2 1339.5 L162.7 1338.1 L162.2 1338.8 L161.7 1338.5 L161.2 1338.1 L160.7 1340.2 L160.2 1339.2 L159.7 1338.4 L159.2 1338.7 L158.7 1339.2Z" fill="#000"/>
<path d="M159.0 1337.2V1339.2M161.1 1336.6V1340.0M162.9 1336.6V1341.1M164.9 1338.9V1341.8M166.5 1336.6V1338.6M168.5 1336.1V1339.0M169.6 1334.3V1335.9M171.3 1335.7V1343.4M172.9 1337.9V1348.4M174.5 1337.1V1340.8M176.6 1339.6V1342.2M177.8 1339.2V1341.5M179.8 1339.4V1343.3M181.0 1339.8V1342.9M182.4 1339.4V1354.9M184.1 1338.0V1353.1M185.6 1336.7V1338.9M187.3 1338.4V1342.9M189.4 1339.6V1341.6M191.3 1340.0V1342.0M192.9 1339.8V1343.2M194.7 1336.8V1339.0M196.7 1337.6V1339.5M198.2 1336.1V1339.9M199.4 1337.6V1340.5M201.3 1338.7V1345.1M202.9 1336.1V1338.4M204.6 1338.6V1346.0M206.6 1337.0V1339.3M207.7 1338.5V1341.3M209.3 1337.2V1341.1M210.7 1336.9V1348.3M212.7 1338.4V1340.2M214.5 1338.7V1340.9M216.4 1338.5V1342.1M218.4 1340.8V1344.3M219.8 1337.2V1340.2M221.3 1334.1V1339.2M223.1 1336.8V1340.6M224.4 1337.8V1347.3M225.9 1337.4V1338.9M228.0 1338.9V1343.0M229.2 1340.3V1342.7M230.5 1340.6V1342.6M232.2 1341.1V1343.9M234.1 1339.3V1343.8M235.3 1340.8V1343.2M236.6 1342.1V1345.8M238.3 1341.5V1343.2M240.4 1338.9V1349.9M242.0 1339.2V1341.4M244.1 1337.2V1340.9M245.2 1336.0V1342.5M246.4 1335.1V1337.6M247.7 1337.4V1342.9M249.5 1336.5V1343.5M251.0 1337.1V1338.9M252.9 1338.7V1341.0M254.9 1336.7V1338.7M257.1 1338.2V1339.7M258.2 1337.7V1340.7M259.5 1338.5V1340.4M260.9 1337.7V1341.3M262.2 1338.3V1344.0M264.0 1339.4V1341.0M265.3 1340.6V1344.8M266.6 1341.3V1345.8M268.7 1339.0V1343.2M269.9 1338.8V1341.5M271.3 1340.4V1345.4M272.6 1339.0V1345.5M274.0 1340.1V1342.6M275.8 1339.5V1342.4M276.9 1339.4V1341.5M278.8 1338.8V1343.5M280.6 1338.1V1340.7M282.1 1337.8V1339.7M283.4 1337.8V1340.2M285.4 1335.5V1337.2M286.8 1337.2V1344.8M289.0 1338.8V1341.1M291.0 1340.7V1343.2M292.4 1339.5V1347.8M294.1 1338.5V1342.0M295.8 1340.2V1351.9M297.9 1339.8V1343.0M299.7 1338.5V1356.7M301.2 1337.7V1340.7M303.2 1337.6V1340.2M304.8 1340.1V1350.7M305.9 1339.1V1347.3M307.2 1339.6V1342.1M309.3 1338.5V1343.8M310.9 1336.6V1341.8M312.6 1335.7V1337.4M313.9 1335.8V1337.9M315.6 1338.3V1341.4M316.9 1338.0V1340.0M319.0 1338.8V1340.8M320.4 1338.8V1340.5M322.3 1335.7V1341.3M323.5 1340.1V1342.7M325.1 1340.9V1345.5M327.0 1339.1V1341.1M328.9 1338.3V1349.0M330.5 1339.2V1341.4M332.1 1339.5V1341.6M333.9 1339.7V1348.8M335.2 1338.2V1339.9M336.9 1337.9V1344.5M339.0 1337.1V1342.2M340.5 1337.2V1352.7M342.3 1337.5V1339.8M343.4 1336.7V1339.7M345.5 1338.2V1339.9M347.1 1337.5V1341.8M348.8 1338.8V1341.0M350.2 1339.3V1345.1M351.3 1337.6V1340.8M352.5 1337.4V1343.5M354.4 1338.7V1353.0M356.4 1337.8V1342.3M358.2 1339.6V1342.3M359.5 1337.4V1343.7M361.1 1341.6V1347.6M361.6 1340.5V1342.8M362.2 1340.3V1344.4M363.1 1341.8V1343.6M363.7 1342.6V1347.1M364.4 1343.5V1352.5M365.2 1341.5V1344.1M365.9 1342.1V1348.2M366.8 1345.6V1349.3M367.5 1346.2V1350.9M368.3 1345.6V1348.4M369.3 1345.4V1352.0M370.2 1344.3V1351.4M370.7 1343.9V1349.1M371.5 1341.8V1357.5M372.2 1341.9V1351.5M372.8 1342.2V1348.5M373.3 1342.8V1349.1M373.9 1344.6V1363.2M374.8 1344.7V1346.6M375.4 1342.6V1349.3M376.2 1343.8V1355.2M377.0 1341.9V1350.0M377.9 1342.0V1356.7M378.8 1342.7V1346.1M379.6 1341.1V1342.9M380.2 1340.6V1346.6M380.7 1340.9V1353.2M381.3 1341.3V1342.8M382.1 1343.0V1347.8M382.8 1344.0V1351.7M383.7 1344.4V1347.7M384.2 1345.3V1348.7M385.2 1344.2V1358.8M385.8 1343.8V1347.9M386.7 1342.8V1358.0M387.4 1341.3V1349.7M388.3 1342.0V1346.4M389.0 1341.9V1347.4M389.7 1342.2V1361.5M390.4 1340.7V1343.3M391.3 1340.9V1354.7M392.1 1340.5V1349.8M393.1 1342.0V1345.5M393.8 1341.8V1343.5M394.7 1341.1V1346.9M395.5 1341.9V1344.4M396.2 1342.1V1344.3M397.0 1341.5V1343.9M397.5 1343.1V1347.0M398.4 1342.3V1344.9M399.3 1344.2V1347.9M400.2 1345.5V1357.2M401.1 1346.2V1351.4M401.7 1346.9V1348.9M402.7 1347.1V1350.4M403.5 1346.7V1348.7M404.3 1344.9V1357.0M405.1 1343.3V1349.4M405.6 1342.8V1355.4M406.3 1343.1V1352.2M407.1 1342.9V1353.5M407.8 1342.1V1356.4M408.7 1341.1V1346.1M409.5 1344.2V1350.1M410.1 1343.2V1351.8M410.7 1343.9V1346.3M411.7 1343.8V1355.7M412.7 1344.1V1363.6M413.5 1344.3V1352.5M414.3 1345.8V1362.2M415.3 1345.9V1348.5M416.1 1344.6V1346.8M417.0 1344.1V1349.4M417.7 1342.1V1352.3M418.5 1342.3V1352.7M419.3 1342.4V1368.6M420.3 1342.0V1347.3M421.0 1342.1V1346.3M421.9 1342.9V1353.9M422.7 1341.1V1354.9M423.3 1341.0V1344.2M424.1 1340.3V1350.6M424.9 1340.6V1342.4M425.7 1339.3V1350.9M426.6 1341.2V1350.9M427.5 1341.0V1369.0M428.2 1341.1V1363.1M429.2 1342.3V1348.0M430.0 1339.5V1341.1M431.0 1341.6V1343.4M431.7 1340.9V1352.2M432.4 1340.9V1351.8M433.3 1340.6V1342.8M434.0 1338.3V1355.5M434.7 1339.3V1342.7M435.5 1338.2V1340.5M436.3 1339.3V1350.4M436.9 1340.1V1354.4M437.5 1341.6V1343.5M438.1 1341.1V1343.0M438.8 1339.5V1347.5M439.5 1339.4V1342.2M440.1 1340.3V1348.2M440.6 1342.6V1346.9M441.4 1341.0V1349.5M442.3 1343.4V1348.4M443.3 1343.6V1359.8M444.2 1343.4V1345.6M445.0 1344.8V1349.4M445.9 1343.6V1347.2M446.8 1342.1V1347.3M447.8 1344.2V1345.7M448.7 1343.5V1348.7M449.2 1344.0V1351.3M449.8 1344.1V1345.6M450.6 1342.2V1351.0M451.1 1342.6V1350.2M452.0 1343.4V1350.3M452.6 1344.5V1348.8M453.3 1342.3V1345.9M453.9 1342.1V1346.3M454.7 1343.9V1347.6M455.3 1344.1V1349.9M456.3 1343.6V1352.2M457.1 1343.5V1359.5M457.8 1344.2V1346.0M458.5 1342.6V1347.3M459.1 1342.5V1347.8M459.7 1341.9V1346.2M460.7 1343.7V1346.1M461.5 1342.5V1349.9M462.1 1341.4V1348.5M462.8 1341.5V1355.5M463.8 1340.4V1347.7M464.4 1342.2V1345.6M465.2 1341.7V1343.6M466.1 1342.0V1343.7M466.6 1344.3V1351.6M467.4 1344.0V1347.7M467.9 1344.3V1364.1M468.5 1345.3V1347.2M469.4 1345.6V1363.1M470.0 1342.9V1345.7M470.8 1342.5V1352.4M471.4 1342.8V1348.2M472.3 1343.0V1350.6M473.2 1342.2V1351.8M474.0 1341.7V1346.5M475.0 1341.1V1351.1M475.7 1341.9V1345.1M476.4 1342.1V1343.9M477.3 1342.7V1345.0M477.9 1341.7V1347.8M479.0 1341.2V1345.2M480.0 1340.0V1342.2M480.9 1341.2V1344.7M482.1 1341.7V1343.7M482.8 1341.1V1343.8M483.8 1342.5V1347.9M484.7 1341.9V1359.9M485.5 1341.0V1348.3M486.6 1339.1V1342.5M487.6 1341.1V1345.7M488.3 1340.8V1343.9M489.3 1340.5V1354.6M490.3 1341.2V1344.9M491.4 1339.9V1342.6M492.0 1340.3V1342.2M492.8 1340.7V1344.1M493.6 1339.7V1349.7M494.7 1341.2V1354.5M495.8 1342.3V1345.3M496.9 1342.2V1349.1M497.8 1342.0V1369.0M498.5 1341.7V1347.8M499.6 1343.2V1348.1M500.5 1342.9V1348.6M501.2 1342.0V1349.9M502.2 1342.7V1344.5M503.3 1343.2V1347.6M504.3 1343.2V1347.8M505.1 1343.2V1348.8M505.9 1342.6V1345.1M506.9 1342.7V1348.6M508.0 1340.9V1343.8M509.1 1339.9V1354.9M509.9 1340.5V1359.7M510.6 1340.5V1365.7M511.5 1340.3V1343.4M512.7 1340.8V1350.2M513.6 1342.0V1344.0M514.3 1342.7V1344.5M514.9 1341.7V1345.0M516.0 1340.8V1343.8M516.8 1341.3V1344.4M517.7 1339.7V1341.6M518.8 1339.8V1343.5M519.7 1339.8V1349.7M520.5 1339.5V1358.6M521.4 1339.7V1341.2M522.8 1338.7V1340.3M524.2 1341.6V1346.3M525.7 1339.6V1343.5M526.6 1339.8V1346.7M527.7 1338.5V1344.1M528.8 1336.7V1348.5M530.1 1337.2V1343.2M531.2 1340.2V1342.2M532.4 1339.2V1342.8M533.7 1340.7V1342.3M534.5 1340.5V1344.6M536.0 1339.9V1347.2M537.1 1339.7V1341.6M538.6 1338.1V1341.0M539.7 1336.1V1338.2M541.3 1339.3V1347.5M542.2 1338.7V1358.7M543.3 1338.8V1341.2M544.1 1340.2V1343.2M545.6 1339.9V1345.2M547.2 1340.2V1342.4M548.8 1339.2V1340.7M549.7 1339.6V1341.6M551.0 1338.1V1352.3M552.6 1341.1V1343.2M553.9 1341.3V1348.2M554.9 1338.5V1342.2M556.0 1340.9V1349.9M557.0 1341.4V1343.5M558.3 1339.4V1343.4M559.4 1340.3V1345.4M560.3 1340.5V1345.2M561.8 1339.4V1342.2M563.2 1337.6V1341.7M564.4 1337.8V1350.4M565.3 1338.0V1346.2M566.4 1339.6V1349.5M567.7 1341.3V1343.9M568.7 1340.5V1344.6M569.8 1340.3V1349.6M570.9 1343.0V1347.4M572.4 1339.8V1348.8M573.2 1337.9V1344.1M574.6 1335.5V1337.2M575.7 1335.4V1337.6M576.9 1336.9V1341.3M577.8 1337.7V1341.6M578.8 1339.5V1342.6M580.2 1341.3V1345.0M581.3 1341.1V1343.8M582.8 1342.2V1347.9M583.9 1340.3V1343.4M585.2 1341.7V1343.3M586.1 1341.3V1343.7M587.0 1340.3V1343.8M587.9 1341.2V1343.4M589.1 1341.5V1349.0M590.4 1341.8V1344.4M591.4 1343.2V1346.0M592.4 1340.9V1346.8M593.3 1339.7V1342.9M594.6 1339.4V1341.8M595.6 1339.4V1359.4M596.8 1340.2V1345.0M598.2 1339.9V1344.8M599.6 1338.1V1350.6M600.4 1338.6V1340.9M601.6 1338.9V1341.1M603.0 1340.2V1345.2M604.3 1337.9V1348.7M605.4 1335.8V1337.3M606.7 1335.9V1339.3M608.3 1334.8V1336.8M609.6 1339.2V1340.8M611.1 1339.8V1342.2M612.4 1340.5V1346.7M613.7 1342.2V1347.9M614.7 1341.3V1349.3M615.7 1341.9V1344.8M616.8 1341.8V1343.6M617.9 1341.8V1343.4M618.9 1341.2V1342.9M620.3 1339.5V1341.8M621.8 1341.7V1343.9M622.7 1341.3V1347.8M623.7 1342.1V1351.5M625.0 1339.7V1342.7M626.5 1340.3V1348.9M627.9 1340.9V1344.2M629.2 1338.2V1340.2M630.6 1337.2V1339.6M631.9 1339.2V1344.7M633.1 1338.6V1342.7M634.4 1338.2V1341.5M635.4 1337.7V1341.6M636.7 1336.9V1338.5M637.7 1339.1V1351.0M639.0 1339.4V1344.0M640.1 1344.0V1350.0M640.7 1343.5V1345.3M641.5 1340.6V1348.3M642.2 1340.8V1358.1M642.8 1340.9V1344.8M643.4 1341.3V1350.2M644.1 1341.8V1349.1M644.6 1343.1V1345.3M645.1 1342.9V1352.6M645.6 1341.8V1343.6M646.2 1343.0V1349.2M646.8 1343.2V1348.9M647.3 1342.9V1363.0M647.9 1342.1V1348.1M648.4 1341.9V1345.1M649.0 1344.3V1346.1M649.5 1345.6V1348.2M650.4 1346.9V1352.8M651.2 1349.8V1355.8M651.7 1341.4V1344.6M652.3 1341.5V1348.5M652.7 1342.2V1347.1M653.5 1341.7V1349.6M654.1 1342.3V1346.9M654.8 1343.9V1345.4M655.7 1344.1V1354.2M656.4 1343.3V1347.8M657.1 1342.4V1346.2M657.6 1343.4V1345.3M658.5 1344.1V1350.3M659.3 1344.0V1352.9M660.0 1343.3V1345.0M660.5 1343.3V1354.5M661.0 1343.5V1359.0M661.5 1343.7V1353.6M662.1 1343.5V1346.5M662.6 1343.5V1345.3M663.4 1345.3V1352.6M664.0 1343.5V1349.1M664.8 1343.9V1348.3M665.5 1340.4V1342.5M666.0 1340.1V1354.8M666.9 1341.7V1352.6M667.4 1342.5V1346.4M667.9 1342.1V1347.1M668.4 1340.7V1347.3M669.0 1340.9V1346.1M669.5 1341.1V1347.5M670.2 1343.0V1346.8M671.0 1340.0V1347.0M671.8 1340.1V1346.6M672.7 1341.5V1354.0M673.5 1343.0V1347.4M674.2 1344.8V1350.0M675.0 1343.9V1348.9M675.9 1344.0V1348.1M676.6 1345.8V1364.0M677.3 1344.6V1357.4M678.1 1345.6V1351.4M678.6 1344.7V1346.3M679.3 1345.3V1349.5M679.8 1344.9V1350.6M680.7 1343.3V1348.8M681.3 1345.3V1346.9M681.7 1345.4V1353.8M682.2 1343.3V1346.3M682.8 1343.3V1347.4M683.2 1341.0V1343.0M683.7 1341.6V1348.2M684.5 1340.7V1342.4M685.1 1342.6V1363.1M685.6 1343.9V1359.7M686.4 1343.4V1350.2M687.1 1342.8V1357.9M687.7 1341.8V1346.7M688.6 1342.5V1345.7M689.3 1341.6V1345.5M690.0 1345.1V1347.7M690.9 1344.3V1346.3M691.7 1344.5V1347.7M692.4 1343.6V1345.9M693.0 1343.7V1351.5M693.9 1343.7V1347.3M694.4 1342.3V1360.8M695.1 1342.5V1345.0M696.0 1342.0V1344.2M696.8 1342.1V1347.5M697.7 1342.3V1351.3M698.2 1342.0V1349.6M699.1 1343.0V1350.9M699.8 1342.1V1348.3M700.7 1345.6V1351.1M701.4 1346.0V1351.4M702.0 1347.9V1350.4M702.6 1347.5V1353.0M703.1 1346.7V1349.9M703.7 1346.2V1350.1M704.2 1347.4V1351.4M705.0 1347.0V1363.6M705.7 1347.3V1353.5M706.5 1347.8V1357.9M707.2 1348.9V1350.7M707.9 1348.8V1354.3M708.7 1347.9V1355.5M709.6 1346.6V1348.2M710.1 1347.3V1353.2M710.7 1346.9V1358.3M711.6 1346.1V1353.0M712.3 1347.7V1354.3M713.2 1348.0V1349.6M713.7 1347.6V1361.3M714.3 1346.8V1350.2M714.8 1346.9V1349.7M715.6 1343.3V1345.7M716.5 1341.5V1344.4M716.9 1341.5V1343.7M717.7 1344.3V1347.1M718.4 1344.5V1381.8M719.1 1343.8V1351.5M719.8 1343.8V1350.6M720.6 1342.5V1351.6M721.2 1344.0V1347.9M721.6 1345.3V1351.2M722.3 1345.2V1368.3M722.8 1344.2V1359.7M723.7 1346.5V1358.7M724.2 1346.7V1348.6M724.8 1346.3V1358.1M725.6 1344.5V1360.8M726.2 1343.1V1352.6M726.7 1342.5V1352.4M727.2 1343.6V1348.1M727.9 1344.0V1347.0M728.4 1345.5V1352.8M728.9 1344.8V1351.9M729.6 1344.5V1365.4M730.1 1345.4V1355.5M730.6 1346.4V1356.4M731.5 1345.5V1349.2M732.1 1345.1V1350.8M732.9 1344.7V1348.7M733.8 1343.8V1353.9M734.5 1343.9V1348.3M735.3 1344.1V1353.3M735.8 1344.5V1348.6M736.3 1345.7V1355.0M736.7 1344.9V1348.8M737.4 1344.2V1347.8M738.0 1346.0V1360.1M738.8 1345.7V1350.0M739.5 1346.5V1351.6M740.3 1347.5V1353.0M740.9 1346.5V1351.8M741.5 1345.8V1369.9M742.0 1345.8V1349.8M742.9 1345.6V1349.3M743.5 1345.5V1358.9M744.2 1344.2V1355.2M744.7 1345.4V1347.3M745.3 1345.0V1355.4M746.1 1344.8V1347.4M746.9 1345.5V1347.7M747.6 1345.0V1361.7M748.3 1346.6V1349.0M748.9 1345.3V1347.9M749.6 1346.3V1354.9M750.1 1345.7V1361.7M750.7 1345.8V1347.5M751.2 1345.8V1348.4M751.9 1344.2V1346.2M752.6 1343.5V1358.1M753.4 1345.0V1357.2M754.1 1344.9V1346.5M755.0 1344.1V1346.7M755.7 1343.5V1351.2M756.4 1343.5V1353.2M757.1 1344.3V1345.8M757.6 1344.2V1346.1M758.2 1345.4V1373.7M759.1 1344.6V1347.0M759.7 1344.8V1346.4M760.4 1344.7V1364.5M761.2 1346.1V1353.3M761.9 1347.5V1350.5M762.4 1345.4V1362.1M763.1 1344.9V1346.8M763.9 1346.7V1350.9M764.4 1345.9V1363.4M765.2 1345.4V1348.1M765.7 1345.0V1346.5M766.5 1345.0V1367.0M767.3 1344.4V1347.0M768.0 1345.8V1349.9M768.9 1345.1V1356.5M769.7 1343.8V1345.4M770.1 1344.1V1351.2M770.8 1344.2V1347.5M771.6 1343.8V1346.7M772.3 1343.8V1357.6M772.8 1342.8V1351.0M773.6 1343.7V1347.0M774.5 1345.1V1353.7M775.4 1346.8V1349.3M775.9 1345.3V1348.3M776.7 1344.9V1347.7M777.3 1345.1V1361.3M777.8 1346.0V1351.5M778.6 1347.0V1365.4M779.4 1346.8V1349.3M780.3 1345.9V1349.6M781.0 1346.4V1357.8M781.8 1347.2V1361.1M782.3 1345.6V1354.3M783.0 1346.0V1349.8M783.9 1344.7V1346.9M784.7 1343.6V1351.1M785.4 1343.5V1353.8M786.2 1345.9V1373.4M787.1 1346.5V1359.6M787.8 1347.2V1350.2M788.3 1347.1V1350.3M788.8 1346.5V1349.0M789.4 1346.3V1354.5M789.9 1346.6V1357.8M790.6 1344.4V1348.5M791.1 1344.3V1351.5M791.8 1345.4V1348.3M792.5 1344.6V1349.4M793.0 1345.6V1368.7M793.6 1345.3V1359.9M794.1 1344.8V1347.1M794.7 1344.8V1348.2M795.4 1346.5V1354.8M796.1 1345.1V1348.6M796.9 1344.1V1346.8M797.6 1344.6V1354.5M798.0 1345.4V1348.4M798.8 1343.9V1347.1M799.5 1344.4V1350.4M800.0 1344.0V1346.5M800.5 1344.9V1353.3M801.1 1344.8V1360.9M801.6 1344.2V1347.4M802.5 1342.4V1349.0M803.1 1343.3V1356.3M803.8 1343.5V1347.1M804.6 1344.4V1355.6M805.4 1344.5V1355.2M806.2 1345.1V1347.7M806.7 1345.7V1350.1M807.3 1345.2V1365.3M807.9 1345.2V1346.9M808.7 1345.2V1347.6M809.6 1345.2V1347.9M810.1 1345.0V1348.8M810.6 1344.9V1349.2M811.2 1343.6V1345.5M812.0 1343.0V1345.7M812.5 1343.9V1349.2M813.3 1345.4V1354.3M813.9 1346.5V1349.5M814.7 1344.6V1357.1M815.5 1343.8V1350.4M816.0 1345.3V1353.7M816.5 1345.9V1352.7M817.1 1345.8V1361.3M818.0 1345.4V1348.3M818.7 1345.9V1348.3M819.2 1345.8V1358.2M819.6 1345.4V1349.9M820.3 1345.2V1351.2M820.9 1344.5V1346.1M821.8 1344.2V1357.2M822.3 1344.6V1353.2M822.8 1344.6V1349.1M823.6 1346.4V1349.4M824.3 1347.1V1352.9M824.8 1346.6V1354.2M825.3 1345.9V1360.9M826.0 1346.1V1349.2M826.8 1346.0V1348.0M827.7 1342.8V1345.6M828.3 1344.7V1346.7M828.8 1346.5V1364.9M829.6 1347.8V1359.4M830.1 1347.6V1358.2M830.7 1345.7V1347.2M831.2 1345.9V1348.7M832.0 1346.2V1350.5M832.8 1346.2V1351.0M833.5 1345.6V1365.2M834.1 1345.1V1347.5M834.9 1345.3V1352.4M835.5 1344.7V1355.0M836.0 1344.5V1351.6M836.7 1344.2V1349.5M837.1 1344.3V1349.9M837.6 1344.3V1347.3M838.2 1344.4V1351.7M839.0 1346.1V1351.1M839.7 1344.9V1352.1M840.6 1346.0V1349.7M841.2 1345.9V1356.9M841.9 1346.8V1361.7M842.5 1345.1V1348.1M843.0 1346.0V1349.1M843.8 1346.4V1350.2M844.3 1346.5V1349.8M845.1 1347.9V1375.4M846.0 1345.7V1352.3M846.5 1346.4V1351.0M847.3 1347.7V1353.6M848.1 1346.7V1351.7M848.6 1345.4V1383.9M849.3 1345.4V1350.0M850.0 1344.9V1360.2M850.4 1344.9V1349.2M851.2 1343.0V1346.4M852.1 1345.1V1350.7M852.7 1344.7V1346.3M853.2 1343.2V1351.5M853.8 1344.1V1361.8M854.7 1342.9V1354.9M855.4 1342.3V1345.8M856.0 1342.9V1345.5M856.9 1342.2V1347.3M857.6 1341.9V1347.0M858.3 1343.7V1351.8M859.1 1343.9V1351.5M859.8 1343.3V1349.5M860.6 1344.2V1354.3M861.3 1343.5V1360.9M862.0 1343.2V1355.1M862.5 1343.2V1345.8M863.1 1343.4V1345.2M863.7 1343.9V1350.8M864.5 1345.4V1347.1M865.3 1344.3V1354.6M865.8 1344.6V1355.6M866.6 1345.0V1352.4M867.4 1345.3V1352.4M867.9 1345.5V1348.5M868.7 1344.3V1346.6M869.3 1345.0V1350.2M869.9 1344.9V1360.1M870.3 1346.1V1350.9M871.0 1345.2V1365.3M871.7 1344.5V1347.9M872.4 1343.2V1347.5M873.1 1343.9V1345.6M873.9 1344.9V1347.7M874.4 1345.0V1346.6M875.0 1343.0V1350.4M875.5 1343.8V1349.7M876.1 1343.6V1345.8M876.8 1341.8V1346.2M877.4 1342.4V1348.2M878.1 1343.5V1354.0M878.8 1343.2V1347.1M879.5 1344.8V1346.6M880.3 1344.9V1357.7M880.9 1344.0V1349.6M881.5 1343.8V1350.7M882.0 1343.4V1345.1M882.9 1343.3V1350.5M883.7 1346.4V1358.9M884.4 1346.4V1348.2M885.0 1347.7V1351.9M885.9 1348.3V1372.6M886.7 1347.3V1350.5M887.2 1348.8V1352.2M887.9 1346.9V1350.0M888.4 1345.3V1357.0M889.0 1346.6V1353.3M889.5 1345.7V1351.3M890.2 1344.7V1348.6M890.7 1343.6V1345.5M891.2 1343.4V1353.0M892.0 1342.5V1346.4M892.6 1343.4V1346.4M893.4 1342.6V1344.2M894.2 1344.9V1347.7M895.0 1345.1V1349.2M895.7 1345.4V1358.7M896.4 1345.7V1350.7M897.0 1346.5V1348.2M897.5 1346.7V1349.7M898.2 1348.0V1349.7M898.6 1348.7V1358.9M899.4 1346.7V1348.3M900.2 1345.0V1349.4M900.8 1344.4V1357.4M901.5 1343.5V1348.8M902.1 1343.6V1359.3M902.9 1342.7V1350.0M903.5 1343.2V1345.2M904.3 1344.0V1346.8M905.0 1343.5V1345.4M905.6 1345.1V1353.1M906.3 1344.9V1349.0M906.9 1344.5V1346.7M907.8 1345.7V1357.1M908.5 1343.8V1348.3M909.1 1343.1V1355.9M910.0 1345.3V1351.1M910.5 1345.1V1347.9M911.3 1347.8V1359.4M911.9 1346.8V1352.4M912.6 1343.5V1348.0M913.4 1342.8V1344.5M914.1 1343.3V1348.9M915.0 1343.8V1352.1M915.6 1342.7V1345.5M916.1 1343.7V1350.2M916.7 1343.0V1346.3M917.2 1344.0V1354.7M917.9 1344.4V1346.8M918.7 1344.5V1350.4M919.4 1345.1V1355.9M920.0 1343.1V1345.1M920.7 1342.8V1352.5M921.4 1344.7V1351.1M921.9 1343.7V1351.1M922.5 1344.7V1354.7M923.2 1343.7V1354.8M924.0 1342.5V1352.0M924.8 1343.3V1352.4M925.5 1345.1V1346.8M926.4 1345.2V1347.6M927.0 1347.1V1349.8M927.5 1346.4V1354.0M928.0 1345.8V1350.1M928.6 1347.1V1364.2M929.4 1346.7V1352.0M930.2 1343.8V1346.6M930.7 1345.2V1351.8M931.6 1345.0V1353.1M932.1 1344.1V1346.7M932.9 1343.1V1347.5M933.6 1343.7V1346.6M934.0 1345.1V1354.2M934.9 1345.7V1357.2M935.5 1345.9V1349.7M936.4 1344.7V1347.2M937.2 1344.9V1353.7M938.0 1345.5V1348.6M938.8 1344.8V1347.3M939.4 1344.5V1346.6M940.1 1343.5V1348.2M940.8 1343.4V1349.4M941.3 1343.9V1345.9M942.1 1343.3V1352.0M942.9 1344.1V1350.5M943.6 1344.9V1356.1M944.2 1346.2V1352.2M944.9 1346.9V1349.7M945.6 1345.5V1349.7M946.2 1344.2V1347.9M946.7 1343.7V1348.2M947.4 1344.0V1348.2M948.2 1342.2V1344.0M948.8 1342.4V1344.8M949.7 1343.4V1350.7M950.2 1342.9V1345.3M950.7 1342.7V1344.4M951.6 1343.3V1345.1M952.1 1344.4V1346.6M952.8 1344.8V1348.0M953.4 1344.8V1346.5M954.1 1344.5V1351.5M954.7 1344.6V1346.2M955.2 1344.3V1347.2M955.8 1343.6V1346.5M956.4 1344.8V1358.1M957.0 1343.3V1351.9M957.8 1341.4V1345.3M958.4 1341.0V1345.7M959.2 1343.4V1346.3M959.8 1345.0V1357.5M960.4 1345.6V1351.9M961.1 1342.7V1346.9M961.5 1343.9V1346.1M962.0 1344.8V1348.1M962.5 1344.6V1349.3M963.1 1345.5V1360.5M963.9 1345.9V1347.5M964.7 1345.8V1347.5M965.4 1346.2V1355.0M966.2 1347.0V1348.8M966.9 1346.3V1351.1M967.7 1345.5V1354.7M968.3 1344.7V1350.1M969.1 1345.3V1348.2M969.6 1343.7V1365.6M970.5 1343.3V1345.3M971.0 1343.0V1349.3M971.6 1342.0V1347.4M972.3 1343.6V1359.9M972.9 1342.7V1347.0M973.6 1343.4V1345.8M974.5 1344.9V1348.3M975.2 1345.1V1346.7M975.8 1343.7V1364.7M976.5 1343.4V1360.0M977.0 1342.8V1352.1M977.9 1343.7V1347.0M978.6 1344.8V1349.5M979.3 1344.7V1353.7M979.9 1344.6V1350.1M980.4 1345.5V1347.2M981.0 1342.5V1346.0M981.7 1344.1V1347.4M982.2 1344.0V1348.6M983.1 1344.7V1357.1M983.7 1345.4V1348.1M984.5 1343.2V1357.8M984.9 1343.2V1347.0M985.6 1345.1V1350.7M986.3 1344.3V1351.9M987.0 1346.5V1351.6M987.8 1347.0V1362.4M988.4 1347.6V1355.4M989.2 1346.9V1353.2M989.7 1347.0V1348.7M990.4 1348.9V1356.1M991.2 1346.1V1351.0M991.9 1346.5V1348.3M992.4 1344.0V1346.3M993.0 1344.9V1351.3M993.5 1344.9V1348.9M994.4 1345.8V1351.2M994.8 1346.4V1351.2M995.4 1347.8V1363.2M996.1 1346.2V1350.1M996.9 1345.9V1347.4M997.7 1345.9V1351.8M998.6 1345.4V1351.1M999.2 1346.5V1349.0M999.9 1347.2V1362.9M1000.7 1346.8V1356.0M1001.4 1345.7V1352.8M1002.0 1344.4V1349.8M1002.6 1345.2V1362.9M1003.0 1344.4V1346.5M1003.7 1343.1V1345.2M1004.5 1343.9V1345.8M1005.0 1344.0V1346.0M1005.7 1344.2V1346.3M1006.2 1344.7V1349.6M1007.0 1344.7V1350.8M1007.4 1344.7V1351.3M1008.3 1344.3V1358.9M1008.8 1344.9V1351.7M1009.7 1343.6V1346.7M1010.4 1344.4V1351.4M1011.0 1345.4V1358.9M1011.5 1344.8V1350.7M1012.0 1345.7V1348.7M1012.7 1345.9V1354.8M1013.4 1346.6V1348.3M1014.0 1345.5V1348.9M1014.5 1343.6V1347.7M1015.0 1342.8V1345.1M1015.8 1343.2V1353.3M1016.4 1342.3V1344.1M1017.1 1344.6V1348.1M1017.7 1344.7V1355.3M1018.3 1346.4V1360.9M1019.2 1346.2V1351.8M1019.8 1346.0V1350.2M1020.5 1344.7V1347.6M1021.0 1346.0V1349.6M1021.6 1345.1V1354.7M1022.3 1345.5V1351.9M1023.1 1345.5V1352.3M1023.7 1346.4V1348.3M1024.3 1346.0V1351.4M1025.1 1345.6V1358.9M1025.9 1343.4V1349.1M1026.5 1344.7V1351.6M1027.3 1346.3V1351.1M1027.7 1346.1V1359.3M1028.6 1345.2V1346.9M1029.3 1343.7V1347.1M1030.2 1343.2V1345.7M1030.8 1344.1V1346.4M1031.4 1345.0V1346.8M1031.9 1346.8V1361.7M1032.6 1345.0V1347.3M1033.2 1346.1V1347.7M1033.8 1347.2V1349.0M1034.4 1346.9V1352.6M1035.2 1345.0V1351.5M1036.1 1345.1V1361.3M1036.8 1345.1V1358.7M1037.6 1345.2V1355.9M1038.2 1346.3V1350.4M1038.8 1346.1V1348.0M1039.3 1345.8V1360.1M1040.0 1346.6V1366.2M1040.6 1347.1V1349.1M1041.2 1348.3V1350.1M1041.9 1348.7V1352.5M1042.5 1346.4V1355.9M1043.2 1347.7V1349.8M1043.8 1347.3V1349.6M1044.3 1345.7V1354.1M1044.9 1345.9V1347.8M1045.4 1345.7V1355.6M1046.1 1344.8V1349.7M1046.7 1345.2V1349.4M1047.4 1345.2V1352.1M1048.3 1345.2V1364.3M1049.0 1347.4V1357.5M1049.8 1345.1V1346.7M1050.7 1342.7V1348.5M1051.2 1343.8V1345.7M1051.7 1343.9V1350.2M1052.2 1344.7V1358.1M1053.1 1341.9V1346.9M1053.6 1342.6V1346.3M1054.5 1344.6V1352.4M1055.3 1345.7V1358.5M1056.2 1343.7V1355.1M1056.7 1342.0V1352.7M1057.2 1342.7V1355.0M1057.7 1343.1V1345.7M1058.4 1343.4V1350.4M1059.1 1343.9V1347.0M1059.7 1344.3V1346.6M1060.3 1345.6V1350.3M1061.0 1345.4V1352.9M1061.8 1344.0V1348.1M1062.6 1344.1V1347.5M1063.3 1344.0V1356.3M1064.1 1343.2V1348.4M1064.7 1343.6V1351.1M1065.2 1343.9V1352.0M1066.1 1345.5V1348.5M1066.6 1345.6V1351.6M1067.1 1346.1V1347.7M1068.0 1344.7V1351.0M1068.8 1345.6V1349.2M1069.5 1346.8V1351.4M1070.1 1347.2V1352.3M1070.9 1347.3V1350.5M1071.5 1347.5V1359.4M1072.4 1347.1V1348.9M1073.1 1345.9V1365.4M1073.7 1345.8V1351.0M1074.5 1345.1V1353.9M1075.0 1344.5V1351.5M1075.8 1344.7V1351.3M1076.3 1347.8V1354.0M1076.8 1346.9V1348.7M1077.3 1346.9V1351.6M1078.2 1345.7V1348.2M1078.8 1344.4V1346.2M1079.4 1344.9V1347.0M1080.0 1344.5V1350.3M1080.6 1346.3V1361.5M1081.1 1346.6V1357.9M1082.0 1344.6V1369.3M1082.5 1345.8V1348.3M1083.0 1346.1V1348.4M1083.5 1345.4V1347.4M1084.1 1346.3V1352.1M1084.8 1345.9V1350.8M1085.3 1345.2V1348.0M1085.9 1345.1V1353.6M1086.6 1345.7V1350.2M1087.3 1346.5V1348.5M1087.8 1345.8V1351.4M1088.4 1345.2V1346.9M1088.9 1345.5V1347.0M1089.8 1343.8V1364.2M1090.3 1342.3V1345.8M1090.8 1342.4V1346.5M1091.6 1340.8V1344.6M1092.1 1340.8V1346.3M1092.8 1343.1V1345.3M1093.6 1344.5V1346.5M1094.4 1345.7V1352.7M1095.0 1346.1V1348.9M1095.8 1346.5V1348.1M1096.7 1344.9V1348.6M1097.5 1343.4V1350.2M1098.0 1343.8V1347.2M1098.4 1343.8V1350.4M1099.3 1341.7V1344.1M1100.0 1344.0V1348.9M1100.6 1343.5V1359.4M1101.3 1343.1V1345.6M1102.1 1343.8V1366.2M1102.6 1345.1V1354.3M1103.1 1345.5V1347.5M1103.9 1345.3V1347.3M1104.4 1343.7V1345.6M1104.9 1342.9V1354.7M1105.4 1343.3V1345.7M1106.0 1343.3V1346.1M1106.7 1343.1V1350.7M1107.2 1342.1V1346.8M1107.9 1343.4V1347.7M1108.8 1345.4V1354.8M1109.6 1345.0V1347.4M1110.5 1344.6V1365.0M1111.1 1343.1V1346.9M1112.0 1342.9V1347.7M1112.6 1343.0V1345.0M1113.0 1343.1V1344.9M1113.8 1343.2V1347.7M1114.3 1343.7V1354.9M1115.1 1346.2V1351.4M1115.9 1346.3V1355.4M1116.3 1345.2V1347.1M1117.1 1344.8V1346.3M1117.8 1344.2V1349.2M1118.4 1344.3V1346.0M1118.8 1344.8V1349.0M1119.4 1344.6V1353.0M1119.9 1345.1V1352.1M1120.5 1345.0V1349.5M1121.2 1345.3V1350.6M1121.9 1345.3V1348.0M1122.8 1345.6V1348.5M1123.4 1345.7V1351.4M1124.2 1346.0V1347.7M1125.1 1346.4V1349.3M1125.9 1346.5V1351.9M1126.7 1346.9V1351.8M1127.5 1347.3V1351.6M1128.1 1347.4V1350.9M1128.9 1347.6V1355.0M1129.8 1348.0V1349.7M1130.6 1348.4V1352.7M1131.3 1348.6V1352.2M1132.2 1349.0V1352.6M1132.7 1349.3V1356.9M1133.5 1349.7V1364.3M1134.4 1349.9V1355.1M1135.3 1350.4V1354.4M1135.8 1350.6V1354.5M1136.4 1350.9V1355.7M1137.2 1351.3V1363.5M1138.1 1351.8V1354.2M1138.7 1352.1V1353.7M1139.4 1352.4V1354.6M1140.0 1352.9V1361.3M1140.5 1353.2V1357.0M1141.3 1353.4V1358.0M1141.8 1353.7V1356.7M1142.3 1354.0V1370.1M1143.1 1354.6V1358.0M1143.9 1354.9V1358.2M1144.5 1355.5V1360.8M1145.0 1355.8V1386.0M1145.7 1356.1V1379.1M1146.6 1356.7V1368.4M1147.1 1357.0V1361.0M1147.7 1357.4V1369.5M1148.2 1357.7V1360.4M1148.7 1358.0V1373.2M1149.2 1358.4V1360.5M1149.7 1358.7V1368.0M1150.3 1359.1V1360.9M1151.0 1359.8V1362.5M1151.5 1360.1V1362.4M1151.9 1360.1V1361.9M1152.6 1360.9V1376.4M1153.3 1361.2V1363.4M1153.9 1361.6V1364.3M1154.3 1362.0V1368.6M1155.1 1362.8V1367.9M1155.7 1363.2V1376.0M1156.2 1363.6V1369.1M1156.7 1364.0V1372.2M1157.5 1364.8V1366.6M1158.0 1365.2V1367.2M1158.7 1365.6V1378.3M1159.2 1366.1V1375.1M1159.7 1366.5V1374.1M1160.4 1366.9V1373.6M1161.2 1367.8V1376.4M1161.6 1368.3V1372.7M1162.3 1368.8V1374.2M1163.2 1369.7V1371.9M1163.9 1370.2V1383.7M1164.6 1371.1V1378.4M1165.5 1372.1V1377.5M1166.0 1372.6V1376.9M1166.9 1373.2V1377.9M1167.7 1374.2V1384.9M1168.2 1374.7V1382.6M1168.8 1375.3V1377.0M1169.4 1375.8V1378.2M1170.0 1376.9V1379.8M1170.6 1377.4V1388.2M1171.1 1378.0V1392.9M1171.8 1378.6V1385.4M1172.3 1379.2V1382.0M1172.9 1379.7V1386.8M1173.7 1380.9V1385.5M1174.6 1382.1V1385.1M1175.3 1382.7V1385.6M1175.9 1383.4V1386.3M1176.4 1384.0V1385.9M1177.3 1385.3V1391.8M1177.8 1385.9V1394.5M1178.6 1387.2V1391.3M1179.1 1387.9V1394.3M1179.6 1388.6V1392.4M1180.1 1389.3V1393.7M1180.9 1390.0V1392.0M1181.5 1391.4V1400.1M1182.2 1392.1V1394.1M1182.8 1392.8V1403.8M1183.6 1394.3V1395.8M1184.4 1346.3V1348.2M1185.1 1345.1V1351.8M1185.8 1345.1V1347.4M1186.5 1343.9V1347.3M1186.9 1343.9V1360.3M1187.4 1344.4V1348.3M1188.1 1345.4V1349.4M1188.7 1344.8V1346.9M1189.4 1342.5V1347.3M1189.9 1344.1V1354.9M1190.7 1344.9V1346.6M1191.2 1344.0V1358.0M1191.8 1343.8V1347.2M1192.5 1344.3V1349.7M1193.0 1346.2V1347.9M1193.9 1344.8V1347.1M1194.5 1344.7V1348.5M1195.1 1345.0V1348.3M1195.6 1344.6V1352.2M1196.4 1345.1V1349.9M1196.9 1343.2V1348.8M1197.7 1343.1V1350.9M1198.4 1340.6V1342.5M1199.0 1342.5V1345.6M1199.6 1342.0V1347.5M1200.4 1341.6V1362.5M1201.2 1342.3V1344.9M1202.0 1342.3V1344.7M1202.5 1341.9V1365.2M1203.1 1342.8V1347.1M1203.9 1342.8V1363.6M1204.5 1344.1V1348.7M1205.2 1342.8V1346.0M1205.9 1344.3V1347.5M1206.7 1341.8V1348.4M1207.6 1341.0V1342.9M1208.2 1340.3V1356.6M1208.8 1341.7V1360.6M1209.5 1342.0V1348.0M1210.0 1343.1V1349.1M1210.8 1343.9V1351.0M1211.6 1342.7V1348.7M1212.2 1343.3V1345.7M1213.0 1343.3V1348.4M1213.5 1343.7V1353.9M1214.3 1343.3V1344.9M1215.0 1344.2V1359.2M1215.8 1343.0V1345.3M1216.7 1343.6V1345.7M1217.2 1342.5V1358.6M1217.7 1342.6V1346.5M1218.5 1341.9V1344.3M1219.0 1341.4V1347.7M1219.7 1343.9V1348.3M1220.5 1343.8V1360.1M1221.1 1343.1V1353.0M1221.6 1343.5V1348.2M1222.5 1345.1V1357.2M1223.0 1343.7V1347.2M1223.5 1344.3V1350.9M1224.2 1344.6V1348.5M1225.0 1344.3V1347.3M1225.6 1342.9V1346.2M1226.4 1341.7V1358.3M1227.3 1340.8V1344.3M1227.8 1342.0V1360.7M1228.5 1342.7V1347.4M1229.3 1343.6V1347.3M1230.0 1342.6V1347.1M1230.6 1343.0V1345.4M1231.2 1343.2V1361.9M1232.0 1343.1V1345.3M1232.8 1342.5V1347.3M1233.6 1343.3V1347.9M1234.4 1341.3V1344.5M1234.9 1343.5V1348.5M1235.3 1342.2V1344.4M1235.8 1341.8V1360.4M1236.3 1342.8V1359.2M1236.8 1343.3V1348.7M1237.5 1344.4V1363.7M1238.3 1343.2V1349.0M1238.9 1343.3V1354.5M1239.7 1342.8V1344.8M1240.5 1343.3V1348.9M1241.2 1344.2V1346.9M1241.9 1342.8V1347.8M1242.4 1343.8V1357.1M1243.0 1341.7V1345.1M1243.8 1342.2V1345.0M1244.5 1341.5V1349.8M1245.4 1342.6V1347.1M1246.1 1341.9V1355.9M1246.9 1340.4V1345.1M1247.5 1340.1V1342.4M1248.3 1341.7V1343.5M1248.9 1342.5V1350.7M1249.8 1342.6V1349.4M1250.5 1341.9V1351.8M1251.1 1342.4V1356.9M1251.8 1342.2V1344.2M1252.6 1343.9V1347.6M1253.4 1345.7V1354.1M1253.9 1344.6V1351.8M1254.7 1343.3V1344.9M1255.1 1343.1V1347.1M1255.8 1342.8V1347.7M1256.6 1343.1V1376.7M1257.2 1343.7V1348.0M1258.1 1346.0V1354.9M1258.6 1346.3V1348.3M1259.4 1344.8V1348.5M1260.0 1344.5V1352.6M1260.8 1343.4V1357.3M1261.5 1343.2V1352.2M1262.1 1342.6V1346.4M1262.9 1341.6V1344.3M1263.8 1343.2V1349.2M1264.5 1342.3V1344.4M1265.0 1343.5V1347.5M1265.6 1344.3V1347.9M1266.1 1345.4V1368.5M1266.9 1344.4V1346.6M1267.6 1343.3V1349.0M1268.1 1343.9V1346.9M1268.6 1344.2V1350.9M1269.1 1345.1V1347.8M1270.0 1342.8V1348.1M1270.8 1343.4V1352.4M1271.6 1341.7V1353.5M1272.4 1341.8V1346.8M1273.1 1341.7V1348.8M1273.6 1342.3V1345.4M1274.3 1341.1V1361.5M1275.1 1341.9V1348.4M1275.9 1342.1V1351.6M1276.4 1344.4V1352.7M1276.9 1345.4V1350.1M1277.4 1344.8V1356.6M1278.1 1342.3V1357.8M1278.7 1343.2V1349.0M1279.6 1340.1V1351.9M1280.4 1341.1V1344.0M1281.3 1341.6V1346.5M1282.2 1341.4V1343.2M1282.8 1342.4V1349.7M1283.6 1343.0V1358.7M1284.1 1342.9V1347.8M1284.8 1344.6V1347.5M1285.7 1341.3V1342.8M1286.6 1343.1V1346.6M1287.2 1342.7V1354.3M1287.7 1343.0V1349.9M1288.4 1342.5V1350.1M1289.1 1342.8V1347.1M1289.6 1342.1V1343.8M1290.2 1344.7V1349.1M1290.9 1343.9V1348.8M1291.5 1344.7V1351.7M1292.4 1345.5V1354.5M1293.1 1345.6V1348.5M1293.7 1346.7V1354.9M1294.3 1346.6V1349.7M1295.2 1345.9V1352.3M1296.0 1344.4V1349.8M1296.5 1344.7V1355.4M1297.2 1344.3V1351.9M1297.9 1343.7V1346.8M1298.5 1343.8V1350.7M1299.1 1342.7V1346.6M1300.0 1341.6V1343.3M1300.5 1341.1V1346.8M1301.3 1341.0V1347.0M1301.8 1342.3V1349.8M1302.3 1341.6V1347.5M1303.1 1342.4V1349.7M1303.9 1342.4V1344.1M1304.6 1342.8V1352.7M1305.4 1343.7V1348.6M1306.1 1343.5V1347.6M1306.6 1344.1V1347.1M1307.5 1344.1V1351.1M1308.4 1343.6V1346.2M1309.0 1343.8V1347.2M1309.8 1343.9V1347.3M1310.5 1344.5V1361.9M1311.1 1343.2V1354.5M1311.7 1343.9V1350.1M1312.6 1343.7V1352.7M226.0 1338.1V1340.6M226.6 1338.9V1351.1M227.0 1338.8V1355.6M227.5 1338.6V1355.3M227.9 1338.6V1359.8M228.5 1338.7V1363.0M229.1 1340.3V1357.8M229.6 1340.1V1361.3M230.0 1341.1V1356.9M230.4 1341.1V1362.4M231.1 1340.1V1357.6M231.5 1340.1V1361.8M232.1 1341.1V1356.7M232.7 1342.1V1362.0M233.1 1339.4V1356.9M233.7 1340.8V1362.7M234.4 1339.3V1359.1M235.0 1340.8V1350.5M235.7 1340.9V1346.7M358.0 1339.6V1342.1M358.4 1339.6V1346.2M359.0 1337.4V1349.8M359.7 1337.4V1350.3M360.2 1341.8V1349.4M361.0 1341.6V1350.4M361.8 1340.5V1347.5M362.5 1341.9V1348.4M362.9 1341.9V1345.5M365.0 1341.5V1344.0M365.7 1342.1V1350.9M366.4 1343.2V1359.9M366.8 1345.6V1360.1M367.5 1346.2V1365.7M368.0 1345.6V1359.2M368.6 1345.3V1365.6M369.2 1345.4V1369.5M369.6 1344.3V1369.5M370.4 1344.3V1359.8M371.2 1344.4V1371.5M371.9 1341.8V1369.1M372.6 1342.2V1368.6M373.0 1342.8V1368.5M373.6 1344.6V1362.5M374.0 1344.8V1365.6M374.7 1344.7V1367.0M375.4 1342.6V1354.8M375.8 1343.1V1361.2M376.3 1343.8V1354.0M376.9 1343.0V1350.2M377.4 1341.9V1346.8M401.7 1346.9V1349.4M402.4 1346.4V1362.9M403.1 1347.2V1362.4M403.7 1346.7V1370.8M404.3 1344.9V1360.6M404.8 1343.8V1367.2M405.3 1343.3V1372.8M406.0 1343.1V1371.1M406.6 1342.6V1368.4M407.0 1342.9V1362.9M407.3 1342.9V1367.5M407.7 1342.1V1358.0M408.1 1341.4V1355.8M408.9 1341.1V1348.5M432.6 1340.4V1342.9M433.0 1340.6V1347.0M433.7 1338.8V1353.0M434.3 1338.3V1352.2M434.8 1339.3V1355.9M435.4 1337.7V1350.8M436.2 1339.3V1359.4M436.6 1340.1V1358.2M437.3 1341.2V1356.6M438.0 1341.1V1354.4M438.3 1341.1V1357.8M438.8 1339.5V1362.0M439.3 1339.3V1354.4M440.1 1340.3V1359.2M440.5 1342.6V1354.6M441.3 1341.0V1351.5M441.7 1342.8V1352.9M442.4 1343.4V1351.6M442.8 1344.0V1347.7M442.9 1344.0V1346.5M443.5 1343.0V1354.4M444.2 1343.4V1358.2M444.6 1343.5V1359.6M445.4 1344.8V1369.9M445.9 1343.6V1372.3M446.5 1342.1V1368.5M446.9 1342.1V1371.7M447.4 1343.7V1369.1M447.9 1344.2V1365.1M448.5 1343.5V1371.4M449.2 1344.0V1367.9M449.9 1344.1V1359.9M450.3 1341.9V1355.7M451.1 1342.6V1360.1M451.6 1341.8V1347.4M467.8 1344.3V1346.8M468.4 1345.4V1349.3M468.7 1345.3V1350.0M469.1 1345.6V1351.4M469.8 1344.4V1350.0M470.2 1342.9V1352.3M470.6 1342.5V1350.0M471.1 1342.8V1353.1M471.8 1343.4V1352.6M472.5 1343.1V1351.8M473.1 1342.2V1350.5M473.8 1341.3V1354.3M474.4 1341.7V1352.6M475.0 1341.1V1354.1M475.4 1341.1V1348.8M475.8 1341.9V1353.8M476.5 1343.1V1349.2M476.9 1343.1V1349.6M477.5 1341.7V1351.0M478.2 1341.9V1350.0M478.8 1341.7V1347.4M479.4 1341.2V1345.1M491.4 1339.9V1342.4M491.9 1339.6V1345.5M492.6 1340.7V1351.2M493.4 1339.5V1348.9M493.9 1339.7V1353.8M494.4 1341.1V1353.0M494.9 1341.2V1350.4M495.4 1342.3V1357.5M496.1 1342.4V1351.6M496.7 1342.2V1359.6M497.2 1342.5V1354.2M497.8 1342.0V1354.6M498.6 1341.7V1353.2M499.1 1343.6V1358.9M499.7 1343.2V1358.9M500.3 1342.2V1354.3M500.7 1342.9V1354.0M501.1 1342.0V1354.2M501.7 1342.9V1355.5M502.3 1342.7V1354.5M502.7 1343.1V1355.7M503.2 1343.2V1357.8M503.8 1343.9V1356.5M504.2 1343.2V1357.8M504.8 1343.8V1353.9M505.2 1343.2V1356.5M505.7 1342.6V1356.9M506.2 1342.9V1351.0M506.8 1342.7V1349.9M507.5 1342.0V1350.7M508.2 1340.9V1349.3M508.5 1339.2V1346.6M600.0 1338.6V1341.1M600.5 1338.5V1344.1M601.2 1339.1V1348.2M601.6 1338.9V1347.7M602.1 1340.7V1352.1M602.5 1340.7V1353.5M603.1 1340.2V1351.0M603.8 1339.5V1355.4M604.3 1337.9V1353.1M605.1 1335.8V1348.0M605.4 1335.8V1354.1M606.1 1336.1V1354.4M606.8 1335.9V1353.8M607.2 1337.4V1352.3M607.7 1336.4V1350.8M608.0 1334.8V1356.3M608.5 1336.3V1352.7M609.2 1337.7V1350.2M609.9 1339.2V1357.7M610.3 1338.5V1353.2M610.9 1338.4V1355.8M611.4 1339.8V1349.2M612.0 1340.5V1350.0M612.6 1342.0V1353.2M613.3 1342.1V1349.9M613.8 1342.2V1351.0M614.5 1341.3V1347.6M615.0 1342.2V1344.7M620.0 1339.5V1342.0M620.5 1341.3V1349.1M621.3 1341.2V1350.9M622.1 1341.9V1354.8M622.6 1341.3V1352.1M623.2 1341.2V1357.7M623.8 1342.1V1355.8M624.2 1342.6V1362.2M625.0 1339.7V1356.2M625.6 1341.6V1360.1M626.1 1340.9V1356.2M626.5 1340.3V1359.2M626.9 1340.3V1358.6M627.4 1341.5V1354.9M628.1 1340.1V1361.3M628.7 1340.2V1358.1M629.5 1337.3V1351.5M630.2 1337.0V1349.6M630.8 1337.2V1350.7M631.5 1339.2V1349.0M631.9 1339.2V1343.9M665.0 1341.8V1344.3M665.6 1340.4V1348.1M666.4 1340.1V1348.3M667.1 1342.5V1353.2M667.7 1342.1V1350.2M668.3 1340.7V1351.7M669.0 1340.9V1358.1M669.6 1341.1V1355.8M670.1 1343.0V1354.0M670.7 1340.7V1360.3M671.4 1340.0V1358.8M672.0 1340.7V1354.9M672.5 1341.5V1360.7M673.1 1340.9V1359.5M673.8 1343.0V1356.6M674.3 1344.8V1360.1M674.8 1344.0V1359.8M675.3 1343.9V1362.5M676.0 1344.6V1358.2M676.6 1345.8V1362.8M677.3 1344.6V1363.9M678.1 1345.6V1362.1M678.8 1344.7V1357.4M679.3 1345.3V1360.0M679.7 1344.9V1360.1M680.2 1343.9V1355.6M681.0 1345.3V1360.0M681.6 1345.4V1356.9M682.1 1343.3V1356.6M682.8 1343.3V1354.3M683.4 1341.0V1360.3M684.1 1340.5V1353.1M684.6 1340.7V1353.9M685.2 1342.6V1355.1M685.6 1343.9V1355.5M686.2 1343.4V1355.9M686.6 1343.3V1352.1M687.1 1342.8V1351.0M687.6 1341.8V1353.1M688.1 1342.4V1352.2M688.7 1342.5V1349.4M689.3 1341.6V1348.8M700.0 1345.2V1347.7M700.5 1345.6V1350.2M701.2 1346.0V1352.8M701.8 1347.3V1352.5M702.5 1347.5V1355.0M703.0 1346.7V1355.1M703.6 1346.2V1353.6M704.4 1347.4V1357.4M704.8 1347.3V1355.0M705.6 1347.3V1356.0M706.1 1348.4V1358.0M706.5 1347.8V1354.8M707.1 1348.9V1354.6M707.8 1348.8V1357.7M708.5 1347.9V1357.8M709.1 1346.3V1353.9M709.5 1346.6V1354.1M710.0 1347.3V1354.0M710.5 1346.9V1353.7M711.1 1347.4V1352.0M711.6 1346.1V1350.1M728.0 1345.5V1348.0M728.4 1345.5V1348.9M728.9 1344.8V1350.6M729.3 1344.0V1351.2M730.0 1345.4V1354.1M730.5 1346.4V1352.6M731.3 1346.4V1353.3M731.7 1345.5V1353.4M732.4 1345.1V1352.1M732.9 1344.7V1356.3M733.6 1343.8V1353.9M734.3 1344.3V1355.5M734.8 1343.9V1355.1M735.5 1344.5V1355.2M736.2 1345.7V1359.2M736.9 1344.9V1357.8M737.4 1344.2V1359.9M737.8 1344.6V1354.4M738.1 1346.0V1356.9M738.9 1345.7V1356.7M739.6 1346.5V1360.6M740.3 1347.5V1362.7M740.9 1346.5V1362.6M741.3 1347.3V1357.8M742.0 1345.8V1360.5M742.7 1345.6V1356.7M743.2 1346.0V1358.0M743.6 1345.5V1361.6M744.1 1344.2V1355.7M744.7 1345.4V1359.1M745.1 1345.0V1360.7M745.8 1345.8V1362.8M746.4 1344.8V1360.3M747.0 1345.5V1356.9M747.7 1345.0V1361.6M748.2 1346.6V1359.5M748.6 1345.3V1362.4M749.2 1345.9V1362.1M749.9 1346.3V1359.6M750.3 1345.7V1354.6M750.8 1345.8V1358.1M751.5 1344.2V1358.4M752.1 1343.0V1353.4M752.8 1343.5V1353.5M753.2 1345.0V1355.2M753.7 1344.2V1359.3M754.1 1344.9V1357.5M754.7 1345.8V1357.3M755.1 1344.1V1357.7M755.6 1343.5V1356.9M756.3 1343.5V1350.6M757.0 1344.3V1353.2M757.6 1344.2V1351.6M758.1 1345.4V1351.1M758.5 1345.1V1352.4M758.9 1345.1V1351.4M759.4 1344.6V1349.9M759.9 1344.8V1347.8M840.0 1344.4V1346.9M840.4 1344.4V1348.7M840.8 1346.0V1352.3M841.5 1346.8V1355.2M842.3 1347.1V1353.2M842.9 1345.1V1352.3M843.5 1346.4V1353.4M843.9 1346.4V1356.4M844.3 1346.5V1354.2M845.1 1347.9V1359.8M845.4 1347.9V1358.5M846.1 1345.7V1359.6M846.8 1346.4V1361.5M847.4 1347.7V1359.8M847.9 1346.7V1356.1M848.3 1346.7V1358.7M848.7 1345.4V1363.5M849.3 1345.4V1356.9M849.7 1345.3V1358.5M850.2 1344.9V1356.6M850.8 1345.0V1358.3M851.4 1343.0V1356.5M852.2 1345.1V1362.8M852.7 1344.7V1360.5M853.4 1343.2V1365.4M854.1 1343.5V1360.9M854.6 1342.9V1362.5M855.1 1342.3V1359.6M855.5 1342.3V1360.9M855.9 1342.3V1358.8M856.3 1342.9V1356.6M856.7 1342.2V1354.9M857.4 1342.3V1355.6M857.8 1341.9V1365.0M858.4 1343.7V1362.2M859.0 1343.9V1363.8M859.6 1343.3V1360.1M860.0 1344.2V1361.7M860.4 1344.2V1357.4M861.2 1343.5V1356.5M861.6 1344.3V1357.3M862.1 1343.2V1357.0M862.5 1343.2V1353.3M863.1 1343.4V1354.5M863.4 1343.4V1355.3M864.2 1344.5V1353.8M865.0 1344.3V1353.8M865.7 1344.6V1354.8M866.2 1344.8V1354.2M867.0 1345.3V1350.6M867.6 1345.5V1351.1M930.0 1343.8V1346.3M930.5 1345.2V1350.2M931.1 1344.7V1350.6M931.5 1345.0V1351.5M932.0 1344.1V1351.9M932.7 1343.1V1352.7M933.4 1344.1V1358.1M934.1 1345.1V1357.9M934.9 1345.7V1357.9M935.7 1345.9V1355.6M936.4 1344.7V1359.5M937.0 1344.9V1357.4M937.6 1344.4V1362.4M938.3 1345.5V1358.5M939.1 1344.5V1361.0M939.5 1344.2V1360.5M939.9 1344.2V1361.5M940.4 1343.5V1361.7M940.9 1343.4V1355.4M941.3 1343.9V1359.5M941.7 1343.9V1354.0M942.5 1344.1V1357.5M943.1 1346.0V1358.3M943.7 1344.9V1354.7M944.3 1346.2V1357.3M944.6 1346.9V1354.5M945.3 1346.8V1352.6M945.9 1345.5V1350.9M946.4 1344.2V1350.7M990.0 1348.9V1351.4M990.5 1349.7V1353.5M990.9 1349.7V1356.1M991.7 1346.5V1357.2M992.1 1344.0V1352.5M992.8 1344.2V1356.8M993.5 1344.9V1356.4M994.3 1345.8V1358.2M995.0 1347.8V1356.9M995.5 1347.5V1359.3M996.1 1346.2V1360.2M996.6 1345.9V1355.4M997.1 1346.1V1354.7M997.6 1345.9V1354.3M998.3 1346.4V1356.9M999.0 1346.5V1351.8M999.8 1347.2V1351.9M1010.0 1344.4V1346.9M1010.5 1344.9V1349.3M1011.1 1345.4V1351.4M1011.7 1344.8V1353.4M1012.4 1345.7V1352.4M1013.0 1346.6V1353.6M1013.6 1345.7V1354.3M1014.3 1345.5V1355.6M1014.9 1343.6V1353.1M1015.4 1342.8V1358.1M1015.8 1343.2V1358.7M1016.3 1342.3V1351.6M1016.7 1342.8V1357.8M1017.1 1344.6V1357.4M1017.5 1344.7V1359.5M1018.3 1346.4V1356.9M1019.0 1346.2V1359.9M1019.4 1346.2V1356.6M1019.8 1346.0V1354.7M1020.3 1345.1V1356.8M1021.0 1346.0V1358.8M1021.7 1345.1V1354.7M1022.1 1345.5V1354.8M1022.6 1346.9V1357.1M1023.2 1345.5V1355.4M1023.9 1346.4V1355.5M1024.4 1346.0V1354.9M1025.0 1345.6V1356.7M1025.8 1343.4V1354.5M1026.1 1344.9V1356.5M1026.9 1344.7V1351.4M1027.3 1346.3V1354.4M1027.8 1346.1V1354.3M1028.5 1345.2V1350.7M1029.1 1343.7V1350.8M1029.5 1344.2V1348.2M1020.0 1345.1V1347.6M1020.5 1344.7V1351.7M1020.9 1344.7V1353.6M1021.7 1345.1V1354.6M1022.5 1346.9V1355.6M1023.0 1345.5V1356.6M1023.6 1346.4V1357.1M1024.4 1346.0V1361.4M1024.8 1344.8V1362.6M1025.4 1345.6V1360.9M1025.9 1343.4V1355.1M1026.6 1344.7V1359.3M1027.0 1346.3V1356.6M1027.8 1346.1V1357.0M1028.2 1345.1V1362.2M1028.8 1345.2V1361.1M1029.6 1344.2V1353.4M1030.1 1343.2V1357.6M1030.7 1344.1V1352.2M1031.5 1346.8V1357.2M1031.9 1346.8V1354.5M1032.5 1345.0V1352.2M1032.9 1345.0V1348.4M1200.0 1341.6V1344.1M1200.6 1340.5V1347.1M1201.3 1342.3V1349.3M1201.7 1342.1V1348.7M1202.1 1342.3V1353.9M1202.7 1341.9V1351.3M1203.5 1342.8V1351.0M1204.1 1343.4V1355.8M1204.6 1344.1V1357.2M1205.3 1342.8V1356.8M1205.7 1344.3V1355.8M1206.2 1343.9V1358.8M1206.9 1341.8V1358.3M1207.4 1342.2V1355.9M1208.0 1340.3V1357.3M1208.7 1341.7V1357.0M1209.1 1341.4V1352.9M1209.9 1342.0V1356.6M1210.4 1343.1V1352.0M1211.1 1343.2V1354.9M1211.8 1342.7V1352.8M1212.4 1343.3V1351.7M1213.0 1343.3V1354.1M1213.3 1343.3V1349.1M1214.1 1343.3V1350.9M1214.4 1343.3V1349.0M1214.8 1343.5V1346.8M1240.0 1342.9V1345.4M1240.4 1342.9V1346.3M1241.1 1344.2V1350.8M1241.5 1342.8V1348.9M1242.1 1343.8V1351.0M1242.5 1343.2V1350.5M1243.1 1341.7V1353.8M1243.8 1342.2V1351.1M1244.5 1341.5V1352.3M1244.9 1341.5V1355.1M1245.6 1341.7V1350.6M1246.1 1341.9V1352.6M1246.8 1340.4V1352.1M1247.2 1340.2V1353.6M1247.6 1340.1V1358.2M1248.1 1341.7V1352.0M1248.5 1342.5V1355.7M1249.2 1343.8V1354.8M1249.7 1342.6V1355.2M1250.4 1342.1V1354.8M1250.9 1341.9V1357.6M1251.6 1342.2V1356.6M1252.1 1343.0V1354.8M1252.8 1343.9V1358.1M1253.6 1344.6V1354.4M1254.3 1342.4V1355.2M1255.0 1343.1V1355.9M1255.7 1342.8V1355.8M1256.1 1343.9V1350.7M1256.5 1343.1V1351.7M1256.9 1343.1V1351.0M1257.5 1345.4V1353.3M1258.1 1346.0V1351.8M1258.6 1346.3V1351.7M1259.4 1344.8V1348.3M1290.0 1344.7V1347.2M1290.5 1343.9V1347.0M1291.2 1343.2V1348.2M1291.6 1344.7V1349.1M1292.0 1345.5V1350.3M1292.4 1345.5V1349.7M1292.9 1347.5V1352.1M1293.5 1346.7V1351.9M1293.9 1346.7V1351.4M1294.5 1345.8V1350.2M1295.0 1345.9V1350.9M1295.7 1344.6V1351.9M1296.2 1344.4V1351.0M1296.6 1344.7V1353.5M1297.0 1344.3V1350.2M1297.6 1343.7V1352.1M1298.0 1344.1V1351.3M1298.4 1344.1V1351.7M1298.9 1343.8V1350.5M1299.5 1340.9V1353.9M1300.2 1341.6V1351.5M1300.8 1341.1V1349.5M1301.3 1341.0V1352.7M1301.9 1342.3V1353.6M1302.5 1343.0V1351.5M1303.2 1342.4V1354.5M1303.8 1342.4V1350.7M1304.2 1341.5V1349.7M1304.9 1342.8V1349.5M1305.4 1343.7V1351.6M1305.8 1344.8V1352.1M1306.6 1344.1V1352.4M1307.1 1343.8V1353.3M1307.5 1344.1V1351.1M1308.1 1343.6V1351.4M1308.4 1343.6V1349.1M1308.8 1343.8V1352.2M1309.3 1343.8V1349.7M1309.7 1343.9V1348.8M1310.1 1344.4V1350.2M1310.6 1344.5V1350.1M1311.3 1343.2V1347.3M1311.9 1343.9V1347.8M1312.2 1343.2V1346.9M1313.0 1344.3V1346.8M540.0 1338.5V1341.0M540.6 1338.9V1343.4M541.0 1339.3V1344.2M541.7 1339.1V1345.6M542.0 1338.7V1346.7M542.8 1338.9V1344.8M543.4 1338.8V1348.0M544.0 1340.2V1349.3M544.4 1340.2V1350.7M544.8 1339.5V1347.7M545.3 1339.5V1348.6M546.0 1340.3V1349.3M546.6 1340.0V1349.9M547.2 1340.2V1351.8M547.7 1340.0V1348.8M548.1 1339.9V1351.5M548.9 1339.2V1347.3M549.6 1339.6V1348.9M550.0 1339.7V1348.9M550.6 1338.5V1349.7M551.3 1338.1V1351.1M551.9 1339.0V1349.7M552.3 1340.3V1347.2M553.0 1341.4V1349.0M553.5 1341.3V1349.1M554.1 1340.5V1348.2M554.8 1338.5V1347.9M555.5 1339.2V1345.8M556.2 1340.9V1348.7M556.9 1341.4V1348.1M557.5 1341.5V1347.6M557.9 1341.5V1346.5M558.6 1339.3V1346.4M559.3 1340.3V1345.1M763.0 1344.9V1347.4M763.6 1346.7V1349.7M764.1 1345.9V1349.3M764.8 1345.7V1349.5M765.4 1345.4V1349.6M766.2 1344.3V1350.4M766.8 1345.0V1350.9M767.3 1344.4V1350.8M767.7 1345.6V1350.6M768.3 1345.8V1351.2M768.7 1345.1V1351.3M769.4 1344.0V1350.5M769.8 1343.8V1351.5M770.6 1344.2V1351.3M771.3 1344.1V1349.6M771.7 1343.8V1350.8M772.4 1343.8V1350.6M773.0 1343.5V1351.9M773.5 1343.7V1351.7M774.1 1345.4V1352.6M774.9 1345.1V1352.2M775.3 1346.8V1352.5M775.8 1345.3V1352.4M776.2 1346.0V1351.1M776.8 1344.9V1350.6M777.4 1345.1V1352.6M778.0 1346.4V1351.5M778.7 1347.0V1352.2M779.2 1346.8V1352.7M779.8 1345.7V1352.5M780.5 1345.6V1351.4M781.0 1346.4V1352.3M781.6 1347.2V1354.2M782.2 1345.6V1352.5M782.6 1344.9V1352.6M783.1 1346.0V1353.6M783.6 1344.7V1354.2M784.2 1343.6V1350.0M784.9 1343.6V1352.2M785.6 1344.7V1351.1M786.4 1345.9V1352.6M787.0 1346.5V1352.9M787.7 1347.2V1353.0M788.0 1347.1V1353.0M788.8 1346.5V1353.8M789.4 1346.3V1352.2M790.1 1346.3V1353.0M790.5 1344.4V1351.6M791.1 1344.3V1351.3M791.6 1345.4V1350.6M792.3 1345.4V1350.9M792.6 1344.6V1349.5M793.3 1345.6V1349.9M794.0 1344.8V1351.1M794.7 1344.8V1351.5M795.3 1346.5V1351.1M795.8 1345.8V1350.2M796.3 1345.1V1350.9M796.7 1344.1V1350.2M797.3 1344.0V1347.8M798.0 1345.4V1349.6M798.8 1343.9V1347.1M799.4 1343.8V1347.4M880.0 1344.9V1347.4M880.4 1344.9V1347.7M881.1 1343.1V1347.0M881.4 1343.1V1349.3M882.1 1343.4V1349.8M882.6 1343.3V1349.6M883.1 1345.5V1350.8M883.5 1346.4V1352.7M884.2 1346.4V1351.6M884.9 1347.0V1351.5M885.2 1347.7V1352.9M885.7 1348.3V1352.4M886.2 1348.7V1354.0M887.0 1348.8V1353.7M887.6 1346.9V1353.9M888.1 1345.3V1354.2M888.8 1345.5V1351.9M889.5 1345.7V1352.6M889.9 1345.7V1352.3M890.5 1343.6V1350.6M891.2 1343.4V1352.9M891.9 1345.3V1350.8M892.3 1342.5V1352.6M892.9 1343.4V1353.7M893.4 1342.6V1350.3M893.9 1344.0V1353.9M894.7 1345.4V1350.4M895.3 1345.1V1351.8M896.1 1345.7V1351.7M896.7 1346.3V1351.9M897.3 1346.5V1351.2M898.0 1348.0V1351.4M898.5 1348.7V1351.5M899.1 1346.7V1350.5M899.5 1345.3V1348.5" stroke="#000" stroke-width="1.3" fill="none"/>
<line x1="169.8" y1="1334.2" x2="169.8" y2="1412.6" stroke="#000" stroke-width="1.5"/>
<line x1="178.7" y1="1334.2" x2="178.7" y2="1358" stroke="#000" stroke-width="1.2"/>
<line x1="190.8" y1="1334.2" x2="190.8" y2="1354" stroke="#000" stroke-width="1.2"/>
<line x1="232" y1="1339.2" x2="232" y2="1418.7" stroke="#000" stroke-width="1.8"/>
<line x1="229.5" y1="1334.2" x2="229.5" y2="1390" stroke="#000" stroke-width="2.0"/>
<line x1="235.5" y1="1334.2" x2="235.5" y2="1362" stroke="#000" stroke-width="1.2"/>
<line x1="245.2" y1="1334.2" x2="245.2" y2="1358.6" stroke="#000" stroke-width="1.2"/>
<line x1="266.8" y1="1334.2" x2="266.8" y2="1357.5" stroke="#000" stroke-width="1.2"/>
<line x1="277" y1="1334.2" x2="277" y2="1618.8" stroke="#000" stroke-width="1.5"/>
<line x1="284" y1="1334.2" x2="284" y2="1625.4" stroke="#000" stroke-width="1.5"/>
<line x1="293.7" y1="1334.2" x2="293.7" y2="1363" stroke="#000" stroke-width="1.2"/>
<line x1="319.3" y1="1334.2" x2="319.3" y2="1353" stroke="#000" stroke-width="1.2"/>
<line x1="351.9" y1="1334.2" x2="351.9" y2="1424" stroke="#000" stroke-width="1.5"/>
<line x1="371.5" y1="1334.2" x2="371.5" y2="1380.6" stroke="#000" stroke-width="1.3"/>
<line x1="374.8" y1="1336.2" x2="374.8" y2="1373" stroke="#000" stroke-width="1.3"/>
<line x1="383.6" y1="1334.2" x2="383.6" y2="1404.9" stroke="#000" stroke-width="1.4"/>
<line x1="396.4" y1="1334.2" x2="396.4" y2="1407" stroke="#000" stroke-width="1.4"/>
<line x1="398.7" y1="1334.2" x2="398.7" y2="1607.8" stroke="#000" stroke-width="1.5"/>
<line x1="405.7" y1="1335.4" x2="405.7" y2="1375" stroke="#000" stroke-width="1.3"/>
<line x1="417.8" y1="1334.2" x2="417.8" y2="1407" stroke="#000" stroke-width="1.4"/>
<line x1="446.6" y1="1336.6" x2="446.6" y2="1438.5" stroke="#000" stroke-width="1.5"/>
<line x1="449.9" y1="1334.2" x2="449.9" y2="1371.3" stroke="#000" stroke-width="1.5"/>
<line x1="457.6" y1="1334.2" x2="457.6" y2="1386.7" stroke="#000" stroke-width="1.4"/>
<line x1="462.7" y1="1334.2" x2="462.7" y2="1465" stroke="#000" stroke-width="1.5"/>
<line x1="494" y1="1334.2" x2="494" y2="1382.3" stroke="#000" stroke-width="1.4"/>
<line x1="498.8" y1="1334.2" x2="498.8" y2="1411" stroke="#000" stroke-width="1.4"/>
<line x1="506.1" y1="1335.5" x2="506.1" y2="1385.6" stroke="#000" stroke-width="1.5"/>
<line x1="539.2" y1="1334.2" x2="539.2" y2="1358" stroke="#000" stroke-width="1.2"/>
<line x1="563.4" y1="1334.2" x2="563.4" y2="1358" stroke="#000" stroke-width="1.2"/>
<line x1="586.6" y1="1334.2" x2="586.6" y2="1356" stroke="#000" stroke-width="1.2"/>
<line x1="609.7" y1="1334.2" x2="609.7" y2="1364.7" stroke="#000" stroke-width="1.3"/>
<line x1="614.1" y1="1334.2" x2="614.1" y2="1360" stroke="#000" stroke-width="1.2"/>
<line x1="624" y1="1334.2" x2="624" y2="1364.7" stroke="#000" stroke-width="1.3"/>
<line x1="641" y1="1334.2" x2="641" y2="1422" stroke="#000" stroke-width="1.5"/>
<line x1="650.5" y1="1346.3" x2="650.5" y2="1402" stroke="#000" stroke-width="2.2"/>
<line x1="671.4" y1="1334.2" x2="671.4" y2="1365" stroke="#000" stroke-width="1.3"/>
<line x1="686.9" y1="1334.2" x2="686.9" y2="1368" stroke="#000" stroke-width="1.3"/>
<line x1="715.5" y1="1334.2" x2="715.5" y2="1364.7" stroke="#000" stroke-width="1.3"/>
<line x1="726.5" y1="1335.6" x2="726.5" y2="1366.9" stroke="#000" stroke-width="1.3"/>
<line x1="749" y1="1339.9" x2="749" y2="1384" stroke="#000" stroke-width="2.0"/>
<line x1="868" y1="1344.2" x2="868" y2="1376" stroke="#000" stroke-width="1.8"/>
<line x1="946.8" y1="1342.1" x2="946.8" y2="1374" stroke="#000" stroke-width="1.8"/>
<line x1="1118" y1="1338.7" x2="1118" y2="1406.6" stroke="#000" stroke-width="1.5"/>
<line x1="1183.5" y1="1380.7" x2="1183.5" y2="1410" stroke="#000" stroke-width="2.2"/>
<line x1="1211.3" y1="1334.2" x2="1211.3" y2="1364.7" stroke="#000" stroke-width="1.3"/>
<line x1="1276.8" y1="1334.2" x2="1276.8" y2="1384.5" stroke="#000" stroke-width="1.5"/>
<line x1="1312.5" y1="1334.2" x2="1312.5" y2="1357" stroke="#000" stroke-width="1.5"/>
<line x1="1157.5" y1="1357.5" x2="1157.5" y2="1383" stroke="#000" stroke-width="1.3"/>
<line x1="1146" y1="1350.1" x2="1146" y2="1375" stroke="#000" stroke-width="1.3"/>
<line x1="158.7" y1="1333.2" x2="1313.2" y2="1333.2" stroke="#000" stroke-width="1.6"/>
<rect x="158.70" y="1658.3" width="6.16" height="55.3" fill="#BEBEBE"/>
<rect x="164.71" y="1658.3" width="2.05" height="55.3" fill="#9370DB"/>
<rect x="166.61" y="1658.3" width="2.74" height="55.3" fill="#C8B8E0"/>
<rect x="169.20" y="1658.3" width="0.86" height="55.3" fill="#DA70D6"/>
<rect x="169.91" y="1658.3" width="1.61" height="55.3" fill="#C8B8E0"/>
<rect x="171.37" y="1658.3" width="1.59" height="55.3" fill="#9370DB"/>
<rect x="172.81" y="1658.3" width="2.28" height="55.3" fill="#BEBEBE"/>
<rect x="174.94" y="1658.3" width="2.31" height="55.3" fill="#B0C4DE"/>
<rect x="177.10" y="1658.3" width="3.23" height="55.3" fill="#C8B8E0"/>
<rect x="180.18" y="1658.3" width="1.23" height="55.3" fill="#BEBEBE"/>
<rect x="181.26" y="1658.3" width="1.23" height="55.3" fill="#708090"/>
<rect x="182.34" y="1658.3" width="2.31" height="55.3" fill="#7B68EE"/>
<rect x="184.50" y="1658.3" width="0.66" height="55.3" fill="#6A5ACD"/>
<rect x="185.01" y="1658.3" width="2.13" height="55.3" fill="#C8D0A8"/>
<rect x="186.99" y="1658.3" width="0.95" height="55.3" fill="#BEBEBE"/>
<rect x="187.79" y="1658.3" width="1.35" height="55.3" fill="#8080E0"/>
<rect x="188.99" y="1658.3" width="1.63" height="55.3" fill="#7B68EE"/>
<rect x="190.48" y="1658.3" width="1.05" height="55.3" fill="#4682B4"/>
<rect x="191.37" y="1658.3" width="1.86" height="55.3" fill="#F0E68C"/>
<rect x="193.08" y="1658.3" width="2.02" height="55.3" fill="#DDA0DD"/>
<rect x="194.95" y="1658.3" width="2.13" height="55.3" fill="#C8B8E0"/>
<rect x="196.94" y="1658.3" width="2.01" height="55.3" fill="#4682B4"/>
<rect x="198.80" y="1658.3" width="0.97" height="55.3" fill="#2E8B8B"/>
<rect x="199.61" y="1658.3" width="1.53" height="55.3" fill="#6A5ACD"/>
<rect x="201.00" y="1658.3" width="0.72" height="55.3" fill="#C8B8E0"/>
<rect x="201.57" y="1658.3" width="2.32" height="55.3" fill="#F0E68C"/>
<rect x="203.74" y="1658.3" width="0.91" height="55.3" fill="#DDA0DD"/>
<rect x="204.49" y="1658.3" width="1.57" height="55.3" fill="#C8B8E0"/>
<rect x="205.91" y="1658.3" width="2.91" height="55.3" fill="#BEBEBE"/>
<rect x="208.67" y="1658.3" width="2.34" height="55.3" fill="#8080E0"/>
<rect x="210.86" y="1658.3" width="1.99" height="55.3" fill="#C8D0A8"/>
<rect x="212.70" y="1658.3" width="1.28" height="55.3" fill="#7B68EE"/>
<rect x="213.83" y="1658.3" width="1.94" height="55.3" fill="#E0A0C8"/>
<rect x="215.62" y="1658.3" width="1.81" height="55.3" fill="#2E8B8B"/>
<rect x="217.28" y="1658.3" width="1.37" height="55.3" fill="#6A5ACD"/>
<rect x="218.50" y="1658.3" width="0.99" height="55.3" fill="#C8D0A8"/>
<rect x="219.34" y="1658.3" width="1.84" height="55.3" fill="#4682B4"/>
<rect x="221.03" y="1658.3" width="0.79" height="55.3" fill="#C8B8E0"/>
<rect x="221.66" y="1658.3" width="2.29" height="55.3" fill="#DDA0DD"/>
<rect x="223.81" y="1658.3" width="0.93" height="55.3" fill="#9370DB"/>
<rect x="224.58" y="1658.3" width="0.45" height="55.3" fill="#4682B4"/>
<rect x="224.70" y="1658.3" width="1.95" height="55.3" fill="#8B6A8B"/>
<rect x="226.50" y="1658.3" width="6.25" height="55.3" fill="#5A0A6A"/>
<rect x="232.60" y="1658.3" width="0.66" height="55.3" fill="#BEBEBE"/>
<rect x="233.11" y="1658.3" width="1.49" height="55.3" fill="#C8B8E0"/>
<rect x="234.45" y="1658.3" width="1.68" height="55.3" fill="#B0E0E6"/>
<rect x="235.98" y="1658.3" width="0.81" height="55.3" fill="#E0A0C8"/>
<rect x="236.64" y="1658.3" width="1.34" height="55.3" fill="#C8D0A8"/>
<rect x="237.84" y="1658.3" width="2.27" height="55.3" fill="#B0C4DE"/>
<rect x="239.96" y="1658.3" width="1.06" height="55.3" fill="#8080E0"/>
<rect x="240.87" y="1658.3" width="0.70" height="55.3" fill="#9370DB"/>
<rect x="241.42" y="1658.3" width="1.32" height="55.3" fill="#C8B8E0"/>
<rect x="242.59" y="1658.3" width="1.81" height="55.3" fill="#4682B4"/>
<rect x="244.25" y="1658.3" width="1.07" height="55.3" fill="#B0C4DE"/>
<rect x="245.17" y="1658.3" width="1.83" height="55.3" fill="#9370DB"/>
<rect x="246.84" y="1658.3" width="0.77" height="55.3" fill="#DA70D6"/>
<rect x="247.46" y="1658.3" width="0.98" height="55.3" fill="#2E8B8B"/>
<rect x="248.29" y="1658.3" width="0.99" height="55.3" fill="#C8B8E0"/>
<rect x="249.13" y="1658.3" width="2.17" height="55.3" fill="#9370DB"/>
<rect x="251.15" y="1658.3" width="1.15" height="55.3" fill="#4682B4"/>
<rect x="252.15" y="1658.3" width="1.83" height="55.3" fill="#7B68EE"/>
<rect x="253.83" y="1658.3" width="2.01" height="55.3" fill="#9370DB"/>
<rect x="255.69" y="1658.3" width="1.38" height="55.3" fill="#B0C4DE"/>
<rect x="256.91" y="1658.3" width="1.53" height="55.3" fill="#2E8B8B"/>
<rect x="258.29" y="1658.3" width="1.72" height="55.3" fill="#BEBEBE"/>
<rect x="259.86" y="1658.3" width="1.84" height="55.3" fill="#7B68EE"/>
<rect x="261.55" y="1658.3" width="1.82" height="55.3" fill="#B0C4DE"/>
<rect x="263.22" y="1658.3" width="1.41" height="55.3" fill="#9370DB"/>
<rect x="264.48" y="1658.3" width="1.90" height="55.3" fill="#E0A0C8"/>
<rect x="266.24" y="1658.3" width="1.10" height="55.3" fill="#BEBEBE"/>
<rect x="267.19" y="1658.3" width="1.24" height="55.3" fill="#8080E0"/>
<rect x="268.27" y="1658.3" width="1.80" height="55.3" fill="#2E8B8B"/>
<rect x="269.92" y="1658.3" width="0.45" height="55.3" fill="#BEBEBE"/>
<rect x="270.00" y="1658.3" width="3.05" height="55.3" fill="#D070C0"/>
<rect x="272.90" y="1658.3" width="1.31" height="55.3" fill="#C8B0E8"/>
<rect x="274.06" y="1658.3" width="2.03" height="55.3" fill="#BEBEBE"/>
<rect x="275.94" y="1658.3" width="0.79" height="55.3" fill="#90EE90"/>
<rect x="276.58" y="1658.3" width="3.00" height="55.3" fill="#9380D8"/>
<rect x="279.43" y="1658.3" width="2.20" height="55.3" fill="#D070C0"/>
<rect x="281.49" y="1658.3" width="1.46" height="55.3" fill="#9380D8"/>
<rect x="282.79" y="1658.3" width="0.87" height="55.3" fill="#E040E0"/>
<rect x="283.51" y="1658.3" width="2.15" height="55.3" fill="#F4C090"/>
<rect x="285.51" y="1658.3" width="1.26" height="55.3" fill="#9380D8"/>
<rect x="286.62" y="1658.3" width="0.84" height="55.3" fill="#708090"/>
<rect x="287.31" y="1658.3" width="1.04" height="55.3" fill="#E040E0"/>
<rect x="288.20" y="1658.3" width="1.33" height="55.3" fill="#F0E68C"/>
<rect x="289.38" y="1658.3" width="1.19" height="55.3" fill="#BEBEBE"/>
<rect x="290.42" y="1658.3" width="0.82" height="55.3" fill="#E040E0"/>
<rect x="291.10" y="1658.3" width="1.69" height="55.3" fill="#A06080"/>
<rect x="292.64" y="1658.3" width="1.43" height="55.3" fill="#E040E0"/>
<rect x="293.92" y="1658.3" width="2.13" height="55.3" fill="#708090"/>
<rect x="295.90" y="1658.3" width="1.66" height="55.3" fill="#D04060"/>
<rect x="297.41" y="1658.3" width="2.14" height="55.3" fill="#D070C0"/>
<rect x="299.39" y="1658.3" width="1.44" height="55.3" fill="#9380D8"/>
<rect x="300.68" y="1658.3" width="3.08" height="55.3" fill="#BEBEBE"/>
<rect x="303.61" y="1658.3" width="3.29" height="55.3" fill="#9380D8"/>
<rect x="306.76" y="1658.3" width="1.25" height="55.3" fill="#2E8B8B"/>
<rect x="307.85" y="1658.3" width="0.89" height="55.3" fill="#E040E0"/>
<rect x="308.59" y="1658.3" width="3.07" height="55.3" fill="#708090"/>
<rect x="311.51" y="1658.3" width="0.98" height="55.3" fill="#C8B0E8"/>
<rect x="312.34" y="1658.3" width="1.24" height="55.3" fill="#D070C0"/>
<rect x="313.42" y="1658.3" width="0.83" height="55.3" fill="#8B8B40"/>
<rect x="314.11" y="1658.3" width="0.76" height="55.3" fill="#D070C0"/>
<rect x="314.72" y="1658.3" width="1.07" height="55.3" fill="#ADD8E6"/>
<rect x="315.64" y="1658.3" width="0.96" height="55.3" fill="#D04060"/>
<rect x="316.45" y="1658.3" width="1.11" height="55.3" fill="#F0E68C"/>
<rect x="317.41" y="1658.3" width="2.53" height="55.3" fill="#C8B0E8"/>
<rect x="319.79" y="1658.3" width="2.36" height="55.3" fill="#E040E0"/>
<rect x="322.00" y="1658.3" width="2.42" height="55.3" fill="#A06080"/>
<rect x="324.27" y="1658.3" width="0.95" height="55.3" fill="#ADD8E6"/>
<rect x="325.07" y="1658.3" width="2.26" height="55.3" fill="#9380D8"/>
<rect x="327.19" y="1658.3" width="1.02" height="55.3" fill="#2E8B8B"/>
<rect x="328.06" y="1658.3" width="2.11" height="55.3" fill="#E040E0"/>
<rect x="330.02" y="1658.3" width="0.88" height="55.3" fill="#90EE90"/>
<rect x="330.75" y="1658.3" width="1.10" height="55.3" fill="#F0E68C"/>
<rect x="331.70" y="1658.3" width="1.08" height="55.3" fill="#4169E1"/>
<rect x="332.62" y="1658.3" width="3.53" height="55.3" fill="#A06080"/>
<rect x="336.00" y="1658.3" width="2.29" height="55.3" fill="#C8B0E8"/>
<rect x="338.14" y="1658.3" width="0.86" height="55.3" fill="#9380D8"/>
<rect x="338.85" y="1658.3" width="2.39" height="55.3" fill="#C8B0E8"/>
<rect x="341.09" y="1658.3" width="3.15" height="55.3" fill="#4169E1"/>
<rect x="344.09" y="1658.3" width="0.86" height="55.3" fill="#90EE90"/>
<rect x="344.80" y="1658.3" width="1.23" height="55.3" fill="#E040E0"/>
<rect x="345.87" y="1658.3" width="0.98" height="55.3" fill="#ADD8E6"/>
<rect x="346.70" y="1658.3" width="2.49" height="55.3" fill="#4169E1"/>
<rect x="349.04" y="1658.3" width="1.73" height="55.3" fill="#A06080"/>
<rect x="350.63" y="1658.3" width="2.17" height="55.3" fill="#D04060"/>
<rect x="352.64" y="1658.3" width="1.63" height="55.3" fill="#E08060"/>
<rect x="354.12" y="1658.3" width="0.70" height="55.3" fill="#C8B0E8"/>
<rect x="354.67" y="1658.3" width="2.36" height="55.3" fill="#E08060"/>
<rect x="356.88" y="1658.3" width="1.03" height="55.3" fill="#D04060"/>
<rect x="357.76" y="1658.3" width="0.45" height="55.3" fill="#4169E1"/>
<rect x="357.80" y="1658.3" width="19.15" height="55.3" fill="#ADFF2F"/>
<rect x="376.80" y="1658.3" width="1.27" height="55.3" fill="#D8BFD8"/>
<rect x="377.92" y="1658.3" width="5.80" height="55.3" fill="#8B008B"/>
<rect x="383.57" y="1658.3" width="1.88" height="55.3" fill="#A020F0"/>
<rect x="385.30" y="1658.3" width="33.55" height="55.3" fill="#000000"/>
<rect x="418.70" y="1658.3" width="2.63" height="55.3" fill="#A020F0"/>
<rect x="421.18" y="1658.3" width="1.06" height="55.3" fill="#BEBEBE"/>
<rect x="422.09" y="1658.3" width="4.83" height="55.3" fill="#A020F0"/>
<rect x="426.77" y="1658.3" width="2.30" height="55.3" fill="#9370DB"/>
<rect x="428.92" y="1658.3" width="7.56" height="55.3" fill="#BEBEBE"/>
<rect x="436.33" y="1658.3" width="3.08" height="55.3" fill="#9370DB"/>
<rect x="439.26" y="1658.3" width="2.95" height="55.3" fill="#A52A2A"/>
<rect x="442.06" y="1658.3" width="1.76" height="55.3" fill="#9370DB"/>
<rect x="443.68" y="1658.3" width="1.67" height="55.3" fill="#6B8E23"/>
<rect x="445.20" y="1658.3" width="21.55" height="55.3" fill="#FF00FF"/>
<rect x="466.60" y="1658.3" width="3.80" height="55.3" fill="#A020F0"/>
<rect x="470.25" y="1658.3" width="2.29" height="55.3" fill="#9370DB"/>
<rect x="472.39" y="1658.3" width="1.30" height="55.3" fill="#FA8072"/>
<rect x="473.55" y="1658.3" width="3.19" height="55.3" fill="#A020F0"/>
<rect x="476.58" y="1658.3" width="1.57" height="55.3" fill="#9370DB"/>
<rect x="478.00" y="1658.3" width="29.75" height="55.3" fill="#A020F0"/>
<rect x="507.60" y="1658.3" width="2.97" height="55.3" fill="#9370DB"/>
<rect x="510.42" y="1658.3" width="0.81" height="55.3" fill="#32CD32"/>
<rect x="511.09" y="1658.3" width="1.71" height="55.3" fill="#FA8072"/>
<rect x="512.65" y="1658.3" width="1.31" height="55.3" fill="#1E90FF"/>
<rect x="513.80" y="1658.3" width="0.97" height="55.3" fill="#FFA500"/>
<rect x="514.62" y="1658.3" width="1.35" height="55.3" fill="#A52A2A"/>
<rect x="515.82" y="1658.3" width="1.66" height="55.3" fill="#808080"/>
<rect x="517.33" y="1658.3" width="2.02" height="55.3" fill="#FFD700"/>
<rect x="519.20" y="1658.3" width="1.47" height="55.3" fill="#BEBEBE"/>
<rect x="520.52" y="1658.3" width="4.12" height="55.3" fill="#32CD32"/>
<rect x="524.50" y="1658.3" width="1.56" height="55.3" fill="#FA8072"/>
<rect x="525.91" y="1658.3" width="2.07" height="55.3" fill="#87CEEB"/>
<rect x="527.83" y="1658.3" width="2.16" height="55.3" fill="#9370DB"/>
<rect x="529.84" y="1658.3" width="0.91" height="55.3" fill="#FFD700"/>
<rect x="530.60" y="1658.3" width="0.82" height="55.3" fill="#A52A2A"/>
<rect x="531.27" y="1658.3" width="1.85" height="55.3" fill="#FFA500"/>
<rect x="532.97" y="1658.3" width="2.00" height="55.3" fill="#FFD700"/>
<rect x="534.82" y="1658.3" width="0.85" height="55.3" fill="#E8E070"/>
<rect x="535.52" y="1658.3" width="0.75" height="55.3" fill="#9370DB"/>
<rect x="536.12" y="1658.3" width="1.69" height="55.3" fill="#E8E070"/>
<rect x="537.66" y="1658.3" width="1.73" height="55.3" fill="#A020F0"/>
<rect x="539.25" y="1658.3" width="2.31" height="55.3" fill="#9370DB"/>
<rect x="541.41" y="1658.3" width="1.25" height="55.3" fill="#BEBEBE"/>
<rect x="542.51" y="1658.3" width="0.94" height="55.3" fill="#1E90FF"/>
<rect x="543.31" y="1658.3" width="1.78" height="55.3" fill="#32CD32"/>
<rect x="544.93" y="1658.3" width="0.91" height="55.3" fill="#A52A2A"/>
<rect x="545.69" y="1658.3" width="1.83" height="55.3" fill="#FA8072"/>
<rect x="547.37" y="1658.3" width="0.98" height="55.3" fill="#FFD700"/>
<rect x="548.19" y="1658.3" width="1.18" height="55.3" fill="#FF69B4"/>
<rect x="549.22" y="1658.3" width="2.23" height="55.3" fill="#BEBEBE"/>
<rect x="551.30" y="1658.3" width="2.25" height="55.3" fill="#808080"/>
<rect x="553.40" y="1658.3" width="2.02" height="55.3" fill="#32CD32"/>
<rect x="555.27" y="1658.3" width="2.30" height="55.3" fill="#90EE90"/>
<rect x="557.42" y="1658.3" width="0.97" height="55.3" fill="#BEBEBE"/>
<rect x="558.24" y="1658.3" width="1.35" height="55.3" fill="#87CEEB"/>
<rect x="559.45" y="1658.3" width="0.79" height="55.3" fill="#A020F0"/>
<rect x="560.09" y="1658.3" width="1.83" height="55.3" fill="#DA70D6"/>
<rect x="561.76" y="1658.3" width="1.54" height="55.3" fill="#BEBEBE"/>
<rect x="563.15" y="1658.3" width="1.95" height="55.3" fill="#FFA500"/>
<rect x="564.95" y="1658.3" width="0.79" height="55.3" fill="#90EE90"/>
<rect x="565.58" y="1658.3" width="1.32" height="55.3" fill="#A020F0"/>
<rect x="566.75" y="1658.3" width="1.30" height="55.3" fill="#32CD32"/>
<rect x="567.90" y="1658.3" width="1.06" height="55.3" fill="#9370DB"/>
<rect x="568.81" y="1658.3" width="0.86" height="55.3" fill="#FFD700"/>
<rect x="569.52" y="1658.3" width="1.51" height="55.3" fill="#DA70D6"/>
<rect x="570.88" y="1658.3" width="4.27" height="55.3" fill="#FFD700"/>
<rect x="575.00" y="1658.3" width="2.12" height="55.3" fill="#DC143C"/>
<rect x="576.97" y="1658.3" width="1.95" height="55.3" fill="#8B0000"/>
<rect x="578.77" y="1658.3" width="1.26" height="55.3" fill="#BEBEBE"/>
<rect x="579.88" y="1658.3" width="1.79" height="55.3" fill="#A52A2A"/>
<rect x="581.51" y="1658.3" width="1.55" height="55.3" fill="#B22222"/>
<rect x="582.92" y="1658.3" width="0.95" height="55.3" fill="#8B0000"/>
<rect x="583.72" y="1658.3" width="2.03" height="55.3" fill="#FF0000"/>
<rect x="585.60" y="1658.3" width="2.36" height="55.3" fill="#B22222"/>
<rect x="587.80" y="1658.3" width="2.07" height="55.3" fill="#DC143C"/>
<rect x="589.73" y="1658.3" width="2.34" height="55.3" fill="#A52A2A"/>
<rect x="591.92" y="1658.3" width="2.66" height="55.3" fill="#BEBEBE"/>
<rect x="594.43" y="1658.3" width="2.76" height="55.3" fill="#FF0000"/>
<rect x="597.05" y="1658.3" width="1.79" height="55.3" fill="#9370DB"/>
<rect x="598.69" y="1658.3" width="2.23" height="55.3" fill="#DC143C"/>
<rect x="600.77" y="1658.3" width="1.60" height="55.3" fill="#B22222"/>
<rect x="602.23" y="1658.3" width="2.36" height="55.3" fill="#FFC0CB"/>
<rect x="604.44" y="1658.3" width="4.26" height="55.3" fill="#DC143C"/>
<rect x="608.54" y="1658.3" width="1.28" height="55.3" fill="#A52A2A"/>
<rect x="609.67" y="1658.3" width="1.37" height="55.3" fill="#B22222"/>
<rect x="610.89" y="1658.3" width="2.55" height="55.3" fill="#BEBEBE"/>
<rect x="613.29" y="1658.3" width="1.98" height="55.3" fill="#A52A2A"/>
<rect x="615.11" y="1658.3" width="1.72" height="55.3" fill="#FF0000"/>
<rect x="616.69" y="1658.3" width="1.70" height="55.3" fill="#DC143C"/>
<rect x="618.23" y="1658.3" width="1.45" height="55.3" fill="#A52A2A"/>
<rect x="619.54" y="1658.3" width="3.50" height="55.3" fill="#8B0000"/>
<rect x="622.89" y="1658.3" width="2.34" height="55.3" fill="#9370DB"/>
<rect x="625.08" y="1658.3" width="2.36" height="55.3" fill="#B22222"/>
<rect x="627.29" y="1658.3" width="1.01" height="55.3" fill="#DC143C"/>
<rect x="628.15" y="1658.3" width="2.41" height="55.3" fill="#FF0000"/>
<rect x="630.41" y="1658.3" width="0.78" height="55.3" fill="#8B0000"/>
<rect x="631.03" y="1658.3" width="4.83" height="55.3" fill="#B22222"/>
<rect x="635.71" y="1658.3" width="2.43" height="55.3" fill="#FF0000"/>
<rect x="638.00" y="1658.3" width="0.65" height="55.3" fill="#B22222"/>
<rect x="638.50" y="1658.3" width="14.15" height="55.3" fill="#D2B48C"/>
<rect x="652.50" y="1658.3" width="109.95" height="55.3" fill="#0000FF"/>
<rect x="762.30" y="1658.3" width="7.61" height="55.3" fill="#6B8E23"/>
<rect x="769.76" y="1658.3" width="1.54" height="55.3" fill="#00FF00"/>
<rect x="771.15" y="1658.3" width="4.19" height="55.3" fill="#A52A2A"/>
<rect x="775.19" y="1658.3" width="1.74" height="55.3" fill="#6B8E23"/>
<rect x="776.78" y="1658.3" width="10.77" height="55.3" fill="#00FF00"/>
<rect x="787.40" y="1658.3" width="83.25" height="55.3" fill="#FFFF00"/>
<rect x="870.50" y="1658.3" width="4.86" height="55.3" fill="#A52A2A"/>
<rect x="875.21" y="1658.3" width="2.09" height="55.3" fill="#CD5C00"/>
<rect x="877.15" y="1658.3" width="1.98" height="55.3" fill="#A52A2A"/>
<rect x="878.99" y="1658.3" width="1.67" height="55.3" fill="#808000"/>
<rect x="880.50" y="1658.3" width="1.20" height="55.3" fill="#A52A2A"/>
<rect x="881.55" y="1658.3" width="0.78" height="55.3" fill="#CD5C00"/>
<rect x="882.18" y="1658.3" width="4.87" height="55.3" fill="#A52A2A"/>
<rect x="886.91" y="1658.3" width="1.64" height="55.3" fill="#FF0000"/>
<rect x="888.40" y="1658.3" width="3.87" height="55.3" fill="#A52A2A"/>
<rect x="892.12" y="1658.3" width="1.18" height="55.3" fill="#FF0000"/>
<rect x="893.16" y="1658.3" width="2.53" height="55.3" fill="#A52A2A"/>
<rect x="895.54" y="1658.3" width="3.12" height="55.3" fill="#FF0000"/>
<rect x="898.51" y="1658.3" width="10.50" height="55.3" fill="#A52A2A"/>
<rect x="908.86" y="1658.3" width="2.39" height="55.3" fill="#FF0000"/>
<rect x="911.09" y="1658.3" width="4.18" height="55.3" fill="#A52A2A"/>
<rect x="915.12" y="1658.3" width="3.86" height="55.3" fill="#FF0000"/>
<rect x="918.83" y="1658.3" width="1.52" height="55.3" fill="#A52A2A"/>
<rect x="920.20" y="1658.3" width="41.95" height="55.3" fill="#00FF00"/>
<rect x="962.00" y="1658.3" width="6.15" height="55.3" fill="#A52A2A"/>
<rect x="968.00" y="1658.3" width="10.15" height="55.3" fill="#FF0000"/>
<rect x="978.00" y="1658.3" width="7.15" height="55.3" fill="#A52A2A"/>
<rect x="985.00" y="1658.3" width="16.15" height="55.3" fill="#FF0000"/>
<rect x="1001.00" y="1658.3" width="34.35" height="55.3" fill="#A52A2A"/>
<rect x="1035.20" y="1658.3" width="151.25" height="55.3" fill="#40E0D0"/>
<rect x="1186.30" y="1658.3" width="44.65" height="55.3" fill="#FFC0CB"/>
<rect x="1230.80" y="1658.3" width="5.35" height="55.3" fill="#9060C0"/>
<rect x="1236.00" y="1658.3" width="6.15" height="55.3" fill="#C040E0"/>
<rect x="1242.00" y="1658.3" width="8.15" height="55.3" fill="#FF00FF"/>
<rect x="1250.00" y="1658.3" width="3.15" height="55.3" fill="#BEBEBE"/>
<rect x="1253.00" y="1658.3" width="5.15" height="55.3" fill="#2020F0"/>
<rect x="1258.00" y="1658.3" width="4.15" height="55.3" fill="#B0A0E0"/>
<rect x="1262.00" y="1658.3" width="2.15" height="55.3" fill="#7A8A30"/>
<rect x="1264.00" y="1658.3" width="4.15" height="55.3" fill="#00EE00"/>
<rect x="1268.00" y="1658.3" width="2.15" height="55.3" fill="#B8B0D0"/>
<rect x="1270.00" y="1658.3" width="5.15" height="55.3" fill="#00EE00"/>
<rect x="1275.00" y="1658.3" width="2.15" height="55.3" fill="#BEBEBE"/>
<rect x="1277.00" y="1658.3" width="8.15" height="55.3" fill="#10E010"/>
<rect x="1285.00" y="1658.3" width="5.15" height="55.3" fill="#B8B0D0"/>
<rect x="1290.00" y="1658.3" width="3.15" height="55.3" fill="#1010F0"/>
<rect x="1293.00" y="1658.3" width="4.15" height="55.3" fill="#BEBEBE"/>
<rect x="1297.00" y="1658.3" width="3.15" height="55.3" fill="#B0A0E0"/>
<rect x="1300.00" y="1658.3" width="3.15" height="55.3" fill="#1010F0"/>
<rect x="1303.00" y="1658.3" width="3.15" height="55.3" fill="#BEBEBE"/>
<rect x="1306.00" y="1658.3" width="7.35" height="55.3" fill="#1818F0"/>
<rect x="158.70" y="1713.6" width="6.16" height="55.3" fill="#BEBEBE"/>
<rect x="164.71" y="1713.6" width="2.05" height="55.3" fill="#9370DB"/>
<rect x="166.61" y="1713.6" width="2.74" height="55.3" fill="#C8B8E0"/>
<rect x="169.20" y="1713.6" width="0.86" height="55.3" fill="#DA70D6"/>
<rect x="169.91" y="1713.6" width="1.61" height="55.3" fill="#C8B8E0"/>
<rect x="171.37" y="1713.6" width="1.59" height="55.3" fill="#9370DB"/>
<rect x="172.81" y="1713.6" width="2.28" height="55.3" fill="#BEBEBE"/>
<rect x="174.94" y="1713.6" width="2.31" height="55.3" fill="#B0C4DE"/>
<rect x="177.10" y="1713.6" width="3.23" height="55.3" fill="#C8B8E0"/>
<rect x="180.18" y="1713.6" width="1.23" height="55.3" fill="#BEBEBE"/>
<rect x="181.26" y="1713.6" width="1.23" height="55.3" fill="#708090"/>
<rect x="182.34" y="1713.6" width="2.31" height="55.3" fill="#7B68EE"/>
<rect x="184.50" y="1713.6" width="0.66" height="55.3" fill="#6A5ACD"/>
<rect x="185.01" y="1713.6" width="2.13" height="55.3" fill="#C8D0A8"/>
<rect x="186.99" y="1713.6" width="0.95" height="55.3" fill="#BEBEBE"/>
<rect x="187.79" y="1713.6" width="1.35" height="55.3" fill="#8080E0"/>
<rect x="188.99" y="1713.6" width="1.63" height="55.3" fill="#7B68EE"/>
<rect x="190.48" y="1713.6" width="1.05" height="55.3" fill="#4682B4"/>
<rect x="191.37" y="1713.6" width="1.86" height="55.3" fill="#F0E68C"/>
<rect x="193.08" y="1713.6" width="2.02" height="55.3" fill="#DDA0DD"/>
<rect x="194.95" y="1713.6" width="2.13" height="55.3" fill="#C8B8E0"/>
<rect x="196.94" y="1713.6" width="2.01" height="55.3" fill="#4682B4"/>
<rect x="198.80" y="1713.6" width="0.97" height="55.3" fill="#2E8B8B"/>
<rect x="199.61" y="1713.6" width="1.53" height="55.3" fill="#6A5ACD"/>
<rect x="201.00" y="1713.6" width="0.72" height="55.3" fill="#C8B8E0"/>
<rect x="201.57" y="1713.6" width="2.32" height="55.3" fill="#F0E68C"/>
<rect x="203.74" y="1713.6" width="0.91" height="55.3" fill="#DDA0DD"/>
<rect x="204.49" y="1713.6" width="1.57" height="55.3" fill="#C8B8E0"/>
<rect x="205.91" y="1713.6" width="2.91" height="55.3" fill="#BEBEBE"/>
<rect x="208.67" y="1713.6" width="2.34" height="55.3" fill="#8080E0"/>
<rect x="210.86" y="1713.6" width="1.99" height="55.3" fill="#C8D0A8"/>
<rect x="212.70" y="1713.6" width="1.28" height="55.3" fill="#7B68EE"/>
<rect x="213.83" y="1713.6" width="1.94" height="55.3" fill="#E0A0C8"/>
<rect x="215.62" y="1713.6" width="1.81" height="55.3" fill="#2E8B8B"/>
<rect x="217.28" y="1713.6" width="1.37" height="55.3" fill="#6A5ACD"/>
<rect x="218.50" y="1713.6" width="0.99" height="55.3" fill="#C8D0A8"/>
<rect x="219.34" y="1713.6" width="1.84" height="55.3" fill="#4682B4"/>
<rect x="221.03" y="1713.6" width="0.79" height="55.3" fill="#C8B8E0"/>
<rect x="221.66" y="1713.6" width="2.29" height="55.3" fill="#DDA0DD"/>
<rect x="223.81" y="1713.6" width="0.93" height="55.3" fill="#9370DB"/>
<rect x="224.58" y="1713.6" width="0.45" height="55.3" fill="#4682B4"/>
<rect x="224.70" y="1713.6" width="1.95" height="55.3" fill="#8B6A8B"/>
<rect x="226.50" y="1713.6" width="6.25" height="55.3" fill="#5A0A6A"/>
<rect x="232.60" y="1713.6" width="0.66" height="55.3" fill="#BEBEBE"/>
<rect x="233.11" y="1713.6" width="1.49" height="55.3" fill="#C8B8E0"/>
<rect x="234.45" y="1713.6" width="1.68" height="55.3" fill="#B0E0E6"/>
<rect x="235.98" y="1713.6" width="0.81" height="55.3" fill="#E0A0C8"/>
<rect x="236.64" y="1713.6" width="1.34" height="55.3" fill="#C8D0A8"/>
<rect x="237.84" y="1713.6" width="2.27" height="55.3" fill="#B0C4DE"/>
<rect x="239.96" y="1713.6" width="1.06" height="55.3" fill="#8080E0"/>
<rect x="240.87" y="1713.6" width="0.70" height="55.3" fill="#9370DB"/>
<rect x="241.42" y="1713.6" width="1.32" height="55.3" fill="#C8B8E0"/>
<rect x="242.59" y="1713.6" width="1.81" height="55.3" fill="#4682B4"/>
<rect x="244.25" y="1713.6" width="1.07" height="55.3" fill="#B0C4DE"/>
<rect x="245.17" y="1713.6" width="1.83" height="55.3" fill="#9370DB"/>
<rect x="246.84" y="1713.6" width="0.77" height="55.3" fill="#DA70D6"/>
<rect x="247.46" y="1713.6" width="0.98" height="55.3" fill="#2E8B8B"/>
<rect x="248.29" y="1713.6" width="0.99" height="55.3" fill="#C8B8E0"/>
<rect x="249.13" y="1713.6" width="2.17" height="55.3" fill="#9370DB"/>
<rect x="251.15" y="1713.6" width="1.15" height="55.3" fill="#4682B4"/>
<rect x="252.15" y="1713.6" width="1.83" height="55.3" fill="#7B68EE"/>
<rect x="253.83" y="1713.6" width="2.01" height="55.3" fill="#9370DB"/>
<rect x="255.69" y="1713.6" width="1.38" height="55.3" fill="#B0C4DE"/>
<rect x="256.91" y="1713.6" width="1.53" height="55.3" fill="#2E8B8B"/>
<rect x="258.29" y="1713.6" width="1.72" height="55.3" fill="#BEBEBE"/>
<rect x="259.86" y="1713.6" width="1.84" height="55.3" fill="#7B68EE"/>
<rect x="261.55" y="1713.6" width="1.82" height="55.3" fill="#B0C4DE"/>
<rect x="263.22" y="1713.6" width="1.41" height="55.3" fill="#9370DB"/>
<rect x="264.48" y="1713.6" width="1.90" height="55.3" fill="#E0A0C8"/>
<rect x="266.24" y="1713.6" width="1.10" height="55.3" fill="#BEBEBE"/>
<rect x="267.19" y="1713.6" width="1.24" height="55.3" fill="#8080E0"/>
<rect x="268.27" y="1713.6" width="1.80" height="55.3" fill="#2E8B8B"/>
<rect x="269.92" y="1713.6" width="0.45" height="55.3" fill="#BEBEBE"/>
<rect x="270.00" y="1713.6" width="3.05" height="55.3" fill="#D070C0"/>
<rect x="272.90" y="1713.6" width="1.31" height="55.3" fill="#C8B0E8"/>
<rect x="274.06" y="1713.6" width="2.03" height="55.3" fill="#BEBEBE"/>
<rect x="275.94" y="1713.6" width="0.79" height="55.3" fill="#90EE90"/>
<rect x="276.58" y="1713.6" width="3.00" height="55.3" fill="#9380D8"/>
<rect x="279.43" y="1713.6" width="2.20" height="55.3" fill="#D070C0"/>
<rect x="281.49" y="1713.6" width="1.46" height="55.3" fill="#9380D8"/>
<rect x="282.79" y="1713.6" width="0.87" height="55.3" fill="#E040E0"/>
<rect x="283.51" y="1713.6" width="2.15" height="55.3" fill="#F4C090"/>
<rect x="285.51" y="1713.6" width="1.26" height="55.3" fill="#9380D8"/>
<rect x="286.62" y="1713.6" width="0.84" height="55.3" fill="#708090"/>
<rect x="287.31" y="1713.6" width="1.04" height="55.3" fill="#E040E0"/>
<rect x="288.20" y="1713.6" width="1.33" height="55.3" fill="#F0E68C"/>
<rect x="289.38" y="1713.6" width="1.19" height="55.3" fill="#BEBEBE"/>
<rect x="290.42" y="1713.6" width="0.82" height="55.3" fill="#E040E0"/>
<rect x="291.10" y="1713.6" width="1.69" height="55.3" fill="#A06080"/>
<rect x="292.64" y="1713.6" width="1.43" height="55.3" fill="#E040E0"/>
<rect x="293.92" y="1713.6" width="2.13" height="55.3" fill="#708090"/>
<rect x="295.90" y="1713.6" width="1.66" height="55.3" fill="#D04060"/>
<rect x="297.41" y="1713.6" width="2.14" height="55.3" fill="#D070C0"/>
<rect x="299.39" y="1713.6" width="1.44" height="55.3" fill="#9380D8"/>
<rect x="300.68" y="1713.6" width="3.08" height="55.3" fill="#BEBEBE"/>
<rect x="303.61" y="1713.6" width="3.29" height="55.3" fill="#9380D8"/>
<rect x="306.76" y="1713.6" width="1.25" height="55.3" fill="#2E8B8B"/>
<rect x="307.85" y="1713.6" width="0.89" height="55.3" fill="#E040E0"/>
<rect x="308.59" y="1713.6" width="3.07" height="55.3" fill="#708090"/>
<rect x="311.51" y="1713.6" width="0.98" height="55.3" fill="#C8B0E8"/>
<rect x="312.34" y="1713.6" width="1.24" height="55.3" fill="#D070C0"/>
<rect x="313.42" y="1713.6" width="0.83" height="55.3" fill="#8B8B40"/>
<rect x="314.11" y="1713.6" width="0.76" height="55.3" fill="#D070C0"/>
<rect x="314.72" y="1713.6" width="1.07" height="55.3" fill="#ADD8E6"/>
<rect x="315.64" y="1713.6" width="0.96" height="55.3" fill="#D04060"/>
<rect x="316.45" y="1713.6" width="1.11" height="55.3" fill="#F0E68C"/>
<rect x="317.41" y="1713.6" width="2.53" height="55.3" fill="#C8B0E8"/>
<rect x="319.79" y="1713.6" width="2.36" height="55.3" fill="#E040E0"/>
<rect x="322.00" y="1713.6" width="2.42" height="55.3" fill="#A06080"/>
<rect x="324.27" y="1713.6" width="0.95" height="55.3" fill="#ADD8E6"/>
<rect x="325.07" y="1713.6" width="2.26" height="55.3" fill="#9380D8"/>
<rect x="327.19" y="1713.6" width="1.02" height="55.3" fill="#2E8B8B"/>
<rect x="328.06" y="1713.6" width="2.11" height="55.3" fill="#E040E0"/>
<rect x="330.02" y="1713.6" width="0.88" height="55.3" fill="#90EE90"/>
<rect x="330.75" y="1713.6" width="1.10" height="55.3" fill="#F0E68C"/>
<rect x="331.70" y="1713.6" width="1.08" height="55.3" fill="#4169E1"/>
<rect x="332.62" y="1713.6" width="3.53" height="55.3" fill="#A06080"/>
<rect x="336.00" y="1713.6" width="2.29" height="55.3" fill="#C8B0E8"/>
<rect x="338.14" y="1713.6" width="0.86" height="55.3" fill="#9380D8"/>
<rect x="338.85" y="1713.6" width="2.39" height="55.3" fill="#C8B0E8"/>
<rect x="341.09" y="1713.6" width="3.15" height="55.3" fill="#4169E1"/>
<rect x="344.09" y="1713.6" width="0.86" height="55.3" fill="#90EE90"/>
<rect x="344.80" y="1713.6" width="1.23" height="55.3" fill="#E040E0"/>
<rect x="345.87" y="1713.6" width="0.98" height="55.3" fill="#ADD8E6"/>
<rect x="346.70" y="1713.6" width="2.49" height="55.3" fill="#4169E1"/>
<rect x="349.04" y="1713.6" width="1.73" height="55.3" fill="#A06080"/>
<rect x="350.63" y="1713.6" width="2.17" height="55.3" fill="#D04060"/>
<rect x="352.64" y="1713.6" width="1.63" height="55.3" fill="#E08060"/>
<rect x="354.12" y="1713.6" width="0.70" height="55.3" fill="#C8B0E8"/>
<rect x="354.67" y="1713.6" width="2.36" height="55.3" fill="#E08060"/>
<rect x="356.88" y="1713.6" width="1.03" height="55.3" fill="#D04060"/>
<rect x="357.76" y="1713.6" width="0.45" height="55.3" fill="#4169E1"/>
<rect x="357.80" y="1713.6" width="19.15" height="55.3" fill="#ADFF2F"/>
<rect x="376.80" y="1713.6" width="1.27" height="55.3" fill="#D8BFD8"/>
<rect x="377.92" y="1713.6" width="5.80" height="55.3" fill="#8B008B"/>
<rect x="383.57" y="1713.6" width="1.88" height="55.3" fill="#A020F0"/>
<rect x="385.30" y="1713.6" width="33.55" height="55.3" fill="#000000"/>
<rect x="418.70" y="1713.6" width="2.63" height="55.3" fill="#A020F0"/>
<rect x="421.18" y="1713.6" width="1.06" height="55.3" fill="#BEBEBE"/>
<rect x="422.09" y="1713.6" width="4.83" height="55.3" fill="#A020F0"/>
<rect x="426.77" y="1713.6" width="2.30" height="55.3" fill="#9370DB"/>
<rect x="428.92" y="1713.6" width="7.56" height="55.3" fill="#BEBEBE"/>
<rect x="436.33" y="1713.6" width="3.08" height="55.3" fill="#9370DB"/>
<rect x="439.26" y="1713.6" width="2.95" height="55.3" fill="#A52A2A"/>
<rect x="442.06" y="1713.6" width="1.76" height="55.3" fill="#9370DB"/>
<rect x="443.68" y="1713.6" width="1.67" height="55.3" fill="#6B8E23"/>
<rect x="445.20" y="1713.6" width="21.55" height="55.3" fill="#FF00FF"/>
<rect x="466.60" y="1713.6" width="3.80" height="55.3" fill="#A020F0"/>
<rect x="470.25" y="1713.6" width="2.29" height="55.3" fill="#9370DB"/>
<rect x="472.39" y="1713.6" width="1.30" height="55.3" fill="#FA8072"/>
<rect x="473.55" y="1713.6" width="3.19" height="55.3" fill="#A020F0"/>
<rect x="476.58" y="1713.6" width="1.57" height="55.3" fill="#9370DB"/>
<rect x="478.00" y="1713.6" width="29.75" height="55.3" fill="#A020F0"/>
<rect x="507.60" y="1713.6" width="2.97" height="55.3" fill="#9370DB"/>
<rect x="510.42" y="1713.6" width="0.81" height="55.3" fill="#32CD32"/>
<rect x="511.09" y="1713.6" width="1.71" height="55.3" fill="#FA8072"/>
<rect x="512.65" y="1713.6" width="1.31" height="55.3" fill="#1E90FF"/>
<rect x="513.80" y="1713.6" width="0.97" height="55.3" fill="#FFA500"/>
<rect x="514.62" y="1713.6" width="1.35" height="55.3" fill="#A52A2A"/>
<rect x="515.82" y="1713.6" width="1.66" height="55.3" fill="#808080"/>
<rect x="517.33" y="1713.6" width="2.02" height="55.3" fill="#FFD700"/>
<rect x="519.20" y="1713.6" width="1.47" height="55.3" fill="#BEBEBE"/>
<rect x="520.52" y="1713.6" width="4.12" height="55.3" fill="#32CD32"/>
<rect x="524.50" y="1713.6" width="1.56" height="55.3" fill="#FA8072"/>
<rect x="525.91" y="1713.6" width="2.07" height="55.3" fill="#87CEEB"/>
<rect x="527.83" y="1713.6" width="2.16" height="55.3" fill="#9370DB"/>
<rect x="529.84" y="1713.6" width="0.91" height="55.3" fill="#FFD700"/>
<rect x="530.60" y="1713.6" width="0.82" height="55.3" fill="#A52A2A"/>
<rect x="531.27" y="1713.6" width="1.85" height="55.3" fill="#FFA500"/>
<rect x="532.97" y="1713.6" width="2.00" height="55.3" fill="#FFD700"/>
<rect x="534.82" y="1713.6" width="0.85" height="55.3" fill="#E8E070"/>
<rect x="535.52" y="1713.6" width="0.75" height="55.3" fill="#9370DB"/>
<rect x="536.12" y="1713.6" width="1.69" height="55.3" fill="#E8E070"/>
<rect x="537.66" y="1713.6" width="1.73" height="55.3" fill="#A020F0"/>
<rect x="539.25" y="1713.6" width="2.31" height="55.3" fill="#9370DB"/>
<rect x="541.41" y="1713.6" width="1.25" height="55.3" fill="#BEBEBE"/>
<rect x="542.51" y="1713.6" width="0.94" height="55.3" fill="#1E90FF"/>
<rect x="543.31" y="1713.6" width="1.78" height="55.3" fill="#32CD32"/>
<rect x="544.93" y="1713.6" width="0.91" height="55.3" fill="#A52A2A"/>
<rect x="545.69" y="1713.6" width="1.83" height="55.3" fill="#FA8072"/>
<rect x="547.37" y="1713.6" width="0.98" height="55.3" fill="#FFD700"/>
<rect x="548.19" y="1713.6" width="1.18" height="55.3" fill="#FF69B4"/>
<rect x="549.22" y="1713.6" width="2.23" height="55.3" fill="#BEBEBE"/>
<rect x="551.30" y="1713.6" width="2.25" height="55.3" fill="#808080"/>
<rect x="553.40" y="1713.6" width="2.02" height="55.3" fill="#32CD32"/>
<rect x="555.27" y="1713.6" width="2.30" height="55.3" fill="#90EE90"/>
<rect x="557.42" y="1713.6" width="0.97" height="55.3" fill="#BEBEBE"/>
<rect x="558.24" y="1713.6" width="1.35" height="55.3" fill="#87CEEB"/>
<rect x="559.45" y="1713.6" width="0.79" height="55.3" fill="#A020F0"/>
<rect x="560.09" y="1713.6" width="1.83" height="55.3" fill="#DA70D6"/>
<rect x="561.76" y="1713.6" width="1.54" height="55.3" fill="#BEBEBE"/>
<rect x="563.15" y="1713.6" width="1.95" height="55.3" fill="#FFA500"/>
<rect x="564.95" y="1713.6" width="0.79" height="55.3" fill="#90EE90"/>
<rect x="565.58" y="1713.6" width="1.32" height="55.3" fill="#A020F0"/>
<rect x="566.75" y="1713.6" width="1.30" height="55.3" fill="#32CD32"/>
<rect x="567.90" y="1713.6" width="1.06" height="55.3" fill="#9370DB"/>
<rect x="568.81" y="1713.6" width="0.86" height="55.3" fill="#FFD700"/>
<rect x="569.52" y="1713.6" width="1.51" height="55.3" fill="#DA70D6"/>
<rect x="570.88" y="1713.6" width="4.27" height="55.3" fill="#FFD700"/>
<rect x="575.00" y="1713.6" width="2.12" height="55.3" fill="#A52A2A"/>
<rect x="576.97" y="1713.6" width="1.95" height="55.3" fill="#8B0000"/>
<rect x="578.77" y="1713.6" width="1.26" height="55.3" fill="#BEBEBE"/>
<rect x="579.88" y="1713.6" width="1.79" height="55.3" fill="#A52A2A"/>
<rect x="581.51" y="1713.6" width="1.55" height="55.3" fill="#B22222"/>
<rect x="582.92" y="1713.6" width="0.95" height="55.3" fill="#8B0000"/>
<rect x="583.72" y="1713.6" width="2.03" height="55.3" fill="#A52A2A"/>
<rect x="585.60" y="1713.6" width="2.36" height="55.3" fill="#B22222"/>
<rect x="587.80" y="1713.6" width="2.07" height="55.3" fill="#DC143C"/>
<rect x="589.73" y="1713.6" width="2.34" height="55.3" fill="#A52A2A"/>
<rect x="591.92" y="1713.6" width="2.66" height="55.3" fill="#BEBEBE"/>
<rect x="594.43" y="1713.6" width="1.65" height="55.3" fill="#A52A2A"/>
<rect x="595.93" y="1713.6" width="1.27" height="55.3" fill="#FF0000"/>
<rect x="597.05" y="1713.6" width="1.79" height="55.3" fill="#9370DB"/>
<rect x="598.69" y="1713.6" width="2.23" height="55.3" fill="#DC143C"/>
<rect x="600.77" y="1713.6" width="1.60" height="55.3" fill="#B22222"/>
<rect x="602.23" y="1713.6" width="2.36" height="55.3" fill="#FFC0CB"/>
<rect x="604.44" y="1713.6" width="2.08" height="55.3" fill="#DC143C"/>
<rect x="606.36" y="1713.6" width="3.46" height="55.3" fill="#A52A2A"/>
<rect x="609.67" y="1713.6" width="1.37" height="55.3" fill="#B22222"/>
<rect x="610.89" y="1713.6" width="2.55" height="55.3" fill="#BEBEBE"/>
<rect x="613.29" y="1713.6" width="1.98" height="55.3" fill="#A52A2A"/>
<rect x="615.11" y="1713.6" width="1.72" height="55.3" fill="#FF0000"/>
<rect x="616.69" y="1713.6" width="3.00" height="55.3" fill="#A52A2A"/>
<rect x="619.54" y="1713.6" width="3.50" height="55.3" fill="#8B0000"/>
<rect x="622.89" y="1713.6" width="2.34" height="55.3" fill="#9370DB"/>
<rect x="625.08" y="1713.6" width="2.36" height="55.3" fill="#B22222"/>
<rect x="627.29" y="1713.6" width="1.01" height="55.3" fill="#A52A2A"/>
<rect x="628.15" y="1713.6" width="2.41" height="55.3" fill="#FF0000"/>
<rect x="630.41" y="1713.6" width="0.78" height="55.3" fill="#8B0000"/>
<rect x="631.03" y="1713.6" width="4.83" height="55.3" fill="#B22222"/>
<rect x="635.71" y="1713.6" width="2.43" height="55.3" fill="#A52A2A"/>
<rect x="638.00" y="1713.6" width="0.65" height="55.3" fill="#B22222"/>
<rect x="638.50" y="1713.6" width="14.15" height="55.3" fill="#D2B48C"/>
<rect x="652.50" y="1713.6" width="109.95" height="55.3" fill="#0000FF"/>
<rect x="762.30" y="1713.6" width="25.25" height="55.3" fill="#A52A2A"/>
<rect x="787.40" y="1713.6" width="83.25" height="55.3" fill="#FFFF00"/>
<rect x="870.50" y="1713.6" width="164.85" height="55.3" fill="#A52A2A"/>
<rect x="1035.20" y="1713.6" width="151.25" height="55.3" fill="#40E0D0"/>
<rect x="1186.30" y="1713.6" width="44.65" height="55.3" fill="#FFC0CB"/>
<rect x="1230.80" y="1713.6" width="5.35" height="55.3" fill="#9060C0"/>
<rect x="1236.00" y="1713.6" width="6.15" height="55.3" fill="#C040E0"/>
<rect x="1242.00" y="1713.6" width="8.15" height="55.3" fill="#FF00FF"/>
<rect x="1250.00" y="1713.6" width="3.15" height="55.3" fill="#BEBEBE"/>
<rect x="1253.00" y="1713.6" width="5.15" height="55.3" fill="#2020F0"/>
<rect x="1258.00" y="1713.6" width="4.15" height="55.3" fill="#B0A0E0"/>
<rect x="1262.00" y="1713.6" width="6.15" height="55.3" fill="#A52A2A"/>
<rect x="1268.00" y="1713.6" width="2.15" height="55.3" fill="#B8B0D0"/>
<rect x="1270.00" y="1713.6" width="5.15" height="55.3" fill="#A52A2A"/>
<rect x="1275.00" y="1713.6" width="2.15" height="55.3" fill="#BEBEBE"/>
<rect x="1277.00" y="1713.6" width="8.15" height="55.3" fill="#B02A30"/>
<rect x="1285.00" y="1713.6" width="5.15" height="55.3" fill="#B8B0D0"/>
<rect x="1290.00" y="1713.6" width="3.15" height="55.3" fill="#1010F0"/>
<rect x="1293.00" y="1713.6" width="4.15" height="55.3" fill="#BEBEBE"/>
<rect x="1297.00" y="1713.6" width="3.15" height="55.3" fill="#B0A0E0"/>
<rect x="1300.00" y="1713.6" width="3.15" height="55.3" fill="#1010F0"/>
<rect x="1303.00" y="1713.6" width="3.15" height="55.3" fill="#BEBEBE"/>
<rect x="1306.00" y="1713.6" width="7.35" height="55.3" fill="#1818F0"/>
<line x1="1231" y1="1658.3" x2="1231" y2="1768.9" stroke="#4A3040" stroke-width="0.8"/>
<line x1="158.7" y1="1658.3" x2="1313.7" y2="1658.3" stroke="#000" stroke-width="1.5"/>
<line x1="158.7" y1="1713.6" x2="1313.7" y2="1713.6" stroke="#000" stroke-width="1.5"/>
<line x1="158.7" y1="1768.9" x2="1313.7" y2="1768.9" stroke="#000" stroke-width="1.5"/>
<text x="0.4" y="1693.1" font-size="18.9">Dynamic Module</text>
<text x="9.7" y="1748.4" font-size="18.9">Merged Module</text>
</svg>
</body></html>
